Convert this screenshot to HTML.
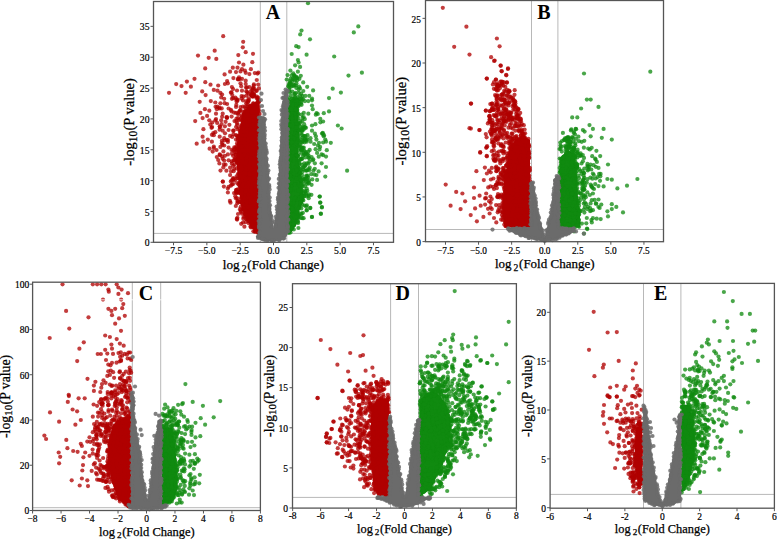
<!DOCTYPE html>
<html><head><meta charset="utf-8"><style>
html,body{margin:0;padding:0;background:#fff;}
svg{display:block;font-family:"Liberation Serif",serif;}
</style></head><body>
<svg width="777" height="539" viewBox="0 0 777 539">
<rect width="777" height="539" fill="#fff"/>
<line x1="153.5" y1="233.4" x2="393.5" y2="233.4" stroke="#b8b8b8" stroke-width="1"/>
<line x1="260.3" y1="1.5" x2="260.3" y2="242.3" stroke="#b8b8b8" stroke-width="1"/>
<line x1="286.8" y1="1.5" x2="286.8" y2="242.3" stroke="#b8b8b8" stroke-width="1"/>
<polygon points="250.0,105.0 259.5,100.0 259.5,233.5 256.9,233.5 251.0,227.0 246.0,219.0 243.0,210.0 240.7,204.0 239.4,191.0 238.0,178.0 236.8,165.0 236.8,152.0 238.0,139.0 240.7,126.0 242.0,113.0" fill="#b00000"/><g fill="rgba(176,0,0,0.76)"><circle cx="251.7" cy="106.1" r="2.1"/><circle cx="253.2" cy="103.3" r="2.1"/><circle cx="256.6" cy="103.3" r="2.1"/><circle cx="258.7" cy="100.4" r="2.1"/><circle cx="259.2" cy="101.3" r="2.1"/><circle cx="257.3" cy="102.7" r="2.1"/><circle cx="258.8" cy="107.1" r="2.1"/><circle cx="257.8" cy="109.9" r="2.1"/><circle cx="258.8" cy="110.5" r="2.1"/><circle cx="259.6" cy="113.9" r="2.1"/><circle cx="257.6" cy="117.7" r="2.1"/><circle cx="257.7" cy="119.6" r="2.1"/><circle cx="258.7" cy="122.4" r="2.1"/><circle cx="257.7" cy="125.0" r="2.1"/><circle cx="258.5" cy="126.9" r="2.1"/><circle cx="258.4" cy="129.1" r="2.1"/><circle cx="258.7" cy="133.2" r="2.1"/><circle cx="257.6" cy="134.3" r="2.1"/><circle cx="257.7" cy="138.7" r="2.1"/><circle cx="257.3" cy="139.7" r="2.1"/><circle cx="259.3" cy="143.2" r="2.1"/><circle cx="259.5" cy="145.3" r="2.1"/><circle cx="257.4" cy="149.2" r="2.1"/><circle cx="258.0" cy="152.1" r="2.1"/><circle cx="258.8" cy="153.7" r="2.1"/><circle cx="259.7" cy="156.7" r="2.1"/><circle cx="258.4" cy="157.7" r="2.1"/><circle cx="257.3" cy="161.1" r="2.1"/><circle cx="259.6" cy="164.6" r="2.1"/><circle cx="259.6" cy="167.0" r="2.1"/><circle cx="258.0" cy="170.6" r="2.1"/><circle cx="258.8" cy="172.7" r="2.1"/><circle cx="257.9" cy="173.4" r="2.1"/><circle cx="258.9" cy="177.7" r="2.1"/><circle cx="257.6" cy="179.1" r="2.1"/><circle cx="258.0" cy="182.0" r="2.1"/><circle cx="258.1" cy="186.1" r="2.1"/><circle cx="257.6" cy="186.7" r="2.1"/><circle cx="257.6" cy="191.5" r="2.1"/><circle cx="259.5" cy="193.4" r="2.1"/><circle cx="257.8" cy="194.5" r="2.1"/><circle cx="257.6" cy="197.2" r="2.1"/><circle cx="258.6" cy="200.1" r="2.1"/><circle cx="258.1" cy="202.7" r="2.1"/><circle cx="259.0" cy="206.4" r="2.1"/><circle cx="258.5" cy="208.6" r="2.1"/><circle cx="257.5" cy="211.6" r="2.1"/><circle cx="259.6" cy="213.7" r="2.1"/><circle cx="258.0" cy="217.6" r="2.1"/><circle cx="258.1" cy="218.2" r="2.1"/><circle cx="257.3" cy="220.5" r="2.1"/><circle cx="257.9" cy="223.7" r="2.1"/><circle cx="258.2" cy="226.6" r="2.1"/><circle cx="257.4" cy="229.7" r="2.1"/><circle cx="257.7" cy="232.1" r="2.1"/><circle cx="258.2" cy="232.9" r="2.1"/><circle cx="255.4" cy="231.7" r="2.1"/><circle cx="255.0" cy="230.6" r="2.1"/><circle cx="252.8" cy="227.3" r="2.1"/><circle cx="250.5" cy="226.6" r="2.1"/><circle cx="248.5" cy="223.1" r="2.1"/><circle cx="248.6" cy="219.1" r="2.1"/><circle cx="245.3" cy="216.5" r="2.1"/><circle cx="244.9" cy="213.9" r="2.1"/><circle cx="244.4" cy="210.2" r="2.1"/><circle cx="243.0" cy="208.6" r="2.1"/><circle cx="242.9" cy="206.1" r="2.1"/><circle cx="242.0" cy="203.2" r="2.1"/><circle cx="240.8" cy="198.9" r="2.1"/><circle cx="241.5" cy="196.9" r="2.1"/><circle cx="241.9" cy="194.6" r="2.1"/><circle cx="240.5" cy="193.5" r="2.1"/><circle cx="241.1" cy="190.4" r="2.1"/><circle cx="240.5" cy="186.4" r="2.1"/><circle cx="238.5" cy="184.4" r="2.1"/><circle cx="239.4" cy="182.9" r="2.1"/><circle cx="238.1" cy="178.2" r="2.1"/><circle cx="240.1" cy="177.3" r="2.1"/><circle cx="239.0" cy="174.1" r="2.1"/><circle cx="239.3" cy="170.8" r="2.1"/><circle cx="239.0" cy="168.0" r="2.1"/><circle cx="239.1" cy="166.5" r="2.1"/><circle cx="237.6" cy="162.7" r="2.1"/><circle cx="236.9" cy="161.9" r="2.1"/><circle cx="237.3" cy="159.4" r="2.1"/><circle cx="237.7" cy="156.7" r="2.1"/><circle cx="238.3" cy="153.6" r="2.1"/><circle cx="237.0" cy="150.2" r="2.1"/><circle cx="238.3" cy="149.3" r="2.1"/><circle cx="239.3" cy="145.2" r="2.1"/><circle cx="239.5" cy="142.8" r="2.1"/><circle cx="239.5" cy="141.5" r="2.1"/><circle cx="238.4" cy="136.5" r="2.1"/><circle cx="240.7" cy="136.2" r="2.1"/><circle cx="240.4" cy="133.5" r="2.1"/><circle cx="239.9" cy="131.1" r="2.1"/><circle cx="242.2" cy="128.2" r="2.1"/><circle cx="241.8" cy="125.6" r="2.1"/><circle cx="242.0" cy="121.0" r="2.1"/><circle cx="243.4" cy="120.7" r="2.1"/><circle cx="241.6" cy="117.0" r="2.1"/><circle cx="241.6" cy="115.5" r="2.1"/><circle cx="243.1" cy="112.0" r="2.1"/><circle cx="245.7" cy="111.0" r="2.1"/><circle cx="248.6" cy="108.9" r="2.1"/><circle cx="248.9" cy="107.2" r="2.1"/></g><g fill="rgba(176,0,0,0.76)"><circle cx="223.2" cy="36.2" r="2.1"/><circle cx="243.2" cy="41.8" r="2.1"/><circle cx="242.8" cy="47.3" r="2.1"/><circle cx="214.7" cy="50.7" r="2.1"/><circle cx="198.0" cy="55.6" r="2.1"/><circle cx="208.7" cy="57.8" r="2.1"/><circle cx="216.3" cy="58.9" r="2.1"/><circle cx="238.3" cy="55.1" r="2.1"/><circle cx="245.7" cy="52.2" r="2.1"/><circle cx="253.0" cy="53.8" r="2.1"/><circle cx="186.9" cy="81.6" r="2.1"/><circle cx="176.2" cy="84.1" r="2.1"/><circle cx="181.5" cy="86.1" r="2.1"/><circle cx="190.9" cy="86.7" r="2.1"/><circle cx="169.0" cy="92.8" r="2.1"/><circle cx="185.7" cy="92.8" r="2.1"/><circle cx="239.0" cy="62.5" r="2.1"/><circle cx="243.4" cy="64.7" r="2.1"/><circle cx="252.3" cy="62.2" r="2.1"/><circle cx="205.2" cy="68.4" r="2.1"/><circle cx="232.8" cy="67.7" r="2.1"/><circle cx="237.5" cy="67.7" r="2.1"/><circle cx="242.0" cy="69.2" r="2.1"/><circle cx="244.9" cy="70.6" r="2.1"/><circle cx="250.9" cy="69.2" r="2.1"/><circle cx="230.1" cy="71.7" r="2.1"/><circle cx="236.0" cy="72.1" r="2.1"/><circle cx="240.5" cy="71.4" r="2.1"/><circle cx="258.3" cy="72.6" r="2.1"/><circle cx="224.6" cy="74.4" r="2.1"/><circle cx="249.4" cy="74.1" r="2.1"/><circle cx="194.5" cy="78.8" r="2.1"/><circle cx="233.4" cy="78.1" r="2.1"/><circle cx="239.0" cy="77.3" r="2.1"/><circle cx="242.0" cy="78.8" r="2.1"/><circle cx="227.1" cy="81.0" r="2.1"/><circle cx="224.9" cy="84.0" r="2.1"/><circle cx="227.9" cy="83.3" r="2.1"/><circle cx="205.3" cy="82.2" r="2.1"/><circle cx="210.5" cy="84.7" r="2.1"/><circle cx="218.2" cy="85.5" r="2.1"/><circle cx="240.5" cy="83.3" r="2.1"/><circle cx="245.7" cy="84.0" r="2.1"/><circle cx="256.8" cy="80.0" r="2.1"/><circle cx="253.8" cy="85.5" r="2.1"/><circle cx="249.4" cy="87.0" r="2.1"/><circle cx="241.2" cy="86.2" r="2.1"/><circle cx="213.8" cy="89.9" r="2.1"/><circle cx="217.5" cy="90.7" r="2.1"/><circle cx="220.4" cy="92.9" r="2.1"/><circle cx="202.2" cy="91.4" r="2.1"/><circle cx="205.6" cy="95.1" r="2.1"/><circle cx="232.3" cy="95.1" r="2.1"/><circle cx="242.0" cy="90.7" r="2.1"/><circle cx="247.2" cy="92.2" r="2.1"/><circle cx="252.3" cy="89.9" r="2.1"/><circle cx="256.8" cy="90.7" r="2.1"/><circle cx="224.2" cy="98.8" r="2.1"/><circle cx="221.2" cy="97.4" r="2.1"/><circle cx="233.1" cy="98.1" r="2.1"/><circle cx="237.5" cy="99.6" r="2.1"/><circle cx="199.7" cy="101.8" r="2.1"/><circle cx="210.8" cy="101.1" r="2.1"/><circle cx="215.3" cy="102.5" r="2.1"/><circle cx="220.4" cy="103.3" r="2.1"/><circle cx="227.1" cy="104.0" r="2.1"/><circle cx="243.4" cy="96.6" r="2.1"/><circle cx="246.4" cy="101.1" r="2.1"/><circle cx="252.3" cy="96.6" r="2.1"/><circle cx="256.8" cy="96.6" r="2.1"/><circle cx="258.3" cy="101.1" r="2.1"/><circle cx="204.9" cy="109.2" r="2.1"/><circle cx="209.3" cy="110.7" r="2.1"/><circle cx="219.7" cy="108.5" r="2.1"/><circle cx="228.6" cy="108.5" r="2.1"/><circle cx="236.0" cy="107.0" r="2.1"/><circle cx="240.5" cy="107.0" r="2.1"/><circle cx="244.9" cy="107.0" r="2.1"/><circle cx="200.4" cy="112.9" r="2.1"/><circle cx="202.6" cy="118.1" r="2.1"/><circle cx="207.1" cy="115.9" r="2.1"/><circle cx="216.0" cy="113.7" r="2.1"/><circle cx="222.7" cy="113.7" r="2.1"/><circle cx="231.6" cy="111.4" r="2.1"/><circle cx="236.0" cy="112.9" r="2.1"/><circle cx="195.2" cy="121.1" r="2.1"/><circle cx="209.3" cy="120.3" r="2.1"/><circle cx="212.3" cy="122.6" r="2.1"/><circle cx="221.2" cy="120.3" r="2.1"/><circle cx="227.1" cy="117.4" r="2.1"/><circle cx="231.6" cy="116.6" r="2.1"/><circle cx="234.5" cy="121.1" r="2.1"/><circle cx="225.6" cy="121.8" r="2.1"/><circle cx="203.4" cy="129.2" r="2.1"/><circle cx="211.5" cy="127.8" r="2.1"/><circle cx="219.7" cy="126.3" r="2.1"/><circle cx="224.9" cy="126.3" r="2.1"/><circle cx="229.4" cy="124.8" r="2.1"/><circle cx="236.0" cy="127.0" r="2.1"/><circle cx="215.3" cy="132.2" r="2.1"/><circle cx="222.7" cy="130.7" r="2.1"/><circle cx="228.6" cy="130.0" r="2.1"/><circle cx="233.1" cy="130.7" r="2.1"/><circle cx="237.5" cy="129.2" r="2.1"/><circle cx="202.6" cy="136.7" r="2.1"/><circle cx="213.8" cy="135.2" r="2.1"/><circle cx="219.7" cy="136.7" r="2.1"/><circle cx="224.2" cy="138.2" r="2.1"/><circle cx="230.1" cy="135.9" r="2.1"/><circle cx="236.0" cy="135.2" r="2.1"/><circle cx="240.5" cy="132.2" r="2.1"/><circle cx="207.8" cy="139.6" r="2.1"/><circle cx="196.7" cy="143.7" r="2.1"/><circle cx="203.4" cy="141.7" r="2.1"/><circle cx="209.6" cy="148.7" r="2.1"/><circle cx="218.2" cy="160.0" r="2.1"/><circle cx="219.7" cy="154.4" r="2.1"/><circle cx="220.4" cy="146.9" r="2.1"/><circle cx="221.9" cy="143.2" r="2.1"/><circle cx="223.4" cy="151.4" r="2.1"/><circle cx="224.9" cy="155.8" r="2.1"/><circle cx="225.6" cy="164.7" r="2.1"/><circle cx="226.4" cy="170.7" r="2.1"/><circle cx="228.6" cy="160.3" r="2.1"/><circle cx="230.1" cy="167.7" r="2.1"/><circle cx="231.6" cy="180.3" r="2.1"/><circle cx="233.1" cy="184.0" r="2.1"/><circle cx="230.1" cy="175.1" r="2.1"/><circle cx="236.0" cy="190.0" r="2.1"/><circle cx="237.5" cy="201.1" r="2.1"/><circle cx="240.5" cy="210.7" r="2.1"/><circle cx="242.0" cy="213.7" r="2.1"/><circle cx="236.8" cy="218.9" r="2.1"/><circle cx="246.4" cy="218.9" r="2.1"/><circle cx="222.7" cy="158.8" r="2.1"/><circle cx="227.9" cy="154.4" r="2.1"/><circle cx="231.6" cy="149.9" r="2.1"/><circle cx="233.1" cy="155.8" r="2.1"/><circle cx="234.5" cy="164.7" r="2.1"/><circle cx="224.2" cy="145.5" r="2.1"/><circle cx="232.0" cy="184.6" r="2.1"/><circle cx="236.7" cy="189.9" r="2.1"/><circle cx="237.9" cy="201.8" r="2.1"/><circle cx="240.9" cy="211.9" r="2.1"/><circle cx="244.5" cy="213.6" r="2.1"/><circle cx="237.1" cy="219.6" r="2.1"/><circle cx="246.6" cy="219.2" r="2.1"/><circle cx="230.8" cy="181.6" r="2.1"/><circle cx="243.9" cy="167.8" r="2.1"/><circle cx="257.3" cy="153.9" r="2.1"/><circle cx="245.5" cy="171.9" r="2.1"/><circle cx="236.3" cy="160.8" r="2.1"/><circle cx="249.0" cy="202.4" r="2.1"/><circle cx="250.8" cy="91.2" r="2.1"/><circle cx="259.0" cy="227.8" r="2.1"/><circle cx="249.6" cy="176.1" r="2.1"/><circle cx="236.4" cy="120.8" r="2.1"/><circle cx="231.9" cy="153.7" r="2.1"/><circle cx="243.6" cy="209.7" r="2.1"/><circle cx="245.8" cy="179.8" r="2.1"/><circle cx="245.2" cy="183.0" r="2.1"/><circle cx="244.0" cy="126.2" r="2.1"/><circle cx="259.4" cy="232.4" r="2.1"/><circle cx="254.9" cy="189.8" r="2.1"/><circle cx="240.0" cy="119.0" r="2.1"/><circle cx="252.8" cy="144.3" r="2.1"/><circle cx="255.1" cy="142.2" r="2.1"/><circle cx="258.3" cy="210.4" r="2.1"/><circle cx="256.9" cy="154.6" r="2.1"/><circle cx="258.9" cy="143.8" r="2.1"/><circle cx="233.1" cy="178.2" r="2.1"/><circle cx="253.2" cy="124.9" r="2.1"/><circle cx="233.5" cy="134.2" r="2.1"/><circle cx="258.5" cy="197.2" r="2.1"/><circle cx="253.7" cy="111.3" r="2.1"/><circle cx="246.9" cy="151.2" r="2.1"/><circle cx="236.4" cy="193.3" r="2.1"/><circle cx="234.7" cy="180.3" r="2.1"/><circle cx="234.3" cy="147.3" r="2.1"/><circle cx="237.1" cy="124.9" r="2.1"/><circle cx="258.7" cy="203.9" r="2.1"/><circle cx="237.0" cy="143.4" r="2.1"/><circle cx="255.3" cy="180.0" r="2.1"/><circle cx="237.1" cy="123.2" r="2.1"/><circle cx="253.0" cy="133.7" r="2.1"/><circle cx="233.6" cy="171.2" r="2.1"/><circle cx="237.9" cy="174.0" r="2.1"/><circle cx="241.6" cy="152.1" r="2.1"/><circle cx="258.3" cy="156.6" r="2.1"/><circle cx="247.4" cy="213.2" r="2.1"/><circle cx="256.9" cy="206.0" r="2.1"/><circle cx="238.1" cy="113.1" r="2.1"/><circle cx="252.1" cy="224.2" r="2.1"/><circle cx="256.1" cy="174.3" r="2.1"/><circle cx="243.0" cy="100.4" r="2.1"/><circle cx="237.8" cy="189.3" r="2.1"/><circle cx="248.0" cy="128.4" r="2.1"/><circle cx="236.0" cy="191.6" r="2.1"/><circle cx="246.9" cy="211.2" r="2.1"/><circle cx="248.5" cy="126.5" r="2.1"/><circle cx="257.1" cy="115.2" r="2.1"/><circle cx="236.0" cy="139.6" r="2.1"/><circle cx="247.3" cy="104.5" r="2.1"/><circle cx="258.9" cy="182.2" r="2.1"/><circle cx="250.7" cy="171.5" r="2.1"/><circle cx="251.0" cy="227.5" r="2.1"/><circle cx="244.7" cy="193.1" r="2.1"/><circle cx="233.1" cy="165.8" r="2.1"/><circle cx="252.0" cy="218.2" r="2.1"/><circle cx="252.0" cy="189.1" r="2.1"/><circle cx="253.6" cy="220.4" r="2.1"/><circle cx="241.0" cy="186.4" r="2.1"/><circle cx="256.7" cy="213.9" r="2.1"/><circle cx="242.9" cy="202.0" r="2.1"/><circle cx="255.6" cy="169.8" r="2.1"/><circle cx="248.8" cy="141.6" r="2.1"/><circle cx="247.6" cy="175.1" r="2.1"/><circle cx="233.3" cy="179.6" r="2.1"/><circle cx="259.3" cy="215.2" r="2.1"/><circle cx="251.8" cy="142.5" r="2.1"/><circle cx="251.9" cy="171.0" r="2.1"/><circle cx="243.6" cy="209.1" r="2.1"/><circle cx="244.7" cy="119.1" r="2.1"/><circle cx="250.9" cy="158.6" r="2.1"/><circle cx="248.5" cy="221.2" r="2.1"/><circle cx="239.6" cy="185.4" r="2.1"/><circle cx="256.8" cy="182.7" r="2.1"/><circle cx="243.6" cy="217.0" r="2.1"/><circle cx="240.3" cy="183.6" r="2.1"/><circle cx="236.7" cy="148.8" r="2.1"/><circle cx="254.0" cy="220.3" r="2.1"/><circle cx="256.1" cy="141.9" r="2.1"/><circle cx="247.6" cy="131.8" r="2.1"/><circle cx="234.9" cy="158.5" r="2.1"/><circle cx="254.9" cy="210.6" r="2.1"/><circle cx="251.3" cy="225.6" r="2.1"/><circle cx="243.8" cy="125.7" r="2.1"/><circle cx="237.1" cy="146.3" r="2.1"/><circle cx="248.8" cy="158.1" r="2.1"/><circle cx="240.0" cy="209.2" r="2.1"/><circle cx="259.0" cy="152.0" r="2.1"/><circle cx="255.9" cy="91.1" r="2.1"/><circle cx="251.2" cy="169.4" r="2.1"/><circle cx="239.8" cy="202.1" r="2.1"/><circle cx="254.6" cy="120.1" r="2.1"/><circle cx="248.9" cy="151.1" r="2.1"/><circle cx="249.0" cy="181.9" r="2.1"/><circle cx="254.0" cy="226.9" r="2.1"/><circle cx="250.5" cy="114.5" r="2.1"/><circle cx="244.5" cy="111.4" r="2.1"/><circle cx="251.4" cy="111.5" r="2.1"/><circle cx="238.8" cy="136.2" r="2.1"/><circle cx="250.9" cy="162.0" r="2.1"/><circle cx="248.5" cy="196.9" r="2.1"/><circle cx="242.2" cy="202.2" r="2.1"/><circle cx="256.8" cy="97.9" r="2.1"/><circle cx="257.6" cy="191.9" r="2.1"/><circle cx="234.7" cy="152.1" r="2.1"/><circle cx="248.8" cy="219.7" r="2.1"/><circle cx="241.7" cy="169.2" r="2.1"/><circle cx="256.1" cy="202.9" r="2.1"/><circle cx="257.9" cy="153.6" r="2.1"/><circle cx="249.6" cy="115.3" r="2.1"/><circle cx="251.6" cy="206.1" r="2.1"/><circle cx="249.3" cy="191.2" r="2.1"/><circle cx="258.9" cy="229.6" r="2.1"/><circle cx="246.3" cy="202.0" r="2.1"/><circle cx="255.4" cy="136.6" r="2.1"/><circle cx="233.4" cy="150.3" r="2.1"/><circle cx="246.7" cy="198.7" r="2.1"/><circle cx="254.1" cy="94.5" r="2.1"/><circle cx="253.8" cy="110.6" r="2.1"/><circle cx="240.5" cy="201.6" r="2.1"/><circle cx="245.7" cy="192.1" r="2.1"/><circle cx="254.9" cy="187.0" r="2.1"/><circle cx="258.0" cy="157.9" r="2.1"/><circle cx="258.1" cy="97.7" r="2.1"/><circle cx="237.3" cy="162.9" r="2.1"/><circle cx="239.3" cy="192.9" r="2.1"/><circle cx="249.2" cy="162.4" r="2.1"/><circle cx="255.0" cy="167.9" r="2.1"/><circle cx="239.9" cy="141.4" r="2.1"/><circle cx="255.1" cy="218.3" r="2.1"/><circle cx="258.6" cy="162.6" r="2.1"/><circle cx="247.3" cy="114.7" r="2.1"/><circle cx="246.3" cy="159.5" r="2.1"/><circle cx="258.6" cy="161.4" r="2.1"/><circle cx="242.4" cy="203.6" r="2.1"/><circle cx="247.0" cy="157.7" r="2.1"/><circle cx="250.7" cy="94.8" r="2.1"/><circle cx="246.4" cy="146.2" r="2.1"/><circle cx="258.3" cy="221.7" r="2.1"/><circle cx="238.7" cy="155.0" r="2.1"/><circle cx="234.6" cy="149.2" r="2.1"/><circle cx="254.2" cy="218.3" r="2.1"/><circle cx="244.6" cy="131.9" r="2.1"/><circle cx="236.5" cy="176.4" r="2.1"/><circle cx="257.4" cy="104.2" r="2.1"/><circle cx="253.2" cy="88.4" r="2.1"/><circle cx="236.5" cy="118.6" r="2.1"/><circle cx="250.6" cy="132.7" r="2.1"/><circle cx="241.1" cy="176.7" r="2.1"/><circle cx="234.5" cy="160.5" r="2.1"/><circle cx="238.1" cy="114.3" r="2.1"/><circle cx="246.1" cy="149.6" r="2.1"/><circle cx="241.7" cy="146.2" r="2.1"/><circle cx="246.1" cy="108.6" r="2.1"/><circle cx="236.8" cy="178.4" r="2.1"/><circle cx="249.2" cy="163.4" r="2.1"/><circle cx="255.3" cy="175.5" r="2.1"/><circle cx="255.4" cy="119.4" r="2.1"/><circle cx="252.1" cy="205.0" r="2.1"/><circle cx="256.7" cy="131.7" r="2.1"/><circle cx="256.3" cy="104.8" r="2.1"/><circle cx="237.8" cy="192.5" r="2.1"/><circle cx="254.7" cy="147.4" r="2.1"/><circle cx="253.5" cy="103.6" r="2.1"/><circle cx="242.5" cy="186.4" r="2.1"/><circle cx="250.4" cy="219.9" r="2.1"/><circle cx="258.6" cy="102.1" r="2.1"/><circle cx="245.4" cy="197.2" r="2.1"/><circle cx="245.3" cy="186.5" r="2.1"/><circle cx="246.7" cy="161.2" r="2.1"/><circle cx="247.2" cy="106.7" r="2.1"/><circle cx="254.9" cy="231.6" r="2.1"/><circle cx="257.4" cy="99.1" r="2.1"/><circle cx="244.2" cy="198.2" r="2.1"/><circle cx="240.3" cy="154.1" r="2.1"/><circle cx="245.7" cy="148.7" r="2.1"/><circle cx="251.0" cy="210.0" r="2.1"/><circle cx="236.2" cy="152.2" r="2.1"/><circle cx="252.1" cy="145.0" r="2.1"/><circle cx="256.5" cy="203.7" r="2.1"/><circle cx="251.1" cy="212.4" r="2.1"/><circle cx="248.9" cy="144.9" r="2.1"/><circle cx="248.1" cy="159.6" r="2.1"/><circle cx="259.0" cy="204.1" r="2.1"/><circle cx="252.2" cy="200.1" r="2.1"/><circle cx="254.2" cy="145.0" r="2.1"/><circle cx="256.6" cy="215.2" r="2.1"/><circle cx="250.8" cy="198.6" r="2.1"/><circle cx="252.8" cy="145.1" r="2.1"/><circle cx="251.6" cy="95.4" r="2.1"/><circle cx="240.7" cy="154.4" r="2.1"/><circle cx="249.2" cy="177.4" r="2.1"/><circle cx="250.0" cy="135.0" r="2.1"/><circle cx="249.8" cy="169.3" r="2.1"/><circle cx="246.2" cy="142.7" r="2.1"/><circle cx="259.5" cy="180.1" r="2.1"/><circle cx="251.0" cy="197.7" r="2.1"/><circle cx="258.9" cy="88.4" r="2.1"/><circle cx="248.5" cy="194.3" r="2.1"/><circle cx="238.3" cy="144.4" r="2.1"/><circle cx="246.7" cy="160.2" r="2.1"/><circle cx="258.6" cy="169.1" r="2.1"/><circle cx="259.4" cy="179.4" r="2.1"/><circle cx="254.1" cy="96.3" r="2.1"/><circle cx="248.0" cy="197.4" r="2.1"/><circle cx="235.6" cy="154.8" r="2.1"/><circle cx="235.8" cy="158.3" r="2.1"/><circle cx="248.4" cy="93.7" r="2.1"/><circle cx="257.9" cy="147.3" r="2.1"/><circle cx="246.0" cy="173.5" r="2.1"/><circle cx="241.4" cy="127.3" r="2.1"/><circle cx="249.7" cy="168.0" r="2.1"/><circle cx="239.1" cy="191.1" r="2.1"/><circle cx="252.3" cy="92.4" r="2.1"/><circle cx="259.2" cy="224.8" r="2.1"/><circle cx="243.2" cy="155.7" r="2.1"/><circle cx="258.7" cy="121.1" r="2.1"/><circle cx="251.6" cy="154.3" r="2.1"/><circle cx="258.9" cy="205.9" r="2.1"/><circle cx="248.2" cy="102.0" r="2.1"/><circle cx="248.8" cy="152.4" r="2.1"/><circle cx="246.1" cy="103.4" r="2.1"/><circle cx="243.6" cy="183.8" r="2.1"/><circle cx="244.0" cy="123.8" r="2.1"/><circle cx="247.6" cy="147.1" r="2.1"/><circle cx="253.2" cy="163.6" r="2.1"/><circle cx="259.4" cy="226.0" r="2.1"/><circle cx="251.9" cy="120.3" r="2.1"/><circle cx="253.4" cy="177.5" r="2.1"/><circle cx="241.2" cy="125.2" r="2.1"/><circle cx="250.5" cy="168.6" r="2.1"/><circle cx="247.9" cy="178.7" r="2.1"/><circle cx="252.5" cy="113.1" r="2.1"/><circle cx="257.1" cy="215.1" r="2.1"/><circle cx="238.7" cy="147.9" r="2.1"/><circle cx="248.8" cy="100.2" r="2.1"/><circle cx="246.4" cy="95.7" r="2.1"/><circle cx="246.7" cy="178.4" r="2.1"/><circle cx="241.6" cy="155.8" r="2.1"/><circle cx="237.0" cy="135.9" r="2.1"/><circle cx="252.2" cy="209.1" r="2.1"/><circle cx="254.1" cy="177.3" r="2.1"/><circle cx="252.9" cy="116.5" r="2.1"/><circle cx="243.1" cy="123.2" r="2.1"/><circle cx="254.1" cy="139.6" r="2.1"/><circle cx="240.3" cy="166.2" r="2.1"/><circle cx="252.3" cy="221.3" r="2.1"/><circle cx="243.2" cy="139.7" r="2.1"/><circle cx="247.1" cy="156.8" r="2.1"/><circle cx="250.5" cy="129.2" r="2.1"/><circle cx="253.1" cy="96.3" r="2.1"/><circle cx="237.1" cy="183.0" r="2.1"/><circle cx="251.7" cy="187.7" r="2.1"/><circle cx="241.2" cy="192.4" r="2.1"/><circle cx="251.2" cy="169.3" r="2.1"/><circle cx="257.2" cy="224.1" r="2.1"/><circle cx="257.0" cy="149.8" r="2.1"/><circle cx="253.9" cy="130.1" r="2.1"/><circle cx="240.1" cy="144.1" r="2.1"/><circle cx="257.6" cy="217.4" r="2.1"/><circle cx="238.1" cy="138.5" r="2.1"/><circle cx="241.4" cy="138.8" r="2.1"/><circle cx="242.3" cy="142.4" r="2.1"/><circle cx="236.6" cy="168.4" r="2.1"/><circle cx="253.7" cy="165.0" r="2.1"/><circle cx="254.8" cy="168.3" r="2.1"/><circle cx="256.1" cy="126.7" r="2.1"/><circle cx="231.6" cy="161.3" r="2.1"/><circle cx="246.5" cy="169.0" r="2.1"/><circle cx="258.5" cy="181.4" r="2.1"/><circle cx="253.9" cy="94.5" r="2.1"/><circle cx="246.6" cy="201.6" r="2.1"/><circle cx="252.0" cy="218.1" r="2.1"/><circle cx="233.4" cy="178.9" r="2.1"/><circle cx="249.5" cy="121.3" r="2.1"/><circle cx="237.3" cy="198.3" r="2.1"/><circle cx="245.9" cy="198.2" r="2.1"/><circle cx="242.2" cy="135.0" r="2.1"/><circle cx="258.6" cy="184.5" r="2.1"/><circle cx="245.1" cy="164.5" r="2.1"/><circle cx="251.5" cy="189.8" r="2.1"/><circle cx="257.1" cy="145.8" r="2.1"/><circle cx="254.5" cy="183.7" r="2.1"/><circle cx="255.3" cy="204.3" r="2.1"/><circle cx="254.8" cy="216.5" r="2.1"/><circle cx="258.3" cy="179.8" r="2.1"/><circle cx="245.9" cy="190.1" r="2.1"/><circle cx="253.9" cy="147.4" r="2.1"/><circle cx="243.0" cy="106.6" r="2.1"/><circle cx="222.8" cy="181.7" r="2.1"/><circle cx="243.9" cy="208.4" r="2.1"/><circle cx="219.2" cy="107.6" r="2.1"/><circle cx="217.3" cy="106.7" r="2.1"/><circle cx="246.3" cy="91.2" r="2.1"/><circle cx="236.3" cy="104.9" r="2.1"/><circle cx="224.6" cy="140.3" r="2.1"/><circle cx="251.5" cy="169.2" r="2.1"/><circle cx="250.1" cy="201.4" r="2.1"/><circle cx="250.9" cy="191.4" r="2.1"/><circle cx="257.0" cy="199.4" r="2.1"/><circle cx="234.1" cy="193.1" r="2.1"/><circle cx="237.9" cy="140.0" r="2.1"/><circle cx="228.0" cy="140.1" r="2.1"/><circle cx="250.6" cy="200.1" r="2.1"/><circle cx="258.8" cy="182.6" r="2.1"/><circle cx="237.4" cy="192.0" r="2.1"/><circle cx="231.9" cy="98.8" r="2.1"/><circle cx="220.0" cy="155.2" r="2.1"/><circle cx="222.5" cy="144.9" r="2.1"/><circle cx="240.0" cy="134.5" r="2.1"/><circle cx="216.5" cy="150.0" r="2.1"/><circle cx="221.7" cy="108.4" r="2.1"/><circle cx="219.6" cy="129.7" r="2.1"/><circle cx="257.2" cy="133.5" r="2.1"/><circle cx="245.6" cy="222.1" r="2.1"/><circle cx="249.9" cy="206.6" r="2.1"/><circle cx="241.6" cy="96.0" r="2.1"/><circle cx="253.9" cy="200.9" r="2.1"/><circle cx="228.6" cy="186.8" r="2.1"/><circle cx="239.9" cy="187.8" r="2.1"/><circle cx="220.5" cy="170.6" r="2.1"/><circle cx="238.8" cy="166.4" r="2.1"/><circle cx="227.8" cy="188.6" r="2.1"/><circle cx="226.9" cy="118.1" r="2.1"/><circle cx="215.6" cy="106.8" r="2.1"/><circle cx="237.5" cy="158.6" r="2.1"/><circle cx="211.9" cy="141.7" r="2.1"/><circle cx="216.0" cy="119.1" r="2.1"/><circle cx="223.3" cy="167.4" r="2.1"/><circle cx="213.8" cy="146.6" r="2.1"/><circle cx="210.3" cy="124.6" r="2.1"/><circle cx="235.6" cy="147.3" r="2.1"/><circle cx="243.1" cy="118.3" r="2.1"/><circle cx="255.1" cy="190.4" r="2.1"/><circle cx="222.8" cy="181.5" r="2.1"/><circle cx="252.0" cy="112.1" r="2.1"/><circle cx="239.1" cy="128.0" r="2.1"/><circle cx="222.1" cy="116.8" r="2.1"/><circle cx="220.1" cy="127.2" r="2.1"/><circle cx="211.9" cy="134.8" r="2.1"/><circle cx="248.3" cy="101.0" r="2.1"/><circle cx="233.8" cy="160.4" r="2.1"/><circle cx="226.5" cy="117.2" r="2.1"/><circle cx="231.5" cy="92.3" r="2.1"/><circle cx="252.7" cy="88.2" r="2.1"/><circle cx="250.8" cy="105.6" r="2.1"/><circle cx="225.0" cy="133.3" r="2.1"/><circle cx="227.9" cy="142.0" r="2.1"/><circle cx="253.4" cy="231.3" r="2.1"/><circle cx="237.0" cy="90.5" r="2.1"/><circle cx="253.0" cy="94.4" r="2.1"/><circle cx="233.7" cy="130.6" r="2.1"/><circle cx="243.0" cy="222.5" r="2.1"/><circle cx="231.8" cy="163.4" r="2.1"/><circle cx="240.7" cy="206.9" r="2.1"/><circle cx="254.4" cy="88.8" r="2.1"/><circle cx="216.8" cy="157.0" r="2.1"/><circle cx="250.2" cy="157.0" r="2.1"/><circle cx="246.0" cy="87.5" r="2.1"/><circle cx="245.4" cy="211.2" r="2.1"/><circle cx="259.5" cy="201.9" r="2.1"/><circle cx="231.0" cy="171.4" r="2.1"/><circle cx="251.2" cy="186.7" r="2.1"/><circle cx="215.4" cy="120.3" r="2.1"/><circle cx="259.3" cy="146.8" r="2.1"/><circle cx="252.2" cy="137.8" r="2.1"/><circle cx="259.2" cy="194.2" r="2.1"/><circle cx="234.0" cy="112.6" r="2.1"/><circle cx="236.6" cy="101.6" r="2.1"/><circle cx="228.6" cy="147.6" r="2.1"/><circle cx="219.4" cy="163.4" r="2.1"/><circle cx="239.1" cy="120.1" r="2.1"/><circle cx="253.8" cy="151.0" r="2.1"/><circle cx="235.8" cy="206.0" r="2.1"/><circle cx="242.1" cy="139.8" r="2.1"/><circle cx="257.5" cy="73.6" r="2.1"/><circle cx="252.7" cy="93.4" r="2.1"/><circle cx="251.6" cy="95.1" r="2.1"/><circle cx="212.7" cy="151.6" r="2.1"/><circle cx="255.8" cy="112.0" r="2.1"/><circle cx="234.1" cy="169.1" r="2.1"/><circle cx="222.1" cy="156.4" r="2.1"/><circle cx="247.6" cy="125.4" r="2.1"/><circle cx="244.7" cy="139.6" r="2.1"/><circle cx="255.2" cy="190.7" r="2.1"/><circle cx="256.1" cy="203.2" r="2.1"/><circle cx="251.1" cy="181.1" r="2.1"/><circle cx="245.7" cy="178.8" r="2.1"/><circle cx="239.2" cy="111.9" r="2.1"/><circle cx="239.5" cy="79.2" r="2.1"/><circle cx="241.8" cy="169.4" r="2.1"/><circle cx="235.3" cy="196.3" r="2.1"/><circle cx="253.4" cy="132.1" r="2.1"/><circle cx="250.3" cy="151.4" r="2.1"/><circle cx="238.3" cy="137.5" r="2.1"/><circle cx="256.2" cy="142.4" r="2.1"/><circle cx="257.1" cy="125.1" r="2.1"/><circle cx="243.3" cy="218.8" r="2.1"/><circle cx="243.8" cy="131.2" r="2.1"/><circle cx="213.8" cy="148.0" r="2.1"/><circle cx="230.5" cy="202.7" r="2.1"/><circle cx="232.2" cy="136.9" r="2.1"/><circle cx="237.9" cy="192.2" r="2.1"/><circle cx="217.2" cy="122.9" r="2.1"/><circle cx="224.6" cy="103.2" r="2.1"/><circle cx="258.2" cy="84.5" r="2.1"/><circle cx="213.3" cy="133.0" r="2.1"/><circle cx="238.0" cy="214.0" r="2.1"/><circle cx="242.6" cy="185.5" r="2.1"/><circle cx="244.7" cy="199.9" r="2.1"/><circle cx="252.2" cy="95.3" r="2.1"/><circle cx="235.7" cy="154.9" r="2.1"/><circle cx="248.7" cy="98.4" r="2.1"/><circle cx="245.0" cy="139.5" r="2.1"/><circle cx="230.9" cy="109.9" r="2.1"/><circle cx="223.9" cy="164.4" r="2.1"/><circle cx="237.4" cy="217.8" r="2.1"/><circle cx="223.9" cy="186.6" r="2.1"/><circle cx="257.8" cy="111.5" r="2.1"/><circle cx="250.0" cy="105.8" r="2.1"/><circle cx="231.9" cy="87.0" r="2.1"/><circle cx="244.9" cy="163.8" r="2.1"/><circle cx="230.8" cy="185.7" r="2.1"/><circle cx="221.6" cy="124.1" r="2.1"/><circle cx="253.9" cy="84.4" r="2.1"/><circle cx="250.5" cy="142.9" r="2.1"/><circle cx="230.9" cy="92.7" r="2.1"/><circle cx="222.1" cy="94.6" r="2.1"/><circle cx="254.8" cy="73.1" r="2.1"/><circle cx="227.9" cy="192.5" r="2.1"/><circle cx="247.0" cy="87.4" r="2.1"/><circle cx="246.7" cy="161.8" r="2.1"/><circle cx="241.2" cy="223.8" r="2.1"/><circle cx="249.5" cy="167.7" r="2.1"/><circle cx="248.1" cy="150.2" r="2.1"/><circle cx="237.3" cy="203.2" r="2.1"/><circle cx="240.7" cy="131.4" r="2.1"/><circle cx="226.8" cy="139.9" r="2.1"/><circle cx="224.2" cy="160.5" r="2.1"/><circle cx="239.4" cy="161.0" r="2.1"/><circle cx="248.8" cy="141.8" r="2.1"/><circle cx="236.6" cy="192.3" r="2.1"/><circle cx="245.8" cy="191.2" r="2.1"/><circle cx="254.1" cy="161.0" r="2.1"/><circle cx="237.5" cy="100.7" r="2.1"/><circle cx="221.9" cy="140.8" r="2.1"/><circle cx="212.1" cy="127.0" r="2.1"/><circle cx="246.6" cy="144.8" r="2.1"/><circle cx="252.0" cy="96.1" r="2.1"/><circle cx="248.2" cy="140.3" r="2.1"/><circle cx="238.1" cy="79.3" r="2.1"/><circle cx="229.9" cy="200.9" r="2.1"/><circle cx="246.4" cy="161.9" r="2.1"/><circle cx="244.6" cy="142.8" r="2.1"/><circle cx="245.8" cy="169.7" r="2.1"/><circle cx="239.0" cy="143.0" r="2.1"/><circle cx="256.3" cy="153.5" r="2.1"/><circle cx="249.5" cy="174.2" r="2.1"/><circle cx="253.1" cy="145.9" r="2.1"/><circle cx="245.7" cy="72.8" r="2.1"/><circle cx="238.0" cy="118.1" r="2.1"/><circle cx="244.4" cy="226.7" r="2.1"/><circle cx="243.0" cy="150.5" r="2.1"/><circle cx="239.9" cy="110.5" r="2.1"/><circle cx="233.1" cy="89.0" r="2.1"/><circle cx="245.7" cy="80.7" r="2.1"/><circle cx="236.1" cy="99.3" r="2.1"/><circle cx="237.9" cy="79.2" r="2.1"/><circle cx="245.6" cy="214.8" r="2.1"/><circle cx="241.5" cy="98.6" r="2.1"/><circle cx="216.9" cy="109.2" r="2.1"/><circle cx="235.9" cy="198.3" r="2.1"/><circle cx="245.2" cy="163.2" r="2.1"/><circle cx="235.4" cy="97.6" r="2.1"/><circle cx="240.6" cy="110.0" r="2.1"/></g><polygon points="287.9,100.0 298.0,98.0 298.6,105.0 298.6,120.3 299.4,141.0 297.8,155.8 300.8,170.7 302.3,185.5 303.6,195.0 304.6,200.1 301.5,205.3 299.5,210.4 299.5,215.6 297.4,220.7 295.4,225.9 292.3,231.0 289.2,234.1 287.9,234.1" fill="#108a10"/><g fill="rgba(16,138,16,0.76)"><circle cx="288.9" cy="101.6" r="2.1"/><circle cx="292.9" cy="100.9" r="2.1"/><circle cx="297.5" cy="99.3" r="2.1"/><circle cx="298.3" cy="99.9" r="2.1"/><circle cx="296.8" cy="104.8" r="2.1"/><circle cx="298.6" cy="106.1" r="2.1"/><circle cx="297.2" cy="109.4" r="2.1"/><circle cx="298.2" cy="113.6" r="2.1"/><circle cx="298.2" cy="115.1" r="2.1"/><circle cx="298.3" cy="118.5" r="2.1"/><circle cx="298.3" cy="122.9" r="2.1"/><circle cx="298.8" cy="124.9" r="2.1"/><circle cx="298.9" cy="128.4" r="2.1"/><circle cx="297.9" cy="129.4" r="2.1"/><circle cx="297.9" cy="134.9" r="2.1"/><circle cx="298.4" cy="137.3" r="2.1"/><circle cx="299.0" cy="140.9" r="2.1"/><circle cx="298.2" cy="140.9" r="2.1"/><circle cx="298.6" cy="145.4" r="2.1"/><circle cx="297.5" cy="147.0" r="2.1"/><circle cx="298.2" cy="150.6" r="2.1"/><circle cx="295.7" cy="155.5" r="2.1"/><circle cx="298.1" cy="156.2" r="2.1"/><circle cx="297.9" cy="161.2" r="2.1"/><circle cx="299.5" cy="164.0" r="2.1"/><circle cx="298.6" cy="167.8" r="2.1"/><circle cx="300.8" cy="170.3" r="2.1"/><circle cx="299.2" cy="172.5" r="2.1"/><circle cx="299.7" cy="173.9" r="2.1"/><circle cx="300.4" cy="178.3" r="2.1"/><circle cx="301.1" cy="181.3" r="2.1"/><circle cx="301.4" cy="184.9" r="2.1"/><circle cx="300.9" cy="187.7" r="2.1"/><circle cx="302.5" cy="190.6" r="2.1"/><circle cx="301.4" cy="194.9" r="2.1"/><circle cx="303.6" cy="196.3" r="2.1"/><circle cx="303.3" cy="200.4" r="2.1"/><circle cx="300.4" cy="202.9" r="2.1"/><circle cx="299.7" cy="206.6" r="2.1"/><circle cx="299.4" cy="208.0" r="2.1"/><circle cx="298.4" cy="215.0" r="2.1"/><circle cx="299.0" cy="215.5" r="2.1"/><circle cx="297.4" cy="217.8" r="2.1"/><circle cx="294.8" cy="222.4" r="2.1"/><circle cx="294.6" cy="222.7" r="2.1"/><circle cx="293.3" cy="225.5" r="2.1"/><circle cx="291.9" cy="228.6" r="2.1"/><circle cx="290.5" cy="232.5" r="2.1"/><circle cx="288.5" cy="232.2" r="2.1"/><circle cx="288.9" cy="232.9" r="2.1"/><circle cx="290.0" cy="230.3" r="2.1"/><circle cx="288.8" cy="228.3" r="2.1"/><circle cx="289.7" cy="224.2" r="2.1"/><circle cx="288.4" cy="222.6" r="2.1"/><circle cx="288.2" cy="218.6" r="2.1"/><circle cx="289.9" cy="215.9" r="2.1"/><circle cx="288.3" cy="215.7" r="2.1"/><circle cx="288.3" cy="212.6" r="2.1"/><circle cx="289.6" cy="208.8" r="2.1"/><circle cx="288.0" cy="206.6" r="2.1"/><circle cx="288.4" cy="205.0" r="2.1"/><circle cx="288.0" cy="201.7" r="2.1"/><circle cx="289.1" cy="199.6" r="2.1"/><circle cx="289.3" cy="196.1" r="2.1"/><circle cx="288.0" cy="192.5" r="2.1"/><circle cx="288.3" cy="191.7" r="2.1"/><circle cx="289.7" cy="187.3" r="2.1"/><circle cx="288.2" cy="186.4" r="2.1"/><circle cx="287.7" cy="183.1" r="2.1"/><circle cx="289.0" cy="180.5" r="2.1"/><circle cx="290.0" cy="177.5" r="2.1"/><circle cx="289.9" cy="174.4" r="2.1"/><circle cx="289.2" cy="172.6" r="2.1"/><circle cx="290.0" cy="169.0" r="2.1"/><circle cx="289.9" cy="166.1" r="2.1"/><circle cx="288.6" cy="165.0" r="2.1"/><circle cx="289.2" cy="161.7" r="2.1"/><circle cx="288.8" cy="158.4" r="2.1"/><circle cx="290.1" cy="155.4" r="2.1"/><circle cx="289.9" cy="152.9" r="2.1"/><circle cx="288.8" cy="151.3" r="2.1"/><circle cx="288.2" cy="149.4" r="2.1"/><circle cx="288.2" cy="144.9" r="2.1"/><circle cx="289.2" cy="144.1" r="2.1"/><circle cx="287.9" cy="140.3" r="2.1"/><circle cx="288.6" cy="137.3" r="2.1"/><circle cx="289.2" cy="134.8" r="2.1"/><circle cx="288.1" cy="131.6" r="2.1"/><circle cx="289.0" cy="130.4" r="2.1"/><circle cx="289.6" cy="126.5" r="2.1"/><circle cx="289.9" cy="125.1" r="2.1"/><circle cx="289.8" cy="121.5" r="2.1"/><circle cx="289.4" cy="118.4" r="2.1"/><circle cx="288.3" cy="116.7" r="2.1"/><circle cx="290.0" cy="113.2" r="2.1"/><circle cx="289.0" cy="112.0" r="2.1"/><circle cx="289.1" cy="109.8" r="2.1"/><circle cx="288.2" cy="106.6" r="2.1"/><circle cx="287.9" cy="104.6" r="2.1"/><circle cx="289.0" cy="101.6" r="2.1"/></g><g fill="rgba(16,138,16,0.76)"><circle cx="308.0" cy="3.2" r="2.1"/><circle cx="301.5" cy="30.6" r="2.1"/><circle cx="300.2" cy="34.4" r="2.1"/><circle cx="310.0" cy="39.3" r="2.1"/><circle cx="358.3" cy="26.4" r="2.1"/><circle cx="353.8" cy="32.4" r="2.1"/><circle cx="296.2" cy="46.2" r="2.1"/><circle cx="298.6" cy="47.1" r="2.1"/><circle cx="291.7" cy="54.0" r="2.1"/><circle cx="306.6" cy="54.7" r="2.1"/><circle cx="334.2" cy="56.5" r="2.1"/><circle cx="297.9" cy="60.0" r="2.1"/><circle cx="361.9" cy="72.7" r="2.1"/><circle cx="348.5" cy="75.6" r="2.1"/><circle cx="298.6" cy="62.5" r="2.1"/><circle cx="300.1" cy="66.9" r="2.1"/><circle cx="290.4" cy="70.6" r="2.1"/><circle cx="297.9" cy="71.7" r="2.1"/><circle cx="287.5" cy="75.1" r="2.1"/><circle cx="294.2" cy="75.1" r="2.1"/><circle cx="300.8" cy="75.8" r="2.1"/><circle cx="286.7" cy="79.5" r="2.1"/><circle cx="292.7" cy="78.8" r="2.1"/><circle cx="299.4" cy="78.8" r="2.1"/><circle cx="290.4" cy="83.3" r="2.1"/><circle cx="296.4" cy="83.3" r="2.1"/><circle cx="288.2" cy="86.2" r="2.1"/><circle cx="300.1" cy="88.4" r="2.1"/><circle cx="313.1" cy="90.4" r="2.1"/><circle cx="332.7" cy="88.7" r="2.1"/><circle cx="340.9" cy="92.6" r="2.1"/><circle cx="289.7" cy="92.2" r="2.1"/><circle cx="295.6" cy="92.9" r="2.1"/><circle cx="302.3" cy="95.9" r="2.1"/><circle cx="305.3" cy="95.9" r="2.1"/><circle cx="329.0" cy="98.1" r="2.1"/><circle cx="289.0" cy="98.1" r="2.1"/><circle cx="294.2" cy="98.8" r="2.1"/><circle cx="298.6" cy="101.1" r="2.1"/><circle cx="308.3" cy="101.1" r="2.1"/><circle cx="312.0" cy="100.3" r="2.1"/><circle cx="301.6" cy="104.8" r="2.1"/><circle cx="312.0" cy="105.5" r="2.1"/><circle cx="312.7" cy="109.2" r="2.1"/><circle cx="292.7" cy="105.5" r="2.1"/><circle cx="329.0" cy="111.4" r="2.1"/><circle cx="323.8" cy="113.2" r="2.1"/><circle cx="303.8" cy="112.9" r="2.1"/><circle cx="308.3" cy="113.7" r="2.1"/><circle cx="295.6" cy="111.4" r="2.1"/><circle cx="323.1" cy="121.5" r="2.1"/><circle cx="302.3" cy="121.1" r="2.1"/><circle cx="312.0" cy="125.5" r="2.1"/><circle cx="337.9" cy="125.5" r="2.1"/><circle cx="341.6" cy="128.5" r="2.1"/><circle cx="298.6" cy="124.1" r="2.1"/><circle cx="306.0" cy="127.8" r="2.1"/><circle cx="312.0" cy="130.7" r="2.1"/><circle cx="314.9" cy="133.7" r="2.1"/><circle cx="301.6" cy="130.7" r="2.1"/><circle cx="307.5" cy="135.2" r="2.1"/><circle cx="310.5" cy="138.2" r="2.1"/><circle cx="316.4" cy="139.6" r="2.1"/><circle cx="325.3" cy="139.6" r="2.1"/><circle cx="297.1" cy="135.2" r="2.1"/><circle cx="301.6" cy="139.6" r="2.1"/><circle cx="300.8" cy="142.5" r="2.1"/><circle cx="306.7" cy="141.7" r="2.1"/><circle cx="314.2" cy="144.0" r="2.1"/><circle cx="317.9" cy="145.5" r="2.1"/><circle cx="323.1" cy="142.5" r="2.1"/><circle cx="326.0" cy="141.7" r="2.1"/><circle cx="330.8" cy="142.8" r="2.1"/><circle cx="303.8" cy="147.7" r="2.1"/><circle cx="309.7" cy="149.9" r="2.1"/><circle cx="315.6" cy="149.2" r="2.1"/><circle cx="320.1" cy="146.9" r="2.1"/><circle cx="326.8" cy="150.2" r="2.1"/><circle cx="307.5" cy="154.4" r="2.1"/><circle cx="317.1" cy="152.9" r="2.1"/><circle cx="323.1" cy="155.1" r="2.1"/><circle cx="326.0" cy="156.6" r="2.1"/><circle cx="298.6" cy="154.4" r="2.1"/><circle cx="302.3" cy="158.8" r="2.1"/><circle cx="312.7" cy="160.3" r="2.1"/><circle cx="306.7" cy="163.3" r="2.1"/><circle cx="314.9" cy="163.3" r="2.1"/><circle cx="321.6" cy="163.3" r="2.1"/><circle cx="326.0" cy="167.0" r="2.1"/><circle cx="303.8" cy="167.0" r="2.1"/><circle cx="309.7" cy="167.7" r="2.1"/><circle cx="313.4" cy="170.7" r="2.1"/><circle cx="318.6" cy="171.4" r="2.1"/><circle cx="347.1" cy="170.7" r="2.1"/><circle cx="325.3" cy="176.6" r="2.1"/><circle cx="316.4" cy="175.1" r="2.1"/><circle cx="317.1" cy="179.9" r="2.1"/><circle cx="306.7" cy="176.6" r="2.1"/><circle cx="309.0" cy="180.3" r="2.1"/><circle cx="311.6" cy="184.8" r="2.1"/><circle cx="306.7" cy="188.5" r="2.1"/><circle cx="309.0" cy="194.4" r="2.1"/><circle cx="305.3" cy="191.4" r="2.1"/><circle cx="319.8" cy="196.6" r="2.1"/><circle cx="320.4" cy="202.6" r="2.1"/><circle cx="321.9" cy="207.0" r="2.1"/><circle cx="310.2" cy="208.1" r="2.1"/><circle cx="306.7" cy="210.0" r="2.1"/><circle cx="320.8" cy="213.7" r="2.1"/><circle cx="311.9" cy="217.0" r="2.1"/><circle cx="302.3" cy="218.2" r="2.1"/><circle cx="300.8" cy="213.7" r="2.1"/><circle cx="302.3" cy="204.8" r="2.1"/><circle cx="308.7" cy="196.0" r="2.1"/><circle cx="319.6" cy="196.5" r="2.1"/><circle cx="320.1" cy="202.7" r="2.1"/><circle cx="321.9" cy="207.4" r="2.1"/><circle cx="310.3" cy="207.9" r="2.1"/><circle cx="306.7" cy="210.4" r="2.1"/><circle cx="320.9" cy="213.8" r="2.1"/><circle cx="312.0" cy="216.9" r="2.1"/><circle cx="303.6" cy="218.2" r="2.1"/><circle cx="298.4" cy="228.0" r="2.1"/><circle cx="293.8" cy="229.5" r="2.1"/><circle cx="301.5" cy="214.1" r="2.1"/><circle cx="297.9" cy="221.3" r="2.1"/><circle cx="298.4" cy="178.5" r="2.1"/><circle cx="288.1" cy="132.7" r="2.1"/><circle cx="294.0" cy="203.3" r="2.1"/><circle cx="303.2" cy="169.4" r="2.1"/><circle cx="300.2" cy="179.1" r="2.1"/><circle cx="291.1" cy="143.3" r="2.1"/><circle cx="291.5" cy="218.8" r="2.1"/><circle cx="289.2" cy="204.6" r="2.1"/><circle cx="289.5" cy="183.3" r="2.1"/><circle cx="295.3" cy="137.5" r="2.1"/><circle cx="289.2" cy="220.2" r="2.1"/><circle cx="299.1" cy="86.7" r="2.1"/><circle cx="290.4" cy="140.6" r="2.1"/><circle cx="290.9" cy="122.6" r="2.1"/><circle cx="301.6" cy="98.5" r="2.1"/><circle cx="291.7" cy="204.1" r="2.1"/><circle cx="296.8" cy="139.9" r="2.1"/><circle cx="301.1" cy="149.2" r="2.1"/><circle cx="296.4" cy="76.9" r="2.1"/><circle cx="295.8" cy="130.8" r="2.1"/><circle cx="303.2" cy="181.2" r="2.1"/><circle cx="290.4" cy="110.1" r="2.1"/><circle cx="295.9" cy="154.8" r="2.1"/><circle cx="305.8" cy="153.0" r="2.1"/><circle cx="288.5" cy="205.3" r="2.1"/><circle cx="297.4" cy="156.1" r="2.1"/><circle cx="292.8" cy="141.2" r="2.1"/><circle cx="296.5" cy="197.1" r="2.1"/><circle cx="290.2" cy="161.1" r="2.1"/><circle cx="291.8" cy="184.7" r="2.1"/><circle cx="288.7" cy="116.8" r="2.1"/><circle cx="295.5" cy="175.2" r="2.1"/><circle cx="289.1" cy="146.4" r="2.1"/><circle cx="292.5" cy="117.7" r="2.1"/><circle cx="291.6" cy="221.7" r="2.1"/><circle cx="295.9" cy="102.7" r="2.1"/><circle cx="288.0" cy="115.5" r="2.1"/><circle cx="304.9" cy="127.4" r="2.1"/><circle cx="293.2" cy="73.4" r="2.1"/><circle cx="288.8" cy="172.3" r="2.1"/><circle cx="295.0" cy="199.6" r="2.1"/><circle cx="306.3" cy="175.6" r="2.1"/><circle cx="293.0" cy="157.4" r="2.1"/><circle cx="298.5" cy="173.6" r="2.1"/><circle cx="293.7" cy="225.4" r="2.1"/><circle cx="294.3" cy="213.5" r="2.1"/><circle cx="294.1" cy="224.9" r="2.1"/><circle cx="299.3" cy="184.7" r="2.1"/><circle cx="294.2" cy="113.3" r="2.1"/><circle cx="303.0" cy="184.4" r="2.1"/><circle cx="290.8" cy="215.6" r="2.1"/><circle cx="297.2" cy="111.1" r="2.1"/><circle cx="300.3" cy="173.2" r="2.1"/><circle cx="304.7" cy="139.7" r="2.1"/><circle cx="300.9" cy="218.0" r="2.1"/><circle cx="305.3" cy="166.0" r="2.1"/><circle cx="295.6" cy="131.7" r="2.1"/><circle cx="304.2" cy="163.3" r="2.1"/><circle cx="288.3" cy="187.0" r="2.1"/><circle cx="299.7" cy="199.8" r="2.1"/><circle cx="296.3" cy="87.9" r="2.1"/><circle cx="295.7" cy="122.6" r="2.1"/><circle cx="308.5" cy="183.6" r="2.1"/><circle cx="299.9" cy="172.8" r="2.1"/><circle cx="290.7" cy="158.5" r="2.1"/><circle cx="303.4" cy="135.9" r="2.1"/><circle cx="293.3" cy="137.9" r="2.1"/><circle cx="295.1" cy="183.0" r="2.1"/><circle cx="291.0" cy="86.7" r="2.1"/><circle cx="294.8" cy="184.7" r="2.1"/><circle cx="304.7" cy="178.8" r="2.1"/><circle cx="288.6" cy="151.0" r="2.1"/><circle cx="297.7" cy="101.1" r="2.1"/><circle cx="302.6" cy="127.3" r="2.1"/><circle cx="293.2" cy="125.0" r="2.1"/><circle cx="295.9" cy="117.3" r="2.1"/><circle cx="292.3" cy="142.1" r="2.1"/><circle cx="292.8" cy="220.9" r="2.1"/><circle cx="299.0" cy="185.1" r="2.1"/><circle cx="291.5" cy="147.3" r="2.1"/><circle cx="301.3" cy="208.5" r="2.1"/><circle cx="293.4" cy="146.5" r="2.1"/><circle cx="292.9" cy="159.2" r="2.1"/><circle cx="304.7" cy="136.0" r="2.1"/><circle cx="302.8" cy="179.5" r="2.1"/><circle cx="309.4" cy="161.7" r="2.1"/><circle cx="302.9" cy="128.7" r="2.1"/><circle cx="304.1" cy="124.2" r="2.1"/><circle cx="298.9" cy="130.5" r="2.1"/><circle cx="294.7" cy="94.0" r="2.1"/><circle cx="292.9" cy="160.2" r="2.1"/><circle cx="293.5" cy="79.4" r="2.1"/><circle cx="308.6" cy="169.0" r="2.1"/><circle cx="296.5" cy="213.4" r="2.1"/><circle cx="290.7" cy="175.8" r="2.1"/><circle cx="306.5" cy="170.6" r="2.1"/><circle cx="305.2" cy="138.8" r="2.1"/><circle cx="301.6" cy="114.6" r="2.1"/><circle cx="296.9" cy="133.5" r="2.1"/><circle cx="296.4" cy="136.7" r="2.1"/><circle cx="292.4" cy="113.3" r="2.1"/><circle cx="289.1" cy="207.3" r="2.1"/><circle cx="295.8" cy="191.0" r="2.1"/><circle cx="294.7" cy="94.2" r="2.1"/><circle cx="292.6" cy="214.5" r="2.1"/><circle cx="288.4" cy="122.0" r="2.1"/><circle cx="288.2" cy="99.7" r="2.1"/><circle cx="291.5" cy="188.0" r="2.1"/><circle cx="294.5" cy="102.8" r="2.1"/><circle cx="292.0" cy="122.5" r="2.1"/><circle cx="307.0" cy="170.3" r="2.1"/><circle cx="290.2" cy="183.0" r="2.1"/><circle cx="299.8" cy="144.6" r="2.1"/><circle cx="299.6" cy="177.5" r="2.1"/><circle cx="305.6" cy="153.9" r="2.1"/><circle cx="301.9" cy="147.7" r="2.1"/><circle cx="301.9" cy="134.9" r="2.1"/><circle cx="297.1" cy="155.7" r="2.1"/><circle cx="303.7" cy="117.1" r="2.1"/><circle cx="308.3" cy="151.6" r="2.1"/><circle cx="306.8" cy="183.8" r="2.1"/><circle cx="309.0" cy="182.6" r="2.1"/><circle cx="297.3" cy="137.8" r="2.1"/><circle cx="301.3" cy="194.1" r="2.1"/><circle cx="289.3" cy="89.5" r="2.1"/><circle cx="289.8" cy="81.1" r="2.1"/><circle cx="288.1" cy="112.4" r="2.1"/><circle cx="290.4" cy="183.0" r="2.1"/><circle cx="292.9" cy="222.0" r="2.1"/><circle cx="298.4" cy="105.5" r="2.1"/><circle cx="304.6" cy="140.6" r="2.1"/><circle cx="299.9" cy="123.2" r="2.1"/><circle cx="293.2" cy="86.1" r="2.1"/><circle cx="294.5" cy="221.6" r="2.1"/><circle cx="301.2" cy="180.4" r="2.1"/><circle cx="288.2" cy="109.0" r="2.1"/><circle cx="298.6" cy="190.4" r="2.1"/><circle cx="306.2" cy="194.7" r="2.1"/><circle cx="295.4" cy="133.8" r="2.1"/><circle cx="298.6" cy="103.6" r="2.1"/><circle cx="301.7" cy="158.8" r="2.1"/><circle cx="295.9" cy="109.3" r="2.1"/><circle cx="296.4" cy="171.2" r="2.1"/><circle cx="290.7" cy="159.6" r="2.1"/><circle cx="293.5" cy="139.8" r="2.1"/><circle cx="290.2" cy="191.4" r="2.1"/><circle cx="301.9" cy="100.0" r="2.1"/><circle cx="300.0" cy="168.5" r="2.1"/><circle cx="300.7" cy="133.3" r="2.1"/><circle cx="294.7" cy="129.5" r="2.1"/><circle cx="299.0" cy="146.5" r="2.1"/><circle cx="291.7" cy="136.8" r="2.1"/><circle cx="292.4" cy="124.2" r="2.1"/><circle cx="296.0" cy="128.7" r="2.1"/><circle cx="295.2" cy="178.5" r="2.1"/><circle cx="296.7" cy="155.5" r="2.1"/><circle cx="293.4" cy="203.2" r="2.1"/><circle cx="291.7" cy="143.0" r="2.1"/><circle cx="294.1" cy="208.3" r="2.1"/><circle cx="293.1" cy="103.8" r="2.1"/><circle cx="302.0" cy="175.2" r="2.1"/><circle cx="300.9" cy="149.6" r="2.1"/><circle cx="298.2" cy="130.2" r="2.1"/><circle cx="303.7" cy="193.7" r="2.1"/><circle cx="293.2" cy="157.2" r="2.1"/><circle cx="304.0" cy="153.3" r="2.1"/><circle cx="302.5" cy="171.8" r="2.1"/><circle cx="303.7" cy="129.6" r="2.1"/><circle cx="294.7" cy="76.0" r="2.1"/><circle cx="306.4" cy="140.2" r="2.1"/><circle cx="294.8" cy="114.0" r="2.1"/><circle cx="297.0" cy="80.4" r="2.1"/><circle cx="289.0" cy="90.9" r="2.1"/><circle cx="294.7" cy="97.7" r="2.1"/><circle cx="290.6" cy="206.8" r="2.1"/><circle cx="296.3" cy="151.4" r="2.1"/><circle cx="291.1" cy="108.9" r="2.1"/><circle cx="308.5" cy="157.6" r="2.1"/><circle cx="296.0" cy="102.6" r="2.1"/><circle cx="300.1" cy="200.2" r="2.1"/><circle cx="293.7" cy="158.5" r="2.1"/><circle cx="301.5" cy="102.0" r="2.1"/><circle cx="302.1" cy="142.6" r="2.1"/><circle cx="288.4" cy="152.0" r="2.1"/><circle cx="295.8" cy="136.8" r="2.1"/><circle cx="289.6" cy="221.1" r="2.1"/><circle cx="299.4" cy="163.0" r="2.1"/><circle cx="300.0" cy="160.1" r="2.1"/><circle cx="305.5" cy="157.5" r="2.1"/><circle cx="292.8" cy="138.0" r="2.1"/><circle cx="305.6" cy="193.0" r="2.1"/><circle cx="299.5" cy="197.9" r="2.1"/><circle cx="302.9" cy="212.8" r="2.1"/><circle cx="302.3" cy="130.9" r="2.1"/><circle cx="294.2" cy="85.3" r="2.1"/><circle cx="290.6" cy="78.9" r="2.1"/><circle cx="301.2" cy="93.7" r="2.1"/><circle cx="309.3" cy="158.3" r="2.1"/><circle cx="291.8" cy="205.9" r="2.1"/><circle cx="292.8" cy="137.2" r="2.1"/><circle cx="302.5" cy="117.8" r="2.1"/><circle cx="300.5" cy="185.6" r="2.1"/><circle cx="304.5" cy="205.5" r="2.1"/><circle cx="304.6" cy="142.3" r="2.1"/><circle cx="291.6" cy="75.4" r="2.1"/><circle cx="301.7" cy="130.0" r="2.1"/><circle cx="290.0" cy="151.4" r="2.1"/><circle cx="297.1" cy="124.7" r="2.1"/><circle cx="300.4" cy="159.3" r="2.1"/><circle cx="294.9" cy="223.0" r="2.1"/><circle cx="302.5" cy="186.5" r="2.1"/><circle cx="292.4" cy="91.7" r="2.1"/><circle cx="291.8" cy="141.8" r="2.1"/><circle cx="306.0" cy="182.0" r="2.1"/><circle cx="297.6" cy="219.7" r="2.1"/><circle cx="294.9" cy="80.3" r="2.1"/><circle cx="302.5" cy="149.8" r="2.1"/><circle cx="292.4" cy="107.5" r="2.1"/><circle cx="289.4" cy="87.2" r="2.1"/><circle cx="298.5" cy="217.2" r="2.1"/><circle cx="308.5" cy="155.3" r="2.1"/><circle cx="302.8" cy="147.8" r="2.1"/><circle cx="305.1" cy="186.4" r="2.1"/><circle cx="302.9" cy="167.6" r="2.1"/><circle cx="291.6" cy="148.4" r="2.1"/><circle cx="297.8" cy="97.0" r="2.1"/><circle cx="292.4" cy="138.6" r="2.1"/><circle cx="291.8" cy="173.1" r="2.1"/><circle cx="303.0" cy="155.7" r="2.1"/><circle cx="297.5" cy="135.4" r="2.1"/><circle cx="292.3" cy="228.0" r="2.1"/><circle cx="308.1" cy="177.3" r="2.1"/><circle cx="299.9" cy="99.1" r="2.1"/><circle cx="295.1" cy="167.1" r="2.1"/><circle cx="291.7" cy="109.8" r="2.1"/><circle cx="304.0" cy="150.5" r="2.1"/><circle cx="289.9" cy="224.0" r="2.1"/><circle cx="301.4" cy="184.3" r="2.1"/><circle cx="300.2" cy="96.1" r="2.1"/><circle cx="294.0" cy="161.0" r="2.1"/><circle cx="293.4" cy="211.3" r="2.1"/><circle cx="293.7" cy="84.8" r="2.1"/><circle cx="291.5" cy="116.0" r="2.1"/><circle cx="302.7" cy="141.1" r="2.1"/><circle cx="288.8" cy="206.7" r="2.1"/><circle cx="290.7" cy="104.4" r="2.1"/><circle cx="297.5" cy="211.7" r="2.1"/><circle cx="291.9" cy="82.1" r="2.1"/><circle cx="291.8" cy="182.2" r="2.1"/><circle cx="297.7" cy="104.5" r="2.1"/><circle cx="314.4" cy="174.6" r="2.1"/><circle cx="298.8" cy="179.1" r="2.1"/><circle cx="302.2" cy="195.3" r="2.1"/><circle cx="292.2" cy="98.8" r="2.1"/><circle cx="320.4" cy="122.3" r="2.1"/><circle cx="297.3" cy="199.9" r="2.1"/><circle cx="307.8" cy="175.5" r="2.1"/><circle cx="293.9" cy="173.4" r="2.1"/><circle cx="292.3" cy="118.6" r="2.1"/><circle cx="290.9" cy="95.6" r="2.1"/><circle cx="323.7" cy="136.3" r="2.1"/><circle cx="309.2" cy="170.3" r="2.1"/><circle cx="294.4" cy="76.5" r="2.1"/><circle cx="319.5" cy="149.4" r="2.1"/><circle cx="294.9" cy="138.8" r="2.1"/><circle cx="295.8" cy="198.9" r="2.1"/><circle cx="305.2" cy="179.3" r="2.1"/><circle cx="307.2" cy="139.2" r="2.1"/><circle cx="305.4" cy="136.0" r="2.1"/><circle cx="305.0" cy="101.1" r="2.1"/><circle cx="290.3" cy="84.9" r="2.1"/><circle cx="313.3" cy="159.4" r="2.1"/><circle cx="288.6" cy="182.7" r="2.1"/><circle cx="322.0" cy="133.6" r="2.1"/><circle cx="300.4" cy="159.1" r="2.1"/><circle cx="298.8" cy="92.8" r="2.1"/><circle cx="310.6" cy="141.7" r="2.1"/><circle cx="297.1" cy="127.5" r="2.1"/><circle cx="289.2" cy="114.4" r="2.1"/><circle cx="298.1" cy="222.9" r="2.1"/><circle cx="300.8" cy="103.8" r="2.1"/><circle cx="289.2" cy="85.4" r="2.1"/><circle cx="295.1" cy="100.0" r="2.1"/><circle cx="296.9" cy="165.1" r="2.1"/><circle cx="315.4" cy="124.2" r="2.1"/><circle cx="308.2" cy="163.7" r="2.1"/><circle cx="306.2" cy="206.4" r="2.1"/><circle cx="301.1" cy="126.8" r="2.1"/><circle cx="315.8" cy="114.7" r="2.1"/><circle cx="296.8" cy="222.5" r="2.1"/><circle cx="304.8" cy="119.1" r="2.1"/><circle cx="297.4" cy="78.0" r="2.1"/><circle cx="295.1" cy="180.5" r="2.1"/><circle cx="293.0" cy="105.0" r="2.1"/><circle cx="304.1" cy="154.8" r="2.1"/><circle cx="301.6" cy="196.6" r="2.1"/><circle cx="297.2" cy="124.1" r="2.1"/><circle cx="303.2" cy="82.4" r="2.1"/><circle cx="295.9" cy="85.5" r="2.1"/><circle cx="312.0" cy="98.6" r="2.1"/><circle cx="311.3" cy="174.2" r="2.1"/><circle cx="311.6" cy="157.0" r="2.1"/><circle cx="289.6" cy="130.7" r="2.1"/><circle cx="297.5" cy="141.8" r="2.1"/><circle cx="290.1" cy="178.3" r="2.1"/><circle cx="321.6" cy="154.4" r="2.1"/><circle cx="291.4" cy="210.8" r="2.1"/><circle cx="316.6" cy="113.1" r="2.1"/><circle cx="292.8" cy="126.0" r="2.1"/><circle cx="304.1" cy="196.5" r="2.1"/><circle cx="305.8" cy="151.9" r="2.1"/><circle cx="296.9" cy="178.5" r="2.1"/><circle cx="302.3" cy="137.5" r="2.1"/><circle cx="289.0" cy="83.8" r="2.1"/><circle cx="306.8" cy="205.3" r="2.1"/><circle cx="290.4" cy="136.3" r="2.1"/><circle cx="308.7" cy="198.2" r="2.1"/><circle cx="303.2" cy="178.4" r="2.1"/><circle cx="322.8" cy="132.9" r="2.1"/><circle cx="295.1" cy="65.3" r="2.1"/><circle cx="319.0" cy="142.8" r="2.1"/><circle cx="301.9" cy="150.4" r="2.1"/><circle cx="292.2" cy="98.6" r="2.1"/><circle cx="296.4" cy="104.4" r="2.1"/><circle cx="291.2" cy="210.8" r="2.1"/><circle cx="312.3" cy="179.4" r="2.1"/><circle cx="311.4" cy="194.8" r="2.1"/><circle cx="303.2" cy="99.1" r="2.1"/><circle cx="314.8" cy="168.8" r="2.1"/><circle cx="301.4" cy="180.3" r="2.1"/><circle cx="301.8" cy="164.8" r="2.1"/><circle cx="305.0" cy="191.3" r="2.1"/><circle cx="300.5" cy="146.6" r="2.1"/><circle cx="317.8" cy="114.0" r="2.1"/><circle cx="294.2" cy="170.8" r="2.1"/><circle cx="292.7" cy="209.1" r="2.1"/><circle cx="297.8" cy="217.3" r="2.1"/><circle cx="307.2" cy="86.8" r="2.1"/><circle cx="306.7" cy="178.8" r="2.1"/><circle cx="305.4" cy="170.5" r="2.1"/><circle cx="294.2" cy="198.8" r="2.1"/><circle cx="288.8" cy="148.2" r="2.1"/><circle cx="290.3" cy="82.9" r="2.1"/><circle cx="299.1" cy="130.1" r="2.1"/><circle cx="305.1" cy="165.3" r="2.1"/><circle cx="300.5" cy="121.1" r="2.1"/><circle cx="318.7" cy="156.7" r="2.1"/><circle cx="300.6" cy="202.3" r="2.1"/><circle cx="324.0" cy="135.2" r="2.1"/><circle cx="288.4" cy="113.1" r="2.1"/><circle cx="295.1" cy="197.9" r="2.1"/><circle cx="292.0" cy="207.8" r="2.1"/><circle cx="296.1" cy="127.5" r="2.1"/><circle cx="315.9" cy="136.3" r="2.1"/><circle cx="290.7" cy="203.1" r="2.1"/><circle cx="309.2" cy="95.8" r="2.1"/><circle cx="307.3" cy="190.8" r="2.1"/><circle cx="301.5" cy="152.7" r="2.1"/><circle cx="292.6" cy="210.2" r="2.1"/><circle cx="290.8" cy="189.7" r="2.1"/><circle cx="291.2" cy="156.8" r="2.1"/><circle cx="296.2" cy="216.9" r="2.1"/><circle cx="291.7" cy="142.3" r="2.1"/><circle cx="304.9" cy="127.1" r="2.1"/><circle cx="290.2" cy="175.9" r="2.1"/><circle cx="320.3" cy="118.9" r="2.1"/><circle cx="297.8" cy="139.1" r="2.1"/><circle cx="290.1" cy="125.5" r="2.1"/><circle cx="296.7" cy="78.1" r="2.1"/><circle cx="306.4" cy="196.1" r="2.1"/><circle cx="303.3" cy="91.0" r="2.1"/><circle cx="322.7" cy="133.7" r="2.1"/><circle cx="300.3" cy="203.4" r="2.1"/><circle cx="293.4" cy="224.1" r="2.1"/><circle cx="307.5" cy="181.2" r="2.1"/><circle cx="298.8" cy="102.5" r="2.1"/><circle cx="298.6" cy="89.6" r="2.1"/><circle cx="296.7" cy="170.2" r="2.1"/><circle cx="295.3" cy="97.2" r="2.1"/><circle cx="297.0" cy="100.7" r="2.1"/></g><polygon points="258.9,117.0 265.6,117.0 265.5,135.0 266.2,141.0 267.5,155.8 268.8,170.7 269.5,185.5 270.3,200.3 271.8,216.6 273.5,228.0 275.5,216.6 277.2,198.8 278.5,181.0 279.8,150.0 280.7,135.0 281.2,119.5 281.7,108.4 283.4,97.3 285.6,90.0 287.9,90.0 288.6,233.0 284.2,239.2 279.5,241.0 272.3,241.5 264.0,241.0 258.1,239.2 255.7,236.8 258.5,233.0" fill="#6b6b6b"/><g fill="rgba(107,107,107,0.85)"><circle cx="261.5" cy="93.7" r="2.1"/><circle cx="261.0" cy="100.0" r="2.1"/><circle cx="262.0" cy="106.0" r="2.1"/><circle cx="263.0" cy="111.0" r="2.1"/><circle cx="264.5" cy="114.0" r="2.1"/><circle cx="285.6" cy="89.5" r="2.1"/><circle cx="283.5" cy="93.0" r="2.1"/><circle cx="282.5" cy="98.0" r="2.1"/><circle cx="284.0" cy="103.0" r="2.1"/><circle cx="281.5" cy="110.0" r="2.1"/></g><g fill="rgba(107,107,107,0.85)"><circle cx="260.3" cy="117.5" r="2.1"/><circle cx="262.8" cy="117.5" r="2.1"/><circle cx="265.0" cy="119.3" r="2.1"/><circle cx="264.2" cy="121.1" r="2.1"/><circle cx="263.8" cy="124.6" r="2.1"/><circle cx="264.7" cy="127.5" r="2.1"/><circle cx="265.0" cy="130.8" r="2.1"/><circle cx="264.7" cy="134.7" r="2.1"/><circle cx="264.3" cy="136.3" r="2.1"/><circle cx="264.6" cy="138.6" r="2.1"/><circle cx="265.7" cy="143.6" r="2.1"/><circle cx="265.7" cy="146.9" r="2.1"/><circle cx="266.0" cy="149.3" r="2.1"/><circle cx="266.5" cy="151.1" r="2.1"/><circle cx="266.8" cy="152.9" r="2.1"/><circle cx="266.7" cy="158.8" r="2.1"/><circle cx="266.2" cy="160.3" r="2.1"/><circle cx="266.3" cy="163.7" r="2.1"/><circle cx="267.9" cy="165.8" r="2.1"/><circle cx="268.4" cy="170.5" r="2.1"/><circle cx="267.7" cy="173.1" r="2.1"/><circle cx="267.3" cy="176.7" r="2.1"/><circle cx="269.0" cy="178.6" r="2.1"/><circle cx="268.3" cy="179.7" r="2.1"/><circle cx="269.2" cy="185.0" r="2.1"/><circle cx="269.3" cy="186.8" r="2.1"/><circle cx="269.6" cy="189.4" r="2.1"/><circle cx="268.8" cy="192.5" r="2.1"/><circle cx="268.5" cy="195.1" r="2.1"/><circle cx="269.7" cy="197.5" r="2.1"/><circle cx="269.5" cy="201.1" r="2.1"/><circle cx="270.0" cy="205.2" r="2.1"/><circle cx="269.2" cy="207.8" r="2.1"/><circle cx="269.4" cy="209.0" r="2.1"/><circle cx="270.0" cy="212.9" r="2.1"/><circle cx="270.9" cy="215.6" r="2.1"/><circle cx="271.5" cy="216.9" r="2.1"/><circle cx="271.9" cy="220.0" r="2.1"/><circle cx="272.2" cy="222.8" r="2.1"/><circle cx="271.8" cy="227.0" r="2.1"/><circle cx="275.5" cy="226.0" r="2.1"/><circle cx="275.6" cy="225.1" r="2.1"/><circle cx="274.8" cy="221.8" r="2.1"/><circle cx="276.3" cy="218.8" r="2.1"/><circle cx="276.0" cy="216.5" r="2.1"/><circle cx="277.5" cy="212.6" r="2.1"/><circle cx="277.0" cy="209.6" r="2.1"/><circle cx="276.7" cy="206.6" r="2.1"/><circle cx="278.6" cy="202.3" r="2.1"/><circle cx="277.9" cy="199.7" r="2.1"/><circle cx="278.0" cy="197.5" r="2.1"/><circle cx="278.8" cy="194.0" r="2.1"/><circle cx="279.4" cy="192.1" r="2.1"/><circle cx="278.5" cy="187.8" r="2.1"/><circle cx="279.6" cy="184.6" r="2.1"/><circle cx="279.0" cy="183.3" r="2.1"/><circle cx="278.8" cy="178.9" r="2.1"/><circle cx="280.5" cy="177.0" r="2.1"/><circle cx="279.8" cy="174.7" r="2.1"/><circle cx="280.6" cy="170.1" r="2.1"/><circle cx="280.1" cy="167.6" r="2.1"/><circle cx="279.8" cy="164.3" r="2.1"/><circle cx="280.1" cy="161.6" r="2.1"/><circle cx="280.6" cy="159.5" r="2.1"/><circle cx="280.8" cy="157.7" r="2.1"/><circle cx="281.5" cy="154.0" r="2.1"/><circle cx="280.7" cy="151.0" r="2.1"/><circle cx="281.6" cy="149.0" r="2.1"/><circle cx="281.3" cy="146.0" r="2.1"/><circle cx="282.1" cy="142.0" r="2.1"/><circle cx="281.7" cy="140.5" r="2.1"/><circle cx="281.8" cy="137.6" r="2.1"/><circle cx="282.2" cy="133.0" r="2.1"/><circle cx="281.4" cy="129.2" r="2.1"/><circle cx="281.7" cy="126.2" r="2.1"/><circle cx="281.3" cy="124.5" r="2.1"/><circle cx="281.3" cy="121.0" r="2.1"/><circle cx="282.5" cy="118.7" r="2.1"/><circle cx="281.8" cy="114.7" r="2.1"/><circle cx="282.4" cy="111.8" r="2.1"/><circle cx="283.0" cy="110.7" r="2.1"/><circle cx="282.9" cy="106.5" r="2.1"/><circle cx="283.6" cy="104.3" r="2.1"/><circle cx="284.3" cy="101.3" r="2.1"/><circle cx="283.8" cy="98.0" r="2.1"/><circle cx="283.7" cy="97.3" r="2.1"/><circle cx="285.9" cy="92.9" r="2.1"/><circle cx="287.8" cy="90.9" r="2.1"/><circle cx="286.8" cy="91.0" r="2.1"/><circle cx="286.8" cy="95.1" r="2.1"/><circle cx="286.5" cy="96.0" r="2.1"/><circle cx="286.4" cy="100.4" r="2.1"/><circle cx="287.5" cy="101.4" r="2.1"/><circle cx="287.6" cy="104.2" r="2.1"/><circle cx="287.1" cy="105.9" r="2.1"/><circle cx="286.6" cy="110.4" r="2.1"/><circle cx="286.2" cy="111.9" r="2.1"/><circle cx="287.5" cy="113.9" r="2.1"/><circle cx="286.9" cy="116.7" r="2.1"/><circle cx="287.3" cy="120.9" r="2.1"/><circle cx="286.3" cy="123.4" r="2.1"/><circle cx="286.4" cy="125.1" r="2.1"/><circle cx="287.1" cy="128.7" r="2.1"/><circle cx="287.9" cy="129.4" r="2.1"/><circle cx="287.2" cy="132.2" r="2.1"/><circle cx="287.4" cy="134.2" r="2.1"/><circle cx="287.4" cy="138.1" r="2.1"/><circle cx="287.0" cy="141.3" r="2.1"/><circle cx="286.9" cy="143.4" r="2.1"/><circle cx="287.3" cy="146.1" r="2.1"/><circle cx="287.0" cy="147.6" r="2.1"/><circle cx="288.0" cy="149.9" r="2.1"/><circle cx="287.7" cy="153.3" r="2.1"/><circle cx="287.8" cy="157.0" r="2.1"/><circle cx="286.9" cy="158.7" r="2.1"/><circle cx="286.7" cy="161.3" r="2.1"/><circle cx="287.8" cy="163.1" r="2.1"/><circle cx="287.5" cy="166.1" r="2.1"/><circle cx="287.8" cy="169.5" r="2.1"/><circle cx="286.9" cy="172.1" r="2.1"/><circle cx="286.7" cy="174.9" r="2.1"/><circle cx="287.0" cy="176.0" r="2.1"/><circle cx="286.8" cy="180.3" r="2.1"/><circle cx="288.1" cy="181.4" r="2.1"/><circle cx="287.1" cy="185.6" r="2.1"/><circle cx="286.7" cy="186.6" r="2.1"/><circle cx="287.2" cy="190.7" r="2.1"/><circle cx="287.2" cy="193.4" r="2.1"/><circle cx="288.2" cy="194.9" r="2.1"/><circle cx="287.2" cy="197.5" r="2.1"/><circle cx="288.0" cy="199.7" r="2.1"/><circle cx="287.5" cy="202.1" r="2.1"/><circle cx="287.1" cy="206.9" r="2.1"/><circle cx="287.7" cy="207.0" r="2.1"/><circle cx="288.2" cy="211.4" r="2.1"/><circle cx="288.0" cy="214.3" r="2.1"/><circle cx="287.0" cy="216.0" r="2.1"/><circle cx="288.3" cy="219.7" r="2.1"/><circle cx="286.9" cy="222.1" r="2.1"/><circle cx="287.1" cy="224.8" r="2.1"/><circle cx="287.9" cy="226.2" r="2.1"/><circle cx="287.8" cy="227.9" r="2.1"/><circle cx="288.2" cy="231.2" r="2.1"/><circle cx="285.1" cy="234.9" r="2.1"/><circle cx="284.1" cy="238.2" r="2.1"/><circle cx="283.3" cy="238.6" r="2.1"/><circle cx="279.2" cy="240.3" r="2.1"/><circle cx="273.7" cy="240.7" r="2.1"/><circle cx="271.4" cy="240.8" r="2.1"/><circle cx="267.2" cy="241.0" r="2.1"/><circle cx="264.6" cy="239.8" r="2.1"/><circle cx="262.8" cy="239.2" r="2.1"/><circle cx="261.5" cy="238.5" r="2.1"/><circle cx="258.0" cy="237.9" r="2.1"/><circle cx="258.5" cy="235.9" r="2.1"/><circle cx="259.5" cy="232.4" r="2.1"/><circle cx="259.0" cy="227.8" r="2.1"/><circle cx="258.9" cy="226.0" r="2.1"/><circle cx="259.4" cy="223.6" r="2.1"/><circle cx="258.7" cy="221.0" r="2.1"/><circle cx="260.3" cy="219.3" r="2.1"/><circle cx="259.2" cy="216.7" r="2.1"/><circle cx="259.1" cy="211.9" r="2.1"/><circle cx="259.5" cy="210.4" r="2.1"/><circle cx="259.8" cy="209.3" r="2.1"/><circle cx="260.4" cy="205.3" r="2.1"/><circle cx="258.8" cy="201.4" r="2.1"/><circle cx="259.3" cy="199.8" r="2.1"/><circle cx="260.4" cy="198.4" r="2.1"/><circle cx="259.6" cy="195.9" r="2.1"/><circle cx="259.8" cy="192.8" r="2.1"/><circle cx="260.3" cy="190.3" r="2.1"/><circle cx="259.1" cy="187.0" r="2.1"/><circle cx="259.0" cy="183.4" r="2.1"/><circle cx="259.2" cy="181.0" r="2.1"/><circle cx="259.3" cy="178.1" r="2.1"/><circle cx="260.0" cy="175.9" r="2.1"/><circle cx="260.4" cy="173.7" r="2.1"/><circle cx="259.2" cy="170.9" r="2.1"/><circle cx="260.1" cy="168.3" r="2.1"/><circle cx="259.8" cy="166.0" r="2.1"/><circle cx="259.3" cy="164.3" r="2.1"/><circle cx="259.5" cy="159.8" r="2.1"/><circle cx="260.3" cy="158.7" r="2.1"/><circle cx="258.9" cy="156.5" r="2.1"/><circle cx="259.2" cy="153.7" r="2.1"/><circle cx="259.4" cy="151.1" r="2.1"/><circle cx="260.6" cy="147.9" r="2.1"/><circle cx="259.9" cy="145.3" r="2.1"/><circle cx="260.2" cy="142.6" r="2.1"/><circle cx="259.5" cy="140.4" r="2.1"/><circle cx="259.5" cy="137.7" r="2.1"/><circle cx="259.8" cy="134.8" r="2.1"/><circle cx="259.0" cy="130.3" r="2.1"/><circle cx="260.1" cy="129.6" r="2.1"/><circle cx="259.7" cy="125.3" r="2.1"/><circle cx="259.5" cy="124.0" r="2.1"/><circle cx="260.0" cy="121.3" r="2.1"/><circle cx="259.0" cy="117.6" r="2.1"/></g>
<rect x="153.5" y="1.5" width="240.0" height="240.8" fill="none" stroke="#555555" stroke-width="1.3"/>
<line x1="173.53" y1="242.3" x2="173.53" y2="245.3" stroke="#555555" stroke-width="1"/>
<text x="173.53" y="254.00" font-size="9.7" text-anchor="middle" stroke="#000" stroke-width="0.2">−7.5</text>
<line x1="206.85" y1="242.3" x2="206.85" y2="245.3" stroke="#555555" stroke-width="1"/>
<text x="206.85" y="254.00" font-size="9.7" text-anchor="middle" stroke="#000" stroke-width="0.2">−5.0</text>
<line x1="240.18" y1="242.3" x2="240.18" y2="245.3" stroke="#555555" stroke-width="1"/>
<text x="240.18" y="254.00" font-size="9.7" text-anchor="middle" stroke="#000" stroke-width="0.2">−2.5</text>
<line x1="273.50" y1="242.3" x2="273.50" y2="245.3" stroke="#555555" stroke-width="1"/>
<text x="273.50" y="254.00" font-size="9.7" text-anchor="middle" stroke="#000" stroke-width="0.2">0.0</text>
<line x1="306.82" y1="242.3" x2="306.82" y2="245.3" stroke="#555555" stroke-width="1"/>
<text x="306.82" y="254.00" font-size="9.7" text-anchor="middle" stroke="#000" stroke-width="0.2">2.5</text>
<line x1="340.15" y1="242.3" x2="340.15" y2="245.3" stroke="#555555" stroke-width="1"/>
<text x="340.15" y="254.00" font-size="9.7" text-anchor="middle" stroke="#000" stroke-width="0.2">5.0</text>
<line x1="373.48" y1="242.3" x2="373.48" y2="245.3" stroke="#555555" stroke-width="1"/>
<text x="373.48" y="254.00" font-size="9.7" text-anchor="middle" stroke="#000" stroke-width="0.2">7.5</text>
<line x1="150.5" y1="242.30" x2="153.5" y2="242.30" stroke="#555555" stroke-width="1"/>
<text x="149.50" y="246.40" font-size="9.7" text-anchor="end" stroke="#000" stroke-width="0.2">0</text>
<line x1="150.5" y1="211.45" x2="153.5" y2="211.45" stroke="#555555" stroke-width="1"/>
<text x="149.50" y="215.55" font-size="9.7" text-anchor="end" stroke="#000" stroke-width="0.2">5</text>
<line x1="150.5" y1="180.60" x2="153.5" y2="180.60" stroke="#555555" stroke-width="1"/>
<text x="149.50" y="184.70" font-size="9.7" text-anchor="end" stroke="#000" stroke-width="0.2">10</text>
<line x1="150.5" y1="149.75" x2="153.5" y2="149.75" stroke="#555555" stroke-width="1"/>
<text x="149.50" y="153.85" font-size="9.7" text-anchor="end" stroke="#000" stroke-width="0.2">15</text>
<line x1="150.5" y1="118.90" x2="153.5" y2="118.90" stroke="#555555" stroke-width="1"/>
<text x="149.50" y="123.00" font-size="9.7" text-anchor="end" stroke="#000" stroke-width="0.2">20</text>
<line x1="150.5" y1="88.05" x2="153.5" y2="88.05" stroke="#555555" stroke-width="1"/>
<text x="149.50" y="92.15" font-size="9.7" text-anchor="end" stroke="#000" stroke-width="0.2">25</text>
<line x1="150.5" y1="57.20" x2="153.5" y2="57.20" stroke="#555555" stroke-width="1"/>
<text x="149.50" y="61.30" font-size="9.7" text-anchor="end" stroke="#000" stroke-width="0.2">30</text>
<line x1="150.5" y1="26.35" x2="153.5" y2="26.35" stroke="#555555" stroke-width="1"/>
<text x="149.50" y="30.45" font-size="9.7" text-anchor="end" stroke="#000" stroke-width="0.2">35</text>
<text x="273" y="19.2" font-size="20" font-weight="bold" text-anchor="middle">A</text>
<text x="273.3" y="269.4" font-size="13.2" text-anchor="middle" stroke="#000" stroke-width="0.25">log<tspan font-size="9.77" dx="2.11" dy="2.24">2</tspan><tspan dx="0.66" dy="-2.24">(Fold Change)</tspan></text>
<text transform="translate(133.6,122) rotate(-90)" font-size="14.5" text-anchor="middle" stroke="#000" stroke-width="0.25">-log<tspan font-size="11.60" dy="2.90">10</tspan><tspan dx="0.29" dy="-2.90">(P value)</tspan></text>
<line x1="425.5" y1="229.5" x2="663.5" y2="229.5" stroke="#b8b8b8" stroke-width="1"/>
<line x1="531.5" y1="0.5" x2="531.5" y2="241.7" stroke="#b8b8b8" stroke-width="1"/>
<line x1="557.9" y1="0.5" x2="557.9" y2="241.7" stroke="#b8b8b8" stroke-width="1"/>
<polygon points="509.0,150.0 515.0,140.0 523.0,135.0 530.0,140.0 530.0,227.5 504.5,227.5 502.8,215.0 502.3,204.5 504.5,182.0" fill="#b00000"/><g fill="rgba(176,0,0,0.76)"><circle cx="511.1" cy="150.0" r="2.1"/><circle cx="511.0" cy="146.6" r="2.1"/><circle cx="514.0" cy="144.6" r="2.1"/><circle cx="514.5" cy="140.8" r="2.1"/><circle cx="516.5" cy="139.4" r="2.1"/><circle cx="518.9" cy="140.1" r="2.1"/><circle cx="522.6" cy="136.1" r="2.1"/><circle cx="523.8" cy="137.7" r="2.1"/><circle cx="524.9" cy="137.3" r="2.1"/><circle cx="528.4" cy="138.8" r="2.1"/><circle cx="528.1" cy="142.0" r="2.1"/><circle cx="528.2" cy="143.9" r="2.1"/><circle cx="529.2" cy="146.7" r="2.1"/><circle cx="528.2" cy="149.5" r="2.1"/><circle cx="529.0" cy="151.3" r="2.1"/><circle cx="528.9" cy="153.6" r="2.1"/><circle cx="529.2" cy="157.7" r="2.1"/><circle cx="528.1" cy="158.8" r="2.1"/><circle cx="528.2" cy="163.3" r="2.1"/><circle cx="527.8" cy="164.3" r="2.1"/><circle cx="529.8" cy="167.8" r="2.1"/><circle cx="530.0" cy="170.0" r="2.1"/><circle cx="527.9" cy="174.0" r="2.1"/><circle cx="528.5" cy="176.9" r="2.1"/><circle cx="529.3" cy="178.5" r="2.1"/><circle cx="530.2" cy="181.5" r="2.1"/><circle cx="528.9" cy="182.6" r="2.1"/><circle cx="527.8" cy="185.9" r="2.1"/><circle cx="530.1" cy="189.6" r="2.1"/><circle cx="530.1" cy="192.0" r="2.1"/><circle cx="528.5" cy="195.6" r="2.1"/><circle cx="529.3" cy="197.8" r="2.1"/><circle cx="528.4" cy="198.4" r="2.1"/><circle cx="529.4" cy="202.8" r="2.1"/><circle cx="528.1" cy="204.2" r="2.1"/><circle cx="528.5" cy="207.2" r="2.1"/><circle cx="528.6" cy="211.3" r="2.1"/><circle cx="528.1" cy="211.9" r="2.1"/><circle cx="528.1" cy="216.8" r="2.1"/><circle cx="530.0" cy="218.7" r="2.1"/><circle cx="528.3" cy="219.8" r="2.1"/><circle cx="528.1" cy="222.5" r="2.1"/><circle cx="529.1" cy="225.4" r="2.1"/><circle cx="529.4" cy="226.1" r="2.1"/><circle cx="525.3" cy="227.0" r="2.1"/><circle cx="523.0" cy="226.5" r="2.1"/><circle cx="519.7" cy="225.5" r="2.1"/><circle cx="517.5" cy="227.6" r="2.1"/><circle cx="513.2" cy="226.0" r="2.1"/><circle cx="512.5" cy="226.1" r="2.1"/><circle cx="510.0" cy="225.3" r="2.1"/><circle cx="506.6" cy="225.9" r="2.1"/><circle cx="505.6" cy="226.2" r="2.1"/><circle cx="506.0" cy="222.4" r="2.1"/><circle cx="505.2" cy="219.5" r="2.1"/><circle cx="503.6" cy="216.5" r="2.1"/><circle cx="502.8" cy="212.8" r="2.1"/><circle cx="503.2" cy="211.9" r="2.1"/><circle cx="503.7" cy="208.3" r="2.1"/><circle cx="502.2" cy="206.6" r="2.1"/><circle cx="502.4" cy="203.2" r="2.1"/><circle cx="504.8" cy="200.4" r="2.1"/><circle cx="503.2" cy="196.6" r="2.1"/><circle cx="503.9" cy="194.4" r="2.1"/><circle cx="504.9" cy="191.1" r="2.1"/><circle cx="504.3" cy="189.4" r="2.1"/><circle cx="505.3" cy="187.3" r="2.1"/><circle cx="505.7" cy="184.3" r="2.1"/><circle cx="505.5" cy="179.5" r="2.1"/><circle cx="506.6" cy="177.8" r="2.1"/><circle cx="507.6" cy="175.6" r="2.1"/><circle cx="506.5" cy="174.1" r="2.1"/><circle cx="507.8" cy="171.2" r="2.1"/><circle cx="508.2" cy="167.0" r="2.1"/><circle cx="506.8" cy="164.6" r="2.1"/><circle cx="508.0" cy="163.3" r="2.1"/><circle cx="507.9" cy="158.2" r="2.1"/><circle cx="510.0" cy="157.8" r="2.1"/><circle cx="509.8" cy="154.3" r="2.1"/><circle cx="510.8" cy="151.1" r="2.1"/></g><g fill="rgba(176,0,0,0.76)"><circle cx="442.8" cy="7.8" r="2.1"/><circle cx="466.4" cy="26.7" r="2.1"/><circle cx="454.2" cy="46.8" r="2.1"/><circle cx="469.5" cy="54.6" r="2.1"/><circle cx="496.9" cy="38.5" r="2.1"/><circle cx="499.6" cy="46.3" r="2.1"/><circle cx="491.1" cy="57.2" r="2.1"/><circle cx="494.7" cy="60.6" r="2.1"/><circle cx="500.7" cy="65.7" r="2.1"/><circle cx="507.9" cy="69.0" r="2.1"/><circle cx="501.8" cy="71.3" r="2.1"/><circle cx="506.3" cy="75.3" r="2.1"/><circle cx="486.9" cy="78.6" r="2.1"/><circle cx="495.8" cy="79.5" r="2.1"/><circle cx="501.8" cy="83.5" r="2.1"/><circle cx="507.0" cy="82.4" r="2.1"/><circle cx="498.1" cy="85.7" r="2.1"/><circle cx="498.1" cy="90.2" r="2.1"/><circle cx="503.0" cy="93.5" r="2.1"/><circle cx="509.6" cy="91.3" r="2.1"/><circle cx="506.3" cy="95.8" r="2.1"/><circle cx="513.0" cy="98.0" r="2.1"/><circle cx="499.6" cy="99.1" r="2.1"/><circle cx="505.2" cy="102.4" r="2.1"/><circle cx="471.1" cy="103.6" r="2.1"/><circle cx="491.8" cy="103.6" r="2.1"/><circle cx="496.3" cy="104.7" r="2.1"/><circle cx="501.8" cy="105.8" r="2.1"/><circle cx="508.5" cy="102.9" r="2.1"/><circle cx="514.1" cy="105.8" r="2.1"/><circle cx="518.5" cy="109.1" r="2.1"/><circle cx="485.8" cy="110.7" r="2.1"/><circle cx="491.8" cy="109.1" r="2.1"/><circle cx="498.5" cy="109.1" r="2.1"/><circle cx="505.2" cy="110.2" r="2.1"/><circle cx="510.7" cy="112.5" r="2.1"/><circle cx="489.6" cy="115.8" r="2.1"/><circle cx="500.7" cy="114.7" r="2.1"/><circle cx="508.5" cy="115.8" r="2.1"/><circle cx="517.4" cy="115.8" r="2.1"/><circle cx="489.6" cy="119.2" r="2.1"/><circle cx="503.0" cy="119.2" r="2.1"/><circle cx="511.9" cy="119.2" r="2.1"/><circle cx="520.8" cy="119.2" r="2.1"/><circle cx="469.5" cy="128.2" r="2.1"/><circle cx="479.6" cy="130.0" r="2.1"/><circle cx="489.6" cy="122.2" r="2.1"/><circle cx="486.2" cy="147.8" r="2.1"/><circle cx="480.2" cy="152.7" r="2.1"/><circle cx="486.9" cy="156.3" r="2.1"/><circle cx="476.4" cy="171.2" r="2.1"/><circle cx="486.9" cy="173.5" r="2.1"/><circle cx="483.8" cy="180.1" r="2.1"/><circle cx="490.9" cy="179.5" r="2.1"/><circle cx="445.7" cy="184.6" r="2.1"/><circle cx="474.0" cy="187.5" r="2.1"/><circle cx="456.2" cy="191.9" r="2.1"/><circle cx="462.4" cy="193.5" r="2.1"/><circle cx="479.6" cy="195.7" r="2.1"/><circle cx="486.2" cy="193.5" r="2.1"/><circle cx="474.0" cy="198.0" r="2.1"/><circle cx="465.1" cy="201.3" r="2.1"/><circle cx="450.6" cy="205.7" r="2.1"/><circle cx="460.6" cy="209.1" r="2.1"/><circle cx="475.1" cy="208.4" r="2.1"/><circle cx="480.7" cy="205.7" r="2.1"/><circle cx="485.1" cy="204.6" r="2.1"/><circle cx="491.8" cy="209.1" r="2.1"/><circle cx="470.7" cy="215.1" r="2.1"/><circle cx="476.9" cy="221.3" r="2.1"/><circle cx="483.4" cy="216.9" r="2.1"/><circle cx="489.6" cy="213.5" r="2.1"/><circle cx="494.0" cy="218.0" r="2.1"/><circle cx="496.3" cy="222.4" r="2.1"/><circle cx="491.8" cy="199.1" r="2.1"/><circle cx="494.0" cy="189.0" r="2.1"/><circle cx="491.8" cy="167.9" r="2.1"/><circle cx="494.0" cy="160.1" r="2.1"/><circle cx="496.3" cy="171.2" r="2.1"/><circle cx="491.8" cy="151.2" r="2.1"/><circle cx="492.9" cy="142.3" r="2.1"/><circle cx="491.8" cy="133.4" r="2.1"/><circle cx="496.3" cy="128.9" r="2.1"/><circle cx="498.5" cy="137.8" r="2.1"/><circle cx="503.0" cy="146.7" r="2.1"/><circle cx="498.5" cy="155.6" r="2.1"/><circle cx="494.1" cy="60.9" r="2.1"/><circle cx="500.6" cy="65.6" r="2.1"/><circle cx="508.0" cy="68.3" r="2.1"/><circle cx="501.5" cy="71.1" r="2.1"/><circle cx="506.2" cy="74.8" r="2.1"/><circle cx="486.7" cy="78.6" r="2.1"/><circle cx="496.0" cy="79.5" r="2.1"/><circle cx="501.5" cy="83.7" r="2.1"/><circle cx="506.7" cy="82.6" r="2.1"/><circle cx="497.8" cy="86.0" r="2.1"/><circle cx="505.3" cy="86.9" r="2.1"/><circle cx="509.0" cy="90.6" r="2.1"/><circle cx="496.9" cy="90.6" r="2.1"/><circle cx="503.4" cy="94.3" r="2.1"/><circle cx="507.1" cy="95.3" r="2.1"/><circle cx="511.7" cy="98.0" r="2.1"/><circle cx="496.9" cy="99.0" r="2.1"/><circle cx="502.5" cy="99.9" r="2.1"/><circle cx="513.6" cy="99.9" r="2.1"/><circle cx="492.3" cy="103.6" r="2.1"/><circle cx="503.4" cy="104.5" r="2.1"/><circle cx="509.0" cy="102.7" r="2.1"/><circle cx="515.5" cy="106.4" r="2.1"/><circle cx="518.2" cy="109.2" r="2.1"/><circle cx="485.8" cy="110.5" r="2.1"/><circle cx="492.3" cy="108.2" r="2.1"/><circle cx="497.8" cy="108.6" r="2.1"/><circle cx="506.2" cy="110.1" r="2.1"/><circle cx="500.6" cy="113.8" r="2.1"/><circle cx="509.9" cy="113.8" r="2.1"/><circle cx="489.5" cy="116.6" r="2.1"/><circle cx="517.3" cy="115.7" r="2.1"/><circle cx="489.5" cy="121.2" r="2.1"/><circle cx="499.7" cy="120.3" r="2.1"/><circle cx="505.3" cy="121.2" r="2.1"/><circle cx="521.0" cy="121.2" r="2.1"/><circle cx="497.8" cy="124.0" r="2.1"/><circle cx="509.9" cy="124.9" r="2.1"/><circle cx="515.5" cy="123.1" r="2.1"/><circle cx="470.9" cy="103.6" r="2.1"/><circle cx="470.9" cy="128.6" r="2.1"/><circle cx="479.3" cy="130.1" r="2.1"/><circle cx="493.2" cy="129.6" r="2.1"/><circle cx="502.5" cy="134.2" r="2.1"/><circle cx="512.7" cy="128.6" r="2.1"/><circle cx="519.2" cy="131.4" r="2.1"/><circle cx="491.3" cy="134.2" r="2.1"/><circle cx="496.9" cy="139.8" r="2.1"/><circle cx="507.1" cy="137.9" r="2.1"/><circle cx="516.4" cy="136.1" r="2.1"/><circle cx="521.9" cy="137.9" r="2.1"/><circle cx="486.7" cy="147.2" r="2.1"/><circle cx="480.2" cy="152.2" r="2.1"/><circle cx="486.7" cy="155.9" r="2.1"/><circle cx="494.1" cy="146.3" r="2.1"/><circle cx="501.5" cy="145.3" r="2.1"/><circle cx="509.0" cy="143.5" r="2.1"/><circle cx="516.4" cy="143.5" r="2.1"/><circle cx="521.9" cy="141.6" r="2.1"/><circle cx="525.7" cy="145.3" r="2.1"/><circle cx="494.1" cy="154.6" r="2.1"/><circle cx="503.4" cy="150.9" r="2.1"/><circle cx="510.8" cy="152.8" r="2.1"/><circle cx="518.2" cy="150.9" r="2.1"/><circle cx="525.7" cy="152.8" r="2.1"/><circle cx="514.9" cy="150.6" r="2.1"/><circle cx="497.5" cy="197.2" r="2.1"/><circle cx="522.0" cy="155.6" r="2.1"/><circle cx="509.5" cy="114.6" r="2.1"/><circle cx="498.2" cy="85.8" r="2.1"/><circle cx="524.8" cy="171.0" r="2.1"/><circle cx="509.2" cy="96.7" r="2.1"/><circle cx="507.4" cy="161.5" r="2.1"/><circle cx="502.8" cy="151.5" r="2.1"/><circle cx="496.3" cy="85.0" r="2.1"/><circle cx="528.7" cy="212.3" r="2.1"/><circle cx="519.8" cy="192.8" r="2.1"/><circle cx="512.6" cy="187.9" r="2.1"/><circle cx="493.7" cy="150.2" r="2.1"/><circle cx="526.8" cy="211.3" r="2.1"/><circle cx="505.6" cy="133.7" r="2.1"/><circle cx="507.3" cy="136.8" r="2.1"/><circle cx="509.1" cy="152.5" r="2.1"/><circle cx="511.4" cy="190.6" r="2.1"/><circle cx="497.8" cy="169.9" r="2.1"/><circle cx="511.6" cy="172.0" r="2.1"/><circle cx="496.1" cy="104.8" r="2.1"/><circle cx="503.0" cy="217.2" r="2.1"/><circle cx="502.9" cy="168.2" r="2.1"/><circle cx="501.3" cy="94.8" r="2.1"/><circle cx="520.8" cy="135.2" r="2.1"/><circle cx="516.9" cy="179.9" r="2.1"/><circle cx="525.8" cy="221.8" r="2.1"/><circle cx="528.4" cy="167.2" r="2.1"/><circle cx="525.2" cy="152.4" r="2.1"/><circle cx="504.1" cy="116.2" r="2.1"/><circle cx="520.6" cy="151.3" r="2.1"/><circle cx="499.3" cy="122.5" r="2.1"/><circle cx="506.0" cy="104.8" r="2.1"/><circle cx="491.5" cy="129.7" r="2.1"/><circle cx="525.8" cy="225.5" r="2.1"/><circle cx="519.5" cy="150.6" r="2.1"/><circle cx="510.4" cy="187.7" r="2.1"/><circle cx="489.8" cy="111.0" r="2.1"/><circle cx="523.3" cy="197.6" r="2.1"/><circle cx="525.1" cy="168.8" r="2.1"/><circle cx="506.2" cy="165.8" r="2.1"/><circle cx="523.8" cy="125.2" r="2.1"/><circle cx="510.7" cy="120.5" r="2.1"/><circle cx="517.0" cy="221.2" r="2.1"/><circle cx="515.3" cy="206.0" r="2.1"/><circle cx="512.8" cy="117.7" r="2.1"/><circle cx="505.4" cy="221.9" r="2.1"/><circle cx="510.9" cy="127.7" r="2.1"/><circle cx="509.0" cy="112.1" r="2.1"/><circle cx="495.5" cy="106.8" r="2.1"/><circle cx="504.2" cy="184.9" r="2.1"/><circle cx="518.0" cy="209.3" r="2.1"/><circle cx="520.7" cy="196.9" r="2.1"/><circle cx="495.9" cy="185.2" r="2.1"/><circle cx="499.1" cy="183.0" r="2.1"/><circle cx="501.6" cy="85.7" r="2.1"/><circle cx="504.7" cy="125.4" r="2.1"/><circle cx="509.4" cy="161.1" r="2.1"/><circle cx="513.5" cy="155.0" r="2.1"/><circle cx="519.0" cy="223.1" r="2.1"/><circle cx="501.4" cy="183.4" r="2.1"/><circle cx="510.4" cy="162.8" r="2.1"/><circle cx="520.1" cy="146.0" r="2.1"/><circle cx="515.3" cy="145.2" r="2.1"/><circle cx="510.0" cy="137.3" r="2.1"/><circle cx="505.2" cy="113.0" r="2.1"/><circle cx="498.8" cy="184.1" r="2.1"/><circle cx="522.4" cy="187.0" r="2.1"/><circle cx="507.5" cy="114.6" r="2.1"/><circle cx="504.6" cy="151.8" r="2.1"/><circle cx="514.8" cy="222.5" r="2.1"/><circle cx="509.0" cy="186.0" r="2.1"/><circle cx="525.5" cy="195.3" r="2.1"/><circle cx="514.5" cy="192.1" r="2.1"/><circle cx="516.3" cy="207.0" r="2.1"/><circle cx="517.5" cy="180.9" r="2.1"/><circle cx="504.6" cy="170.8" r="2.1"/><circle cx="522.7" cy="222.6" r="2.1"/><circle cx="501.5" cy="125.8" r="2.1"/><circle cx="504.8" cy="101.1" r="2.1"/><circle cx="501.1" cy="219.6" r="2.1"/><circle cx="519.3" cy="148.2" r="2.1"/><circle cx="517.7" cy="110.1" r="2.1"/><circle cx="502.5" cy="174.8" r="2.1"/><circle cx="516.8" cy="118.2" r="2.1"/><circle cx="499.1" cy="205.0" r="2.1"/><circle cx="496.9" cy="168.3" r="2.1"/><circle cx="500.1" cy="135.8" r="2.1"/><circle cx="527.5" cy="148.8" r="2.1"/><circle cx="506.7" cy="171.1" r="2.1"/><circle cx="500.2" cy="105.4" r="2.1"/><circle cx="504.5" cy="120.0" r="2.1"/><circle cx="527.3" cy="184.1" r="2.1"/><circle cx="517.6" cy="115.2" r="2.1"/><circle cx="492.5" cy="125.4" r="2.1"/><circle cx="507.4" cy="212.3" r="2.1"/><circle cx="503.9" cy="99.5" r="2.1"/><circle cx="521.4" cy="201.6" r="2.1"/><circle cx="496.4" cy="139.3" r="2.1"/><circle cx="511.4" cy="112.9" r="2.1"/><circle cx="521.8" cy="204.8" r="2.1"/><circle cx="526.9" cy="210.7" r="2.1"/><circle cx="519.5" cy="192.3" r="2.1"/><circle cx="496.4" cy="88.4" r="2.1"/><circle cx="522.3" cy="169.6" r="2.1"/><circle cx="514.3" cy="149.5" r="2.1"/><circle cx="521.7" cy="129.7" r="2.1"/><circle cx="499.8" cy="131.9" r="2.1"/><circle cx="500.9" cy="172.6" r="2.1"/><circle cx="516.7" cy="107.7" r="2.1"/><circle cx="499.8" cy="88.2" r="2.1"/><circle cx="516.8" cy="176.5" r="2.1"/><circle cx="495.1" cy="95.0" r="2.1"/><circle cx="527.1" cy="159.5" r="2.1"/><circle cx="505.5" cy="182.1" r="2.1"/><circle cx="518.7" cy="157.4" r="2.1"/><circle cx="497.4" cy="85.5" r="2.1"/><circle cx="503.2" cy="158.6" r="2.1"/><circle cx="514.6" cy="105.4" r="2.1"/><circle cx="518.0" cy="152.8" r="2.1"/><circle cx="522.0" cy="214.1" r="2.1"/><circle cx="516.7" cy="111.8" r="2.1"/><circle cx="520.8" cy="213.6" r="2.1"/><circle cx="510.7" cy="214.4" r="2.1"/><circle cx="527.6" cy="218.6" r="2.1"/><circle cx="503.2" cy="170.6" r="2.1"/><circle cx="513.7" cy="191.7" r="2.1"/><circle cx="515.4" cy="103.5" r="2.1"/><circle cx="527.1" cy="159.1" r="2.1"/><circle cx="520.7" cy="189.4" r="2.1"/><circle cx="525.1" cy="133.3" r="2.1"/><circle cx="492.0" cy="139.7" r="2.1"/><circle cx="496.0" cy="159.7" r="2.1"/><circle cx="522.3" cy="133.3" r="2.1"/><circle cx="506.1" cy="165.7" r="2.1"/><circle cx="497.3" cy="95.4" r="2.1"/><circle cx="527.0" cy="157.2" r="2.1"/><circle cx="525.7" cy="155.8" r="2.1"/><circle cx="493.7" cy="115.1" r="2.1"/><circle cx="506.2" cy="174.7" r="2.1"/><circle cx="520.5" cy="191.1" r="2.1"/><circle cx="515.5" cy="117.1" r="2.1"/><circle cx="506.4" cy="135.6" r="2.1"/><circle cx="508.9" cy="118.9" r="2.1"/><circle cx="510.9" cy="147.6" r="2.1"/><circle cx="512.9" cy="198.7" r="2.1"/><circle cx="519.1" cy="188.0" r="2.1"/><circle cx="516.1" cy="165.9" r="2.1"/><circle cx="496.8" cy="113.2" r="2.1"/><circle cx="519.0" cy="200.1" r="2.1"/><circle cx="503.9" cy="202.2" r="2.1"/><circle cx="509.3" cy="148.0" r="2.1"/><circle cx="504.7" cy="172.8" r="2.1"/><circle cx="513.4" cy="182.4" r="2.1"/><circle cx="524.4" cy="191.1" r="2.1"/><circle cx="504.1" cy="116.7" r="2.1"/><circle cx="521.0" cy="197.2" r="2.1"/><circle cx="523.7" cy="211.8" r="2.1"/><circle cx="491.8" cy="125.2" r="2.1"/><circle cx="514.8" cy="101.2" r="2.1"/><circle cx="516.8" cy="123.4" r="2.1"/><circle cx="497.6" cy="110.2" r="2.1"/><circle cx="509.2" cy="185.4" r="2.1"/><circle cx="497.6" cy="181.4" r="2.1"/><circle cx="502.5" cy="175.9" r="2.1"/><circle cx="503.8" cy="108.2" r="2.1"/><circle cx="517.4" cy="140.9" r="2.1"/><circle cx="518.6" cy="167.8" r="2.1"/><circle cx="507.0" cy="153.8" r="2.1"/><circle cx="514.9" cy="173.9" r="2.1"/><circle cx="503.7" cy="130.9" r="2.1"/><circle cx="519.9" cy="173.9" r="2.1"/><circle cx="507.5" cy="155.8" r="2.1"/><circle cx="497.9" cy="196.7" r="2.1"/><circle cx="507.4" cy="112.4" r="2.1"/><circle cx="512.9" cy="166.1" r="2.1"/><circle cx="502.1" cy="128.3" r="2.1"/><circle cx="497.5" cy="86.6" r="2.1"/><circle cx="496.3" cy="102.0" r="2.1"/><circle cx="514.4" cy="205.3" r="2.1"/><circle cx="497.8" cy="96.1" r="2.1"/><circle cx="510.7" cy="96.7" r="2.1"/><circle cx="505.4" cy="192.5" r="2.1"/><circle cx="497.0" cy="183.4" r="2.1"/><circle cx="498.6" cy="168.5" r="2.1"/><circle cx="492.6" cy="109.7" r="2.1"/><circle cx="512.5" cy="201.0" r="2.1"/><circle cx="510.1" cy="178.0" r="2.1"/><circle cx="501.8" cy="215.1" r="2.1"/><circle cx="503.4" cy="196.0" r="2.1"/><circle cx="525.5" cy="194.0" r="2.1"/><circle cx="512.6" cy="106.5" r="2.1"/><circle cx="528.5" cy="194.8" r="2.1"/><circle cx="518.4" cy="158.3" r="2.1"/><circle cx="495.4" cy="130.1" r="2.1"/><circle cx="516.1" cy="176.9" r="2.1"/><circle cx="504.7" cy="198.5" r="2.1"/><circle cx="490.8" cy="122.2" r="2.1"/><circle cx="492.3" cy="127.7" r="2.1"/><circle cx="521.4" cy="191.4" r="2.1"/><circle cx="494.8" cy="125.3" r="2.1"/><circle cx="506.9" cy="113.9" r="2.1"/><circle cx="504.1" cy="208.0" r="2.1"/><circle cx="506.2" cy="182.1" r="2.1"/><circle cx="514.6" cy="149.8" r="2.1"/><circle cx="511.6" cy="133.5" r="2.1"/><circle cx="496.8" cy="152.9" r="2.1"/><circle cx="501.2" cy="128.5" r="2.1"/><circle cx="506.2" cy="109.2" r="2.1"/><circle cx="489.9" cy="111.3" r="2.1"/><circle cx="524.6" cy="129.5" r="2.1"/><circle cx="516.2" cy="113.7" r="2.1"/><circle cx="515.5" cy="146.4" r="2.1"/><circle cx="519.1" cy="158.0" r="2.1"/><circle cx="504.1" cy="121.1" r="2.1"/><circle cx="513.2" cy="203.0" r="2.1"/><circle cx="517.2" cy="150.8" r="2.1"/><circle cx="502.2" cy="211.9" r="2.1"/><circle cx="516.7" cy="194.2" r="2.1"/><circle cx="516.6" cy="222.7" r="2.1"/><circle cx="504.3" cy="224.5" r="2.1"/><circle cx="495.5" cy="138.2" r="2.1"/><circle cx="514.5" cy="120.0" r="2.1"/><circle cx="499.7" cy="197.4" r="2.1"/><circle cx="514.0" cy="190.0" r="2.1"/><circle cx="521.3" cy="209.0" r="2.1"/><circle cx="525.6" cy="201.8" r="2.1"/><circle cx="529.1" cy="153.6" r="2.1"/><circle cx="517.6" cy="155.8" r="2.1"/><circle cx="528.7" cy="176.8" r="2.1"/><circle cx="506.4" cy="178.1" r="2.1"/><circle cx="500.8" cy="98.7" r="2.1"/><circle cx="504.6" cy="99.8" r="2.1"/><circle cx="507.4" cy="192.9" r="2.1"/><circle cx="493.2" cy="155.3" r="2.1"/><circle cx="500.8" cy="145.7" r="2.1"/><circle cx="518.1" cy="140.9" r="2.1"/><circle cx="504.8" cy="187.7" r="2.1"/><circle cx="493.4" cy="131.3" r="2.1"/><circle cx="517.7" cy="203.5" r="2.1"/><circle cx="514.5" cy="125.9" r="2.1"/><circle cx="517.7" cy="205.2" r="2.1"/><circle cx="494.2" cy="130.7" r="2.1"/><circle cx="514.8" cy="201.0" r="2.1"/><circle cx="500.1" cy="195.8" r="2.1"/><circle cx="495.5" cy="130.9" r="2.1"/><circle cx="497.4" cy="83.3" r="2.1"/><circle cx="512.3" cy="161.8" r="2.1"/><circle cx="523.8" cy="205.3" r="2.1"/><circle cx="514.3" cy="104.6" r="2.1"/><circle cx="499.1" cy="111.7" r="2.1"/><circle cx="505.0" cy="197.0" r="2.1"/><circle cx="524.0" cy="190.3" r="2.1"/><circle cx="518.8" cy="115.7" r="2.1"/><circle cx="501.9" cy="124.7" r="2.1"/><circle cx="506.5" cy="209.4" r="2.1"/><circle cx="528.5" cy="215.9" r="2.1"/><circle cx="507.7" cy="182.4" r="2.1"/><circle cx="514.1" cy="225.3" r="2.1"/><circle cx="525.0" cy="214.9" r="2.1"/><circle cx="508.7" cy="214.5" r="2.1"/><circle cx="495.5" cy="161.0" r="2.1"/><circle cx="501.4" cy="100.5" r="2.1"/><circle cx="514.9" cy="173.1" r="2.1"/><circle cx="528.6" cy="144.9" r="2.1"/><circle cx="512.4" cy="133.5" r="2.1"/><circle cx="513.7" cy="138.7" r="2.1"/><circle cx="506.8" cy="190.8" r="2.1"/><circle cx="496.3" cy="123.8" r="2.1"/><circle cx="520.2" cy="112.9" r="2.1"/><circle cx="495.2" cy="140.5" r="2.1"/><circle cx="501.6" cy="118.4" r="2.1"/><circle cx="503.2" cy="159.3" r="2.1"/><circle cx="493.4" cy="158.7" r="2.1"/><circle cx="497.0" cy="115.2" r="2.1"/><circle cx="502.7" cy="122.8" r="2.1"/><circle cx="523.2" cy="177.2" r="2.1"/><circle cx="508.2" cy="194.0" r="2.1"/><circle cx="517.0" cy="126.3" r="2.1"/><circle cx="514.1" cy="190.2" r="2.1"/><circle cx="510.7" cy="191.2" r="2.1"/><circle cx="514.8" cy="217.3" r="2.1"/><circle cx="499.5" cy="179.2" r="2.1"/><circle cx="529.0" cy="157.9" r="2.1"/><circle cx="518.6" cy="118.9" r="2.1"/><circle cx="519.7" cy="142.4" r="2.1"/><circle cx="510.8" cy="116.4" r="2.1"/><circle cx="499.2" cy="208.0" r="2.1"/><circle cx="515.2" cy="172.9" r="2.1"/><circle cx="493.4" cy="123.0" r="2.1"/><circle cx="510.9" cy="182.9" r="2.1"/><circle cx="509.7" cy="161.8" r="2.1"/><circle cx="528.8" cy="195.5" r="2.1"/><circle cx="498.4" cy="143.4" r="2.1"/><circle cx="506.0" cy="181.0" r="2.1"/><circle cx="516.5" cy="118.3" r="2.1"/><circle cx="517.3" cy="143.5" r="2.1"/><circle cx="504.2" cy="108.7" r="2.1"/><circle cx="527.2" cy="173.0" r="2.1"/><circle cx="524.1" cy="152.5" r="2.1"/><circle cx="512.9" cy="212.2" r="2.1"/><circle cx="491.1" cy="133.3" r="2.1"/><circle cx="504.1" cy="130.1" r="2.1"/><circle cx="516.7" cy="221.6" r="2.1"/><circle cx="498.3" cy="107.1" r="2.1"/><circle cx="502.5" cy="197.8" r="2.1"/><circle cx="498.0" cy="194.0" r="2.1"/><circle cx="495.8" cy="167.9" r="2.1"/><circle cx="518.5" cy="179.6" r="2.1"/><circle cx="523.7" cy="150.9" r="2.1"/><circle cx="524.2" cy="168.7" r="2.1"/><circle cx="495.6" cy="138.4" r="2.1"/><circle cx="522.6" cy="148.4" r="2.1"/><circle cx="490.3" cy="104.1" r="2.1"/><circle cx="496.3" cy="166.5" r="2.1"/><circle cx="515.3" cy="146.0" r="2.1"/><circle cx="505.3" cy="222.5" r="2.1"/><circle cx="502.8" cy="179.3" r="2.1"/><circle cx="497.1" cy="155.8" r="2.1"/><circle cx="496.0" cy="96.3" r="2.1"/><circle cx="502.5" cy="96.6" r="2.1"/><circle cx="504.4" cy="176.5" r="2.1"/><circle cx="511.3" cy="197.7" r="2.1"/><circle cx="508.4" cy="92.0" r="2.1"/><circle cx="518.7" cy="139.2" r="2.1"/><circle cx="519.7" cy="224.3" r="2.1"/><circle cx="510.3" cy="116.7" r="2.1"/><circle cx="503.4" cy="153.5" r="2.1"/><circle cx="501.8" cy="94.6" r="2.1"/><circle cx="505.1" cy="176.9" r="2.1"/><circle cx="522.4" cy="192.6" r="2.1"/><circle cx="525.2" cy="198.5" r="2.1"/><circle cx="505.6" cy="175.2" r="2.1"/><circle cx="517.9" cy="118.9" r="2.1"/><circle cx="508.2" cy="119.9" r="2.1"/><circle cx="521.5" cy="142.9" r="2.1"/><circle cx="520.9" cy="216.7" r="2.1"/><circle cx="520.8" cy="135.9" r="2.1"/><circle cx="502.8" cy="220.0" r="2.1"/><circle cx="503.6" cy="196.5" r="2.1"/><circle cx="519.9" cy="121.5" r="2.1"/><circle cx="507.1" cy="222.3" r="2.1"/><circle cx="492.3" cy="120.2" r="2.1"/><circle cx="516.1" cy="214.3" r="2.1"/><circle cx="527.8" cy="149.2" r="2.1"/><circle cx="521.3" cy="223.9" r="2.1"/><circle cx="502.2" cy="113.3" r="2.1"/><circle cx="499.3" cy="195.7" r="2.1"/><circle cx="494.4" cy="160.7" r="2.1"/><circle cx="514.6" cy="158.2" r="2.1"/><circle cx="528.6" cy="155.7" r="2.1"/><circle cx="508.9" cy="213.7" r="2.1"/><circle cx="521.9" cy="138.8" r="2.1"/><circle cx="528.7" cy="222.5" r="2.1"/><circle cx="509.0" cy="141.3" r="2.1"/><circle cx="498.0" cy="120.5" r="2.1"/><circle cx="497.1" cy="104.5" r="2.1"/><circle cx="513.4" cy="168.3" r="2.1"/><circle cx="519.1" cy="163.8" r="2.1"/><circle cx="526.8" cy="181.6" r="2.1"/><circle cx="508.7" cy="136.4" r="2.1"/><circle cx="502.9" cy="135.0" r="2.1"/><circle cx="508.4" cy="176.6" r="2.1"/><circle cx="511.4" cy="167.0" r="2.1"/><circle cx="501.6" cy="184.3" r="2.1"/><circle cx="518.0" cy="214.6" r="2.1"/><circle cx="512.6" cy="119.6" r="2.1"/><circle cx="519.4" cy="125.0" r="2.1"/><circle cx="513.3" cy="104.6" r="2.1"/><circle cx="490.1" cy="118.7" r="2.1"/><circle cx="523.7" cy="137.2" r="2.1"/><circle cx="510.2" cy="196.9" r="2.1"/><circle cx="517.3" cy="195.6" r="2.1"/><circle cx="521.5" cy="131.0" r="2.1"/><circle cx="508.2" cy="195.9" r="2.1"/><circle cx="499.0" cy="151.6" r="2.1"/><circle cx="514.8" cy="205.9" r="2.1"/><circle cx="498.7" cy="178.3" r="2.1"/><circle cx="497.6" cy="102.8" r="2.1"/><circle cx="508.3" cy="175.7" r="2.1"/><circle cx="515.1" cy="220.3" r="2.1"/><circle cx="495.4" cy="158.3" r="2.1"/><circle cx="508.5" cy="117.9" r="2.1"/><circle cx="499.4" cy="85.5" r="2.1"/><circle cx="515.2" cy="177.2" r="2.1"/><circle cx="514.9" cy="109.4" r="2.1"/><circle cx="527.6" cy="206.2" r="2.1"/><circle cx="501.6" cy="207.9" r="2.1"/><circle cx="494.0" cy="131.2" r="2.1"/><circle cx="505.9" cy="221.3" r="2.1"/><circle cx="501.0" cy="136.8" r="2.1"/><circle cx="502.7" cy="161.2" r="2.1"/><circle cx="510.5" cy="173.9" r="2.1"/><circle cx="512.5" cy="140.0" r="2.1"/><circle cx="515.3" cy="126.2" r="2.1"/><circle cx="513.7" cy="164.8" r="2.1"/><circle cx="516.5" cy="146.8" r="2.1"/><circle cx="510.3" cy="203.0" r="2.1"/><circle cx="510.1" cy="144.2" r="2.1"/><circle cx="515.3" cy="101.5" r="2.1"/><circle cx="524.7" cy="156.3" r="2.1"/><circle cx="527.7" cy="224.9" r="2.1"/><circle cx="506.2" cy="118.9" r="2.1"/><circle cx="489.3" cy="116.2" r="2.1"/><circle cx="508.1" cy="179.5" r="2.1"/><circle cx="491.4" cy="129.1" r="2.1"/><circle cx="518.7" cy="130.6" r="2.1"/><circle cx="495.9" cy="185.1" r="2.1"/><circle cx="506.7" cy="182.7" r="2.1"/><circle cx="508.6" cy="200.1" r="2.1"/><circle cx="509.8" cy="224.3" r="2.1"/><circle cx="522.3" cy="186.7" r="2.1"/><circle cx="508.9" cy="170.0" r="2.1"/><circle cx="504.2" cy="90.8" r="2.1"/><circle cx="525.2" cy="199.4" r="2.1"/><circle cx="520.4" cy="207.1" r="2.1"/><circle cx="508.2" cy="225.1" r="2.1"/><circle cx="491.9" cy="135.7" r="2.1"/><circle cx="512.2" cy="201.0" r="2.1"/><circle cx="510.2" cy="196.9" r="2.1"/><circle cx="504.1" cy="180.0" r="2.1"/><circle cx="521.6" cy="168.6" r="2.1"/><circle cx="491.6" cy="110.2" r="2.1"/><circle cx="517.4" cy="216.8" r="2.1"/><circle cx="505.1" cy="171.9" r="2.1"/><circle cx="508.9" cy="170.5" r="2.1"/><circle cx="520.9" cy="205.5" r="2.1"/><circle cx="515.3" cy="130.7" r="2.1"/><circle cx="520.9" cy="125.6" r="2.1"/><circle cx="514.4" cy="172.6" r="2.1"/><circle cx="529.6" cy="196.4" r="2.1"/><circle cx="492.6" cy="105.8" r="2.1"/><circle cx="503.4" cy="138.4" r="2.1"/><circle cx="518.3" cy="118.1" r="2.1"/><circle cx="511.7" cy="146.6" r="2.1"/><circle cx="501.2" cy="174.9" r="2.1"/><circle cx="506.6" cy="225.0" r="2.1"/><circle cx="515.0" cy="147.7" r="2.1"/><circle cx="521.9" cy="131.4" r="2.1"/><circle cx="518.1" cy="158.5" r="2.1"/><circle cx="501.5" cy="150.8" r="2.1"/><circle cx="520.1" cy="209.6" r="2.1"/><circle cx="524.0" cy="134.1" r="2.1"/><circle cx="511.4" cy="143.7" r="2.1"/><circle cx="524.5" cy="186.8" r="2.1"/><circle cx="515.9" cy="199.9" r="2.1"/><circle cx="503.0" cy="145.4" r="2.1"/><circle cx="492.9" cy="131.6" r="2.1"/><circle cx="496.9" cy="188.1" r="2.1"/><circle cx="513.4" cy="145.8" r="2.1"/><circle cx="493.5" cy="145.8" r="2.1"/><circle cx="511.9" cy="100.9" r="2.1"/><circle cx="506.6" cy="121.8" r="2.1"/><circle cx="504.0" cy="120.6" r="2.1"/><circle cx="503.7" cy="168.2" r="2.1"/><circle cx="508.5" cy="127.7" r="2.1"/><circle cx="501.3" cy="144.1" r="2.1"/><circle cx="520.3" cy="143.4" r="2.1"/><circle cx="505.8" cy="176.6" r="2.1"/><circle cx="500.1" cy="161.2" r="2.1"/><circle cx="496.7" cy="171.1" r="2.1"/><circle cx="510.9" cy="176.6" r="2.1"/><circle cx="524.8" cy="197.6" r="2.1"/><circle cx="528.1" cy="145.6" r="2.1"/><circle cx="503.8" cy="147.1" r="2.1"/><circle cx="526.7" cy="221.2" r="2.1"/><circle cx="521.9" cy="124.2" r="2.1"/><circle cx="493.5" cy="109.7" r="2.1"/><circle cx="516.4" cy="183.8" r="2.1"/><circle cx="510.5" cy="170.4" r="2.1"/><circle cx="497.5" cy="196.3" r="2.1"/><circle cx="513.7" cy="144.6" r="2.1"/><circle cx="503.3" cy="171.5" r="2.1"/><circle cx="527.7" cy="220.4" r="2.1"/><circle cx="526.6" cy="224.8" r="2.1"/><circle cx="510.2" cy="149.0" r="2.1"/><circle cx="528.9" cy="145.2" r="2.1"/><circle cx="494.2" cy="109.8" r="2.1"/><circle cx="526.0" cy="200.7" r="2.1"/><circle cx="504.0" cy="187.5" r="2.1"/><circle cx="512.0" cy="206.9" r="2.1"/><circle cx="511.7" cy="205.9" r="2.1"/><circle cx="505.6" cy="202.2" r="2.1"/><circle cx="507.1" cy="132.8" r="2.1"/><circle cx="503.5" cy="113.4" r="2.1"/><circle cx="509.3" cy="222.0" r="2.1"/><circle cx="513.1" cy="193.5" r="2.1"/><circle cx="496.0" cy="134.4" r="2.1"/><circle cx="512.6" cy="136.5" r="2.1"/><circle cx="499.8" cy="128.7" r="2.1"/><circle cx="511.0" cy="225.0" r="2.1"/><circle cx="494.6" cy="115.9" r="2.1"/><circle cx="516.2" cy="186.7" r="2.1"/><circle cx="526.5" cy="220.0" r="2.1"/><circle cx="511.2" cy="138.5" r="2.1"/><circle cx="508.4" cy="92.9" r="2.1"/><circle cx="492.8" cy="141.7" r="2.1"/><circle cx="494.2" cy="143.4" r="2.1"/><circle cx="516.7" cy="138.1" r="2.1"/><circle cx="507.6" cy="186.7" r="2.1"/><circle cx="500.5" cy="81.6" r="2.1"/><circle cx="520.0" cy="164.2" r="2.1"/><circle cx="514.3" cy="169.1" r="2.1"/><circle cx="519.0" cy="130.0" r="2.1"/><circle cx="510.3" cy="175.3" r="2.1"/><circle cx="498.5" cy="86.0" r="2.1"/><circle cx="505.8" cy="184.2" r="2.1"/><circle cx="511.2" cy="142.2" r="2.1"/><circle cx="513.5" cy="101.0" r="2.1"/><circle cx="492.2" cy="122.9" r="2.1"/><circle cx="510.3" cy="200.1" r="2.1"/><circle cx="499.2" cy="130.1" r="2.1"/><circle cx="497.3" cy="120.0" r="2.1"/><circle cx="519.8" cy="158.0" r="2.1"/><circle cx="495.9" cy="89.3" r="2.1"/><circle cx="520.1" cy="182.5" r="2.1"/><circle cx="509.1" cy="215.4" r="2.1"/><circle cx="511.3" cy="219.5" r="2.1"/><circle cx="486.6" cy="137.3" r="2.1"/><circle cx="485.1" cy="198.4" r="2.1"/><circle cx="515.6" cy="223.9" r="2.1"/><circle cx="521.0" cy="220.1" r="2.1"/><circle cx="518.5" cy="126.5" r="2.1"/><circle cx="492.9" cy="84.5" r="2.1"/><circle cx="505.4" cy="103.2" r="2.1"/><circle cx="526.9" cy="220.3" r="2.1"/><circle cx="493.9" cy="88.8" r="2.1"/><circle cx="508.3" cy="99.1" r="2.1"/><circle cx="509.0" cy="198.9" r="2.1"/><circle cx="495.6" cy="138.2" r="2.1"/><circle cx="525.4" cy="141.8" r="2.1"/><circle cx="499.8" cy="211.3" r="2.1"/><circle cx="521.4" cy="211.7" r="2.1"/><circle cx="515.6" cy="136.8" r="2.1"/><circle cx="515.9" cy="201.6" r="2.1"/><circle cx="513.4" cy="109.7" r="2.1"/><circle cx="497.6" cy="136.3" r="2.1"/><circle cx="519.5" cy="159.2" r="2.1"/><circle cx="509.3" cy="201.1" r="2.1"/><circle cx="489.0" cy="170.7" r="2.1"/><circle cx="499.3" cy="159.6" r="2.1"/><circle cx="509.9" cy="156.8" r="2.1"/><circle cx="494.8" cy="159.8" r="2.1"/><circle cx="505.7" cy="142.5" r="2.1"/><circle cx="501.4" cy="194.7" r="2.1"/><circle cx="490.5" cy="207.4" r="2.1"/><circle cx="493.4" cy="178.5" r="2.1"/><circle cx="492.0" cy="142.5" r="2.1"/><circle cx="503.4" cy="85.4" r="2.1"/><circle cx="516.2" cy="147.3" r="2.1"/><circle cx="515.7" cy="156.4" r="2.1"/><circle cx="509.6" cy="154.4" r="2.1"/><circle cx="497.7" cy="212.3" r="2.1"/><circle cx="488.0" cy="208.8" r="2.1"/><circle cx="523.7" cy="150.0" r="2.1"/><circle cx="519.7" cy="177.3" r="2.1"/><circle cx="511.8" cy="118.0" r="2.1"/><circle cx="498.7" cy="127.0" r="2.1"/><circle cx="499.7" cy="132.9" r="2.1"/><circle cx="503.3" cy="199.5" r="2.1"/><circle cx="506.0" cy="158.7" r="2.1"/><circle cx="495.8" cy="115.9" r="2.1"/><circle cx="496.1" cy="205.1" r="2.1"/><circle cx="507.1" cy="89.8" r="2.1"/><circle cx="505.3" cy="91.5" r="2.1"/><circle cx="510.0" cy="141.4" r="2.1"/><circle cx="529.2" cy="171.2" r="2.1"/><circle cx="486.0" cy="198.1" r="2.1"/><circle cx="496.7" cy="129.0" r="2.1"/><circle cx="490.7" cy="202.8" r="2.1"/><circle cx="488.2" cy="187.4" r="2.1"/><circle cx="502.2" cy="178.2" r="2.1"/><circle cx="497.5" cy="84.9" r="2.1"/><circle cx="526.1" cy="174.4" r="2.1"/><circle cx="484.9" cy="167.6" r="2.1"/><circle cx="490.4" cy="186.4" r="2.1"/><circle cx="505.6" cy="182.8" r="2.1"/><circle cx="510.2" cy="192.4" r="2.1"/><circle cx="521.8" cy="166.3" r="2.1"/><circle cx="511.2" cy="123.5" r="2.1"/><circle cx="503.6" cy="121.9" r="2.1"/><circle cx="512.5" cy="155.5" r="2.1"/><circle cx="523.5" cy="140.4" r="2.1"/><circle cx="500.6" cy="173.8" r="2.1"/><circle cx="518.3" cy="216.4" r="2.1"/><circle cx="498.3" cy="210.4" r="2.1"/><circle cx="529.1" cy="225.3" r="2.1"/><circle cx="489.9" cy="131.7" r="2.1"/><circle cx="519.6" cy="201.8" r="2.1"/><circle cx="485.8" cy="134.1" r="2.1"/><circle cx="517.3" cy="190.5" r="2.1"/><circle cx="508.6" cy="105.4" r="2.1"/><circle cx="502.7" cy="81.8" r="2.1"/><circle cx="498.5" cy="139.1" r="2.1"/><circle cx="521.9" cy="164.2" r="2.1"/><circle cx="503.1" cy="110.9" r="2.1"/><circle cx="498.5" cy="176.9" r="2.1"/><circle cx="504.5" cy="99.6" r="2.1"/><circle cx="521.8" cy="162.1" r="2.1"/><circle cx="528.5" cy="156.0" r="2.1"/><circle cx="512.7" cy="139.1" r="2.1"/><circle cx="512.0" cy="215.4" r="2.1"/><circle cx="529.1" cy="175.3" r="2.1"/><circle cx="503.8" cy="82.4" r="2.1"/><circle cx="522.6" cy="133.5" r="2.1"/><circle cx="501.6" cy="81.6" r="2.1"/><circle cx="528.8" cy="187.7" r="2.1"/><circle cx="516.6" cy="176.5" r="2.1"/><circle cx="496.6" cy="98.9" r="2.1"/><circle cx="511.1" cy="152.6" r="2.1"/><circle cx="509.0" cy="91.5" r="2.1"/><circle cx="487.1" cy="146.2" r="2.1"/><circle cx="490.7" cy="172.3" r="2.1"/><circle cx="498.2" cy="169.1" r="2.1"/><circle cx="518.5" cy="166.9" r="2.1"/><circle cx="508.5" cy="103.3" r="2.1"/><circle cx="496.4" cy="116.9" r="2.1"/><circle cx="506.7" cy="157.5" r="2.1"/><circle cx="520.4" cy="118.6" r="2.1"/><circle cx="520.4" cy="161.2" r="2.1"/><circle cx="515.7" cy="219.8" r="2.1"/><circle cx="514.7" cy="90.2" r="2.1"/><circle cx="526.4" cy="223.3" r="2.1"/><circle cx="489.1" cy="201.2" r="2.1"/><circle cx="520.6" cy="184.5" r="2.1"/><circle cx="528.0" cy="170.8" r="2.1"/><circle cx="507.5" cy="115.0" r="2.1"/><circle cx="513.7" cy="208.7" r="2.1"/><circle cx="493.1" cy="186.8" r="2.1"/><circle cx="494.0" cy="82.2" r="2.1"/><circle cx="514.5" cy="94.8" r="2.1"/><circle cx="521.2" cy="190.6" r="2.1"/><circle cx="510.2" cy="161.5" r="2.1"/><circle cx="520.7" cy="171.5" r="2.1"/><circle cx="490.4" cy="196.5" r="2.1"/><circle cx="500.3" cy="163.4" r="2.1"/><circle cx="507.6" cy="213.1" r="2.1"/><circle cx="503.1" cy="205.2" r="2.1"/><circle cx="487.8" cy="123.4" r="2.1"/><circle cx="514.8" cy="167.7" r="2.1"/></g><polygon points="559.6,158.0 568.0,150.0 575.0,155.0 577.0,175.0 578.0,198.0 580.0,215.0 580.0,227.5 559.6,227.5" fill="#108a10"/><g fill="rgba(16,138,16,0.76)"><circle cx="561.2" cy="158.9" r="2.1"/><circle cx="563.7" cy="156.6" r="2.1"/><circle cx="566.3" cy="153.3" r="2.1"/><circle cx="567.0" cy="150.8" r="2.1"/><circle cx="569.1" cy="152.9" r="2.1"/><circle cx="571.2" cy="152.3" r="2.1"/><circle cx="572.9" cy="155.2" r="2.1"/><circle cx="574.9" cy="157.4" r="2.1"/><circle cx="575.0" cy="158.8" r="2.1"/><circle cx="575.4" cy="161.9" r="2.1"/><circle cx="575.7" cy="166.1" r="2.1"/><circle cx="576.3" cy="168.0" r="2.1"/><circle cx="576.6" cy="171.4" r="2.1"/><circle cx="575.7" cy="172.4" r="2.1"/><circle cx="575.8" cy="177.7" r="2.1"/><circle cx="576.3" cy="180.0" r="2.1"/><circle cx="577.0" cy="183.6" r="2.1"/><circle cx="576.2" cy="183.7" r="2.1"/><circle cx="577.3" cy="188.0" r="2.1"/><circle cx="576.4" cy="189.7" r="2.1"/><circle cx="577.6" cy="193.0" r="2.1"/><circle cx="575.9" cy="198.0" r="2.1"/><circle cx="578.2" cy="198.4" r="2.1"/><circle cx="577.7" cy="203.0" r="2.1"/><circle cx="579.0" cy="205.8" r="2.1"/><circle cx="577.8" cy="209.3" r="2.1"/><circle cx="579.7" cy="211.8" r="2.1"/><circle cx="578.0" cy="213.9" r="2.1"/><circle cx="578.6" cy="215.2" r="2.1"/><circle cx="578.8" cy="219.8" r="2.1"/><circle cx="579.2" cy="223.0" r="2.1"/><circle cx="579.1" cy="226.8" r="2.1"/><circle cx="578.2" cy="225.8" r="2.1"/><circle cx="575.3" cy="227.0" r="2.1"/><circle cx="571.6" cy="225.3" r="2.1"/><circle cx="570.6" cy="227.3" r="2.1"/><circle cx="567.5" cy="226.5" r="2.1"/><circle cx="564.0" cy="225.3" r="2.1"/><circle cx="560.5" cy="226.3" r="2.1"/><circle cx="560.6" cy="226.9" r="2.1"/><circle cx="560.7" cy="222.5" r="2.1"/><circle cx="560.1" cy="222.1" r="2.1"/><circle cx="560.7" cy="219.4" r="2.1"/><circle cx="561.4" cy="214.3" r="2.1"/><circle cx="561.5" cy="214.0" r="2.1"/><circle cx="561.6" cy="210.7" r="2.1"/><circle cx="561.2" cy="207.8" r="2.1"/><circle cx="559.8" cy="204.7" r="2.1"/><circle cx="561.5" cy="202.1" r="2.1"/><circle cx="560.6" cy="199.6" r="2.1"/><circle cx="561.7" cy="196.9" r="2.1"/><circle cx="560.5" cy="194.9" r="2.1"/><circle cx="561.4" cy="190.7" r="2.1"/><circle cx="560.1" cy="189.1" r="2.1"/><circle cx="559.9" cy="185.0" r="2.1"/><circle cx="561.6" cy="182.3" r="2.1"/><circle cx="560.0" cy="182.1" r="2.1"/><circle cx="560.0" cy="178.9" r="2.1"/><circle cx="561.3" cy="175.1" r="2.1"/><circle cx="559.7" cy="172.8" r="2.1"/><circle cx="560.1" cy="171.2" r="2.1"/><circle cx="559.7" cy="167.9" r="2.1"/><circle cx="560.8" cy="165.6" r="2.1"/><circle cx="561.0" cy="162.2" r="2.1"/><circle cx="559.7" cy="158.5" r="2.1"/></g><g fill="rgba(16,138,16,0.76)"><circle cx="584.0" cy="73.5" r="2.1"/><circle cx="650.3" cy="71.7" r="2.1"/><circle cx="586.9" cy="99.6" r="2.1"/><circle cx="590.7" cy="99.6" r="2.1"/><circle cx="581.1" cy="108.5" r="2.1"/><circle cx="598.5" cy="106.9" r="2.1"/><circle cx="572.2" cy="117.4" r="2.1"/><circle cx="577.3" cy="117.4" r="2.1"/><circle cx="589.5" cy="125.1" r="2.1"/><circle cx="592.9" cy="128.9" r="2.1"/><circle cx="603.6" cy="128.9" r="2.1"/><circle cx="582.9" cy="130.0" r="2.1"/><circle cx="584.6" cy="131.6" r="2.1"/><circle cx="590.7" cy="136.3" r="2.1"/><circle cx="601.8" cy="137.8" r="2.1"/><circle cx="611.8" cy="139.6" r="2.1"/><circle cx="567.3" cy="138.9" r="2.1"/><circle cx="575.1" cy="134.5" r="2.1"/><circle cx="578.4" cy="136.7" r="2.1"/><circle cx="581.7" cy="141.8" r="2.1"/><circle cx="559.5" cy="149.0" r="2.1"/><circle cx="568.4" cy="146.7" r="2.1"/><circle cx="580.6" cy="153.4" r="2.1"/><circle cx="584.0" cy="157.9" r="2.1"/><circle cx="600.2" cy="156.1" r="2.1"/><circle cx="596.9" cy="161.9" r="2.1"/><circle cx="608.0" cy="164.5" r="2.1"/><circle cx="595.8" cy="166.8" r="2.1"/><circle cx="598.5" cy="167.9" r="2.1"/><circle cx="588.4" cy="169.4" r="2.1"/><circle cx="592.9" cy="173.5" r="2.1"/><circle cx="599.1" cy="173.9" r="2.1"/><circle cx="607.4" cy="179.0" r="2.1"/><circle cx="611.8" cy="179.7" r="2.1"/><circle cx="637.4" cy="179.0" r="2.1"/><circle cx="627.0" cy="185.7" r="2.1"/><circle cx="617.4" cy="188.4" r="2.1"/><circle cx="603.6" cy="186.4" r="2.1"/><circle cx="598.5" cy="186.1" r="2.1"/><circle cx="590.7" cy="184.6" r="2.1"/><circle cx="585.1" cy="185.7" r="2.1"/><circle cx="594.0" cy="189.0" r="2.1"/><circle cx="587.3" cy="192.4" r="2.1"/><circle cx="592.9" cy="193.5" r="2.1"/><circle cx="591.8" cy="200.2" r="2.1"/><circle cx="596.2" cy="203.5" r="2.1"/><circle cx="601.3" cy="204.6" r="2.1"/><circle cx="611.8" cy="204.2" r="2.1"/><circle cx="616.3" cy="206.9" r="2.1"/><circle cx="611.8" cy="209.1" r="2.1"/><circle cx="607.4" cy="211.3" r="2.1"/><circle cx="623.0" cy="212.4" r="2.1"/><circle cx="608.0" cy="216.4" r="2.1"/><circle cx="599.6" cy="208.0" r="2.1"/><circle cx="592.9" cy="210.2" r="2.1"/><circle cx="587.3" cy="209.1" r="2.1"/><circle cx="596.7" cy="218.7" r="2.1"/><circle cx="591.8" cy="222.4" r="2.1"/><circle cx="600.7" cy="219.1" r="2.1"/><circle cx="587.3" cy="229.1" r="2.1"/><circle cx="584.0" cy="233.6" r="2.1"/><circle cx="574.0" cy="231.4" r="2.1"/><circle cx="560.6" cy="227.9" r="2.1"/><circle cx="564.9" cy="146.2" r="2.1"/><circle cx="577.2" cy="167.1" r="2.1"/><circle cx="575.9" cy="221.7" r="2.1"/><circle cx="578.1" cy="220.9" r="2.1"/><circle cx="583.3" cy="189.8" r="2.1"/><circle cx="568.2" cy="152.7" r="2.1"/><circle cx="582.4" cy="189.2" r="2.1"/><circle cx="584.8" cy="207.0" r="2.1"/><circle cx="578.4" cy="191.9" r="2.1"/><circle cx="566.8" cy="224.0" r="2.1"/><circle cx="568.2" cy="207.6" r="2.1"/><circle cx="585.2" cy="195.5" r="2.1"/><circle cx="563.8" cy="211.7" r="2.1"/><circle cx="577.6" cy="152.2" r="2.1"/><circle cx="561.3" cy="184.5" r="2.1"/><circle cx="560.9" cy="221.0" r="2.1"/><circle cx="573.4" cy="183.1" r="2.1"/><circle cx="570.8" cy="196.5" r="2.1"/><circle cx="569.9" cy="189.2" r="2.1"/><circle cx="567.8" cy="190.4" r="2.1"/><circle cx="574.3" cy="175.3" r="2.1"/><circle cx="577.8" cy="184.1" r="2.1"/><circle cx="562.3" cy="227.7" r="2.1"/><circle cx="569.4" cy="175.2" r="2.1"/><circle cx="570.6" cy="221.4" r="2.1"/><circle cx="570.6" cy="144.0" r="2.1"/><circle cx="574.4" cy="167.5" r="2.1"/><circle cx="568.7" cy="168.2" r="2.1"/><circle cx="565.0" cy="138.4" r="2.1"/><circle cx="574.1" cy="209.0" r="2.1"/><circle cx="577.1" cy="153.7" r="2.1"/><circle cx="570.8" cy="212.0" r="2.1"/><circle cx="584.3" cy="177.8" r="2.1"/><circle cx="582.3" cy="181.4" r="2.1"/><circle cx="573.8" cy="189.4" r="2.1"/><circle cx="586.2" cy="204.2" r="2.1"/><circle cx="572.5" cy="202.6" r="2.1"/><circle cx="577.0" cy="167.9" r="2.1"/><circle cx="580.7" cy="211.2" r="2.1"/><circle cx="576.1" cy="222.7" r="2.1"/><circle cx="560.5" cy="181.5" r="2.1"/><circle cx="576.8" cy="166.7" r="2.1"/><circle cx="564.5" cy="199.4" r="2.1"/><circle cx="571.5" cy="160.0" r="2.1"/><circle cx="561.1" cy="224.9" r="2.1"/><circle cx="569.3" cy="146.0" r="2.1"/><circle cx="565.7" cy="158.7" r="2.1"/><circle cx="567.3" cy="144.1" r="2.1"/><circle cx="572.4" cy="154.3" r="2.1"/><circle cx="569.1" cy="203.3" r="2.1"/><circle cx="584.4" cy="212.6" r="2.1"/><circle cx="561.0" cy="170.1" r="2.1"/><circle cx="565.4" cy="180.6" r="2.1"/><circle cx="570.1" cy="204.8" r="2.1"/><circle cx="579.0" cy="178.2" r="2.1"/><circle cx="566.6" cy="156.5" r="2.1"/><circle cx="567.0" cy="141.1" r="2.1"/><circle cx="577.6" cy="149.7" r="2.1"/><circle cx="583.5" cy="195.1" r="2.1"/><circle cx="561.5" cy="181.4" r="2.1"/><circle cx="575.9" cy="138.9" r="2.1"/><circle cx="572.8" cy="137.8" r="2.1"/><circle cx="574.1" cy="148.0" r="2.1"/><circle cx="569.0" cy="215.3" r="2.1"/><circle cx="570.0" cy="194.5" r="2.1"/><circle cx="564.6" cy="209.6" r="2.1"/><circle cx="583.6" cy="186.3" r="2.1"/><circle cx="569.6" cy="213.9" r="2.1"/><circle cx="573.5" cy="152.5" r="2.1"/><circle cx="567.3" cy="149.8" r="2.1"/><circle cx="582.1" cy="182.4" r="2.1"/><circle cx="578.4" cy="211.0" r="2.1"/><circle cx="570.7" cy="216.3" r="2.1"/><circle cx="580.1" cy="171.0" r="2.1"/><circle cx="577.3" cy="153.1" r="2.1"/><circle cx="564.3" cy="139.7" r="2.1"/><circle cx="570.0" cy="156.9" r="2.1"/><circle cx="573.7" cy="225.2" r="2.1"/><circle cx="564.0" cy="186.9" r="2.1"/><circle cx="582.8" cy="190.7" r="2.1"/><circle cx="573.9" cy="206.4" r="2.1"/><circle cx="560.6" cy="223.2" r="2.1"/><circle cx="578.1" cy="210.0" r="2.1"/><circle cx="561.8" cy="151.6" r="2.1"/><circle cx="573.3" cy="222.3" r="2.1"/><circle cx="584.0" cy="173.3" r="2.1"/><circle cx="576.4" cy="203.8" r="2.1"/><circle cx="568.8" cy="225.3" r="2.1"/><circle cx="584.9" cy="202.6" r="2.1"/><circle cx="583.8" cy="209.5" r="2.1"/><circle cx="577.2" cy="164.9" r="2.1"/><circle cx="567.4" cy="157.2" r="2.1"/><circle cx="561.5" cy="221.1" r="2.1"/><circle cx="567.9" cy="137.2" r="2.1"/><circle cx="568.3" cy="144.6" r="2.1"/><circle cx="571.8" cy="165.9" r="2.1"/><circle cx="564.6" cy="179.3" r="2.1"/><circle cx="571.0" cy="167.9" r="2.1"/><circle cx="581.5" cy="163.5" r="2.1"/><circle cx="574.3" cy="216.6" r="2.1"/><circle cx="561.1" cy="223.4" r="2.1"/><circle cx="573.6" cy="155.2" r="2.1"/><circle cx="563.4" cy="157.2" r="2.1"/><circle cx="568.2" cy="147.9" r="2.1"/><circle cx="561.3" cy="227.5" r="2.1"/><circle cx="572.7" cy="209.5" r="2.1"/><circle cx="573.3" cy="141.4" r="2.1"/><circle cx="569.0" cy="170.4" r="2.1"/><circle cx="584.1" cy="189.2" r="2.1"/><circle cx="572.1" cy="193.7" r="2.1"/><circle cx="561.3" cy="198.8" r="2.1"/><circle cx="581.3" cy="197.4" r="2.1"/><circle cx="569.5" cy="161.6" r="2.1"/><circle cx="560.3" cy="142.6" r="2.1"/><circle cx="564.1" cy="177.2" r="2.1"/><circle cx="580.5" cy="155.2" r="2.1"/><circle cx="572.5" cy="194.1" r="2.1"/><circle cx="584.3" cy="189.4" r="2.1"/><circle cx="568.0" cy="157.3" r="2.1"/><circle cx="578.2" cy="221.7" r="2.1"/><circle cx="568.9" cy="172.0" r="2.1"/><circle cx="574.7" cy="151.3" r="2.1"/><circle cx="570.7" cy="220.3" r="2.1"/><circle cx="574.7" cy="211.5" r="2.1"/><circle cx="566.9" cy="215.8" r="2.1"/><circle cx="580.7" cy="156.0" r="2.1"/><circle cx="574.0" cy="198.4" r="2.1"/><circle cx="575.1" cy="191.0" r="2.1"/><circle cx="566.3" cy="186.5" r="2.1"/><circle cx="569.4" cy="209.2" r="2.1"/><circle cx="569.8" cy="226.1" r="2.1"/><circle cx="575.3" cy="156.2" r="2.1"/><circle cx="571.0" cy="146.9" r="2.1"/><circle cx="576.0" cy="163.6" r="2.1"/><circle cx="578.0" cy="201.4" r="2.1"/><circle cx="566.2" cy="147.1" r="2.1"/><circle cx="569.8" cy="195.4" r="2.1"/><circle cx="571.7" cy="210.2" r="2.1"/><circle cx="564.2" cy="222.5" r="2.1"/><circle cx="573.4" cy="149.9" r="2.1"/><circle cx="562.6" cy="169.5" r="2.1"/><circle cx="572.6" cy="151.3" r="2.1"/><circle cx="562.2" cy="181.6" r="2.1"/><circle cx="566.7" cy="176.3" r="2.1"/><circle cx="571.9" cy="199.9" r="2.1"/><circle cx="575.2" cy="156.2" r="2.1"/><circle cx="564.7" cy="214.9" r="2.1"/><circle cx="561.3" cy="146.5" r="2.1"/><circle cx="561.8" cy="211.8" r="2.1"/><circle cx="574.3" cy="220.9" r="2.1"/><circle cx="576.5" cy="166.2" r="2.1"/><circle cx="571.4" cy="203.1" r="2.1"/><circle cx="566.1" cy="209.7" r="2.1"/><circle cx="570.8" cy="138.9" r="2.1"/><circle cx="569.1" cy="187.1" r="2.1"/><circle cx="563.9" cy="219.2" r="2.1"/><circle cx="584.5" cy="182.6" r="2.1"/><circle cx="583.9" cy="199.2" r="2.1"/><circle cx="574.2" cy="149.7" r="2.1"/><circle cx="571.9" cy="170.8" r="2.1"/><circle cx="561.9" cy="192.6" r="2.1"/><circle cx="582.6" cy="171.2" r="2.1"/><circle cx="567.6" cy="192.0" r="2.1"/><circle cx="567.5" cy="194.7" r="2.1"/><circle cx="561.1" cy="211.0" r="2.1"/><circle cx="568.3" cy="212.4" r="2.1"/><circle cx="572.0" cy="150.4" r="2.1"/><circle cx="560.5" cy="145.5" r="2.1"/><circle cx="566.9" cy="205.5" r="2.1"/><circle cx="581.0" cy="193.7" r="2.1"/><circle cx="568.1" cy="196.8" r="2.1"/><circle cx="579.3" cy="169.2" r="2.1"/><circle cx="562.2" cy="178.6" r="2.1"/><circle cx="565.9" cy="152.5" r="2.1"/><circle cx="570.3" cy="141.9" r="2.1"/><circle cx="583.7" cy="203.6" r="2.1"/><circle cx="560.3" cy="218.6" r="2.1"/><circle cx="581.4" cy="183.9" r="2.1"/><circle cx="583.3" cy="179.5" r="2.1"/><circle cx="560.7" cy="148.9" r="2.1"/><circle cx="568.2" cy="214.8" r="2.1"/><circle cx="569.2" cy="145.4" r="2.1"/><circle cx="566.0" cy="167.7" r="2.1"/><circle cx="570.9" cy="148.9" r="2.1"/><circle cx="577.4" cy="157.5" r="2.1"/><circle cx="583.5" cy="179.8" r="2.1"/><circle cx="571.3" cy="206.2" r="2.1"/><circle cx="569.1" cy="158.9" r="2.1"/><circle cx="563.2" cy="162.4" r="2.1"/><circle cx="566.2" cy="203.4" r="2.1"/><circle cx="569.4" cy="200.7" r="2.1"/><circle cx="567.3" cy="141.5" r="2.1"/><circle cx="568.0" cy="171.5" r="2.1"/><circle cx="565.6" cy="149.5" r="2.1"/><circle cx="566.7" cy="224.3" r="2.1"/><circle cx="561.3" cy="180.2" r="2.1"/><circle cx="575.4" cy="145.4" r="2.1"/><circle cx="571.0" cy="206.5" r="2.1"/><circle cx="560.0" cy="201.8" r="2.1"/><circle cx="578.1" cy="208.1" r="2.1"/><circle cx="572.9" cy="178.1" r="2.1"/><circle cx="573.7" cy="147.7" r="2.1"/><circle cx="573.6" cy="157.3" r="2.1"/><circle cx="568.5" cy="139.2" r="2.1"/><circle cx="564.2" cy="140.1" r="2.1"/><circle cx="574.3" cy="157.0" r="2.1"/><circle cx="574.7" cy="181.8" r="2.1"/><circle cx="566.2" cy="146.8" r="2.1"/><circle cx="575.7" cy="197.9" r="2.1"/><circle cx="578.2" cy="182.2" r="2.1"/><circle cx="568.1" cy="209.5" r="2.1"/><circle cx="590.1" cy="211.1" r="2.1"/><circle cx="568.2" cy="193.3" r="2.1"/><circle cx="563.9" cy="202.5" r="2.1"/><circle cx="566.4" cy="197.1" r="2.1"/><circle cx="590.6" cy="203.4" r="2.1"/><circle cx="578.7" cy="213.9" r="2.1"/><circle cx="581.9" cy="223.6" r="2.1"/><circle cx="591.3" cy="169.5" r="2.1"/><circle cx="572.9" cy="223.1" r="2.1"/><circle cx="563.6" cy="202.8" r="2.1"/><circle cx="573.8" cy="154.9" r="2.1"/><circle cx="582.9" cy="161.3" r="2.1"/><circle cx="573.4" cy="216.9" r="2.1"/><circle cx="562.9" cy="132.9" r="2.1"/><circle cx="588.1" cy="206.8" r="2.1"/><circle cx="596.4" cy="150.8" r="2.1"/><circle cx="591.4" cy="220.1" r="2.1"/><circle cx="564.0" cy="174.8" r="2.1"/><circle cx="566.5" cy="137.8" r="2.1"/><circle cx="580.3" cy="193.3" r="2.1"/><circle cx="592.4" cy="178.7" r="2.1"/><circle cx="570.3" cy="189.1" r="2.1"/><circle cx="571.0" cy="190.5" r="2.1"/><circle cx="587.4" cy="163.9" r="2.1"/><circle cx="593.6" cy="165.2" r="2.1"/><circle cx="579.8" cy="210.3" r="2.1"/><circle cx="570.6" cy="142.2" r="2.1"/><circle cx="584.3" cy="168.5" r="2.1"/><circle cx="575.7" cy="128.8" r="2.1"/><circle cx="579.1" cy="155.6" r="2.1"/><circle cx="579.0" cy="203.1" r="2.1"/><circle cx="561.6" cy="226.9" r="2.1"/><circle cx="590.1" cy="208.1" r="2.1"/><circle cx="582.8" cy="183.4" r="2.1"/><circle cx="577.3" cy="164.4" r="2.1"/><circle cx="569.3" cy="154.6" r="2.1"/><circle cx="572.4" cy="158.1" r="2.1"/><circle cx="598.4" cy="206.8" r="2.1"/><circle cx="571.1" cy="179.9" r="2.1"/><circle cx="589.3" cy="166.8" r="2.1"/><circle cx="586.8" cy="218.0" r="2.1"/><circle cx="571.3" cy="162.9" r="2.1"/><circle cx="592.2" cy="156.2" r="2.1"/><circle cx="590.5" cy="164.5" r="2.1"/><circle cx="560.8" cy="171.4" r="2.1"/><circle cx="562.9" cy="205.3" r="2.1"/><circle cx="595.7" cy="178.5" r="2.1"/><circle cx="578.9" cy="141.2" r="2.1"/><circle cx="562.1" cy="209.5" r="2.1"/><circle cx="562.2" cy="221.1" r="2.1"/><circle cx="583.6" cy="196.5" r="2.1"/><circle cx="562.1" cy="218.2" r="2.1"/><circle cx="567.7" cy="137.5" r="2.1"/><circle cx="593.8" cy="175.0" r="2.1"/><circle cx="589.8" cy="149.5" r="2.1"/><circle cx="587.7" cy="170.5" r="2.1"/><circle cx="587.4" cy="166.0" r="2.1"/><circle cx="595.2" cy="158.6" r="2.1"/><circle cx="568.1" cy="138.9" r="2.1"/><circle cx="565.6" cy="224.6" r="2.1"/><circle cx="571.9" cy="214.4" r="2.1"/><circle cx="569.8" cy="188.0" r="2.1"/><circle cx="570.5" cy="155.0" r="2.1"/><circle cx="591.6" cy="186.8" r="2.1"/><circle cx="571.4" cy="129.3" r="2.1"/><circle cx="569.1" cy="226.0" r="2.1"/><circle cx="583.8" cy="172.8" r="2.1"/><circle cx="574.4" cy="202.7" r="2.1"/><circle cx="562.0" cy="141.0" r="2.1"/><circle cx="594.6" cy="199.9" r="2.1"/><circle cx="569.6" cy="147.4" r="2.1"/><circle cx="573.0" cy="194.2" r="2.1"/><circle cx="591.7" cy="147.8" r="2.1"/><circle cx="573.9" cy="147.7" r="2.1"/><circle cx="600.0" cy="180.8" r="2.1"/><circle cx="586.8" cy="182.6" r="2.1"/><circle cx="569.7" cy="208.8" r="2.1"/><circle cx="600.3" cy="176.3" r="2.1"/><circle cx="574.1" cy="131.7" r="2.1"/><circle cx="578.8" cy="220.1" r="2.1"/><circle cx="575.1" cy="169.9" r="2.1"/><circle cx="583.9" cy="147.7" r="2.1"/><circle cx="564.6" cy="177.4" r="2.1"/><circle cx="572.8" cy="205.3" r="2.1"/><circle cx="595.2" cy="184.1" r="2.1"/><circle cx="575.2" cy="143.3" r="2.1"/><circle cx="589.8" cy="195.0" r="2.1"/><circle cx="569.0" cy="137.6" r="2.1"/><circle cx="564.8" cy="209.9" r="2.1"/><circle cx="597.5" cy="177.1" r="2.1"/><circle cx="585.8" cy="197.2" r="2.1"/><circle cx="566.6" cy="177.4" r="2.1"/><circle cx="579.0" cy="214.3" r="2.1"/><circle cx="566.9" cy="211.9" r="2.1"/><circle cx="566.0" cy="187.0" r="2.1"/><circle cx="581.5" cy="173.8" r="2.1"/><circle cx="600.6" cy="173.9" r="2.1"/><circle cx="598.5" cy="199.5" r="2.1"/><circle cx="595.6" cy="159.6" r="2.1"/><circle cx="564.0" cy="189.8" r="2.1"/><circle cx="564.8" cy="188.6" r="2.1"/><circle cx="567.6" cy="186.3" r="2.1"/><circle cx="568.5" cy="141.1" r="2.1"/><circle cx="577.8" cy="225.3" r="2.1"/><circle cx="570.8" cy="172.7" r="2.1"/><circle cx="576.1" cy="129.2" r="2.1"/><circle cx="582.8" cy="155.0" r="2.1"/><circle cx="579.9" cy="200.5" r="2.1"/><circle cx="588.2" cy="148.5" r="2.1"/><circle cx="587.4" cy="179.2" r="2.1"/><circle cx="571.9" cy="193.6" r="2.1"/><circle cx="583.6" cy="175.8" r="2.1"/><circle cx="582.4" cy="187.7" r="2.1"/><circle cx="591.1" cy="210.6" r="2.1"/><circle cx="592.9" cy="218.2" r="2.1"/><circle cx="584.3" cy="140.8" r="2.1"/><circle cx="575.6" cy="213.5" r="2.1"/><circle cx="592.7" cy="188.0" r="2.1"/><circle cx="565.4" cy="139.6" r="2.1"/><circle cx="587.7" cy="167.2" r="2.1"/><circle cx="567.9" cy="224.9" r="2.1"/><circle cx="569.8" cy="220.3" r="2.1"/><circle cx="586.3" cy="223.3" r="2.1"/><circle cx="569.6" cy="213.6" r="2.1"/><circle cx="578.4" cy="175.7" r="2.1"/><circle cx="591.6" cy="186.2" r="2.1"/><circle cx="590.4" cy="177.6" r="2.1"/><circle cx="571.7" cy="198.7" r="2.1"/><circle cx="565.3" cy="198.9" r="2.1"/><circle cx="560.1" cy="219.0" r="2.1"/><circle cx="567.9" cy="178.8" r="2.1"/><circle cx="572.3" cy="137.1" r="2.1"/><circle cx="570.9" cy="130.4" r="2.1"/><circle cx="595.8" cy="203.7" r="2.1"/><circle cx="573.7" cy="133.0" r="2.1"/><circle cx="587.0" cy="228.5" r="2.1"/></g><polygon points="530.3,183.0 533.5,182.0 535.0,191.5 536.3,199.4 537.5,207.3 538.7,215.2 541.0,223.1 543.0,229.4 544.8,237.0 546.5,229.4 548.0,223.1 550.0,215.2 551.0,207.3 552.0,199.4 553.5,191.5 553.5,180.0 556.0,175.8 559.6,175.8 559.6,227.3 574.8,227.5 574.8,231.7 567.1,235.6 554.2,240.1 543.9,241.4 533.6,239.5 520.7,236.2 507.9,230.4 507.9,227.5 530.3,227.3" fill="#6b6b6b"/><g fill="rgba(107,107,107,0.85)"><circle cx="492.5" cy="229.6" r="2.1"/><circle cx="583.8" cy="233.7" r="2.1"/><circle cx="576.0" cy="231.5" r="2.1"/></g><g fill="rgba(107,107,107,0.85)"><circle cx="531.7" cy="183.0" r="2.1"/><circle cx="533.0" cy="182.7" r="2.1"/><circle cx="533.8" cy="187.7" r="2.1"/><circle cx="533.4" cy="189.8" r="2.1"/><circle cx="533.5" cy="193.2" r="2.1"/><circle cx="534.8" cy="195.6" r="2.1"/><circle cx="535.6" cy="198.5" r="2.1"/><circle cx="535.9" cy="201.9" r="2.1"/><circle cx="535.5" cy="203.3" r="2.1"/><circle cx="535.9" cy="205.3" r="2.1"/><circle cx="537.1" cy="209.6" r="2.1"/><circle cx="537.2" cy="212.6" r="2.1"/><circle cx="537.7" cy="214.7" r="2.1"/><circle cx="538.4" cy="216.4" r="2.1"/><circle cx="539.0" cy="218.0" r="2.1"/><circle cx="540.0" cy="223.4" r="2.1"/><circle cx="539.8" cy="225.1" r="2.1"/><circle cx="540.8" cy="228.7" r="2.1"/><circle cx="542.7" cy="230.4" r="2.1"/><circle cx="543.8" cy="234.4" r="2.1"/><circle cx="543.5" cy="236.7" r="2.1"/><circle cx="547.4" cy="233.7" r="2.1"/><circle cx="546.4" cy="230.7" r="2.1"/><circle cx="547.4" cy="229.5" r="2.1"/><circle cx="548.1" cy="223.7" r="2.1"/><circle cx="548.5" cy="222.0" r="2.1"/><circle cx="549.0" cy="219.7" r="2.1"/><circle cx="550.6" cy="217.2" r="2.1"/><circle cx="551.6" cy="214.9" r="2.1"/><circle cx="550.8" cy="212.5" r="2.1"/><circle cx="551.6" cy="209.4" r="2.1"/><circle cx="552.0" cy="205.4" r="2.1"/><circle cx="553.3" cy="203.1" r="2.1"/><circle cx="553.4" cy="201.9" r="2.1"/><circle cx="553.7" cy="198.1" r="2.1"/><circle cx="553.6" cy="195.3" r="2.1"/><circle cx="553.4" cy="193.9" r="2.1"/><circle cx="553.9" cy="191.0" r="2.1"/><circle cx="554.0" cy="188.2" r="2.1"/><circle cx="555.0" cy="184.1" r="2.1"/><circle cx="555.1" cy="180.6" r="2.1"/><circle cx="555.2" cy="180.3" r="2.1"/><circle cx="556.7" cy="176.0" r="2.1"/><circle cx="558.4" cy="176.6" r="2.1"/><circle cx="559.1" cy="178.6" r="2.1"/><circle cx="558.0" cy="182.3" r="2.1"/><circle cx="558.8" cy="185.0" r="2.1"/><circle cx="559.3" cy="187.6" r="2.1"/><circle cx="557.8" cy="191.7" r="2.1"/><circle cx="558.8" cy="194.0" r="2.1"/><circle cx="558.9" cy="196.0" r="2.1"/><circle cx="558.3" cy="199.3" r="2.1"/><circle cx="557.9" cy="201.0" r="2.1"/><circle cx="559.1" cy="204.9" r="2.1"/><circle cx="558.3" cy="207.8" r="2.1"/><circle cx="559.0" cy="209.0" r="2.1"/><circle cx="559.4" cy="213.1" r="2.1"/><circle cx="557.8" cy="214.9" r="2.1"/><circle cx="558.6" cy="217.2" r="2.1"/><circle cx="557.9" cy="221.6" r="2.1"/><circle cx="558.5" cy="224.0" r="2.1"/><circle cx="559.0" cy="227.1" r="2.1"/><circle cx="562.3" cy="228.2" r="2.1"/><circle cx="564.6" cy="228.6" r="2.1"/><circle cx="566.5" cy="228.7" r="2.1"/><circle cx="570.5" cy="229.3" r="2.1"/><circle cx="573.8" cy="228.4" r="2.1"/><circle cx="573.1" cy="229.1" r="2.1"/><circle cx="573.3" cy="231.0" r="2.1"/><circle cx="569.6" cy="232.3" r="2.1"/><circle cx="568.6" cy="233.4" r="2.1"/><circle cx="566.2" cy="234.6" r="2.1"/><circle cx="562.4" cy="235.7" r="2.1"/><circle cx="559.5" cy="237.7" r="2.1"/><circle cx="556.9" cy="238.4" r="2.1"/><circle cx="555.6" cy="239.3" r="2.1"/><circle cx="552.4" cy="240.2" r="2.1"/><circle cx="549.5" cy="239.4" r="2.1"/><circle cx="544.7" cy="240.9" r="2.1"/><circle cx="542.0" cy="240.1" r="2.1"/><circle cx="541.1" cy="239.4" r="2.1"/><circle cx="537.0" cy="239.2" r="2.1"/><circle cx="535.0" cy="238.5" r="2.1"/><circle cx="532.3" cy="237.7" r="2.1"/><circle cx="529.2" cy="237.9" r="2.1"/><circle cx="528.5" cy="237.9" r="2.1"/><circle cx="525.4" cy="236.2" r="2.1"/><circle cx="521.0" cy="235.4" r="2.1"/><circle cx="520.2" cy="234.8" r="2.1"/><circle cx="516.2" cy="232.9" r="2.1"/><circle cx="515.4" cy="232.2" r="2.1"/><circle cx="511.1" cy="230.2" r="2.1"/><circle cx="509.6" cy="230.7" r="2.1"/><circle cx="508.2" cy="229.1" r="2.1"/><circle cx="508.3" cy="228.4" r="2.1"/><circle cx="513.1" cy="228.8" r="2.1"/><circle cx="514.7" cy="229.3" r="2.1"/><circle cx="516.8" cy="228.0" r="2.1"/><circle cx="519.9" cy="228.5" r="2.1"/><circle cx="524.4" cy="228.1" r="2.1"/><circle cx="527.0" cy="229.1" r="2.1"/><circle cx="528.9" cy="229.0" r="2.1"/><circle cx="531.3" cy="225.0" r="2.1"/><circle cx="530.5" cy="224.3" r="2.1"/><circle cx="531.2" cy="221.5" r="2.1"/><circle cx="531.0" cy="219.4" r="2.1"/><circle cx="531.0" cy="215.6" r="2.1"/><circle cx="531.4" cy="212.4" r="2.1"/><circle cx="531.5" cy="210.3" r="2.1"/><circle cx="531.1" cy="207.5" r="2.1"/><circle cx="531.5" cy="206.0" r="2.1"/><circle cx="530.5" cy="203.7" r="2.1"/><circle cx="530.8" cy="200.3" r="2.1"/><circle cx="530.7" cy="196.7" r="2.1"/><circle cx="531.7" cy="194.9" r="2.1"/><circle cx="531.8" cy="192.3" r="2.1"/><circle cx="530.7" cy="190.5" r="2.1"/><circle cx="531.1" cy="187.5" r="2.1"/><circle cx="530.8" cy="184.1" r="2.1"/></g>
<rect x="425.5" y="0.5" width="238.0" height="241.2" fill="none" stroke="#555555" stroke-width="1.3"/>
<line x1="445.48" y1="241.7" x2="445.48" y2="244.7" stroke="#555555" stroke-width="1"/>
<text x="445.48" y="253.90" font-size="9.3" text-anchor="middle" stroke="#000" stroke-width="0.2">−7.5</text>
<line x1="478.55" y1="241.7" x2="478.55" y2="244.7" stroke="#555555" stroke-width="1"/>
<text x="478.55" y="253.90" font-size="9.3" text-anchor="middle" stroke="#000" stroke-width="0.2">−5.0</text>
<line x1="511.63" y1="241.7" x2="511.63" y2="244.7" stroke="#555555" stroke-width="1"/>
<text x="511.63" y="253.90" font-size="9.3" text-anchor="middle" stroke="#000" stroke-width="0.2">−2.5</text>
<line x1="544.70" y1="241.7" x2="544.70" y2="244.7" stroke="#555555" stroke-width="1"/>
<text x="544.70" y="253.90" font-size="9.3" text-anchor="middle" stroke="#000" stroke-width="0.2">0.0</text>
<line x1="577.78" y1="241.7" x2="577.78" y2="244.7" stroke="#555555" stroke-width="1"/>
<text x="577.78" y="253.90" font-size="9.3" text-anchor="middle" stroke="#000" stroke-width="0.2">2.5</text>
<line x1="610.85" y1="241.7" x2="610.85" y2="244.7" stroke="#555555" stroke-width="1"/>
<text x="610.85" y="253.90" font-size="9.3" text-anchor="middle" stroke="#000" stroke-width="0.2">5.0</text>
<line x1="643.93" y1="241.7" x2="643.93" y2="244.7" stroke="#555555" stroke-width="1"/>
<text x="643.93" y="253.90" font-size="9.3" text-anchor="middle" stroke="#000" stroke-width="0.2">7.5</text>
<line x1="422.5" y1="241.60" x2="425.5" y2="241.60" stroke="#555555" stroke-width="1"/>
<text x="420.90" y="246.00" font-size="9.3" text-anchor="end" stroke="#000" stroke-width="0.2">0</text>
<line x1="422.5" y1="196.95" x2="425.5" y2="196.95" stroke="#555555" stroke-width="1"/>
<text x="420.90" y="201.35" font-size="9.3" text-anchor="end" stroke="#000" stroke-width="0.2">5</text>
<line x1="422.5" y1="152.30" x2="425.5" y2="152.30" stroke="#555555" stroke-width="1"/>
<text x="420.90" y="156.70" font-size="9.3" text-anchor="end" stroke="#000" stroke-width="0.2">10</text>
<line x1="422.5" y1="107.65" x2="425.5" y2="107.65" stroke="#555555" stroke-width="1"/>
<text x="420.90" y="112.05" font-size="9.3" text-anchor="end" stroke="#000" stroke-width="0.2">15</text>
<line x1="422.5" y1="63.00" x2="425.5" y2="63.00" stroke="#555555" stroke-width="1"/>
<text x="420.90" y="67.40" font-size="9.3" text-anchor="end" stroke="#000" stroke-width="0.2">20</text>
<line x1="422.5" y1="18.35" x2="425.5" y2="18.35" stroke="#555555" stroke-width="1"/>
<text x="420.90" y="22.75" font-size="9.3" text-anchor="end" stroke="#000" stroke-width="0.2">25</text>
<text x="544" y="19" font-size="20" font-weight="bold" text-anchor="middle">B</text>
<text x="544.7" y="268.3" font-size="13.0" text-anchor="middle" stroke="#000" stroke-width="0.25">log<tspan font-size="9.62" dx="2.08" dy="2.21">2</tspan><tspan dx="0.65" dy="-2.21">(Fold Change)</tspan></text>
<text transform="translate(406.1,121.1) rotate(-90)" font-size="14.7" text-anchor="middle" stroke="#000" stroke-width="0.25">-log<tspan font-size="11.76" dy="2.94">10</tspan><tspan dx="0.29" dy="-2.94">(P value)</tspan></text>
<line x1="32.6" y1="507.7" x2="260.4" y2="507.7" stroke="#b8b8b8" stroke-width="1"/>
<line x1="132.3" y1="282.2" x2="132.3" y2="510.5" stroke="#b8b8b8" stroke-width="1"/>
<line x1="160.7" y1="282.2" x2="160.7" y2="510.5" stroke="#b8b8b8" stroke-width="1"/>
<polygon points="118.0,420.0 131.0,415.0 131.0,508.0 127.5,508.0 118.8,499.0 112.0,482.0 108.0,460.0 109.0,440.0 113.0,425.0" fill="#b00000"/><g fill="rgba(176,0,0,0.76)"><circle cx="119.6" cy="421.3" r="2.1"/><circle cx="121.5" cy="418.6" r="2.1"/><circle cx="125.0" cy="419.0" r="2.1"/><circle cx="127.5" cy="416.3" r="2.1"/><circle cx="129.8" cy="415.8" r="2.1"/><circle cx="128.8" cy="415.1" r="2.1"/><circle cx="130.3" cy="419.5" r="2.1"/><circle cx="129.3" cy="422.4" r="2.1"/><circle cx="130.3" cy="423.0" r="2.1"/><circle cx="131.1" cy="426.4" r="2.1"/><circle cx="129.1" cy="430.3" r="2.1"/><circle cx="129.2" cy="432.2" r="2.1"/><circle cx="130.2" cy="435.0" r="2.1"/><circle cx="129.2" cy="437.8" r="2.1"/><circle cx="130.0" cy="439.6" r="2.1"/><circle cx="129.9" cy="441.9" r="2.1"/><circle cx="130.2" cy="446.1" r="2.1"/><circle cx="129.1" cy="447.2" r="2.1"/><circle cx="129.2" cy="451.6" r="2.1"/><circle cx="128.8" cy="452.6" r="2.1"/><circle cx="130.8" cy="456.2" r="2.1"/><circle cx="131.0" cy="458.3" r="2.1"/><circle cx="128.9" cy="462.3" r="2.1"/><circle cx="129.5" cy="465.2" r="2.1"/><circle cx="130.3" cy="466.9" r="2.1"/><circle cx="131.2" cy="469.9" r="2.1"/><circle cx="129.9" cy="471.0" r="2.1"/><circle cx="128.8" cy="474.3" r="2.1"/><circle cx="131.1" cy="477.9" r="2.1"/><circle cx="131.1" cy="480.4" r="2.1"/><circle cx="129.5" cy="484.0" r="2.1"/><circle cx="130.3" cy="486.2" r="2.1"/><circle cx="129.4" cy="486.8" r="2.1"/><circle cx="130.4" cy="491.2" r="2.1"/><circle cx="129.1" cy="492.6" r="2.1"/><circle cx="129.5" cy="495.6" r="2.1"/><circle cx="129.6" cy="499.7" r="2.1"/><circle cx="129.1" cy="500.4" r="2.1"/><circle cx="129.1" cy="505.3" r="2.1"/><circle cx="131.0" cy="507.1" r="2.1"/><circle cx="130.7" cy="506.3" r="2.1"/><circle cx="128.6" cy="506.4" r="2.1"/><circle cx="125.5" cy="504.6" r="2.1"/><circle cx="123.7" cy="502.0" r="2.1"/><circle cx="119.9" cy="499.4" r="2.1"/><circle cx="119.2" cy="497.5" r="2.1"/><circle cx="119.0" cy="494.3" r="2.1"/><circle cx="116.3" cy="493.2" r="2.1"/><circle cx="116.4" cy="488.9" r="2.1"/><circle cx="116.0" cy="488.3" r="2.1"/><circle cx="115.9" cy="485.9" r="2.1"/><circle cx="114.2" cy="483.2" r="2.1"/><circle cx="113.1" cy="480.8" r="2.1"/><circle cx="113.3" cy="477.3" r="2.1"/><circle cx="112.5" cy="474.9" r="2.1"/><circle cx="110.9" cy="472.3" r="2.1"/><circle cx="109.7" cy="468.7" r="2.1"/><circle cx="110.0" cy="467.7" r="2.1"/><circle cx="109.9" cy="463.9" r="2.1"/><circle cx="108.2" cy="462.3" r="2.1"/><circle cx="108.0" cy="458.7" r="2.1"/><circle cx="110.3" cy="455.7" r="2.1"/><circle cx="108.5" cy="452.0" r="2.1"/><circle cx="109.1" cy="449.7" r="2.1"/><circle cx="110.0" cy="446.4" r="2.1"/><circle cx="109.3" cy="444.6" r="2.1"/><circle cx="110.2" cy="442.5" r="2.1"/><circle cx="110.6" cy="439.7" r="2.1"/><circle cx="111.1" cy="434.3" r="2.1"/><circle cx="112.6" cy="432.4" r="2.1"/><circle cx="113.9" cy="430.0" r="2.1"/><circle cx="113.0" cy="428.2" r="2.1"/><circle cx="114.6" cy="425.9" r="2.1"/><circle cx="118.4" cy="421.9" r="2.1"/></g><g fill="rgba(176,0,0,0.76)"><circle cx="62.5" cy="284.3" r="2.1"/><circle cx="92.8" cy="284.3" r="2.1"/><circle cx="97.1" cy="284.3" r="2.1"/><circle cx="101.3" cy="284.3" r="2.1"/><circle cx="105.6" cy="284.3" r="2.1"/><circle cx="116.7" cy="284.3" r="2.1"/><circle cx="118.4" cy="287.5" r="2.1"/><circle cx="121.6" cy="289.6" r="2.1"/><circle cx="108.4" cy="289.6" r="2.1"/><circle cx="108.8" cy="291.7" r="2.1"/><circle cx="118.4" cy="293.9" r="2.1"/><circle cx="128.0" cy="293.2" r="2.1"/><circle cx="103.0" cy="299.6" r="2.1"/><circle cx="121.2" cy="299.6" r="2.1"/><circle cx="123.3" cy="304.1" r="2.1"/><circle cx="66.1" cy="310.9" r="2.1"/><circle cx="108.4" cy="308.8" r="2.1"/><circle cx="111.4" cy="310.9" r="2.1"/><circle cx="115.2" cy="308.8" r="2.1"/><circle cx="122.2" cy="308.2" r="2.1"/><circle cx="112.0" cy="315.2" r="2.1"/><circle cx="124.8" cy="315.8" r="2.1"/><circle cx="119.0" cy="318.4" r="2.1"/><circle cx="88.5" cy="317.3" r="2.1"/><circle cx="115.2" cy="323.7" r="2.1"/><circle cx="69.3" cy="328.6" r="2.1"/><circle cx="121.0" cy="330.8" r="2.1"/><circle cx="49.7" cy="338.0" r="2.1"/><circle cx="105.2" cy="335.5" r="2.1"/><circle cx="109.9" cy="337.0" r="2.1"/><circle cx="116.7" cy="339.1" r="2.1"/><circle cx="83.8" cy="342.3" r="2.1"/><circle cx="119.9" cy="343.6" r="2.1"/><circle cx="111.4" cy="344.6" r="2.1"/><circle cx="112.0" cy="348.7" r="2.1"/><circle cx="105.2" cy="349.8" r="2.1"/><circle cx="79.4" cy="348.7" r="2.1"/><circle cx="97.7" cy="354.0" r="2.1"/><circle cx="100.9" cy="354.0" r="2.1"/><circle cx="107.3" cy="353.6" r="2.1"/><circle cx="120.1" cy="356.8" r="2.1"/><circle cx="122.2" cy="355.7" r="2.1"/><circle cx="126.9" cy="354.7" r="2.1"/><circle cx="130.1" cy="352.5" r="2.1"/><circle cx="127.6" cy="358.5" r="2.1"/><circle cx="131.2" cy="360.0" r="2.1"/><circle cx="119.5" cy="361.5" r="2.1"/><circle cx="106.0" cy="360.0" r="2.1"/><circle cx="112.0" cy="362.8" r="2.1"/><circle cx="77.2" cy="361.1" r="2.1"/><circle cx="110.5" cy="365.3" r="2.1"/><circle cx="129.7" cy="367.5" r="2.1"/><circle cx="131.2" cy="372.8" r="2.1"/><circle cx="119.9" cy="371.3" r="2.1"/><circle cx="123.7" cy="373.9" r="2.1"/><circle cx="125.9" cy="371.7" r="2.1"/><circle cx="113.1" cy="372.2" r="2.1"/><circle cx="109.9" cy="374.9" r="2.1"/><circle cx="119.9" cy="378.1" r="2.1"/><circle cx="128.0" cy="378.1" r="2.1"/><circle cx="87.5" cy="378.8" r="2.1"/><circle cx="95.4" cy="381.8" r="2.1"/><circle cx="93.9" cy="385.6" r="2.1"/><circle cx="102.0" cy="384.1" r="2.1"/><circle cx="105.6" cy="382.8" r="2.1"/><circle cx="109.9" cy="384.5" r="2.1"/><circle cx="111.6" cy="386.0" r="2.1"/><circle cx="101.3" cy="387.7" r="2.1"/><circle cx="121.6" cy="386.7" r="2.1"/><circle cx="124.8" cy="385.6" r="2.1"/><circle cx="129.1" cy="385.6" r="2.1"/><circle cx="130.1" cy="387.7" r="2.1"/><circle cx="93.9" cy="390.9" r="2.1"/><circle cx="100.3" cy="392.0" r="2.1"/><circle cx="107.7" cy="392.0" r="2.1"/><circle cx="115.2" cy="392.0" r="2.1"/><circle cx="121.6" cy="389.9" r="2.1"/><circle cx="125.9" cy="390.9" r="2.1"/><circle cx="68.7" cy="394.8" r="2.1"/><circle cx="131.2" cy="394.8" r="2.1"/><circle cx="68.9" cy="396.1" r="2.1"/><circle cx="78.6" cy="398.3" r="2.1"/><circle cx="84.7" cy="398.3" r="2.1"/><circle cx="67.8" cy="401.9" r="2.1"/><circle cx="50.0" cy="412.4" r="2.1"/><circle cx="72.6" cy="409.5" r="2.1"/><circle cx="77.1" cy="411.3" r="2.1"/><circle cx="59.1" cy="421.7" r="2.1"/><circle cx="75.4" cy="424.7" r="2.1"/><circle cx="80.8" cy="420.0" r="2.1"/><circle cx="44.4" cy="435.6" r="2.1"/><circle cx="46.1" cy="439.0" r="2.1"/><circle cx="66.3" cy="439.9" r="2.1"/><circle cx="67.4" cy="448.2" r="2.1"/><circle cx="58.7" cy="452.5" r="2.1"/><circle cx="60.2" cy="456.8" r="2.1"/><circle cx="59.1" cy="463.3" r="2.1"/><circle cx="73.2" cy="451.0" r="2.1"/><circle cx="77.6" cy="451.8" r="2.1"/><circle cx="80.8" cy="443.8" r="2.1"/><circle cx="81.9" cy="446.0" r="2.1"/><circle cx="85.2" cy="452.5" r="2.1"/><circle cx="89.5" cy="455.8" r="2.1"/><circle cx="92.8" cy="453.6" r="2.1"/><circle cx="83.4" cy="457.3" r="2.1"/><circle cx="89.5" cy="437.3" r="2.1"/><circle cx="87.3" cy="441.6" r="2.1"/><circle cx="83.0" cy="465.1" r="2.1"/><circle cx="82.3" cy="470.5" r="2.1"/><circle cx="71.7" cy="480.3" r="2.1"/><circle cx="81.9" cy="478.5" r="2.1"/><circle cx="87.3" cy="480.3" r="2.1"/><circle cx="88.0" cy="486.1" r="2.1"/><circle cx="79.7" cy="485.5" r="2.1"/><circle cx="97.1" cy="479.6" r="2.1"/><circle cx="91.7" cy="470.9" r="2.1"/><circle cx="96.0" cy="473.1" r="2.1"/><circle cx="97.1" cy="457.9" r="2.1"/><circle cx="93.8" cy="464.4" r="2.1"/><circle cx="97.1" cy="444.9" r="2.1"/><circle cx="94.9" cy="429.7" r="2.1"/><circle cx="92.8" cy="416.7" r="2.1"/><circle cx="97.1" cy="405.8" r="2.1"/><circle cx="101.4" cy="399.3" r="2.1"/><circle cx="109.1" cy="463.9" r="2.1"/><circle cx="103.3" cy="473.5" r="2.1"/><circle cx="100.3" cy="471.3" r="2.1"/><circle cx="118.8" cy="392.8" r="2.1"/><circle cx="114.3" cy="433.2" r="2.1"/><circle cx="128.8" cy="427.4" r="2.1"/><circle cx="102.1" cy="417.9" r="2.1"/><circle cx="102.6" cy="403.2" r="2.1"/><circle cx="116.1" cy="446.2" r="2.1"/><circle cx="129.3" cy="484.0" r="2.1"/><circle cx="107.8" cy="401.5" r="2.1"/><circle cx="126.3" cy="459.6" r="2.1"/><circle cx="102.9" cy="478.6" r="2.1"/><circle cx="121.3" cy="400.2" r="2.1"/><circle cx="118.1" cy="403.5" r="2.1"/><circle cx="107.0" cy="426.5" r="2.1"/><circle cx="118.3" cy="483.7" r="2.1"/><circle cx="129.6" cy="501.9" r="2.1"/><circle cx="130.8" cy="477.7" r="2.1"/><circle cx="106.0" cy="397.9" r="2.1"/><circle cx="117.5" cy="446.0" r="2.1"/><circle cx="119.3" cy="387.2" r="2.1"/><circle cx="116.7" cy="465.4" r="2.1"/><circle cx="98.4" cy="426.9" r="2.1"/><circle cx="127.8" cy="459.4" r="2.1"/><circle cx="130.7" cy="400.6" r="2.1"/><circle cx="111.4" cy="479.1" r="2.1"/><circle cx="111.0" cy="477.6" r="2.1"/><circle cx="115.2" cy="390.3" r="2.1"/><circle cx="107.1" cy="467.7" r="2.1"/><circle cx="125.7" cy="436.8" r="2.1"/><circle cx="112.9" cy="477.5" r="2.1"/><circle cx="105.0" cy="423.4" r="2.1"/><circle cx="117.1" cy="457.7" r="2.1"/><circle cx="100.0" cy="469.3" r="2.1"/><circle cx="119.9" cy="501.5" r="2.1"/><circle cx="122.6" cy="408.1" r="2.1"/><circle cx="108.5" cy="411.7" r="2.1"/><circle cx="96.8" cy="454.8" r="2.1"/><circle cx="124.5" cy="413.8" r="2.1"/><circle cx="101.6" cy="434.1" r="2.1"/><circle cx="120.0" cy="443.2" r="2.1"/><circle cx="125.9" cy="427.2" r="2.1"/><circle cx="113.9" cy="468.2" r="2.1"/><circle cx="111.6" cy="468.2" r="2.1"/><circle cx="111.8" cy="392.4" r="2.1"/><circle cx="121.8" cy="497.6" r="2.1"/><circle cx="119.8" cy="450.4" r="2.1"/><circle cx="99.3" cy="430.2" r="2.1"/><circle cx="100.1" cy="424.5" r="2.1"/><circle cx="106.1" cy="430.3" r="2.1"/><circle cx="120.6" cy="445.4" r="2.1"/><circle cx="103.7" cy="476.2" r="2.1"/><circle cx="121.5" cy="482.5" r="2.1"/><circle cx="96.2" cy="454.9" r="2.1"/><circle cx="127.2" cy="408.6" r="2.1"/><circle cx="102.3" cy="480.8" r="2.1"/><circle cx="108.1" cy="427.2" r="2.1"/><circle cx="124.4" cy="424.9" r="2.1"/><circle cx="102.1" cy="402.9" r="2.1"/><circle cx="107.4" cy="465.7" r="2.1"/><circle cx="108.3" cy="475.2" r="2.1"/><circle cx="117.5" cy="437.3" r="2.1"/><circle cx="113.0" cy="496.6" r="2.1"/><circle cx="105.0" cy="398.6" r="2.1"/><circle cx="96.2" cy="437.7" r="2.1"/><circle cx="105.7" cy="436.6" r="2.1"/><circle cx="108.7" cy="473.5" r="2.1"/><circle cx="115.9" cy="427.4" r="2.1"/><circle cx="123.0" cy="405.3" r="2.1"/><circle cx="116.8" cy="485.0" r="2.1"/><circle cx="114.5" cy="416.6" r="2.1"/><circle cx="98.5" cy="449.6" r="2.1"/><circle cx="101.8" cy="423.5" r="2.1"/><circle cx="114.5" cy="497.3" r="2.1"/><circle cx="119.2" cy="442.5" r="2.1"/><circle cx="125.9" cy="415.1" r="2.1"/><circle cx="109.0" cy="463.0" r="2.1"/><circle cx="115.0" cy="403.8" r="2.1"/><circle cx="109.8" cy="482.1" r="2.1"/><circle cx="103.7" cy="466.8" r="2.1"/><circle cx="119.6" cy="417.1" r="2.1"/><circle cx="130.4" cy="478.5" r="2.1"/><circle cx="109.7" cy="445.0" r="2.1"/><circle cx="110.9" cy="393.4" r="2.1"/><circle cx="110.8" cy="437.4" r="2.1"/><circle cx="112.2" cy="464.1" r="2.1"/><circle cx="127.4" cy="482.5" r="2.1"/><circle cx="121.2" cy="419.1" r="2.1"/><circle cx="125.9" cy="382.4" r="2.1"/><circle cx="115.5" cy="493.3" r="2.1"/><circle cx="106.6" cy="425.6" r="2.1"/><circle cx="119.6" cy="484.1" r="2.1"/><circle cx="111.2" cy="427.2" r="2.1"/><circle cx="124.4" cy="470.6" r="2.1"/><circle cx="127.8" cy="471.0" r="2.1"/><circle cx="127.8" cy="430.7" r="2.1"/><circle cx="115.0" cy="477.0" r="2.1"/><circle cx="111.3" cy="392.8" r="2.1"/><circle cx="116.1" cy="488.3" r="2.1"/><circle cx="126.3" cy="391.3" r="2.1"/><circle cx="108.7" cy="404.7" r="2.1"/><circle cx="110.2" cy="415.7" r="2.1"/><circle cx="104.8" cy="432.2" r="2.1"/><circle cx="119.1" cy="419.5" r="2.1"/><circle cx="101.7" cy="404.4" r="2.1"/><circle cx="101.1" cy="473.0" r="2.1"/><circle cx="104.6" cy="476.3" r="2.1"/><circle cx="114.5" cy="438.2" r="2.1"/><circle cx="107.7" cy="464.9" r="2.1"/><circle cx="116.6" cy="415.8" r="2.1"/><circle cx="125.5" cy="446.4" r="2.1"/><circle cx="122.9" cy="390.6" r="2.1"/><circle cx="120.5" cy="454.4" r="2.1"/><circle cx="125.6" cy="489.9" r="2.1"/><circle cx="114.9" cy="452.0" r="2.1"/><circle cx="122.6" cy="409.3" r="2.1"/><circle cx="114.6" cy="477.3" r="2.1"/><circle cx="116.4" cy="445.5" r="2.1"/><circle cx="125.8" cy="501.8" r="2.1"/><circle cx="117.1" cy="394.3" r="2.1"/><circle cx="129.9" cy="436.7" r="2.1"/><circle cx="114.2" cy="481.3" r="2.1"/><circle cx="126.3" cy="393.5" r="2.1"/><circle cx="111.3" cy="398.5" r="2.1"/><circle cx="111.6" cy="392.3" r="2.1"/><circle cx="126.6" cy="421.2" r="2.1"/><circle cx="109.0" cy="491.7" r="2.1"/><circle cx="124.6" cy="418.7" r="2.1"/><circle cx="113.0" cy="461.2" r="2.1"/><circle cx="125.9" cy="396.1" r="2.1"/><circle cx="120.5" cy="470.9" r="2.1"/><circle cx="116.3" cy="420.0" r="2.1"/><circle cx="125.9" cy="477.2" r="2.1"/><circle cx="117.9" cy="412.6" r="2.1"/><circle cx="124.2" cy="485.2" r="2.1"/><circle cx="107.5" cy="398.4" r="2.1"/><circle cx="97.6" cy="428.8" r="2.1"/><circle cx="105.7" cy="481.8" r="2.1"/><circle cx="97.3" cy="427.5" r="2.1"/><circle cx="113.5" cy="396.0" r="2.1"/><circle cx="126.0" cy="466.7" r="2.1"/><circle cx="127.4" cy="417.3" r="2.1"/><circle cx="116.8" cy="495.0" r="2.1"/><circle cx="107.9" cy="428.7" r="2.1"/><circle cx="120.8" cy="489.7" r="2.1"/><circle cx="101.0" cy="409.2" r="2.1"/><circle cx="128.3" cy="448.8" r="2.1"/><circle cx="100.4" cy="464.9" r="2.1"/><circle cx="118.4" cy="388.7" r="2.1"/><circle cx="127.9" cy="460.8" r="2.1"/><circle cx="112.7" cy="419.7" r="2.1"/><circle cx="100.8" cy="435.8" r="2.1"/><circle cx="108.2" cy="405.3" r="2.1"/><circle cx="118.3" cy="461.0" r="2.1"/><circle cx="129.4" cy="500.9" r="2.1"/><circle cx="111.8" cy="468.1" r="2.1"/><circle cx="108.5" cy="431.3" r="2.1"/><circle cx="96.5" cy="435.2" r="2.1"/><circle cx="107.1" cy="479.6" r="2.1"/><circle cx="129.2" cy="436.4" r="2.1"/><circle cx="97.9" cy="452.3" r="2.1"/><circle cx="116.2" cy="463.5" r="2.1"/><circle cx="123.0" cy="435.2" r="2.1"/><circle cx="114.8" cy="474.8" r="2.1"/><circle cx="129.0" cy="411.6" r="2.1"/><circle cx="130.0" cy="411.3" r="2.1"/><circle cx="111.3" cy="395.6" r="2.1"/><circle cx="116.7" cy="425.9" r="2.1"/><circle cx="119.7" cy="499.4" r="2.1"/><circle cx="99.6" cy="460.5" r="2.1"/><circle cx="116.7" cy="410.6" r="2.1"/><circle cx="120.0" cy="456.3" r="2.1"/><circle cx="109.4" cy="435.5" r="2.1"/><circle cx="115.0" cy="433.0" r="2.1"/><circle cx="129.3" cy="435.8" r="2.1"/><circle cx="119.4" cy="475.5" r="2.1"/><circle cx="128.6" cy="397.1" r="2.1"/><circle cx="116.8" cy="423.4" r="2.1"/><circle cx="126.7" cy="390.4" r="2.1"/><circle cx="119.1" cy="438.3" r="2.1"/><circle cx="106.0" cy="432.1" r="2.1"/><circle cx="104.1" cy="467.2" r="2.1"/><circle cx="122.3" cy="424.6" r="2.1"/><circle cx="126.3" cy="380.8" r="2.1"/><circle cx="115.4" cy="394.9" r="2.1"/><circle cx="99.2" cy="447.6" r="2.1"/><circle cx="99.8" cy="423.9" r="2.1"/><circle cx="124.9" cy="412.6" r="2.1"/><circle cx="114.4" cy="489.9" r="2.1"/><circle cx="103.1" cy="436.2" r="2.1"/><circle cx="119.7" cy="404.5" r="2.1"/><circle cx="113.8" cy="482.2" r="2.1"/><circle cx="124.4" cy="465.6" r="2.1"/><circle cx="116.8" cy="407.4" r="2.1"/><circle cx="128.1" cy="449.3" r="2.1"/><circle cx="116.7" cy="488.5" r="2.1"/><circle cx="119.9" cy="426.0" r="2.1"/><circle cx="116.1" cy="385.7" r="2.1"/><circle cx="104.1" cy="419.7" r="2.1"/><circle cx="123.6" cy="461.0" r="2.1"/><circle cx="116.7" cy="426.4" r="2.1"/><circle cx="107.7" cy="425.0" r="2.1"/><circle cx="96.8" cy="421.9" r="2.1"/><circle cx="127.7" cy="481.0" r="2.1"/><circle cx="104.0" cy="439.8" r="2.1"/><circle cx="121.8" cy="401.0" r="2.1"/><circle cx="107.8" cy="451.2" r="2.1"/><circle cx="119.1" cy="426.7" r="2.1"/><circle cx="105.4" cy="487.9" r="2.1"/><circle cx="120.6" cy="402.4" r="2.1"/><circle cx="117.6" cy="430.1" r="2.1"/><circle cx="106.4" cy="466.5" r="2.1"/><circle cx="123.7" cy="490.3" r="2.1"/><circle cx="124.1" cy="447.6" r="2.1"/><circle cx="120.8" cy="487.2" r="2.1"/><circle cx="107.8" cy="470.3" r="2.1"/><circle cx="107.1" cy="474.3" r="2.1"/><circle cx="110.7" cy="451.8" r="2.1"/><circle cx="117.6" cy="481.8" r="2.1"/><circle cx="115.3" cy="402.5" r="2.1"/><circle cx="110.9" cy="448.1" r="2.1"/><circle cx="121.0" cy="426.1" r="2.1"/><circle cx="98.1" cy="450.8" r="2.1"/><circle cx="106.1" cy="427.9" r="2.1"/><circle cx="120.4" cy="436.5" r="2.1"/><circle cx="117.0" cy="471.5" r="2.1"/><circle cx="125.1" cy="388.7" r="2.1"/><circle cx="124.8" cy="471.6" r="2.1"/><circle cx="112.5" cy="410.9" r="2.1"/><circle cx="114.7" cy="406.0" r="2.1"/><circle cx="127.8" cy="429.4" r="2.1"/><circle cx="130.4" cy="441.4" r="2.1"/><circle cx="104.1" cy="399.3" r="2.1"/><circle cx="106.8" cy="469.7" r="2.1"/><circle cx="125.3" cy="427.3" r="2.1"/><circle cx="113.4" cy="468.8" r="2.1"/><circle cx="118.1" cy="422.2" r="2.1"/><circle cx="102.1" cy="412.1" r="2.1"/><circle cx="118.1" cy="475.6" r="2.1"/><circle cx="110.8" cy="470.1" r="2.1"/><circle cx="115.1" cy="485.8" r="2.1"/><circle cx="114.8" cy="462.5" r="2.1"/><circle cx="116.6" cy="401.4" r="2.1"/><circle cx="119.9" cy="441.4" r="2.1"/><circle cx="127.9" cy="398.7" r="2.1"/><circle cx="121.4" cy="440.4" r="2.1"/><circle cx="123.0" cy="437.2" r="2.1"/><circle cx="96.7" cy="439.2" r="2.1"/><circle cx="130.0" cy="477.3" r="2.1"/><circle cx="105.8" cy="437.9" r="2.1"/><circle cx="108.2" cy="405.1" r="2.1"/><circle cx="112.0" cy="495.6" r="2.1"/><circle cx="122.2" cy="460.3" r="2.1"/><circle cx="124.9" cy="498.8" r="2.1"/><circle cx="127.2" cy="439.2" r="2.1"/><circle cx="99.9" cy="444.3" r="2.1"/><circle cx="103.8" cy="468.4" r="2.1"/><circle cx="122.3" cy="453.1" r="2.1"/><circle cx="127.0" cy="444.1" r="2.1"/><circle cx="107.8" cy="449.6" r="2.1"/><circle cx="124.0" cy="381.1" r="2.1"/><circle cx="121.8" cy="389.3" r="2.1"/><circle cx="126.5" cy="381.9" r="2.1"/><circle cx="101.4" cy="434.5" r="2.1"/><circle cx="104.4" cy="413.5" r="2.1"/><circle cx="112.6" cy="393.1" r="2.1"/><circle cx="122.4" cy="452.6" r="2.1"/><circle cx="117.4" cy="454.9" r="2.1"/><circle cx="108.5" cy="410.0" r="2.1"/><circle cx="117.9" cy="493.8" r="2.1"/><circle cx="107.6" cy="441.4" r="2.1"/><circle cx="96.8" cy="435.7" r="2.1"/><circle cx="127.3" cy="497.3" r="2.1"/><circle cx="107.6" cy="486.9" r="2.1"/><circle cx="130.8" cy="414.4" r="2.1"/><circle cx="125.8" cy="411.5" r="2.1"/><circle cx="129.7" cy="492.0" r="2.1"/><circle cx="130.0" cy="428.0" r="2.1"/><circle cx="119.7" cy="466.6" r="2.1"/><circle cx="119.0" cy="479.4" r="2.1"/><circle cx="118.1" cy="492.4" r="2.1"/><circle cx="129.7" cy="458.2" r="2.1"/><circle cx="107.8" cy="440.9" r="2.1"/><circle cx="101.5" cy="404.0" r="2.1"/><circle cx="130.2" cy="432.4" r="2.1"/><circle cx="111.8" cy="490.4" r="2.1"/><circle cx="123.7" cy="380.8" r="2.1"/><circle cx="109.8" cy="444.2" r="2.1"/><circle cx="103.5" cy="474.4" r="2.1"/><circle cx="117.3" cy="485.4" r="2.1"/><circle cx="106.0" cy="442.3" r="2.1"/><circle cx="104.2" cy="441.8" r="2.1"/><circle cx="124.7" cy="445.4" r="2.1"/><circle cx="127.4" cy="442.6" r="2.1"/><circle cx="126.0" cy="454.2" r="2.1"/><circle cx="112.8" cy="497.1" r="2.1"/><circle cx="116.2" cy="498.4" r="2.1"/><circle cx="98.4" cy="445.1" r="2.1"/><circle cx="106.4" cy="481.3" r="2.1"/><circle cx="127.8" cy="486.8" r="2.1"/><circle cx="130.1" cy="401.8" r="2.1"/><circle cx="124.7" cy="452.0" r="2.1"/><circle cx="121.3" cy="466.9" r="2.1"/><circle cx="103.5" cy="425.2" r="2.1"/><circle cx="108.8" cy="466.4" r="2.1"/><circle cx="114.4" cy="420.5" r="2.1"/><circle cx="99.3" cy="432.5" r="2.1"/><circle cx="116.4" cy="464.4" r="2.1"/><circle cx="117.9" cy="477.1" r="2.1"/><circle cx="128.9" cy="392.9" r="2.1"/><circle cx="121.2" cy="433.3" r="2.1"/><circle cx="116.3" cy="463.9" r="2.1"/><circle cx="109.6" cy="453.9" r="2.1"/><circle cx="129.8" cy="377.8" r="2.1"/><circle cx="126.5" cy="407.6" r="2.1"/><circle cx="123.2" cy="493.8" r="2.1"/><circle cx="109.7" cy="446.5" r="2.1"/><circle cx="101.6" cy="466.1" r="2.1"/><circle cx="130.6" cy="501.7" r="2.1"/><circle cx="125.7" cy="431.4" r="2.1"/><circle cx="128.8" cy="486.5" r="2.1"/><circle cx="110.1" cy="423.7" r="2.1"/><circle cx="106.8" cy="417.2" r="2.1"/><circle cx="115.5" cy="429.1" r="2.1"/><circle cx="116.8" cy="431.0" r="2.1"/><circle cx="130.9" cy="504.4" r="2.1"/><circle cx="120.7" cy="469.8" r="2.1"/><circle cx="108.7" cy="465.8" r="2.1"/><circle cx="103.8" cy="481.0" r="2.1"/><circle cx="115.7" cy="405.1" r="2.1"/><circle cx="102.6" cy="425.5" r="2.1"/><circle cx="107.4" cy="461.4" r="2.1"/><circle cx="106.7" cy="433.9" r="2.1"/><circle cx="130.6" cy="495.4" r="2.1"/><circle cx="110.3" cy="458.8" r="2.1"/><circle cx="94.1" cy="424.0" r="2.1"/><circle cx="124.6" cy="426.3" r="2.1"/><circle cx="128.7" cy="485.5" r="2.1"/><circle cx="121.0" cy="360.9" r="2.1"/><circle cx="124.6" cy="478.0" r="2.1"/><circle cx="129.1" cy="373.3" r="2.1"/><circle cx="130.1" cy="358.5" r="2.1"/><circle cx="96.9" cy="474.4" r="2.1"/><circle cx="120.3" cy="433.8" r="2.1"/><circle cx="113.6" cy="467.1" r="2.1"/><circle cx="114.1" cy="377.8" r="2.1"/><circle cx="103.5" cy="380.3" r="2.1"/><circle cx="109.5" cy="474.1" r="2.1"/><circle cx="108.3" cy="455.9" r="2.1"/><circle cx="102.4" cy="403.5" r="2.1"/><circle cx="118.2" cy="497.0" r="2.1"/><circle cx="125.4" cy="442.0" r="2.1"/><circle cx="111.5" cy="423.9" r="2.1"/><circle cx="99.2" cy="402.1" r="2.1"/><circle cx="119.6" cy="372.2" r="2.1"/><circle cx="124.8" cy="424.1" r="2.1"/><circle cx="114.8" cy="475.6" r="2.1"/><circle cx="116.5" cy="362.7" r="2.1"/><circle cx="122.0" cy="392.1" r="2.1"/><circle cx="129.7" cy="492.2" r="2.1"/><circle cx="98.6" cy="468.7" r="2.1"/><circle cx="114.0" cy="419.6" r="2.1"/><circle cx="127.2" cy="402.3" r="2.1"/><circle cx="123.7" cy="345.7" r="2.1"/><circle cx="129.6" cy="370.1" r="2.1"/><circle cx="119.6" cy="451.3" r="2.1"/><circle cx="121.4" cy="402.3" r="2.1"/><circle cx="129.1" cy="501.9" r="2.1"/><circle cx="99.4" cy="413.0" r="2.1"/><circle cx="108.5" cy="489.2" r="2.1"/><circle cx="100.4" cy="430.6" r="2.1"/><circle cx="126.2" cy="423.0" r="2.1"/><circle cx="129.8" cy="482.7" r="2.1"/><circle cx="120.8" cy="352.3" r="2.1"/><circle cx="130.1" cy="380.8" r="2.1"/><circle cx="103.1" cy="458.0" r="2.1"/><circle cx="110.8" cy="370.6" r="2.1"/><circle cx="130.4" cy="442.4" r="2.1"/><circle cx="110.9" cy="464.1" r="2.1"/><circle cx="119.7" cy="491.9" r="2.1"/><circle cx="105.5" cy="418.0" r="2.1"/><circle cx="116.1" cy="425.8" r="2.1"/><circle cx="93.6" cy="404.5" r="2.1"/><circle cx="99.0" cy="479.8" r="2.1"/><circle cx="123.3" cy="384.4" r="2.1"/><circle cx="96.3" cy="434.4" r="2.1"/><circle cx="109.4" cy="428.3" r="2.1"/><circle cx="95.1" cy="427.6" r="2.1"/><circle cx="121.1" cy="413.4" r="2.1"/><circle cx="108.3" cy="364.6" r="2.1"/><circle cx="122.2" cy="409.5" r="2.1"/><circle cx="122.8" cy="440.3" r="2.1"/><circle cx="130.3" cy="389.8" r="2.1"/><circle cx="111.5" cy="420.9" r="2.1"/><circle cx="126.6" cy="421.3" r="2.1"/><circle cx="106.1" cy="482.0" r="2.1"/><circle cx="125.3" cy="458.6" r="2.1"/><circle cx="127.2" cy="397.7" r="2.1"/><circle cx="114.7" cy="469.8" r="2.1"/><circle cx="120.1" cy="443.9" r="2.1"/><circle cx="114.6" cy="449.9" r="2.1"/><circle cx="112.4" cy="385.5" r="2.1"/><circle cx="93.0" cy="441.0" r="2.1"/><circle cx="124.5" cy="386.6" r="2.1"/><circle cx="117.5" cy="443.2" r="2.1"/><circle cx="117.9" cy="483.9" r="2.1"/><circle cx="118.5" cy="353.1" r="2.1"/><circle cx="115.3" cy="397.5" r="2.1"/><circle cx="107.1" cy="451.4" r="2.1"/><circle cx="97.1" cy="443.5" r="2.1"/><circle cx="128.5" cy="352.6" r="2.1"/><circle cx="124.9" cy="456.8" r="2.1"/><circle cx="106.6" cy="466.3" r="2.1"/><circle cx="130.9" cy="442.6" r="2.1"/><circle cx="108.3" cy="430.1" r="2.1"/><circle cx="130.6" cy="370.7" r="2.1"/><circle cx="116.1" cy="412.7" r="2.1"/><circle cx="112.8" cy="495.4" r="2.1"/><circle cx="120.0" cy="384.2" r="2.1"/><circle cx="94.9" cy="463.2" r="2.1"/><circle cx="125.0" cy="397.0" r="2.1"/><circle cx="95.7" cy="431.6" r="2.1"/><circle cx="117.5" cy="399.2" r="2.1"/><circle cx="121.1" cy="360.1" r="2.1"/><circle cx="98.1" cy="416.6" r="2.1"/><circle cx="120.2" cy="378.6" r="2.1"/><circle cx="113.0" cy="353.9" r="2.1"/><circle cx="111.2" cy="455.2" r="2.1"/><circle cx="108.3" cy="371.3" r="2.1"/><circle cx="107.5" cy="423.9" r="2.1"/><circle cx="92.6" cy="449.6" r="2.1"/><circle cx="129.2" cy="455.9" r="2.1"/><circle cx="108.4" cy="477.4" r="2.1"/><circle cx="128.7" cy="496.7" r="2.1"/><circle cx="129.0" cy="466.3" r="2.1"/><circle cx="128.7" cy="465.7" r="2.1"/><circle cx="110.0" cy="456.0" r="2.1"/><circle cx="101.0" cy="399.4" r="2.1"/><circle cx="100.6" cy="480.0" r="2.1"/><circle cx="116.0" cy="401.0" r="2.1"/><circle cx="125.5" cy="480.9" r="2.1"/><circle cx="128.9" cy="457.1" r="2.1"/><circle cx="107.7" cy="394.1" r="2.1"/><circle cx="98.0" cy="412.6" r="2.1"/><circle cx="98.2" cy="455.3" r="2.1"/><circle cx="120.0" cy="448.6" r="2.1"/><circle cx="96.0" cy="425.5" r="2.1"/><circle cx="122.2" cy="375.8" r="2.1"/><circle cx="96.1" cy="467.6" r="2.1"/><circle cx="93.6" cy="438.8" r="2.1"/><circle cx="124.7" cy="353.9" r="2.1"/><circle cx="94.2" cy="444.2" r="2.1"/><circle cx="109.2" cy="471.0" r="2.1"/><circle cx="121.8" cy="404.9" r="2.1"/><circle cx="90.3" cy="441.9" r="2.1"/><circle cx="112.0" cy="409.6" r="2.1"/><circle cx="114.4" cy="436.4" r="2.1"/><circle cx="109.7" cy="430.6" r="2.1"/><circle cx="113.0" cy="467.3" r="2.1"/><circle cx="122.2" cy="380.1" r="2.1"/><circle cx="107.3" cy="375.9" r="2.1"/><circle cx="102.6" cy="405.7" r="2.1"/><circle cx="102.1" cy="415.4" r="2.1"/><circle cx="105.8" cy="427.5" r="2.1"/><circle cx="92.8" cy="432.2" r="2.1"/><circle cx="127.1" cy="461.9" r="2.1"/></g><polygon points="161.8,427.5 172.1,427.5 175.3,449.0 177.5,471.0 176.4,492.6 172.0,503.0 161.8,505.0" fill="#108a10"/><g fill="rgba(16,138,16,0.76)"><circle cx="162.5" cy="429.2" r="2.1"/><circle cx="166.5" cy="429.3" r="2.1"/><circle cx="171.4" cy="428.7" r="2.1"/><circle cx="172.4" cy="429.0" r="2.1"/><circle cx="171.1" cy="432.8" r="2.1"/><circle cx="173.1" cy="433.9" r="2.1"/><circle cx="172.1" cy="436.9" r="2.1"/><circle cx="173.7" cy="440.5" r="2.1"/><circle cx="173.8" cy="441.8" r="2.1"/><circle cx="174.4" cy="444.8" r="2.1"/><circle cx="174.9" cy="448.7" r="2.1"/><circle cx="175.5" cy="450.5" r="2.1"/><circle cx="175.7" cy="453.8" r="2.1"/><circle cx="174.8" cy="454.8" r="2.1"/><circle cx="175.1" cy="459.9" r="2.1"/><circle cx="175.7" cy="462.1" r="2.1"/><circle cx="176.6" cy="465.5" r="2.1"/><circle cx="175.8" cy="465.7" r="2.1"/><circle cx="177.1" cy="469.7" r="2.1"/><circle cx="176.3" cy="471.2" r="2.1"/><circle cx="177.2" cy="474.4" r="2.1"/><circle cx="175.0" cy="478.9" r="2.1"/><circle cx="177.2" cy="479.5" r="2.1"/><circle cx="175.9" cy="483.7" r="2.1"/><circle cx="176.8" cy="486.5" r="2.1"/><circle cx="175.0" cy="489.6" r="2.1"/><circle cx="176.5" cy="492.3" r="2.1"/><circle cx="174.1" cy="493.3" r="2.1"/><circle cx="173.9" cy="494.8" r="2.1"/><circle cx="172.5" cy="498.8" r="2.1"/><circle cx="171.8" cy="501.5" r="2.1"/><circle cx="169.2" cy="502.7" r="2.1"/><circle cx="166.2" cy="502.4" r="2.1"/><circle cx="163.1" cy="504.3" r="2.1"/><circle cx="164.0" cy="502.6" r="2.1"/><circle cx="162.0" cy="501.7" r="2.1"/><circle cx="162.8" cy="498.9" r="2.1"/><circle cx="164.0" cy="495.6" r="2.1"/><circle cx="163.0" cy="492.4" r="2.1"/><circle cx="162.8" cy="491.1" r="2.1"/><circle cx="162.9" cy="486.6" r="2.1"/><circle cx="162.3" cy="486.2" r="2.1"/><circle cx="162.9" cy="483.5" r="2.1"/><circle cx="163.6" cy="478.5" r="2.1"/><circle cx="163.7" cy="478.2" r="2.1"/><circle cx="163.8" cy="474.9" r="2.1"/><circle cx="163.4" cy="471.9" r="2.1"/><circle cx="162.0" cy="468.9" r="2.1"/><circle cx="163.7" cy="466.2" r="2.1"/><circle cx="162.8" cy="463.7" r="2.1"/><circle cx="163.9" cy="461.1" r="2.1"/><circle cx="162.7" cy="459.1" r="2.1"/><circle cx="163.6" cy="454.8" r="2.1"/><circle cx="162.3" cy="453.2" r="2.1"/><circle cx="162.1" cy="449.2" r="2.1"/><circle cx="163.8" cy="446.5" r="2.1"/><circle cx="162.2" cy="446.2" r="2.1"/><circle cx="162.2" cy="443.0" r="2.1"/><circle cx="163.5" cy="439.2" r="2.1"/><circle cx="161.9" cy="436.9" r="2.1"/><circle cx="162.3" cy="435.4" r="2.1"/><circle cx="161.9" cy="432.0" r="2.1"/><circle cx="163.0" cy="429.8" r="2.1"/></g><g fill="rgba(16,138,16,0.76)"><circle cx="185.4" cy="384.1" r="2.1"/><circle cx="178.1" cy="404.8" r="2.1"/><circle cx="182.9" cy="403.0" r="2.1"/><circle cx="192.7" cy="401.9" r="2.1"/><circle cx="202.9" cy="405.8" r="2.1"/><circle cx="220.2" cy="401.1" r="2.1"/><circle cx="213.7" cy="417.3" r="2.1"/><circle cx="176.4" cy="410.8" r="2.1"/><circle cx="180.3" cy="411.3" r="2.1"/><circle cx="169.9" cy="412.8" r="2.1"/><circle cx="163.4" cy="415.6" r="2.1"/><circle cx="184.0" cy="416.7" r="2.1"/><circle cx="187.3" cy="420.0" r="2.1"/><circle cx="189.4" cy="426.5" r="2.1"/><circle cx="195.5" cy="422.8" r="2.1"/><circle cx="200.7" cy="418.2" r="2.1"/><circle cx="205.1" cy="424.7" r="2.1"/><circle cx="200.3" cy="436.2" r="2.1"/><circle cx="185.1" cy="434.1" r="2.1"/><circle cx="178.6" cy="431.9" r="2.1"/><circle cx="182.9" cy="444.9" r="2.1"/><circle cx="190.5" cy="447.1" r="2.1"/><circle cx="185.1" cy="453.6" r="2.1"/><circle cx="189.4" cy="454.7" r="2.1"/><circle cx="194.9" cy="454.2" r="2.1"/><circle cx="190.5" cy="461.2" r="2.1"/><circle cx="198.8" cy="460.1" r="2.1"/><circle cx="194.9" cy="464.0" r="2.1"/><circle cx="185.1" cy="464.4" r="2.1"/><circle cx="182.9" cy="470.9" r="2.1"/><circle cx="189.4" cy="475.3" r="2.1"/><circle cx="199.8" cy="474.8" r="2.1"/><circle cx="193.8" cy="468.8" r="2.1"/><circle cx="190.5" cy="481.8" r="2.1"/><circle cx="199.2" cy="483.3" r="2.1"/><circle cx="194.9" cy="484.0" r="2.1"/><circle cx="189.4" cy="488.3" r="2.1"/><circle cx="192.7" cy="490.5" r="2.1"/><circle cx="184.0" cy="491.6" r="2.1"/><circle cx="178.6" cy="495.2" r="2.1"/><circle cx="176.8" cy="503.5" r="2.1"/><circle cx="179.7" cy="502.4" r="2.1"/><circle cx="174.2" cy="497.0" r="2.1"/><circle cx="180.8" cy="460.1" r="2.1"/><circle cx="178.6" cy="449.2" r="2.1"/><circle cx="176.4" cy="441.6" r="2.1"/><circle cx="174.2" cy="438.4" r="2.1"/><circle cx="169.9" cy="421.0" r="2.1"/><circle cx="172.1" cy="425.4" r="2.1"/><circle cx="166.6" cy="423.2" r="2.1"/><circle cx="175.3" cy="418.9" r="2.1"/><circle cx="175.6" cy="468.9" r="2.1"/><circle cx="181.6" cy="433.0" r="2.1"/><circle cx="177.6" cy="495.0" r="2.1"/><circle cx="177.6" cy="467.3" r="2.1"/><circle cx="174.6" cy="450.0" r="2.1"/><circle cx="184.6" cy="469.2" r="2.1"/><circle cx="169.1" cy="436.2" r="2.1"/><circle cx="176.5" cy="479.3" r="2.1"/><circle cx="172.1" cy="490.5" r="2.1"/><circle cx="184.3" cy="461.1" r="2.1"/><circle cx="163.2" cy="504.0" r="2.1"/><circle cx="168.7" cy="426.5" r="2.1"/><circle cx="183.5" cy="480.7" r="2.1"/><circle cx="164.8" cy="437.5" r="2.1"/><circle cx="167.7" cy="432.5" r="2.1"/><circle cx="162.0" cy="458.0" r="2.1"/><circle cx="169.2" cy="444.8" r="2.1"/><circle cx="166.3" cy="416.1" r="2.1"/><circle cx="162.6" cy="493.1" r="2.1"/><circle cx="179.9" cy="461.5" r="2.1"/><circle cx="164.8" cy="420.0" r="2.1"/><circle cx="164.7" cy="437.0" r="2.1"/><circle cx="163.2" cy="432.8" r="2.1"/><circle cx="166.7" cy="424.5" r="2.1"/><circle cx="177.6" cy="451.2" r="2.1"/><circle cx="173.3" cy="441.2" r="2.1"/><circle cx="174.8" cy="484.3" r="2.1"/><circle cx="169.3" cy="412.1" r="2.1"/><circle cx="173.4" cy="443.3" r="2.1"/><circle cx="174.9" cy="449.8" r="2.1"/><circle cx="169.4" cy="494.8" r="2.1"/><circle cx="178.8" cy="421.5" r="2.1"/><circle cx="173.8" cy="466.8" r="2.1"/><circle cx="162.6" cy="413.8" r="2.1"/><circle cx="176.4" cy="478.7" r="2.1"/><circle cx="173.0" cy="447.6" r="2.1"/><circle cx="174.1" cy="431.3" r="2.1"/><circle cx="171.4" cy="486.1" r="2.1"/><circle cx="169.7" cy="415.7" r="2.1"/><circle cx="166.3" cy="476.9" r="2.1"/><circle cx="176.9" cy="433.9" r="2.1"/><circle cx="176.9" cy="481.8" r="2.1"/><circle cx="172.3" cy="486.8" r="2.1"/><circle cx="180.0" cy="464.3" r="2.1"/><circle cx="174.2" cy="490.9" r="2.1"/><circle cx="176.9" cy="477.8" r="2.1"/><circle cx="167.3" cy="414.3" r="2.1"/><circle cx="168.3" cy="463.9" r="2.1"/><circle cx="175.7" cy="425.1" r="2.1"/><circle cx="166.4" cy="501.0" r="2.1"/><circle cx="163.5" cy="498.6" r="2.1"/><circle cx="180.5" cy="462.9" r="2.1"/><circle cx="162.0" cy="499.8" r="2.1"/><circle cx="171.8" cy="497.6" r="2.1"/><circle cx="180.7" cy="484.9" r="2.1"/><circle cx="167.3" cy="416.4" r="2.1"/><circle cx="170.7" cy="485.7" r="2.1"/><circle cx="179.7" cy="492.6" r="2.1"/><circle cx="185.2" cy="481.2" r="2.1"/><circle cx="162.0" cy="492.1" r="2.1"/><circle cx="176.8" cy="438.0" r="2.1"/><circle cx="164.9" cy="438.6" r="2.1"/><circle cx="170.0" cy="455.1" r="2.1"/><circle cx="172.7" cy="425.4" r="2.1"/><circle cx="163.8" cy="425.5" r="2.1"/><circle cx="164.9" cy="415.1" r="2.1"/><circle cx="171.8" cy="418.1" r="2.1"/><circle cx="181.2" cy="460.0" r="2.1"/><circle cx="172.9" cy="469.6" r="2.1"/><circle cx="167.5" cy="407.4" r="2.1"/><circle cx="163.7" cy="439.1" r="2.1"/><circle cx="170.5" cy="430.5" r="2.1"/><circle cx="169.2" cy="489.2" r="2.1"/><circle cx="162.0" cy="450.4" r="2.1"/><circle cx="171.1" cy="433.5" r="2.1"/><circle cx="179.3" cy="427.7" r="2.1"/><circle cx="162.8" cy="421.1" r="2.1"/><circle cx="164.6" cy="503.1" r="2.1"/><circle cx="169.8" cy="486.8" r="2.1"/><circle cx="162.8" cy="429.0" r="2.1"/><circle cx="181.0" cy="457.1" r="2.1"/><circle cx="180.9" cy="444.0" r="2.1"/><circle cx="176.9" cy="424.0" r="2.1"/><circle cx="166.6" cy="494.2" r="2.1"/><circle cx="172.2" cy="487.1" r="2.1"/><circle cx="168.7" cy="478.8" r="2.1"/><circle cx="183.8" cy="468.3" r="2.1"/><circle cx="167.5" cy="472.5" r="2.1"/><circle cx="184.8" cy="485.9" r="2.1"/><circle cx="172.5" cy="445.3" r="2.1"/><circle cx="164.2" cy="482.6" r="2.1"/><circle cx="165.6" cy="427.1" r="2.1"/><circle cx="162.6" cy="421.6" r="2.1"/><circle cx="171.1" cy="453.1" r="2.1"/><circle cx="166.0" cy="447.9" r="2.1"/><circle cx="165.1" cy="457.8" r="2.1"/><circle cx="175.6" cy="414.3" r="2.1"/><circle cx="183.6" cy="458.6" r="2.1"/><circle cx="171.1" cy="464.3" r="2.1"/><circle cx="173.7" cy="456.2" r="2.1"/><circle cx="169.3" cy="459.6" r="2.1"/><circle cx="175.0" cy="433.6" r="2.1"/><circle cx="172.9" cy="497.5" r="2.1"/><circle cx="167.5" cy="430.6" r="2.1"/><circle cx="169.2" cy="491.7" r="2.1"/><circle cx="169.1" cy="488.5" r="2.1"/><circle cx="172.7" cy="488.1" r="2.1"/><circle cx="167.7" cy="465.8" r="2.1"/><circle cx="170.3" cy="417.0" r="2.1"/><circle cx="162.6" cy="437.0" r="2.1"/><circle cx="175.0" cy="433.3" r="2.1"/><circle cx="181.7" cy="470.7" r="2.1"/><circle cx="176.8" cy="488.5" r="2.1"/><circle cx="169.7" cy="470.6" r="2.1"/><circle cx="170.3" cy="434.2" r="2.1"/><circle cx="164.6" cy="484.6" r="2.1"/><circle cx="171.9" cy="437.0" r="2.1"/><circle cx="183.6" cy="448.7" r="2.1"/><circle cx="174.2" cy="441.0" r="2.1"/><circle cx="168.0" cy="429.6" r="2.1"/><circle cx="175.1" cy="479.6" r="2.1"/><circle cx="178.0" cy="431.2" r="2.1"/><circle cx="172.2" cy="438.7" r="2.1"/><circle cx="166.1" cy="502.1" r="2.1"/><circle cx="166.1" cy="486.8" r="2.1"/><circle cx="170.8" cy="435.5" r="2.1"/><circle cx="169.0" cy="437.9" r="2.1"/><circle cx="176.1" cy="436.5" r="2.1"/><circle cx="174.8" cy="464.0" r="2.1"/><circle cx="169.5" cy="492.6" r="2.1"/><circle cx="184.3" cy="471.4" r="2.1"/><circle cx="171.8" cy="421.8" r="2.1"/><circle cx="176.9" cy="434.2" r="2.1"/><circle cx="165.8" cy="458.8" r="2.1"/><circle cx="166.6" cy="469.6" r="2.1"/><circle cx="177.1" cy="424.3" r="2.1"/><circle cx="170.0" cy="478.0" r="2.1"/><circle cx="180.1" cy="440.0" r="2.1"/><circle cx="175.3" cy="480.1" r="2.1"/><circle cx="183.9" cy="482.3" r="2.1"/><circle cx="175.1" cy="445.4" r="2.1"/><circle cx="177.0" cy="470.5" r="2.1"/><circle cx="176.6" cy="477.1" r="2.1"/><circle cx="179.8" cy="499.6" r="2.1"/><circle cx="176.8" cy="493.5" r="2.1"/><circle cx="179.7" cy="443.4" r="2.1"/><circle cx="181.2" cy="441.9" r="2.1"/><circle cx="181.9" cy="493.8" r="2.1"/><circle cx="178.6" cy="455.3" r="2.1"/><circle cx="168.8" cy="469.6" r="2.1"/><circle cx="183.4" cy="441.2" r="2.1"/><circle cx="166.9" cy="481.5" r="2.1"/><circle cx="165.2" cy="416.3" r="2.1"/><circle cx="175.2" cy="489.0" r="2.1"/><circle cx="167.8" cy="484.9" r="2.1"/><circle cx="162.9" cy="426.1" r="2.1"/><circle cx="175.0" cy="481.6" r="2.1"/><circle cx="173.7" cy="474.5" r="2.1"/><circle cx="170.5" cy="443.1" r="2.1"/><circle cx="166.7" cy="440.4" r="2.1"/><circle cx="177.7" cy="424.9" r="2.1"/><circle cx="177.5" cy="446.5" r="2.1"/><circle cx="180.7" cy="477.2" r="2.1"/><circle cx="181.6" cy="461.4" r="2.1"/><circle cx="172.2" cy="444.6" r="2.1"/><circle cx="168.0" cy="441.9" r="2.1"/><circle cx="164.6" cy="438.8" r="2.1"/><circle cx="183.9" cy="460.3" r="2.1"/><circle cx="162.4" cy="458.7" r="2.1"/><circle cx="166.0" cy="453.8" r="2.1"/><circle cx="171.4" cy="484.0" r="2.1"/><circle cx="173.7" cy="413.1" r="2.1"/><circle cx="171.5" cy="486.8" r="2.1"/><circle cx="180.6" cy="478.0" r="2.1"/><circle cx="178.8" cy="487.6" r="2.1"/><circle cx="182.9" cy="439.4" r="2.1"/><circle cx="170.9" cy="467.5" r="2.1"/><circle cx="164.7" cy="436.1" r="2.1"/><circle cx="170.8" cy="425.8" r="2.1"/><circle cx="166.3" cy="470.9" r="2.1"/><circle cx="169.3" cy="410.8" r="2.1"/><circle cx="167.2" cy="474.2" r="2.1"/><circle cx="163.8" cy="427.3" r="2.1"/><circle cx="165.8" cy="469.8" r="2.1"/><circle cx="175.3" cy="488.0" r="2.1"/><circle cx="182.0" cy="461.3" r="2.1"/><circle cx="194.0" cy="495.1" r="2.1"/><circle cx="195.5" cy="437.4" r="2.1"/><circle cx="173.5" cy="408.2" r="2.1"/><circle cx="181.3" cy="414.7" r="2.1"/><circle cx="172.3" cy="463.9" r="2.1"/><circle cx="191.5" cy="479.3" r="2.1"/><circle cx="165.1" cy="404.6" r="2.1"/><circle cx="171.5" cy="457.6" r="2.1"/><circle cx="193.8" cy="484.5" r="2.1"/><circle cx="197.5" cy="461.6" r="2.1"/><circle cx="186.1" cy="429.5" r="2.1"/><circle cx="173.8" cy="420.2" r="2.1"/><circle cx="182.2" cy="463.6" r="2.1"/><circle cx="183.7" cy="440.3" r="2.1"/><circle cx="178.0" cy="424.8" r="2.1"/><circle cx="192.9" cy="460.8" r="2.1"/><circle cx="190.4" cy="485.7" r="2.1"/><circle cx="172.5" cy="410.6" r="2.1"/><circle cx="172.6" cy="496.0" r="2.1"/><circle cx="192.0" cy="441.8" r="2.1"/><circle cx="191.5" cy="434.9" r="2.1"/><circle cx="177.8" cy="447.9" r="2.1"/><circle cx="166.8" cy="427.7" r="2.1"/><circle cx="170.7" cy="430.0" r="2.1"/><circle cx="164.4" cy="430.3" r="2.1"/><circle cx="165.8" cy="454.7" r="2.1"/><circle cx="177.3" cy="422.6" r="2.1"/><circle cx="182.1" cy="494.6" r="2.1"/><circle cx="185.1" cy="492.0" r="2.1"/><circle cx="164.3" cy="477.3" r="2.1"/><circle cx="174.6" cy="432.7" r="2.1"/><circle cx="191.2" cy="478.1" r="2.1"/><circle cx="174.9" cy="437.2" r="2.1"/><circle cx="172.4" cy="498.9" r="2.1"/><circle cx="185.3" cy="426.1" r="2.1"/><circle cx="182.1" cy="404.2" r="2.1"/><circle cx="172.1" cy="452.2" r="2.1"/><circle cx="182.7" cy="480.4" r="2.1"/><circle cx="171.4" cy="473.0" r="2.1"/><circle cx="175.9" cy="485.9" r="2.1"/><circle cx="179.6" cy="462.1" r="2.1"/><circle cx="192.1" cy="426.7" r="2.1"/><circle cx="190.5" cy="474.0" r="2.1"/><circle cx="194.6" cy="477.3" r="2.1"/><circle cx="194.7" cy="463.2" r="2.1"/><circle cx="182.6" cy="447.9" r="2.1"/><circle cx="177.3" cy="448.0" r="2.1"/><circle cx="180.6" cy="440.3" r="2.1"/><circle cx="167.3" cy="441.0" r="2.1"/><circle cx="179.1" cy="421.5" r="2.1"/><circle cx="173.7" cy="470.2" r="2.1"/><circle cx="190.6" cy="465.1" r="2.1"/><circle cx="166.4" cy="423.5" r="2.1"/><circle cx="189.4" cy="466.6" r="2.1"/><circle cx="187.5" cy="428.3" r="2.1"/><circle cx="195.4" cy="481.9" r="2.1"/><circle cx="180.3" cy="490.3" r="2.1"/><circle cx="173.3" cy="455.6" r="2.1"/><circle cx="181.7" cy="502.6" r="2.1"/><circle cx="191.6" cy="430.1" r="2.1"/><circle cx="173.5" cy="416.5" r="2.1"/><circle cx="164.2" cy="408.7" r="2.1"/><circle cx="194.8" cy="463.0" r="2.1"/><circle cx="183.5" cy="489.4" r="2.1"/><circle cx="178.4" cy="463.8" r="2.1"/><circle cx="168.2" cy="446.1" r="2.1"/><circle cx="165.5" cy="447.9" r="2.1"/><circle cx="187.6" cy="442.0" r="2.1"/><circle cx="191.4" cy="431.9" r="2.1"/><circle cx="166.0" cy="447.6" r="2.1"/><circle cx="169.0" cy="422.2" r="2.1"/><circle cx="169.3" cy="473.8" r="2.1"/><circle cx="187.8" cy="421.9" r="2.1"/><circle cx="181.3" cy="438.0" r="2.1"/><circle cx="194.4" cy="445.5" r="2.1"/><circle cx="168.2" cy="490.9" r="2.1"/><circle cx="184.0" cy="426.7" r="2.1"/><circle cx="189.0" cy="494.7" r="2.1"/><circle cx="190.2" cy="483.6" r="2.1"/><circle cx="175.3" cy="423.4" r="2.1"/><circle cx="163.9" cy="494.8" r="2.1"/><circle cx="170.7" cy="437.8" r="2.1"/><circle cx="197.3" cy="458.6" r="2.1"/><circle cx="168.3" cy="485.6" r="2.1"/><circle cx="180.4" cy="474.7" r="2.1"/><circle cx="172.2" cy="434.2" r="2.1"/><circle cx="171.4" cy="411.4" r="2.1"/><circle cx="180.4" cy="446.1" r="2.1"/></g><polygon points="131.2,400.0 132.5,392.0 134.0,397.0 134.4,417.0 136.7,430.6 140.0,450.6 142.6,472.8 146.0,493.0 147.3,500.0 148.8,493.0 151.4,472.8 153.3,450.6 156.7,430.6 158.0,420.0 161.8,420.0 161.8,504.0 167.8,506.0 163.0,509.0 147.0,509.6 131.0,509.0 126.7,505.0 131.2,504.0" fill="#6b6b6b"/><g fill="rgba(107,107,107,0.85)"><circle cx="132.7" cy="357.0" r="2.1"/><circle cx="135.0" cy="386.5" r="2.1"/><circle cx="133.3" cy="405.0" r="2.1"/><circle cx="155.6" cy="413.9" r="2.1"/><circle cx="159.0" cy="415.6" r="2.1"/><circle cx="141.7" cy="435.1" r="2.1"/><circle cx="140.6" cy="429.7" r="2.1"/><circle cx="154.3" cy="435.8" r="2.1"/><circle cx="161.2" cy="430.8" r="2.1"/><circle cx="153.6" cy="447.1" r="2.1"/><circle cx="152.5" cy="459.0" r="2.1"/><circle cx="141.7" cy="460.1" r="2.1"/><circle cx="139.5" cy="451.4" r="2.1"/></g><line x1="33" y1="299.8" x2="260" y2="299.8" stroke="#fff" stroke-width="0.8"/><g fill="rgba(107,107,107,0.85)"><circle cx="131.8" cy="399.0" r="2.1"/><circle cx="132.3" cy="396.9" r="2.1"/><circle cx="132.9" cy="392.7" r="2.1"/><circle cx="131.5" cy="393.3" r="2.1"/><circle cx="131.9" cy="396.4" r="2.1"/><circle cx="133.2" cy="398.4" r="2.1"/><circle cx="133.6" cy="401.6" r="2.1"/><circle cx="133.4" cy="405.3" r="2.1"/><circle cx="132.9" cy="406.7" r="2.1"/><circle cx="132.9" cy="408.9" r="2.1"/><circle cx="133.6" cy="413.7" r="2.1"/><circle cx="133.3" cy="416.9" r="2.1"/><circle cx="133.8" cy="419.3" r="2.1"/><circle cx="134.5" cy="420.9" r="2.1"/><circle cx="134.9" cy="422.5" r="2.1"/><circle cx="135.2" cy="428.0" r="2.1"/><circle cx="134.8" cy="429.4" r="2.1"/><circle cx="135.2" cy="432.6" r="2.1"/><circle cx="136.9" cy="434.6" r="2.1"/><circle cx="137.7" cy="439.0" r="2.1"/><circle cx="137.3" cy="441.6" r="2.1"/><circle cx="137.3" cy="445.1" r="2.1"/><circle cx="139.2" cy="446.8" r="2.1"/><circle cx="138.6" cy="448.0" r="2.1"/><circle cx="140.0" cy="452.9" r="2.1"/><circle cx="140.2" cy="454.6" r="2.1"/><circle cx="140.6" cy="457.0" r="2.1"/><circle cx="140.0" cy="460.0" r="2.1"/><circle cx="139.9" cy="462.4" r="2.1"/><circle cx="141.2" cy="464.7" r="2.1"/><circle cx="141.2" cy="468.1" r="2.1"/><circle cx="141.8" cy="472.2" r="2.1"/><circle cx="141.2" cy="475.1" r="2.1"/><circle cx="141.5" cy="476.3" r="2.1"/><circle cx="142.4" cy="480.5" r="2.1"/><circle cx="143.5" cy="483.4" r="2.1"/><circle cx="144.2" cy="484.7" r="2.1"/><circle cx="144.7" cy="487.8" r="2.1"/><circle cx="145.1" cy="490.6" r="2.1"/><circle cx="144.9" cy="495.2" r="2.1"/><circle cx="145.6" cy="499.6" r="2.1"/><circle cx="148.9" cy="499.9" r="2.1"/><circle cx="148.4" cy="495.9" r="2.1"/><circle cx="150.1" cy="492.3" r="2.1"/><circle cx="149.7" cy="490.0" r="2.1"/><circle cx="151.3" cy="486.3" r="2.1"/><circle cx="150.9" cy="483.3" r="2.1"/><circle cx="150.7" cy="480.4" r="2.1"/><circle cx="152.7" cy="476.3" r="2.1"/><circle cx="152.1" cy="473.7" r="2.1"/><circle cx="152.2" cy="471.6" r="2.1"/><circle cx="153.1" cy="468.3" r="2.1"/><circle cx="153.6" cy="466.5" r="2.1"/><circle cx="152.8" cy="462.5" r="2.1"/><circle cx="153.9" cy="459.6" r="2.1"/><circle cx="153.3" cy="458.3" r="2.1"/><circle cx="153.2" cy="454.1" r="2.1"/><circle cx="155.0" cy="452.3" r="2.1"/><circle cx="154.4" cy="450.0" r="2.1"/><circle cx="155.9" cy="445.4" r="2.1"/><circle cx="155.7" cy="442.8" r="2.1"/><circle cx="155.8" cy="439.5" r="2.1"/><circle cx="156.5" cy="436.8" r="2.1"/><circle cx="157.2" cy="434.6" r="2.1"/><circle cx="157.7" cy="432.9" r="2.1"/><circle cx="158.8" cy="429.2" r="2.1"/><circle cx="158.1" cy="426.3" r="2.1"/><circle cx="159.2" cy="424.5" r="2.1"/><circle cx="159.1" cy="421.9" r="2.1"/><circle cx="160.6" cy="421.8" r="2.1"/><circle cx="160.5" cy="420.5" r="2.1"/><circle cx="160.5" cy="423.1" r="2.1"/><circle cx="160.4" cy="427.0" r="2.1"/><circle cx="161.3" cy="430.1" r="2.1"/><circle cx="161.1" cy="432.8" r="2.1"/><circle cx="161.5" cy="434.2" r="2.1"/><circle cx="161.7" cy="437.1" r="2.1"/><circle cx="160.5" cy="439.2" r="2.1"/><circle cx="161.4" cy="443.0" r="2.1"/><circle cx="160.9" cy="445.7" r="2.1"/><circle cx="160.4" cy="446.8" r="2.1"/><circle cx="160.9" cy="450.8" r="2.1"/><circle cx="160.6" cy="452.9" r="2.1"/><circle cx="160.3" cy="455.8" r="2.1"/><circle cx="161.3" cy="458.8" r="2.1"/><circle cx="161.5" cy="459.4" r="2.1"/><circle cx="160.7" cy="462.8" r="2.1"/><circle cx="160.9" cy="467.1" r="2.1"/><circle cx="160.7" cy="468.2" r="2.1"/><circle cx="160.6" cy="472.4" r="2.1"/><circle cx="160.3" cy="473.3" r="2.1"/><circle cx="160.3" cy="477.7" r="2.1"/><circle cx="161.4" cy="478.8" r="2.1"/><circle cx="161.5" cy="481.6" r="2.1"/><circle cx="160.9" cy="483.3" r="2.1"/><circle cx="160.4" cy="487.9" r="2.1"/><circle cx="160.0" cy="489.3" r="2.1"/><circle cx="161.2" cy="491.3" r="2.1"/><circle cx="160.7" cy="494.2" r="2.1"/><circle cx="161.0" cy="498.5" r="2.1"/><circle cx="160.0" cy="500.9" r="2.1"/><circle cx="160.1" cy="502.6" r="2.1"/><circle cx="164.2" cy="505.8" r="2.1"/><circle cx="165.2" cy="505.4" r="2.1"/><circle cx="166.7" cy="505.6" r="2.1"/><circle cx="165.0" cy="506.9" r="2.1"/><circle cx="161.7" cy="508.3" r="2.1"/><circle cx="158.3" cy="508.0" r="2.1"/><circle cx="156.2" cy="508.0" r="2.1"/><circle cx="153.4" cy="508.5" r="2.1"/><circle cx="151.8" cy="508.3" r="2.1"/><circle cx="149.5" cy="509.3" r="2.1"/><circle cx="146.1" cy="509.1" r="2.1"/><circle cx="142.3" cy="509.0" r="2.1"/><circle cx="140.5" cy="508.0" r="2.1"/><circle cx="137.9" cy="507.7" r="2.1"/><circle cx="136.0" cy="508.8" r="2.1"/><circle cx="133.0" cy="508.3" r="2.1"/><circle cx="130.1" cy="507.5" r="2.1"/><circle cx="128.6" cy="504.9" r="2.1"/><circle cx="130.0" cy="505.9" r="2.1"/><circle cx="132.5" cy="503.8" r="2.1"/><circle cx="132.8" cy="499.5" r="2.1"/><circle cx="131.5" cy="498.4" r="2.1"/><circle cx="132.5" cy="494.2" r="2.1"/><circle cx="132.9" cy="493.2" r="2.1"/><circle cx="132.4" cy="489.1" r="2.1"/><circle cx="132.4" cy="486.4" r="2.1"/><circle cx="131.4" cy="484.9" r="2.1"/><circle cx="132.4" cy="482.3" r="2.1"/><circle cx="131.6" cy="480.1" r="2.1"/><circle cx="132.2" cy="477.7" r="2.1"/><circle cx="132.6" cy="472.9" r="2.1"/><circle cx="132.0" cy="472.8" r="2.1"/><circle cx="131.5" cy="468.4" r="2.1"/><circle cx="131.7" cy="465.5" r="2.1"/><circle cx="132.7" cy="463.8" r="2.1"/><circle cx="131.4" cy="460.1" r="2.1"/><circle cx="132.9" cy="457.7" r="2.1"/><circle cx="132.7" cy="455.0" r="2.1"/><circle cx="131.9" cy="453.6" r="2.1"/><circle cx="132.0" cy="451.9" r="2.1"/><circle cx="131.6" cy="448.6" r="2.1"/><circle cx="132.9" cy="444.3" r="2.1"/><circle cx="131.8" cy="442.1" r="2.1"/><circle cx="132.1" cy="441.3" r="2.1"/><circle cx="131.9" cy="438.8" r="2.1"/><circle cx="131.9" cy="434.8" r="2.1"/><circle cx="131.9" cy="432.9" r="2.1"/><circle cx="131.4" cy="429.0" r="2.1"/><circle cx="132.4" cy="426.5" r="2.1"/><circle cx="132.5" cy="424.6" r="2.1"/><circle cx="132.9" cy="423.4" r="2.1"/><circle cx="132.0" cy="420.0" r="2.1"/><circle cx="132.9" cy="416.9" r="2.1"/><circle cx="132.2" cy="415.0" r="2.1"/><circle cx="131.7" cy="410.4" r="2.1"/><circle cx="131.6" cy="408.7" r="2.1"/><circle cx="132.1" cy="406.3" r="2.1"/><circle cx="131.4" cy="403.7" r="2.1"/><circle cx="132.9" cy="402.1" r="2.1"/></g>
<rect x="32.6" y="282.2" width="227.79999999999998" height="228.3" fill="none" stroke="#555555" stroke-width="1.3"/>
<line x1="32.58" y1="510.5" x2="32.58" y2="513.5" stroke="#555555" stroke-width="1"/>
<text x="32.58" y="522.00" font-size="9.5" text-anchor="middle" stroke="#000" stroke-width="0.2">−8</text>
<line x1="61.06" y1="510.5" x2="61.06" y2="513.5" stroke="#555555" stroke-width="1"/>
<text x="61.06" y="522.00" font-size="9.5" text-anchor="middle" stroke="#000" stroke-width="0.2">−6</text>
<line x1="89.54" y1="510.5" x2="89.54" y2="513.5" stroke="#555555" stroke-width="1"/>
<text x="89.54" y="522.00" font-size="9.5" text-anchor="middle" stroke="#000" stroke-width="0.2">−4</text>
<line x1="118.02" y1="510.5" x2="118.02" y2="513.5" stroke="#555555" stroke-width="1"/>
<text x="118.02" y="522.00" font-size="9.5" text-anchor="middle" stroke="#000" stroke-width="0.2">−2</text>
<line x1="146.50" y1="510.5" x2="146.50" y2="513.5" stroke="#555555" stroke-width="1"/>
<text x="146.50" y="522.00" font-size="9.5" text-anchor="middle" stroke="#000" stroke-width="0.2">0</text>
<line x1="174.98" y1="510.5" x2="174.98" y2="513.5" stroke="#555555" stroke-width="1"/>
<text x="174.98" y="522.00" font-size="9.5" text-anchor="middle" stroke="#000" stroke-width="0.2">2</text>
<line x1="203.46" y1="510.5" x2="203.46" y2="513.5" stroke="#555555" stroke-width="1"/>
<text x="203.46" y="522.00" font-size="9.5" text-anchor="middle" stroke="#000" stroke-width="0.2">4</text>
<line x1="231.94" y1="510.5" x2="231.94" y2="513.5" stroke="#555555" stroke-width="1"/>
<text x="231.94" y="522.00" font-size="9.5" text-anchor="middle" stroke="#000" stroke-width="0.2">6</text>
<line x1="260.42" y1="510.5" x2="260.42" y2="513.5" stroke="#555555" stroke-width="1"/>
<text x="260.42" y="522.00" font-size="9.5" text-anchor="middle" stroke="#000" stroke-width="0.2">8</text>
<line x1="29.6" y1="510.50" x2="32.6" y2="510.50" stroke="#555555" stroke-width="1"/>
<text x="29.30" y="514.40" font-size="9.5" text-anchor="end" stroke="#000" stroke-width="0.2">0</text>
<line x1="29.6" y1="465.24" x2="32.6" y2="465.24" stroke="#555555" stroke-width="1"/>
<text x="29.30" y="469.14" font-size="9.5" text-anchor="end" stroke="#000" stroke-width="0.2">20</text>
<line x1="29.6" y1="419.98" x2="32.6" y2="419.98" stroke="#555555" stroke-width="1"/>
<text x="29.30" y="423.88" font-size="9.5" text-anchor="end" stroke="#000" stroke-width="0.2">40</text>
<line x1="29.6" y1="374.72" x2="32.6" y2="374.72" stroke="#555555" stroke-width="1"/>
<text x="29.30" y="378.62" font-size="9.5" text-anchor="end" stroke="#000" stroke-width="0.2">60</text>
<line x1="29.6" y1="329.46" x2="32.6" y2="329.46" stroke="#555555" stroke-width="1"/>
<text x="29.30" y="333.36" font-size="9.5" text-anchor="end" stroke="#000" stroke-width="0.2">80</text>
<line x1="29.6" y1="284.20" x2="32.6" y2="284.20" stroke="#555555" stroke-width="1"/>
<text x="29.30" y="288.10" font-size="9.5" text-anchor="end" stroke="#000" stroke-width="0.2">100</text>
<text x="146" y="300" font-size="20" font-weight="bold" text-anchor="middle">C</text>
<text x="146.85" y="536.2" font-size="12.5" text-anchor="middle" stroke="#000" stroke-width="0.25">log<tspan font-size="9.25" dx="2.00" dy="2.12">2</tspan><tspan dx="0.62" dy="-2.12">(Fold Change)</tspan></text>
<text transform="translate(9.7,396.4) rotate(-90)" font-size="13.8" text-anchor="middle" stroke="#000" stroke-width="0.25">-log<tspan font-size="11.04" dy="2.76">10</tspan><tspan dx="0.28" dy="-2.76">(P value)</tspan></text>
<line x1="292.5" y1="497.4" x2="516.4" y2="497.4" stroke="#b8b8b8" stroke-width="1"/>
<line x1="390.6" y1="283.7" x2="390.6" y2="508.1" stroke="#b8b8b8" stroke-width="1"/>
<line x1="418.5" y1="283.7" x2="418.5" y2="508.1" stroke="#b8b8b8" stroke-width="1"/>
<polygon points="377.0,400.0 388.9,398.0 388.9,496.7 385.9,496.5 377.3,493.0 373.1,480.0 371.0,460.0 371.0,437.7 371.0,416.3 373.0,405.0" fill="#b00000"/><g fill="rgba(176,0,0,0.76)"><circle cx="378.4" cy="401.6" r="2.1"/><circle cx="381.0" cy="399.3" r="2.1"/><circle cx="384.6" cy="400.3" r="2.1"/><circle cx="387.9" cy="398.1" r="2.1"/><circle cx="388.6" cy="399.3" r="2.1"/><circle cx="386.7" cy="400.8" r="2.1"/><circle cx="388.2" cy="405.2" r="2.1"/><circle cx="387.2" cy="408.1" r="2.1"/><circle cx="388.2" cy="408.7" r="2.1"/><circle cx="389.0" cy="412.2" r="2.1"/><circle cx="387.0" cy="416.0" r="2.1"/><circle cx="387.1" cy="418.0" r="2.1"/><circle cx="388.1" cy="420.8" r="2.1"/><circle cx="387.1" cy="423.5" r="2.1"/><circle cx="387.9" cy="425.4" r="2.1"/><circle cx="387.8" cy="427.7" r="2.1"/><circle cx="388.1" cy="431.9" r="2.1"/><circle cx="387.0" cy="433.0" r="2.1"/><circle cx="387.1" cy="437.4" r="2.1"/><circle cx="386.7" cy="438.4" r="2.1"/><circle cx="388.7" cy="442.0" r="2.1"/><circle cx="388.9" cy="444.1" r="2.1"/><circle cx="386.8" cy="448.2" r="2.1"/><circle cx="387.4" cy="451.1" r="2.1"/><circle cx="388.2" cy="452.8" r="2.1"/><circle cx="389.1" cy="455.8" r="2.1"/><circle cx="387.8" cy="456.8" r="2.1"/><circle cx="386.7" cy="460.2" r="2.1"/><circle cx="389.0" cy="463.9" r="2.1"/><circle cx="389.0" cy="466.3" r="2.1"/><circle cx="387.4" cy="469.9" r="2.1"/><circle cx="388.2" cy="472.1" r="2.1"/><circle cx="387.3" cy="472.8" r="2.1"/><circle cx="388.3" cy="477.2" r="2.1"/><circle cx="387.0" cy="478.6" r="2.1"/><circle cx="387.4" cy="481.6" r="2.1"/><circle cx="387.5" cy="485.7" r="2.1"/><circle cx="387.0" cy="486.4" r="2.1"/><circle cx="387.0" cy="491.3" r="2.1"/><circle cx="388.9" cy="493.2" r="2.1"/><circle cx="387.2" cy="494.3" r="2.1"/><circle cx="388.7" cy="494.8" r="2.1"/><circle cx="385.6" cy="495.4" r="2.1"/><circle cx="382.9" cy="493.8" r="2.1"/><circle cx="378.4" cy="492.9" r="2.1"/><circle cx="377.8" cy="491.4" r="2.1"/><circle cx="377.8" cy="488.1" r="2.1"/><circle cx="375.1" cy="486.7" r="2.1"/><circle cx="375.4" cy="482.3" r="2.1"/><circle cx="375.1" cy="481.7" r="2.1"/><circle cx="375.3" cy="479.6" r="2.1"/><circle cx="374.3" cy="476.2" r="2.1"/><circle cx="373.6" cy="473.1" r="2.1"/><circle cx="374.2" cy="469.6" r="2.1"/><circle cx="373.5" cy="467.0" r="2.1"/><circle cx="372.1" cy="464.2" r="2.1"/><circle cx="371.1" cy="460.5" r="2.1"/><circle cx="371.6" cy="459.5" r="2.1"/><circle cx="372.2" cy="455.8" r="2.1"/><circle cx="370.8" cy="453.9" r="2.1"/><circle cx="371.0" cy="450.3" r="2.1"/><circle cx="373.1" cy="447.3" r="2.1"/><circle cx="371.1" cy="443.8" r="2.1"/><circle cx="371.6" cy="441.5" r="2.1"/><circle cx="372.3" cy="438.3" r="2.1"/><circle cx="371.5" cy="436.6" r="2.1"/><circle cx="372.3" cy="434.6" r="2.1"/><circle cx="372.4" cy="431.7" r="2.1"/><circle cx="371.6" cy="427.1" r="2.1"/><circle cx="372.5" cy="425.2" r="2.1"/><circle cx="373.2" cy="422.9" r="2.1"/><circle cx="371.9" cy="421.6" r="2.1"/><circle cx="372.8" cy="418.6" r="2.1"/><circle cx="373.0" cy="414.6" r="2.1"/><circle cx="371.6" cy="411.9" r="2.1"/><circle cx="372.8" cy="410.6" r="2.1"/><circle cx="373.1" cy="405.2" r="2.1"/><circle cx="375.0" cy="405.9" r="2.1"/><circle cx="377.0" cy="402.2" r="2.1"/></g><g fill="rgba(176,0,0,0.76)"><circle cx="320.8" cy="340.0" r="2.1"/><circle cx="330.4" cy="349.1" r="2.1"/><circle cx="363.5" cy="335.3" r="2.1"/><circle cx="350.2" cy="353.0" r="2.1"/><circle cx="360.3" cy="356.0" r="2.1"/><circle cx="363.0" cy="355.1" r="2.1"/><circle cx="337.4" cy="364.7" r="2.1"/><circle cx="348.1" cy="371.5" r="2.1"/><circle cx="365.6" cy="370.7" r="2.1"/><circle cx="372.4" cy="367.7" r="2.1"/><circle cx="349.6" cy="380.5" r="2.1"/><circle cx="342.6" cy="391.2" r="2.1"/><circle cx="317.6" cy="397.8" r="2.1"/><circle cx="357.5" cy="385.8" r="2.1"/><circle cx="360.3" cy="389.3" r="2.1"/><circle cx="363.5" cy="383.3" r="2.1"/><circle cx="366.7" cy="386.5" r="2.1"/><circle cx="370.5" cy="384.3" r="2.1"/><circle cx="376.3" cy="382.2" r="2.1"/><circle cx="378.4" cy="385.0" r="2.1"/><circle cx="381.2" cy="386.9" r="2.1"/><circle cx="373.7" cy="389.7" r="2.1"/><circle cx="378.0" cy="390.7" r="2.1"/><circle cx="356.0" cy="392.2" r="2.1"/><circle cx="362.4" cy="393.9" r="2.1"/><circle cx="367.7" cy="391.8" r="2.1"/><circle cx="372.0" cy="395.0" r="2.1"/><circle cx="377.3" cy="396.1" r="2.1"/><circle cx="364.5" cy="397.1" r="2.1"/><circle cx="358.1" cy="396.1" r="2.1"/><circle cx="317.6" cy="398.2" r="2.1"/><circle cx="333.6" cy="421.7" r="2.1"/><circle cx="331.5" cy="429.1" r="2.1"/><circle cx="340.0" cy="430.2" r="2.1"/><circle cx="326.8" cy="433.8" r="2.1"/><circle cx="326.1" cy="436.6" r="2.1"/><circle cx="329.3" cy="438.7" r="2.1"/><circle cx="326.8" cy="442.4" r="2.1"/><circle cx="329.3" cy="443.0" r="2.1"/><circle cx="341.1" cy="436.6" r="2.1"/><circle cx="351.7" cy="411.0" r="2.1"/><circle cx="351.3" cy="416.3" r="2.1"/><circle cx="346.4" cy="420.6" r="2.1"/><circle cx="349.6" cy="423.8" r="2.1"/><circle cx="356.0" cy="428.1" r="2.1"/><circle cx="353.9" cy="434.5" r="2.1"/><circle cx="346.4" cy="437.7" r="2.1"/><circle cx="344.3" cy="445.1" r="2.1"/><circle cx="349.6" cy="446.2" r="2.1"/><circle cx="336.8" cy="453.7" r="2.1"/><circle cx="342.1" cy="456.9" r="2.1"/><circle cx="345.3" cy="453.7" r="2.1"/><circle cx="348.5" cy="452.6" r="2.1"/><circle cx="354.9" cy="452.6" r="2.1"/><circle cx="344.9" cy="466.5" r="2.1"/><circle cx="350.7" cy="467.5" r="2.1"/><circle cx="353.4" cy="468.6" r="2.1"/><circle cx="349.6" cy="461.1" r="2.1"/><circle cx="356.0" cy="459.0" r="2.1"/><circle cx="360.3" cy="455.8" r="2.1"/><circle cx="362.4" cy="463.3" r="2.1"/><circle cx="364.5" cy="469.7" r="2.1"/><circle cx="360.3" cy="471.8" r="2.1"/><circle cx="364.1" cy="487.2" r="2.1"/><circle cx="367.7" cy="485.7" r="2.1"/><circle cx="374.1" cy="493.1" r="2.1"/><circle cx="375.2" cy="473.9" r="2.1"/><circle cx="367.7" cy="479.3" r="2.1"/><circle cx="360.3" cy="441.9" r="2.1"/><circle cx="362.4" cy="433.4" r="2.1"/><circle cx="358.1" cy="422.7" r="2.1"/><circle cx="360.3" cy="411.0" r="2.1"/><circle cx="362.4" cy="403.5" r="2.1"/><circle cx="359.2" cy="396.1" r="2.1"/><circle cx="366.7" cy="397.1" r="2.1"/><circle cx="370.9" cy="398.2" r="2.1"/><circle cx="349.7" cy="380.7" r="2.1"/><circle cx="364.5" cy="383.0" r="2.1"/><circle cx="371.2" cy="383.7" r="2.1"/><circle cx="376.4" cy="382.2" r="2.1"/><circle cx="357.8" cy="385.2" r="2.1"/><circle cx="380.8" cy="386.7" r="2.1"/><circle cx="342.3" cy="390.7" r="2.1"/><circle cx="355.6" cy="391.6" r="2.1"/><circle cx="358.6" cy="394.1" r="2.1"/><circle cx="363.0" cy="394.8" r="2.1"/><circle cx="359.3" cy="405.2" r="2.1"/><circle cx="351.9" cy="410.4" r="2.1"/><circle cx="351.2" cy="415.6" r="2.1"/><circle cx="346.7" cy="420.1" r="2.1"/><circle cx="333.4" cy="421.5" r="2.1"/><circle cx="351.2" cy="423.0" r="2.1"/><circle cx="355.6" cy="420.8" r="2.1"/><circle cx="357.8" cy="420.1" r="2.1"/><circle cx="331.9" cy="429.0" r="2.1"/><circle cx="340.0" cy="430.1" r="2.1"/><circle cx="348.2" cy="428.2" r="2.1"/><circle cx="354.9" cy="427.5" r="2.1"/><circle cx="326.7" cy="433.4" r="2.1"/><circle cx="325.9" cy="437.1" r="2.1"/><circle cx="330.4" cy="437.9" r="2.1"/><circle cx="341.5" cy="436.4" r="2.1"/><circle cx="348.9" cy="431.9" r="2.1"/><circle cx="351.2" cy="436.4" r="2.1"/><circle cx="355.6" cy="439.3" r="2.1"/><circle cx="326.7" cy="442.3" r="2.1"/><circle cx="335.6" cy="442.3" r="2.1"/><circle cx="346.7" cy="440.8" r="2.1"/><circle cx="348.9" cy="446.0" r="2.1"/><circle cx="337.8" cy="448.2" r="2.1"/><circle cx="343.7" cy="451.2" r="2.1"/><circle cx="351.2" cy="451.2" r="2.1"/><circle cx="337.8" cy="453.4" r="2.1"/><circle cx="342.3" cy="457.2" r="2.1"/><circle cx="347.4" cy="455.7" r="2.1"/><circle cx="355.6" cy="452.7" r="2.1"/><circle cx="360.1" cy="443.8" r="2.1"/><circle cx="364.5" cy="446.8" r="2.1"/><circle cx="360.8" cy="436.4" r="2.1"/><circle cx="369.2" cy="407.0" r="2.1"/><circle cx="375.4" cy="460.7" r="2.1"/><circle cx="374.6" cy="424.9" r="2.1"/><circle cx="380.3" cy="447.4" r="2.1"/><circle cx="381.9" cy="457.4" r="2.1"/><circle cx="383.8" cy="431.4" r="2.1"/><circle cx="361.9" cy="397.5" r="2.1"/><circle cx="380.1" cy="399.6" r="2.1"/><circle cx="377.9" cy="452.6" r="2.1"/><circle cx="383.8" cy="405.3" r="2.1"/><circle cx="380.2" cy="465.7" r="2.1"/><circle cx="361.0" cy="458.4" r="2.1"/><circle cx="379.0" cy="494.7" r="2.1"/><circle cx="358.7" cy="417.2" r="2.1"/><circle cx="376.8" cy="451.2" r="2.1"/><circle cx="384.0" cy="415.3" r="2.1"/><circle cx="361.7" cy="458.1" r="2.1"/><circle cx="370.0" cy="457.6" r="2.1"/><circle cx="372.7" cy="426.2" r="2.1"/><circle cx="371.6" cy="465.2" r="2.1"/><circle cx="370.6" cy="467.1" r="2.1"/><circle cx="374.2" cy="483.0" r="2.1"/><circle cx="377.9" cy="417.7" r="2.1"/><circle cx="384.9" cy="467.9" r="2.1"/><circle cx="360.5" cy="457.3" r="2.1"/><circle cx="377.9" cy="467.7" r="2.1"/><circle cx="376.4" cy="429.0" r="2.1"/><circle cx="384.1" cy="492.5" r="2.1"/><circle cx="364.7" cy="431.2" r="2.1"/><circle cx="380.4" cy="459.6" r="2.1"/><circle cx="370.1" cy="432.7" r="2.1"/><circle cx="387.9" cy="412.3" r="2.1"/><circle cx="363.7" cy="460.3" r="2.1"/><circle cx="369.1" cy="483.6" r="2.1"/><circle cx="381.0" cy="465.6" r="2.1"/><circle cx="363.8" cy="399.2" r="2.1"/><circle cx="378.3" cy="387.5" r="2.1"/><circle cx="364.6" cy="446.3" r="2.1"/><circle cx="361.9" cy="418.5" r="2.1"/><circle cx="364.3" cy="459.1" r="2.1"/><circle cx="376.1" cy="463.4" r="2.1"/><circle cx="374.6" cy="438.2" r="2.1"/><circle cx="388.0" cy="484.6" r="2.1"/><circle cx="383.2" cy="383.5" r="2.1"/><circle cx="375.8" cy="490.2" r="2.1"/><circle cx="377.4" cy="440.0" r="2.1"/><circle cx="377.7" cy="400.7" r="2.1"/><circle cx="380.2" cy="471.7" r="2.1"/><circle cx="359.3" cy="439.6" r="2.1"/><circle cx="376.0" cy="421.2" r="2.1"/><circle cx="378.7" cy="487.9" r="2.1"/><circle cx="385.9" cy="416.0" r="2.1"/><circle cx="376.5" cy="477.1" r="2.1"/><circle cx="384.7" cy="412.7" r="2.1"/><circle cx="375.7" cy="415.5" r="2.1"/><circle cx="382.4" cy="460.9" r="2.1"/><circle cx="364.6" cy="438.5" r="2.1"/><circle cx="376.0" cy="407.3" r="2.1"/><circle cx="362.8" cy="435.5" r="2.1"/><circle cx="359.3" cy="437.9" r="2.1"/><circle cx="387.0" cy="476.6" r="2.1"/><circle cx="379.9" cy="462.9" r="2.1"/><circle cx="363.2" cy="474.0" r="2.1"/><circle cx="367.3" cy="422.9" r="2.1"/><circle cx="373.4" cy="397.4" r="2.1"/><circle cx="377.9" cy="442.1" r="2.1"/><circle cx="381.4" cy="465.1" r="2.1"/><circle cx="369.3" cy="401.8" r="2.1"/><circle cx="373.8" cy="448.6" r="2.1"/><circle cx="379.0" cy="437.3" r="2.1"/><circle cx="375.1" cy="464.3" r="2.1"/><circle cx="363.1" cy="401.1" r="2.1"/><circle cx="372.5" cy="468.2" r="2.1"/><circle cx="382.6" cy="479.8" r="2.1"/><circle cx="371.0" cy="463.5" r="2.1"/><circle cx="360.4" cy="425.5" r="2.1"/><circle cx="388.9" cy="458.4" r="2.1"/><circle cx="381.0" cy="423.6" r="2.1"/><circle cx="382.4" cy="389.9" r="2.1"/><circle cx="368.8" cy="421.0" r="2.1"/><circle cx="384.6" cy="400.2" r="2.1"/><circle cx="362.1" cy="390.5" r="2.1"/><circle cx="383.9" cy="416.9" r="2.1"/><circle cx="385.8" cy="416.6" r="2.1"/><circle cx="383.7" cy="402.8" r="2.1"/><circle cx="385.8" cy="493.9" r="2.1"/><circle cx="385.0" cy="460.9" r="2.1"/><circle cx="385.6" cy="487.0" r="2.1"/><circle cx="387.7" cy="412.2" r="2.1"/><circle cx="384.1" cy="471.2" r="2.1"/><circle cx="368.0" cy="399.7" r="2.1"/><circle cx="385.7" cy="435.3" r="2.1"/><circle cx="373.9" cy="483.7" r="2.1"/><circle cx="372.4" cy="409.5" r="2.1"/><circle cx="378.9" cy="442.3" r="2.1"/><circle cx="365.7" cy="461.0" r="2.1"/><circle cx="385.8" cy="408.8" r="2.1"/><circle cx="382.9" cy="468.2" r="2.1"/><circle cx="373.7" cy="402.6" r="2.1"/><circle cx="378.2" cy="412.9" r="2.1"/><circle cx="365.0" cy="479.9" r="2.1"/><circle cx="365.6" cy="390.8" r="2.1"/><circle cx="366.7" cy="427.4" r="2.1"/><circle cx="374.4" cy="468.1" r="2.1"/><circle cx="371.4" cy="456.6" r="2.1"/><circle cx="366.5" cy="423.2" r="2.1"/><circle cx="362.5" cy="429.3" r="2.1"/><circle cx="359.8" cy="446.3" r="2.1"/><circle cx="387.7" cy="480.3" r="2.1"/><circle cx="380.2" cy="454.2" r="2.1"/><circle cx="371.6" cy="389.6" r="2.1"/><circle cx="385.5" cy="484.9" r="2.1"/><circle cx="382.7" cy="460.6" r="2.1"/><circle cx="382.9" cy="492.2" r="2.1"/><circle cx="388.0" cy="470.1" r="2.1"/><circle cx="375.1" cy="432.9" r="2.1"/><circle cx="370.7" cy="411.6" r="2.1"/><circle cx="358.1" cy="452.3" r="2.1"/><circle cx="376.7" cy="390.1" r="2.1"/><circle cx="386.4" cy="485.7" r="2.1"/><circle cx="384.6" cy="442.9" r="2.1"/><circle cx="369.3" cy="435.0" r="2.1"/><circle cx="386.3" cy="485.1" r="2.1"/><circle cx="373.6" cy="439.8" r="2.1"/><circle cx="378.9" cy="413.8" r="2.1"/><circle cx="365.6" cy="411.6" r="2.1"/><circle cx="372.7" cy="390.3" r="2.1"/><circle cx="373.7" cy="398.7" r="2.1"/><circle cx="383.4" cy="389.6" r="2.1"/><circle cx="382.6" cy="411.4" r="2.1"/><circle cx="382.1" cy="473.7" r="2.1"/><circle cx="387.5" cy="400.4" r="2.1"/><circle cx="388.4" cy="397.3" r="2.1"/><circle cx="372.8" cy="389.6" r="2.1"/><circle cx="374.7" cy="489.2" r="2.1"/><circle cx="381.9" cy="455.8" r="2.1"/><circle cx="361.7" cy="415.0" r="2.1"/><circle cx="387.2" cy="467.4" r="2.1"/><circle cx="362.9" cy="433.5" r="2.1"/><circle cx="374.3" cy="409.5" r="2.1"/><circle cx="364.0" cy="389.8" r="2.1"/><circle cx="373.3" cy="428.7" r="2.1"/><circle cx="368.2" cy="436.1" r="2.1"/><circle cx="368.1" cy="425.2" r="2.1"/><circle cx="381.4" cy="397.3" r="2.1"/><circle cx="360.0" cy="432.3" r="2.1"/><circle cx="366.2" cy="435.6" r="2.1"/><circle cx="384.4" cy="490.7" r="2.1"/><circle cx="383.1" cy="487.7" r="2.1"/><circle cx="364.4" cy="420.5" r="2.1"/><circle cx="360.6" cy="413.9" r="2.1"/><circle cx="365.3" cy="408.1" r="2.1"/><circle cx="373.4" cy="485.3" r="2.1"/><circle cx="373.8" cy="467.6" r="2.1"/><circle cx="378.4" cy="449.3" r="2.1"/><circle cx="386.5" cy="449.5" r="2.1"/><circle cx="373.1" cy="406.8" r="2.1"/><circle cx="360.2" cy="430.2" r="2.1"/><circle cx="370.0" cy="395.3" r="2.1"/><circle cx="387.4" cy="382.1" r="2.1"/><circle cx="371.1" cy="408.9" r="2.1"/><circle cx="370.0" cy="477.9" r="2.1"/><circle cx="387.7" cy="426.6" r="2.1"/><circle cx="379.7" cy="484.4" r="2.1"/><circle cx="366.3" cy="426.4" r="2.1"/><circle cx="370.8" cy="477.9" r="2.1"/><circle cx="366.7" cy="484.9" r="2.1"/><circle cx="362.9" cy="459.7" r="2.1"/><circle cx="377.1" cy="384.0" r="2.1"/><circle cx="367.4" cy="477.8" r="2.1"/><circle cx="369.8" cy="386.7" r="2.1"/><circle cx="372.0" cy="443.3" r="2.1"/><circle cx="372.0" cy="429.3" r="2.1"/><circle cx="386.9" cy="458.5" r="2.1"/><circle cx="371.2" cy="432.3" r="2.1"/><circle cx="381.6" cy="407.9" r="2.1"/><circle cx="372.4" cy="469.0" r="2.1"/><circle cx="359.9" cy="397.3" r="2.1"/><circle cx="358.6" cy="458.4" r="2.1"/><circle cx="382.5" cy="457.4" r="2.1"/><circle cx="376.8" cy="383.7" r="2.1"/><circle cx="368.6" cy="434.1" r="2.1"/><circle cx="367.7" cy="409.3" r="2.1"/><circle cx="368.8" cy="406.6" r="2.1"/><circle cx="359.2" cy="446.8" r="2.1"/><circle cx="357.8" cy="430.7" r="2.1"/><circle cx="369.8" cy="474.8" r="2.1"/><circle cx="379.5" cy="433.6" r="2.1"/><circle cx="380.1" cy="454.6" r="2.1"/><circle cx="388.6" cy="437.5" r="2.1"/><circle cx="369.6" cy="442.5" r="2.1"/><circle cx="360.3" cy="453.3" r="2.1"/><circle cx="361.2" cy="458.3" r="2.1"/><circle cx="376.5" cy="460.1" r="2.1"/><circle cx="362.9" cy="463.3" r="2.1"/><circle cx="387.1" cy="495.3" r="2.1"/><circle cx="381.4" cy="398.4" r="2.1"/><circle cx="381.7" cy="400.7" r="2.1"/><circle cx="388.2" cy="383.8" r="2.1"/><circle cx="357.5" cy="427.0" r="2.1"/><circle cx="386.7" cy="410.4" r="2.1"/><circle cx="384.7" cy="420.9" r="2.1"/><circle cx="383.1" cy="394.6" r="2.1"/><circle cx="387.0" cy="432.1" r="2.1"/><circle cx="364.5" cy="432.1" r="2.1"/><circle cx="372.1" cy="449.8" r="2.1"/><circle cx="388.8" cy="441.0" r="2.1"/><circle cx="367.7" cy="410.6" r="2.1"/><circle cx="379.3" cy="410.9" r="2.1"/><circle cx="381.1" cy="460.8" r="2.1"/><circle cx="377.4" cy="432.9" r="2.1"/><circle cx="384.8" cy="488.4" r="2.1"/><circle cx="381.2" cy="401.7" r="2.1"/><circle cx="371.3" cy="455.4" r="2.1"/><circle cx="387.4" cy="439.1" r="2.1"/><circle cx="372.4" cy="388.0" r="2.1"/><circle cx="359.1" cy="411.4" r="2.1"/><circle cx="378.6" cy="405.1" r="2.1"/><circle cx="381.1" cy="455.2" r="2.1"/><circle cx="366.2" cy="441.1" r="2.1"/><circle cx="383.6" cy="383.7" r="2.1"/><circle cx="377.0" cy="468.0" r="2.1"/><circle cx="387.8" cy="418.9" r="2.1"/><circle cx="377.3" cy="474.3" r="2.1"/><circle cx="366.7" cy="470.7" r="2.1"/><circle cx="380.9" cy="491.3" r="2.1"/><circle cx="370.2" cy="392.8" r="2.1"/><circle cx="373.5" cy="459.3" r="2.1"/><circle cx="386.2" cy="468.5" r="2.1"/><circle cx="374.5" cy="480.1" r="2.1"/><circle cx="384.1" cy="451.6" r="2.1"/><circle cx="365.2" cy="460.6" r="2.1"/><circle cx="380.4" cy="417.9" r="2.1"/><circle cx="376.2" cy="483.6" r="2.1"/><circle cx="380.1" cy="419.2" r="2.1"/><circle cx="388.7" cy="458.5" r="2.1"/><circle cx="364.7" cy="474.5" r="2.1"/><circle cx="382.0" cy="482.7" r="2.1"/><circle cx="383.7" cy="473.2" r="2.1"/><circle cx="369.5" cy="468.4" r="2.1"/><circle cx="381.4" cy="476.2" r="2.1"/><circle cx="375.4" cy="486.3" r="2.1"/><circle cx="373.5" cy="471.3" r="2.1"/><circle cx="376.3" cy="414.0" r="2.1"/><circle cx="372.6" cy="476.1" r="2.1"/><circle cx="380.3" cy="472.2" r="2.1"/><circle cx="373.8" cy="462.9" r="2.1"/><circle cx="377.3" cy="428.6" r="2.1"/><circle cx="357.1" cy="445.6" r="2.1"/><circle cx="379.0" cy="444.9" r="2.1"/><circle cx="369.8" cy="444.1" r="2.1"/><circle cx="360.3" cy="455.4" r="2.1"/><circle cx="386.0" cy="453.3" r="2.1"/><circle cx="386.9" cy="404.5" r="2.1"/><circle cx="378.1" cy="435.4" r="2.1"/><circle cx="360.4" cy="447.6" r="2.1"/><circle cx="360.5" cy="412.8" r="2.1"/><circle cx="361.5" cy="408.7" r="2.1"/><circle cx="385.6" cy="437.7" r="2.1"/><circle cx="374.5" cy="396.9" r="2.1"/><circle cx="361.9" cy="392.3" r="2.1"/><circle cx="379.4" cy="447.7" r="2.1"/><circle cx="380.7" cy="448.6" r="2.1"/><circle cx="365.0" cy="426.6" r="2.1"/><circle cx="379.4" cy="477.4" r="2.1"/><circle cx="378.0" cy="492.6" r="2.1"/><circle cx="385.5" cy="404.6" r="2.1"/><circle cx="371.8" cy="448.4" r="2.1"/><circle cx="364.1" cy="412.3" r="2.1"/><circle cx="385.2" cy="401.4" r="2.1"/><circle cx="383.5" cy="434.8" r="2.1"/><circle cx="379.0" cy="425.9" r="2.1"/><circle cx="378.6" cy="462.4" r="2.1"/><circle cx="370.5" cy="415.0" r="2.1"/><circle cx="370.7" cy="467.2" r="2.1"/><circle cx="368.2" cy="461.6" r="2.1"/><circle cx="373.2" cy="406.3" r="2.1"/><circle cx="385.0" cy="447.3" r="2.1"/><circle cx="385.4" cy="424.4" r="2.1"/><circle cx="387.3" cy="448.0" r="2.1"/><circle cx="368.0" cy="398.0" r="2.1"/><circle cx="382.5" cy="400.4" r="2.1"/><circle cx="383.2" cy="475.0" r="2.1"/><circle cx="361.2" cy="465.2" r="2.1"/><circle cx="379.4" cy="390.9" r="2.1"/><circle cx="381.2" cy="491.1" r="2.1"/><circle cx="367.7" cy="442.0" r="2.1"/><circle cx="370.1" cy="407.9" r="2.1"/><circle cx="362.1" cy="457.7" r="2.1"/><circle cx="387.9" cy="394.8" r="2.1"/><circle cx="357.7" cy="443.3" r="2.1"/><circle cx="365.5" cy="481.6" r="2.1"/><circle cx="366.9" cy="428.0" r="2.1"/><circle cx="370.8" cy="428.0" r="2.1"/><circle cx="383.2" cy="403.6" r="2.1"/><circle cx="363.7" cy="425.7" r="2.1"/><circle cx="377.2" cy="476.5" r="2.1"/><circle cx="382.1" cy="400.7" r="2.1"/><circle cx="386.7" cy="400.5" r="2.1"/><circle cx="382.7" cy="480.5" r="2.1"/><circle cx="360.7" cy="424.3" r="2.1"/><circle cx="363.8" cy="433.9" r="2.1"/><circle cx="382.0" cy="473.9" r="2.1"/><circle cx="381.2" cy="383.5" r="2.1"/><circle cx="380.5" cy="469.3" r="2.1"/><circle cx="362.6" cy="398.2" r="2.1"/><circle cx="372.6" cy="451.3" r="2.1"/><circle cx="375.3" cy="488.6" r="2.1"/><circle cx="385.9" cy="426.8" r="2.1"/><circle cx="365.8" cy="477.9" r="2.1"/><circle cx="372.9" cy="450.2" r="2.1"/><circle cx="380.0" cy="494.4" r="2.1"/><circle cx="373.4" cy="433.7" r="2.1"/><circle cx="384.3" cy="389.0" r="2.1"/><circle cx="371.0" cy="405.7" r="2.1"/><circle cx="376.5" cy="476.2" r="2.1"/><circle cx="370.6" cy="404.3" r="2.1"/><circle cx="375.7" cy="489.4" r="2.1"/><circle cx="365.6" cy="413.4" r="2.1"/><circle cx="362.7" cy="454.6" r="2.1"/><circle cx="374.9" cy="480.2" r="2.1"/><circle cx="375.8" cy="419.1" r="2.1"/><circle cx="387.3" cy="418.4" r="2.1"/><circle cx="367.0" cy="441.5" r="2.1"/><circle cx="369.0" cy="467.1" r="2.1"/><circle cx="351.3" cy="398.3" r="2.1"/><circle cx="375.2" cy="455.9" r="2.1"/><circle cx="383.3" cy="381.0" r="2.1"/><circle cx="348.3" cy="434.2" r="2.1"/><circle cx="370.7" cy="439.2" r="2.1"/><circle cx="348.4" cy="444.8" r="2.1"/><circle cx="378.8" cy="458.7" r="2.1"/><circle cx="354.7" cy="389.7" r="2.1"/><circle cx="386.7" cy="412.7" r="2.1"/><circle cx="381.0" cy="446.7" r="2.1"/><circle cx="378.9" cy="462.7" r="2.1"/><circle cx="356.6" cy="440.1" r="2.1"/><circle cx="380.0" cy="448.6" r="2.1"/><circle cx="381.7" cy="443.3" r="2.1"/><circle cx="373.6" cy="375.8" r="2.1"/><circle cx="348.8" cy="406.8" r="2.1"/><circle cx="370.0" cy="416.3" r="2.1"/><circle cx="356.2" cy="396.6" r="2.1"/><circle cx="370.6" cy="447.4" r="2.1"/><circle cx="345.5" cy="418.2" r="2.1"/><circle cx="388.4" cy="451.3" r="2.1"/><circle cx="365.9" cy="456.9" r="2.1"/><circle cx="380.7" cy="468.6" r="2.1"/><circle cx="353.4" cy="404.0" r="2.1"/><circle cx="382.5" cy="410.0" r="2.1"/><circle cx="371.0" cy="420.2" r="2.1"/><circle cx="384.5" cy="428.3" r="2.1"/><circle cx="350.7" cy="401.3" r="2.1"/><circle cx="366.1" cy="403.4" r="2.1"/><circle cx="367.3" cy="484.0" r="2.1"/><circle cx="357.7" cy="397.9" r="2.1"/><circle cx="388.8" cy="434.7" r="2.1"/><circle cx="342.7" cy="449.7" r="2.1"/><circle cx="378.1" cy="423.6" r="2.1"/><circle cx="340.3" cy="418.5" r="2.1"/><circle cx="388.7" cy="437.2" r="2.1"/><circle cx="387.4" cy="479.3" r="2.1"/><circle cx="372.4" cy="438.2" r="2.1"/><circle cx="350.8" cy="451.4" r="2.1"/><circle cx="342.8" cy="425.2" r="2.1"/><circle cx="382.5" cy="403.5" r="2.1"/><circle cx="363.0" cy="392.7" r="2.1"/><circle cx="384.4" cy="480.6" r="2.1"/><circle cx="352.5" cy="451.1" r="2.1"/><circle cx="368.6" cy="389.4" r="2.1"/><circle cx="376.6" cy="438.5" r="2.1"/><circle cx="377.4" cy="437.4" r="2.1"/><circle cx="382.6" cy="475.6" r="2.1"/><circle cx="382.6" cy="490.3" r="2.1"/><circle cx="341.4" cy="431.7" r="2.1"/><circle cx="376.7" cy="386.3" r="2.1"/><circle cx="361.7" cy="439.8" r="2.1"/><circle cx="359.0" cy="396.9" r="2.1"/><circle cx="365.0" cy="462.7" r="2.1"/><circle cx="347.4" cy="409.6" r="2.1"/><circle cx="388.6" cy="452.5" r="2.1"/><circle cx="359.7" cy="435.7" r="2.1"/><circle cx="354.5" cy="444.7" r="2.1"/><circle cx="348.9" cy="398.0" r="2.1"/><circle cx="381.6" cy="379.0" r="2.1"/><circle cx="349.4" cy="455.0" r="2.1"/><circle cx="385.6" cy="442.5" r="2.1"/><circle cx="361.5" cy="469.6" r="2.1"/><circle cx="378.9" cy="394.2" r="2.1"/><circle cx="342.0" cy="424.7" r="2.1"/><circle cx="359.0" cy="429.3" r="2.1"/><circle cx="374.8" cy="455.5" r="2.1"/><circle cx="388.1" cy="382.5" r="2.1"/><circle cx="357.9" cy="413.1" r="2.1"/><circle cx="381.7" cy="401.6" r="2.1"/><circle cx="346.9" cy="427.0" r="2.1"/><circle cx="358.9" cy="405.4" r="2.1"/><circle cx="360.0" cy="479.4" r="2.1"/><circle cx="388.9" cy="476.2" r="2.1"/><circle cx="387.3" cy="487.6" r="2.1"/><circle cx="381.0" cy="391.1" r="2.1"/><circle cx="362.2" cy="397.1" r="2.1"/><circle cx="360.6" cy="423.7" r="2.1"/><circle cx="386.7" cy="496.4" r="2.1"/><circle cx="365.8" cy="461.2" r="2.1"/><circle cx="345.0" cy="407.7" r="2.1"/><circle cx="387.3" cy="443.6" r="2.1"/><circle cx="365.1" cy="465.0" r="2.1"/><circle cx="340.0" cy="444.2" r="2.1"/><circle cx="363.1" cy="478.3" r="2.1"/><circle cx="367.9" cy="455.8" r="2.1"/><circle cx="383.2" cy="401.3" r="2.1"/><circle cx="367.9" cy="448.7" r="2.1"/><circle cx="358.8" cy="444.1" r="2.1"/><circle cx="347.6" cy="461.0" r="2.1"/><circle cx="349.4" cy="420.3" r="2.1"/><circle cx="371.9" cy="408.1" r="2.1"/><circle cx="353.4" cy="465.5" r="2.1"/><circle cx="340.8" cy="428.2" r="2.1"/><circle cx="388.8" cy="496.5" r="2.1"/><circle cx="382.7" cy="481.7" r="2.1"/><circle cx="356.2" cy="390.0" r="2.1"/><circle cx="380.3" cy="459.3" r="2.1"/><circle cx="379.4" cy="408.0" r="2.1"/><circle cx="371.4" cy="489.2" r="2.1"/><circle cx="342.6" cy="440.3" r="2.1"/><circle cx="351.1" cy="446.8" r="2.1"/><circle cx="374.2" cy="395.9" r="2.1"/><circle cx="369.9" cy="403.5" r="2.1"/><circle cx="380.9" cy="381.7" r="2.1"/><circle cx="359.0" cy="405.1" r="2.1"/><circle cx="370.1" cy="403.3" r="2.1"/><circle cx="375.5" cy="440.1" r="2.1"/><circle cx="383.9" cy="439.3" r="2.1"/><circle cx="380.3" cy="444.0" r="2.1"/><circle cx="378.3" cy="479.3" r="2.1"/><circle cx="383.7" cy="396.7" r="2.1"/><circle cx="377.5" cy="482.3" r="2.1"/><circle cx="358.1" cy="448.8" r="2.1"/><circle cx="381.9" cy="494.0" r="2.1"/><circle cx="379.1" cy="481.9" r="2.1"/><circle cx="378.6" cy="479.7" r="2.1"/><circle cx="379.1" cy="403.9" r="2.1"/><circle cx="377.9" cy="383.7" r="2.1"/><circle cx="382.3" cy="479.0" r="2.1"/><circle cx="360.9" cy="408.8" r="2.1"/><circle cx="378.3" cy="398.9" r="2.1"/><circle cx="387.2" cy="405.4" r="2.1"/><circle cx="370.3" cy="420.8" r="2.1"/><circle cx="387.9" cy="438.1" r="2.1"/><circle cx="385.7" cy="384.6" r="2.1"/></g><polygon points="419.5,402.0 425.0,394.0 432.0,391.0 440.0,396.0 447.0,406.0 450.0,418.0 451.0,430.0 449.0,442.0 444.0,459.0 436.0,478.0 430.0,490.0 419.5,496.5" fill="#108a10"/><g fill="rgba(16,138,16,0.76)"><circle cx="421.3" cy="402.5" r="2.1"/><circle cx="423.5" cy="399.4" r="2.1"/><circle cx="425.6" cy="395.2" r="2.1"/><circle cx="426.9" cy="393.1" r="2.1"/><circle cx="432.3" cy="392.8" r="2.1"/><circle cx="433.0" cy="391.6" r="2.1"/><circle cx="435.1" cy="394.6" r="2.1"/><circle cx="439.3" cy="396.0" r="2.1"/><circle cx="440.2" cy="397.0" r="2.1"/><circle cx="442.3" cy="399.7" r="2.1"/><circle cx="444.7" cy="403.4" r="2.1"/><circle cx="446.2" cy="404.8" r="2.1"/><circle cx="447.5" cy="408.3" r="2.1"/><circle cx="446.8" cy="409.5" r="2.1"/><circle cx="447.9" cy="415.0" r="2.1"/><circle cx="448.9" cy="417.4" r="2.1"/><circle cx="449.9" cy="421.0" r="2.1"/><circle cx="449.1" cy="421.2" r="2.1"/><circle cx="450.4" cy="425.5" r="2.1"/><circle cx="449.5" cy="427.3" r="2.1"/><circle cx="450.7" cy="430.7" r="2.1"/><circle cx="447.9" cy="435.6" r="2.1"/><circle cx="450.1" cy="436.5" r="2.1"/><circle cx="448.2" cy="441.1" r="2.1"/><circle cx="448.5" cy="444.1" r="2.1"/><circle cx="445.9" cy="447.0" r="2.1"/><circle cx="446.7" cy="450.2" r="2.1"/><circle cx="444.3" cy="451.5" r="2.1"/><circle cx="444.3" cy="453.1" r="2.1"/><circle cx="443.3" cy="457.4" r="2.1"/><circle cx="442.7" cy="460.2" r="2.1"/><circle cx="441.2" cy="463.5" r="2.1"/><circle cx="439.5" cy="465.5" r="2.1"/><circle cx="439.4" cy="468.6" r="2.1"/><circle cx="436.4" cy="471.4" r="2.1"/><circle cx="437.8" cy="473.1" r="2.1"/><circle cx="435.9" cy="475.7" r="2.1"/><circle cx="433.4" cy="478.2" r="2.1"/><circle cx="432.9" cy="481.5" r="2.1"/><circle cx="432.5" cy="482.9" r="2.1"/><circle cx="430.3" cy="486.8" r="2.1"/><circle cx="430.7" cy="487.4" r="2.1"/><circle cx="429.3" cy="489.1" r="2.1"/><circle cx="424.0" cy="491.6" r="2.1"/><circle cx="423.7" cy="491.7" r="2.1"/><circle cx="420.4" cy="493.6" r="2.1"/><circle cx="421.1" cy="495.5" r="2.1"/><circle cx="419.7" cy="492.5" r="2.1"/><circle cx="421.4" cy="489.9" r="2.1"/><circle cx="420.5" cy="487.5" r="2.1"/><circle cx="421.6" cy="484.9" r="2.1"/><circle cx="420.4" cy="482.9" r="2.1"/><circle cx="421.3" cy="478.7" r="2.1"/><circle cx="420.0" cy="477.1" r="2.1"/><circle cx="419.8" cy="473.2" r="2.1"/><circle cx="421.5" cy="470.5" r="2.1"/><circle cx="419.9" cy="470.2" r="2.1"/><circle cx="419.9" cy="467.1" r="2.1"/><circle cx="421.2" cy="463.4" r="2.1"/><circle cx="419.6" cy="461.1" r="2.1"/><circle cx="420.0" cy="459.6" r="2.1"/><circle cx="419.6" cy="456.3" r="2.1"/><circle cx="420.7" cy="454.1" r="2.1"/><circle cx="420.9" cy="450.7" r="2.1"/><circle cx="419.6" cy="447.1" r="2.1"/><circle cx="419.9" cy="446.3" r="2.1"/><circle cx="421.3" cy="441.9" r="2.1"/><circle cx="419.8" cy="441.0" r="2.1"/><circle cx="419.3" cy="437.7" r="2.1"/><circle cx="420.6" cy="435.1" r="2.1"/><circle cx="421.6" cy="432.1" r="2.1"/><circle cx="421.5" cy="429.0" r="2.1"/><circle cx="420.8" cy="427.2" r="2.1"/><circle cx="421.6" cy="423.7" r="2.1"/><circle cx="421.5" cy="420.7" r="2.1"/><circle cx="420.2" cy="419.6" r="2.1"/><circle cx="420.8" cy="416.4" r="2.1"/><circle cx="420.4" cy="413.0" r="2.1"/><circle cx="421.7" cy="410.0" r="2.1"/><circle cx="421.5" cy="407.6" r="2.1"/><circle cx="420.4" cy="405.9" r="2.1"/><circle cx="419.8" cy="404.1" r="2.1"/></g><g fill="rgba(16,138,16,0.76)"><circle cx="454.7" cy="291.1" r="2.1"/><circle cx="508.7" cy="321.8" r="2.1"/><circle cx="453.2" cy="334.6" r="2.1"/><circle cx="452.1" cy="338.0" r="2.1"/><circle cx="452.8" cy="340.2" r="2.1"/><circle cx="444.7" cy="340.2" r="2.1"/><circle cx="440.4" cy="344.2" r="2.1"/><circle cx="450.6" cy="347.0" r="2.1"/><circle cx="451.1" cy="351.7" r="2.1"/><circle cx="438.3" cy="352.3" r="2.1"/><circle cx="461.7" cy="344.9" r="2.1"/><circle cx="462.4" cy="348.7" r="2.1"/><circle cx="468.1" cy="346.4" r="2.1"/><circle cx="476.0" cy="337.4" r="2.1"/><circle cx="475.6" cy="344.4" r="2.1"/><circle cx="506.1" cy="344.4" r="2.1"/><circle cx="476.7" cy="356.2" r="2.1"/><circle cx="480.9" cy="360.2" r="2.1"/><circle cx="487.3" cy="363.0" r="2.1"/><circle cx="492.2" cy="355.5" r="2.1"/><circle cx="496.9" cy="364.1" r="2.1"/><circle cx="454.3" cy="358.7" r="2.1"/><circle cx="443.6" cy="355.5" r="2.1"/><circle cx="445.7" cy="357.7" r="2.1"/><circle cx="427.6" cy="356.6" r="2.1"/><circle cx="431.9" cy="356.2" r="2.1"/><circle cx="435.1" cy="356.6" r="2.1"/><circle cx="427.0" cy="363.0" r="2.1"/><circle cx="439.3" cy="366.2" r="2.1"/><circle cx="446.8" cy="366.2" r="2.1"/><circle cx="441.5" cy="368.3" r="2.1"/><circle cx="453.2" cy="368.3" r="2.1"/><circle cx="438.3" cy="370.5" r="2.1"/><circle cx="447.9" cy="372.6" r="2.1"/><circle cx="453.2" cy="371.5" r="2.1"/><circle cx="461.7" cy="370.9" r="2.1"/><circle cx="463.9" cy="373.7" r="2.1"/><circle cx="464.9" cy="364.1" r="2.1"/><circle cx="467.1" cy="366.2" r="2.1"/><circle cx="470.3" cy="365.1" r="2.1"/><circle cx="467.1" cy="360.9" r="2.1"/><circle cx="427.6" cy="372.6" r="2.1"/><circle cx="431.9" cy="375.8" r="2.1"/><circle cx="427.6" cy="376.9" r="2.1"/><circle cx="438.3" cy="379.0" r="2.1"/><circle cx="447.9" cy="376.9" r="2.1"/><circle cx="454.3" cy="379.0" r="2.1"/><circle cx="459.6" cy="380.1" r="2.1"/><circle cx="463.9" cy="379.0" r="2.1"/><circle cx="472.4" cy="382.9" r="2.1"/><circle cx="481.4" cy="386.5" r="2.1"/><circle cx="508.7" cy="382.2" r="2.1"/><circle cx="499.1" cy="393.5" r="2.1"/><circle cx="486.3" cy="397.1" r="2.1"/><circle cx="423.3" cy="385.4" r="2.1"/><circle cx="429.7" cy="383.3" r="2.1"/><circle cx="436.1" cy="383.3" r="2.1"/><circle cx="444.7" cy="384.3" r="2.1"/><circle cx="451.1" cy="386.5" r="2.1"/><circle cx="457.5" cy="389.7" r="2.1"/><circle cx="461.7" cy="389.7" r="2.1"/><circle cx="468.1" cy="387.5" r="2.1"/><circle cx="470.3" cy="391.8" r="2.1"/><circle cx="423.3" cy="391.8" r="2.1"/><circle cx="429.7" cy="389.7" r="2.1"/><circle cx="436.1" cy="388.6" r="2.1"/><circle cx="442.5" cy="390.7" r="2.1"/><circle cx="448.9" cy="393.9" r="2.1"/><circle cx="455.3" cy="393.9" r="2.1"/><circle cx="463.9" cy="396.1" r="2.1"/><circle cx="486.7" cy="397.6" r="2.1"/><circle cx="492.4" cy="401.4" r="2.1"/><circle cx="493.1" cy="409.9" r="2.1"/><circle cx="481.3" cy="431.3" r="2.1"/><circle cx="490.3" cy="439.8" r="2.1"/><circle cx="485.0" cy="445.1" r="2.1"/><circle cx="477.7" cy="455.8" r="2.1"/><circle cx="469.2" cy="457.3" r="2.1"/><circle cx="456.8" cy="461.1" r="2.1"/><circle cx="447.2" cy="491.0" r="2.1"/><circle cx="448.3" cy="470.7" r="2.1"/><circle cx="465.3" cy="448.3" r="2.1"/><circle cx="427.2" cy="362.7" r="2.1"/><circle cx="447.9" cy="362.2" r="2.1"/><circle cx="454.3" cy="360.7" r="2.1"/><circle cx="467.7" cy="361.5" r="2.1"/><circle cx="480.3" cy="360.7" r="2.1"/><circle cx="487.3" cy="363.0" r="2.1"/><circle cx="438.7" cy="366.7" r="2.1"/><circle cx="446.2" cy="365.9" r="2.1"/><circle cx="452.1" cy="368.2" r="2.1"/><circle cx="465.4" cy="365.2" r="2.1"/><circle cx="469.9" cy="365.9" r="2.1"/><circle cx="428.4" cy="372.6" r="2.1"/><circle cx="462.5" cy="371.1" r="2.1"/><circle cx="464.0" cy="374.8" r="2.1"/><circle cx="472.9" cy="382.7" r="2.1"/><circle cx="481.8" cy="386.4" r="2.1"/><circle cx="486.2" cy="397.8" r="2.1"/><circle cx="492.2" cy="401.5" r="2.1"/><circle cx="492.9" cy="409.7" r="2.1"/><circle cx="481.8" cy="420.8" r="2.1"/><circle cx="481.0" cy="432.0" r="2.1"/><circle cx="489.9" cy="438.6" r="2.1"/><circle cx="469.2" cy="429.7" r="2.1"/><circle cx="475.8" cy="424.5" r="2.1"/><circle cx="480.3" cy="404.5" r="2.1"/><circle cx="476.6" cy="400.8" r="2.1"/><circle cx="468.4" cy="387.4" r="2.1"/><circle cx="461.0" cy="389.7" r="2.1"/><circle cx="421.9" cy="459.9" r="2.1"/><circle cx="428.5" cy="431.4" r="2.1"/><circle cx="447.8" cy="435.8" r="2.1"/><circle cx="420.7" cy="427.8" r="2.1"/><circle cx="442.8" cy="479.0" r="2.1"/><circle cx="446.6" cy="396.5" r="2.1"/><circle cx="443.0" cy="386.7" r="2.1"/><circle cx="451.5" cy="435.5" r="2.1"/><circle cx="451.2" cy="445.2" r="2.1"/><circle cx="443.1" cy="381.0" r="2.1"/><circle cx="423.3" cy="489.9" r="2.1"/><circle cx="471.9" cy="411.1" r="2.1"/><circle cx="425.9" cy="479.4" r="2.1"/><circle cx="462.0" cy="386.5" r="2.1"/><circle cx="475.7" cy="415.4" r="2.1"/><circle cx="452.6" cy="460.5" r="2.1"/><circle cx="429.9" cy="478.5" r="2.1"/><circle cx="456.5" cy="419.9" r="2.1"/><circle cx="431.1" cy="448.7" r="2.1"/><circle cx="426.6" cy="435.4" r="2.1"/><circle cx="424.7" cy="390.5" r="2.1"/><circle cx="424.9" cy="456.1" r="2.1"/><circle cx="429.1" cy="473.5" r="2.1"/><circle cx="426.3" cy="440.3" r="2.1"/><circle cx="447.2" cy="379.6" r="2.1"/><circle cx="419.7" cy="485.2" r="2.1"/><circle cx="440.6" cy="462.5" r="2.1"/><circle cx="473.1" cy="422.0" r="2.1"/><circle cx="464.0" cy="386.3" r="2.1"/><circle cx="432.4" cy="489.3" r="2.1"/><circle cx="444.8" cy="458.6" r="2.1"/><circle cx="455.5" cy="406.8" r="2.1"/><circle cx="440.0" cy="417.3" r="2.1"/><circle cx="431.1" cy="396.7" r="2.1"/><circle cx="431.2" cy="401.4" r="2.1"/><circle cx="433.6" cy="430.9" r="2.1"/><circle cx="423.3" cy="378.3" r="2.1"/><circle cx="453.6" cy="449.8" r="2.1"/><circle cx="455.7" cy="407.1" r="2.1"/><circle cx="427.6" cy="468.2" r="2.1"/><circle cx="463.2" cy="390.2" r="2.1"/><circle cx="458.4" cy="399.5" r="2.1"/><circle cx="443.0" cy="415.1" r="2.1"/><circle cx="435.8" cy="391.3" r="2.1"/><circle cx="432.0" cy="380.3" r="2.1"/><circle cx="436.3" cy="460.3" r="2.1"/><circle cx="436.6" cy="454.0" r="2.1"/><circle cx="424.1" cy="460.8" r="2.1"/><circle cx="428.4" cy="402.2" r="2.1"/><circle cx="465.1" cy="433.0" r="2.1"/><circle cx="459.5" cy="409.9" r="2.1"/><circle cx="461.3" cy="411.5" r="2.1"/><circle cx="449.6" cy="429.2" r="2.1"/><circle cx="451.9" cy="445.2" r="2.1"/><circle cx="432.9" cy="488.5" r="2.1"/><circle cx="426.3" cy="482.6" r="2.1"/><circle cx="475.3" cy="403.2" r="2.1"/><circle cx="465.1" cy="438.0" r="2.1"/><circle cx="435.5" cy="434.3" r="2.1"/><circle cx="448.4" cy="411.3" r="2.1"/><circle cx="440.9" cy="429.0" r="2.1"/><circle cx="436.2" cy="392.0" r="2.1"/><circle cx="469.8" cy="418.7" r="2.1"/><circle cx="442.3" cy="470.6" r="2.1"/><circle cx="463.1" cy="429.6" r="2.1"/><circle cx="438.9" cy="472.1" r="2.1"/><circle cx="434.3" cy="431.5" r="2.1"/><circle cx="434.5" cy="447.4" r="2.1"/><circle cx="452.4" cy="380.9" r="2.1"/><circle cx="430.8" cy="483.1" r="2.1"/><circle cx="468.8" cy="401.1" r="2.1"/><circle cx="430.7" cy="489.5" r="2.1"/><circle cx="476.2" cy="406.8" r="2.1"/><circle cx="431.1" cy="406.1" r="2.1"/><circle cx="451.7" cy="391.3" r="2.1"/><circle cx="471.6" cy="412.6" r="2.1"/><circle cx="466.8" cy="406.1" r="2.1"/><circle cx="429.1" cy="459.6" r="2.1"/><circle cx="444.1" cy="420.9" r="2.1"/><circle cx="447.0" cy="431.0" r="2.1"/><circle cx="448.9" cy="454.1" r="2.1"/><circle cx="426.2" cy="457.4" r="2.1"/><circle cx="437.5" cy="456.4" r="2.1"/><circle cx="432.3" cy="460.3" r="2.1"/><circle cx="462.1" cy="441.4" r="2.1"/><circle cx="441.9" cy="385.0" r="2.1"/><circle cx="440.2" cy="380.2" r="2.1"/><circle cx="431.1" cy="451.7" r="2.1"/><circle cx="432.3" cy="479.3" r="2.1"/><circle cx="445.4" cy="382.2" r="2.1"/><circle cx="459.2" cy="385.2" r="2.1"/><circle cx="457.9" cy="404.8" r="2.1"/><circle cx="426.4" cy="412.1" r="2.1"/><circle cx="424.0" cy="481.6" r="2.1"/><circle cx="460.6" cy="402.4" r="2.1"/><circle cx="436.9" cy="449.2" r="2.1"/><circle cx="439.6" cy="472.6" r="2.1"/><circle cx="445.1" cy="451.6" r="2.1"/><circle cx="448.2" cy="447.1" r="2.1"/><circle cx="432.2" cy="428.3" r="2.1"/><circle cx="471.6" cy="434.2" r="2.1"/><circle cx="420.6" cy="474.4" r="2.1"/><circle cx="429.2" cy="379.0" r="2.1"/><circle cx="426.5" cy="429.1" r="2.1"/><circle cx="448.3" cy="390.0" r="2.1"/><circle cx="458.8" cy="405.7" r="2.1"/><circle cx="462.7" cy="436.3" r="2.1"/><circle cx="452.3" cy="403.2" r="2.1"/><circle cx="439.1" cy="387.5" r="2.1"/><circle cx="452.2" cy="383.8" r="2.1"/><circle cx="426.6" cy="427.8" r="2.1"/><circle cx="462.0" cy="399.7" r="2.1"/><circle cx="460.6" cy="443.1" r="2.1"/><circle cx="474.8" cy="414.1" r="2.1"/><circle cx="437.2" cy="426.9" r="2.1"/><circle cx="420.9" cy="463.2" r="2.1"/><circle cx="425.0" cy="449.7" r="2.1"/><circle cx="423.2" cy="427.1" r="2.1"/><circle cx="435.3" cy="490.3" r="2.1"/><circle cx="438.2" cy="418.5" r="2.1"/><circle cx="438.7" cy="390.2" r="2.1"/><circle cx="459.8" cy="411.9" r="2.1"/><circle cx="436.4" cy="413.1" r="2.1"/><circle cx="441.6" cy="471.8" r="2.1"/><circle cx="433.0" cy="390.1" r="2.1"/><circle cx="440.2" cy="444.5" r="2.1"/><circle cx="437.2" cy="388.4" r="2.1"/><circle cx="475.5" cy="429.2" r="2.1"/><circle cx="446.6" cy="396.2" r="2.1"/><circle cx="435.7" cy="451.4" r="2.1"/><circle cx="425.9" cy="413.4" r="2.1"/><circle cx="437.5" cy="472.2" r="2.1"/><circle cx="458.1" cy="437.4" r="2.1"/><circle cx="446.8" cy="442.3" r="2.1"/><circle cx="449.6" cy="406.4" r="2.1"/><circle cx="443.7" cy="424.1" r="2.1"/><circle cx="467.4" cy="395.6" r="2.1"/><circle cx="431.4" cy="417.7" r="2.1"/><circle cx="458.5" cy="414.0" r="2.1"/><circle cx="451.9" cy="437.5" r="2.1"/><circle cx="436.4" cy="452.2" r="2.1"/><circle cx="454.3" cy="412.0" r="2.1"/><circle cx="423.3" cy="461.8" r="2.1"/><circle cx="447.8" cy="466.0" r="2.1"/><circle cx="435.5" cy="454.8" r="2.1"/><circle cx="421.3" cy="472.5" r="2.1"/><circle cx="436.1" cy="396.0" r="2.1"/><circle cx="447.1" cy="436.2" r="2.1"/><circle cx="422.4" cy="395.4" r="2.1"/><circle cx="443.3" cy="441.4" r="2.1"/><circle cx="463.2" cy="391.5" r="2.1"/><circle cx="470.9" cy="418.8" r="2.1"/><circle cx="447.5" cy="418.9" r="2.1"/><circle cx="424.5" cy="488.1" r="2.1"/><circle cx="429.1" cy="434.3" r="2.1"/><circle cx="437.3" cy="408.1" r="2.1"/><circle cx="444.2" cy="451.4" r="2.1"/><circle cx="448.1" cy="460.2" r="2.1"/><circle cx="480.2" cy="417.5" r="2.1"/><circle cx="420.7" cy="475.0" r="2.1"/><circle cx="440.6" cy="463.6" r="2.1"/><circle cx="471.2" cy="429.2" r="2.1"/><circle cx="459.4" cy="421.5" r="2.1"/><circle cx="434.6" cy="427.2" r="2.1"/><circle cx="456.2" cy="420.9" r="2.1"/><circle cx="440.0" cy="451.8" r="2.1"/><circle cx="439.4" cy="434.5" r="2.1"/><circle cx="424.7" cy="413.8" r="2.1"/><circle cx="426.6" cy="433.8" r="2.1"/><circle cx="440.0" cy="421.0" r="2.1"/><circle cx="421.4" cy="495.8" r="2.1"/><circle cx="432.7" cy="376.2" r="2.1"/><circle cx="423.1" cy="432.9" r="2.1"/><circle cx="471.7" cy="404.0" r="2.1"/><circle cx="427.7" cy="382.1" r="2.1"/><circle cx="446.2" cy="417.5" r="2.1"/><circle cx="447.8" cy="470.7" r="2.1"/><circle cx="439.9" cy="485.1" r="2.1"/><circle cx="473.6" cy="418.0" r="2.1"/><circle cx="446.7" cy="413.1" r="2.1"/><circle cx="470.0" cy="418.0" r="2.1"/><circle cx="445.6" cy="444.4" r="2.1"/><circle cx="425.0" cy="477.6" r="2.1"/><circle cx="425.4" cy="410.8" r="2.1"/><circle cx="446.4" cy="472.8" r="2.1"/><circle cx="465.2" cy="437.5" r="2.1"/><circle cx="425.0" cy="417.8" r="2.1"/><circle cx="434.6" cy="377.0" r="2.1"/><circle cx="439.9" cy="414.6" r="2.1"/><circle cx="449.4" cy="396.5" r="2.1"/><circle cx="453.6" cy="389.3" r="2.1"/><circle cx="461.0" cy="443.3" r="2.1"/><circle cx="459.3" cy="429.2" r="2.1"/><circle cx="428.2" cy="484.7" r="2.1"/><circle cx="433.7" cy="481.6" r="2.1"/><circle cx="443.4" cy="442.1" r="2.1"/><circle cx="458.1" cy="419.0" r="2.1"/><circle cx="443.5" cy="416.2" r="2.1"/><circle cx="442.0" cy="390.9" r="2.1"/><circle cx="453.0" cy="431.4" r="2.1"/><circle cx="447.1" cy="448.5" r="2.1"/><circle cx="420.4" cy="444.0" r="2.1"/><circle cx="462.1" cy="442.3" r="2.1"/><circle cx="419.6" cy="444.3" r="2.1"/><circle cx="451.7" cy="420.9" r="2.1"/><circle cx="433.0" cy="430.6" r="2.1"/><circle cx="458.2" cy="438.9" r="2.1"/><circle cx="425.2" cy="404.7" r="2.1"/><circle cx="435.7" cy="385.9" r="2.1"/><circle cx="425.3" cy="476.0" r="2.1"/><circle cx="438.8" cy="457.0" r="2.1"/><circle cx="450.0" cy="437.9" r="2.1"/><circle cx="447.9" cy="379.0" r="2.1"/><circle cx="424.0" cy="390.2" r="2.1"/><circle cx="433.6" cy="446.1" r="2.1"/><circle cx="461.0" cy="409.0" r="2.1"/><circle cx="445.3" cy="472.1" r="2.1"/><circle cx="432.4" cy="378.7" r="2.1"/><circle cx="475.4" cy="416.4" r="2.1"/><circle cx="431.7" cy="407.2" r="2.1"/><circle cx="440.5" cy="409.1" r="2.1"/><circle cx="432.8" cy="423.4" r="2.1"/><circle cx="442.9" cy="461.0" r="2.1"/><circle cx="478.7" cy="407.1" r="2.1"/><circle cx="426.8" cy="449.1" r="2.1"/><circle cx="423.4" cy="425.5" r="2.1"/><circle cx="431.7" cy="475.8" r="2.1"/><circle cx="444.8" cy="476.7" r="2.1"/><circle cx="443.8" cy="396.4" r="2.1"/><circle cx="434.0" cy="474.5" r="2.1"/><circle cx="426.8" cy="468.1" r="2.1"/><circle cx="468.6" cy="420.1" r="2.1"/><circle cx="433.9" cy="389.9" r="2.1"/><circle cx="423.3" cy="412.2" r="2.1"/><circle cx="468.0" cy="402.7" r="2.1"/><circle cx="479.1" cy="408.5" r="2.1"/><circle cx="422.4" cy="408.3" r="2.1"/><circle cx="426.7" cy="415.5" r="2.1"/><circle cx="473.1" cy="413.5" r="2.1"/><circle cx="456.0" cy="436.2" r="2.1"/><circle cx="420.7" cy="409.4" r="2.1"/><circle cx="450.9" cy="437.0" r="2.1"/><circle cx="464.3" cy="411.9" r="2.1"/><circle cx="438.1" cy="391.2" r="2.1"/><circle cx="433.4" cy="417.9" r="2.1"/><circle cx="449.5" cy="428.0" r="2.1"/><circle cx="420.2" cy="390.8" r="2.1"/><circle cx="446.9" cy="436.0" r="2.1"/><circle cx="443.5" cy="453.1" r="2.1"/><circle cx="437.9" cy="437.2" r="2.1"/><circle cx="420.8" cy="463.4" r="2.1"/><circle cx="441.1" cy="442.6" r="2.1"/><circle cx="432.9" cy="437.0" r="2.1"/><circle cx="467.2" cy="413.7" r="2.1"/><circle cx="424.6" cy="447.5" r="2.1"/><circle cx="424.1" cy="378.8" r="2.1"/><circle cx="429.3" cy="417.3" r="2.1"/><circle cx="429.8" cy="492.5" r="2.1"/><circle cx="462.2" cy="413.8" r="2.1"/><circle cx="428.4" cy="419.7" r="2.1"/><circle cx="452.9" cy="444.5" r="2.1"/><circle cx="479.8" cy="410.5" r="2.1"/><circle cx="451.6" cy="447.7" r="2.1"/><circle cx="446.9" cy="390.0" r="2.1"/><circle cx="424.7" cy="381.1" r="2.1"/><circle cx="421.2" cy="441.8" r="2.1"/><circle cx="429.5" cy="410.1" r="2.1"/><circle cx="430.8" cy="438.2" r="2.1"/><circle cx="439.8" cy="385.5" r="2.1"/><circle cx="453.0" cy="394.9" r="2.1"/><circle cx="443.4" cy="386.6" r="2.1"/><circle cx="471.8" cy="408.7" r="2.1"/><circle cx="436.8" cy="452.0" r="2.1"/><circle cx="438.1" cy="388.2" r="2.1"/><circle cx="470.8" cy="418.1" r="2.1"/><circle cx="426.4" cy="411.7" r="2.1"/><circle cx="441.0" cy="379.2" r="2.1"/><circle cx="454.6" cy="429.8" r="2.1"/><circle cx="421.6" cy="441.4" r="2.1"/><circle cx="440.8" cy="473.6" r="2.1"/><circle cx="429.3" cy="410.1" r="2.1"/><circle cx="452.9" cy="414.9" r="2.1"/><circle cx="421.3" cy="399.2" r="2.1"/><circle cx="427.6" cy="445.1" r="2.1"/><circle cx="472.0" cy="415.9" r="2.1"/><circle cx="425.0" cy="401.2" r="2.1"/><circle cx="423.3" cy="460.5" r="2.1"/><circle cx="474.2" cy="429.2" r="2.1"/><circle cx="431.5" cy="409.1" r="2.1"/><circle cx="471.6" cy="406.0" r="2.1"/><circle cx="432.2" cy="428.7" r="2.1"/><circle cx="452.0" cy="410.0" r="2.1"/><circle cx="424.6" cy="385.4" r="2.1"/><circle cx="472.0" cy="411.6" r="2.1"/><circle cx="441.2" cy="468.4" r="2.1"/><circle cx="462.4" cy="429.2" r="2.1"/><circle cx="435.2" cy="430.9" r="2.1"/><circle cx="436.2" cy="415.5" r="2.1"/><circle cx="438.9" cy="427.4" r="2.1"/><circle cx="434.3" cy="443.5" r="2.1"/><circle cx="425.7" cy="472.1" r="2.1"/><circle cx="422.6" cy="387.8" r="2.1"/><circle cx="469.6" cy="406.9" r="2.1"/><circle cx="465.7" cy="429.6" r="2.1"/><circle cx="420.7" cy="464.2" r="2.1"/><circle cx="460.8" cy="420.2" r="2.1"/><circle cx="445.6" cy="391.4" r="2.1"/><circle cx="470.0" cy="404.9" r="2.1"/><circle cx="433.0" cy="471.1" r="2.1"/><circle cx="443.3" cy="450.8" r="2.1"/><circle cx="452.1" cy="435.4" r="2.1"/><circle cx="457.9" cy="434.0" r="2.1"/><circle cx="424.3" cy="436.4" r="2.1"/><circle cx="419.7" cy="494.1" r="2.1"/><circle cx="440.1" cy="388.7" r="2.1"/><circle cx="425.6" cy="429.0" r="2.1"/><circle cx="450.5" cy="465.9" r="2.1"/><circle cx="475.2" cy="419.4" r="2.1"/><circle cx="450.5" cy="464.6" r="2.1"/><circle cx="424.5" cy="457.6" r="2.1"/><circle cx="456.8" cy="412.4" r="2.1"/><circle cx="441.7" cy="402.8" r="2.1"/><circle cx="420.0" cy="383.2" r="2.1"/><circle cx="448.5" cy="456.5" r="2.1"/><circle cx="457.3" cy="386.1" r="2.1"/><circle cx="424.6" cy="407.3" r="2.1"/><circle cx="428.3" cy="409.8" r="2.1"/><circle cx="442.2" cy="402.5" r="2.1"/><circle cx="440.2" cy="421.9" r="2.1"/><circle cx="432.0" cy="458.1" r="2.1"/><circle cx="431.9" cy="493.7" r="2.1"/><circle cx="466.0" cy="415.2" r="2.1"/><circle cx="422.7" cy="454.3" r="2.1"/><circle cx="420.8" cy="485.7" r="2.1"/><circle cx="431.9" cy="386.3" r="2.1"/><circle cx="463.2" cy="433.9" r="2.1"/><circle cx="438.8" cy="449.6" r="2.1"/><circle cx="441.4" cy="393.9" r="2.1"/><circle cx="448.9" cy="443.2" r="2.1"/><circle cx="439.4" cy="433.1" r="2.1"/><circle cx="464.5" cy="436.7" r="2.1"/><circle cx="420.7" cy="430.5" r="2.1"/><circle cx="450.3" cy="442.2" r="2.1"/><circle cx="453.5" cy="431.0" r="2.1"/><circle cx="445.8" cy="439.9" r="2.1"/><circle cx="439.4" cy="471.6" r="2.1"/><circle cx="441.2" cy="483.3" r="2.1"/><circle cx="426.0" cy="474.6" r="2.1"/><circle cx="441.8" cy="408.7" r="2.1"/><circle cx="420.2" cy="485.7" r="2.1"/><circle cx="442.1" cy="468.1" r="2.1"/><circle cx="430.8" cy="468.7" r="2.1"/><circle cx="437.2" cy="444.0" r="2.1"/><circle cx="435.5" cy="422.4" r="2.1"/><circle cx="459.2" cy="395.2" r="2.1"/><circle cx="438.7" cy="422.4" r="2.1"/><circle cx="443.8" cy="422.5" r="2.1"/><circle cx="434.8" cy="389.9" r="2.1"/><circle cx="466.1" cy="435.8" r="2.1"/><circle cx="470.1" cy="400.3" r="2.1"/><circle cx="421.0" cy="493.0" r="2.1"/><circle cx="440.6" cy="436.8" r="2.1"/><circle cx="444.4" cy="401.4" r="2.1"/><circle cx="450.4" cy="443.0" r="2.1"/><circle cx="443.9" cy="467.0" r="2.1"/><circle cx="457.4" cy="431.5" r="2.1"/><circle cx="424.8" cy="480.6" r="2.1"/><circle cx="460.8" cy="413.4" r="2.1"/><circle cx="465.7" cy="445.5" r="2.1"/><circle cx="424.6" cy="392.3" r="2.1"/><circle cx="423.5" cy="456.9" r="2.1"/><circle cx="435.8" cy="473.3" r="2.1"/><circle cx="442.6" cy="409.8" r="2.1"/><circle cx="443.1" cy="447.0" r="2.1"/><circle cx="440.1" cy="401.0" r="2.1"/><circle cx="446.8" cy="398.7" r="2.1"/><circle cx="459.3" cy="445.4" r="2.1"/><circle cx="424.2" cy="456.1" r="2.1"/><circle cx="464.9" cy="397.4" r="2.1"/><circle cx="437.4" cy="466.9" r="2.1"/><circle cx="422.6" cy="399.9" r="2.1"/><circle cx="439.4" cy="410.9" r="2.1"/><circle cx="473.2" cy="420.8" r="2.1"/><circle cx="456.0" cy="398.2" r="2.1"/><circle cx="466.8" cy="443.4" r="2.1"/><circle cx="450.9" cy="445.5" r="2.1"/><circle cx="448.1" cy="444.1" r="2.1"/><circle cx="428.2" cy="459.2" r="2.1"/><circle cx="423.3" cy="405.5" r="2.1"/><circle cx="445.5" cy="386.6" r="2.1"/><circle cx="436.7" cy="423.5" r="2.1"/><circle cx="462.6" cy="421.5" r="2.1"/><circle cx="466.4" cy="437.3" r="2.1"/><circle cx="441.7" cy="471.5" r="2.1"/><circle cx="475.2" cy="397.5" r="2.1"/><circle cx="422.4" cy="488.7" r="2.1"/><circle cx="450.5" cy="445.2" r="2.1"/><circle cx="447.9" cy="427.1" r="2.1"/><circle cx="452.3" cy="455.4" r="2.1"/><circle cx="426.4" cy="381.4" r="2.1"/><circle cx="454.6" cy="421.7" r="2.1"/><circle cx="430.1" cy="377.3" r="2.1"/><circle cx="425.6" cy="470.3" r="2.1"/><circle cx="430.9" cy="402.3" r="2.1"/><circle cx="465.5" cy="428.7" r="2.1"/><circle cx="441.1" cy="465.0" r="2.1"/><circle cx="427.0" cy="448.3" r="2.1"/><circle cx="445.9" cy="411.8" r="2.1"/><circle cx="420.5" cy="401.3" r="2.1"/><circle cx="447.6" cy="460.0" r="2.1"/><circle cx="435.1" cy="423.5" r="2.1"/><circle cx="452.5" cy="421.0" r="2.1"/><circle cx="445.6" cy="407.4" r="2.1"/><circle cx="464.0" cy="447.2" r="2.1"/><circle cx="462.5" cy="448.3" r="2.1"/><circle cx="459.0" cy="425.6" r="2.1"/><circle cx="461.8" cy="402.6" r="2.1"/><circle cx="445.0" cy="477.0" r="2.1"/><circle cx="423.7" cy="424.6" r="2.1"/><circle cx="426.1" cy="410.0" r="2.1"/><circle cx="456.1" cy="427.8" r="2.1"/><circle cx="456.6" cy="442.5" r="2.1"/><circle cx="453.7" cy="431.1" r="2.1"/><circle cx="448.7" cy="411.4" r="2.1"/><circle cx="478.7" cy="423.4" r="2.1"/><circle cx="440.8" cy="483.7" r="2.1"/><circle cx="431.6" cy="411.7" r="2.1"/><circle cx="429.5" cy="452.2" r="2.1"/><circle cx="421.3" cy="394.8" r="2.1"/><circle cx="456.0" cy="419.5" r="2.1"/><circle cx="471.2" cy="415.8" r="2.1"/><circle cx="477.9" cy="404.9" r="2.1"/><circle cx="445.7" cy="470.4" r="2.1"/><circle cx="473.3" cy="410.3" r="2.1"/><circle cx="463.1" cy="420.8" r="2.1"/><circle cx="438.3" cy="443.8" r="2.1"/><circle cx="468.2" cy="391.3" r="2.1"/><circle cx="436.6" cy="430.1" r="2.1"/><circle cx="435.1" cy="394.3" r="2.1"/><circle cx="436.5" cy="472.0" r="2.1"/><circle cx="432.4" cy="441.5" r="2.1"/><circle cx="454.0" cy="460.3" r="2.1"/><circle cx="456.0" cy="442.0" r="2.1"/><circle cx="460.9" cy="446.0" r="2.1"/><circle cx="444.3" cy="425.5" r="2.1"/><circle cx="467.5" cy="438.8" r="2.1"/><circle cx="444.4" cy="452.3" r="2.1"/><circle cx="474.0" cy="408.7" r="2.1"/><circle cx="473.7" cy="394.5" r="2.1"/><circle cx="428.6" cy="414.1" r="2.1"/><circle cx="441.9" cy="421.2" r="2.1"/><circle cx="470.0" cy="418.2" r="2.1"/><circle cx="426.7" cy="410.1" r="2.1"/><circle cx="431.7" cy="485.9" r="2.1"/><circle cx="455.1" cy="442.4" r="2.1"/><circle cx="433.0" cy="480.8" r="2.1"/><circle cx="427.2" cy="474.1" r="2.1"/><circle cx="436.9" cy="473.9" r="2.1"/><circle cx="448.9" cy="433.9" r="2.1"/><circle cx="426.9" cy="452.8" r="2.1"/><circle cx="425.1" cy="456.3" r="2.1"/><circle cx="438.3" cy="383.6" r="2.1"/><circle cx="476.0" cy="416.5" r="2.1"/><circle cx="435.3" cy="487.7" r="2.1"/><circle cx="447.4" cy="400.2" r="2.1"/><circle cx="459.0" cy="390.0" r="2.1"/><circle cx="440.1" cy="471.1" r="2.1"/><circle cx="436.9" cy="467.6" r="2.1"/><circle cx="458.2" cy="428.0" r="2.1"/><circle cx="456.5" cy="432.8" r="2.1"/><circle cx="429.9" cy="431.5" r="2.1"/><circle cx="447.2" cy="458.7" r="2.1"/><circle cx="441.0" cy="439.5" r="2.1"/><circle cx="422.9" cy="411.1" r="2.1"/><circle cx="443.6" cy="376.7" r="2.1"/><circle cx="436.7" cy="486.9" r="2.1"/><circle cx="479.0" cy="410.3" r="2.1"/><circle cx="440.1" cy="481.8" r="2.1"/><circle cx="474.5" cy="429.6" r="2.1"/><circle cx="419.7" cy="383.3" r="2.1"/><circle cx="420.6" cy="474.5" r="2.1"/><circle cx="428.5" cy="416.0" r="2.1"/><circle cx="476.8" cy="424.0" r="2.1"/><circle cx="476.5" cy="418.0" r="2.1"/><circle cx="430.8" cy="477.4" r="2.1"/><circle cx="428.4" cy="394.5" r="2.1"/><circle cx="432.0" cy="422.6" r="2.1"/><circle cx="449.5" cy="463.2" r="2.1"/><circle cx="433.0" cy="405.3" r="2.1"/><circle cx="431.5" cy="380.4" r="2.1"/><circle cx="434.4" cy="428.4" r="2.1"/><circle cx="429.1" cy="480.6" r="2.1"/><circle cx="431.4" cy="403.2" r="2.1"/><circle cx="429.8" cy="447.4" r="2.1"/><circle cx="448.3" cy="402.6" r="2.1"/><circle cx="479.1" cy="406.8" r="2.1"/><circle cx="440.1" cy="474.2" r="2.1"/><circle cx="433.3" cy="423.9" r="2.1"/><circle cx="474.2" cy="424.7" r="2.1"/><circle cx="454.7" cy="452.2" r="2.1"/><circle cx="439.4" cy="422.2" r="2.1"/><circle cx="464.9" cy="401.7" r="2.1"/><circle cx="428.1" cy="484.6" r="2.1"/><circle cx="435.1" cy="395.3" r="2.1"/><circle cx="455.1" cy="397.1" r="2.1"/><circle cx="435.0" cy="403.8" r="2.1"/><circle cx="463.3" cy="398.8" r="2.1"/><circle cx="448.1" cy="389.0" r="2.1"/><circle cx="440.1" cy="465.6" r="2.1"/><circle cx="470.4" cy="433.6" r="2.1"/><circle cx="455.7" cy="439.7" r="2.1"/><circle cx="429.8" cy="488.7" r="2.1"/><circle cx="436.3" cy="458.8" r="2.1"/><circle cx="430.2" cy="456.7" r="2.1"/><circle cx="438.0" cy="417.5" r="2.1"/><circle cx="430.7" cy="494.6" r="2.1"/><circle cx="451.4" cy="424.6" r="2.1"/><circle cx="420.2" cy="493.0" r="2.1"/><circle cx="442.0" cy="403.4" r="2.1"/><circle cx="429.8" cy="396.8" r="2.1"/><circle cx="443.7" cy="395.8" r="2.1"/><circle cx="450.3" cy="421.3" r="2.1"/><circle cx="429.7" cy="446.9" r="2.1"/><circle cx="425.2" cy="415.9" r="2.1"/><circle cx="452.1" cy="420.6" r="2.1"/><circle cx="430.6" cy="443.3" r="2.1"/><circle cx="424.4" cy="470.1" r="2.1"/><circle cx="455.2" cy="458.0" r="2.1"/><circle cx="476.1" cy="400.4" r="2.1"/><circle cx="436.2" cy="453.8" r="2.1"/><circle cx="455.3" cy="446.8" r="2.1"/><circle cx="438.1" cy="384.3" r="2.1"/><circle cx="434.1" cy="489.2" r="2.1"/><circle cx="461.7" cy="413.2" r="2.1"/><circle cx="424.6" cy="445.3" r="2.1"/><circle cx="457.6" cy="424.2" r="2.1"/><circle cx="451.2" cy="441.1" r="2.1"/><circle cx="424.1" cy="404.4" r="2.1"/><circle cx="436.2" cy="394.5" r="2.1"/><circle cx="459.3" cy="437.8" r="2.1"/><circle cx="448.7" cy="385.8" r="2.1"/><circle cx="440.6" cy="407.9" r="2.1"/><circle cx="423.0" cy="455.6" r="2.1"/><circle cx="424.4" cy="432.7" r="2.1"/><circle cx="457.9" cy="383.3" r="2.1"/><circle cx="445.8" cy="467.9" r="2.1"/><circle cx="433.9" cy="395.8" r="2.1"/><circle cx="425.7" cy="454.6" r="2.1"/><circle cx="444.7" cy="440.2" r="2.1"/><circle cx="448.0" cy="461.9" r="2.1"/><circle cx="419.7" cy="487.6" r="2.1"/><circle cx="447.2" cy="417.7" r="2.1"/><circle cx="430.6" cy="389.7" r="2.1"/><circle cx="438.3" cy="394.0" r="2.1"/><circle cx="423.3" cy="467.5" r="2.1"/><circle cx="468.1" cy="409.9" r="2.1"/><circle cx="419.6" cy="429.4" r="2.1"/><circle cx="454.8" cy="414.8" r="2.1"/><circle cx="450.5" cy="440.2" r="2.1"/><circle cx="425.6" cy="443.1" r="2.1"/><circle cx="462.8" cy="438.9" r="2.1"/><circle cx="445.4" cy="382.7" r="2.1"/><circle cx="431.4" cy="385.1" r="2.1"/><circle cx="454.9" cy="433.8" r="2.1"/><circle cx="441.0" cy="413.8" r="2.1"/><circle cx="461.3" cy="392.5" r="2.1"/><circle cx="427.6" cy="462.5" r="2.1"/><circle cx="442.8" cy="408.3" r="2.1"/><circle cx="462.4" cy="384.4" r="2.1"/><circle cx="437.1" cy="429.8" r="2.1"/><circle cx="450.3" cy="434.3" r="2.1"/><circle cx="436.5" cy="364.0" r="2.1"/><circle cx="431.3" cy="430.4" r="2.1"/><circle cx="448.1" cy="415.5" r="2.1"/><circle cx="471.7" cy="404.7" r="2.1"/><circle cx="425.1" cy="475.3" r="2.1"/><circle cx="466.1" cy="375.3" r="2.1"/><circle cx="424.8" cy="373.0" r="2.1"/><circle cx="422.1" cy="412.9" r="2.1"/><circle cx="433.7" cy="395.4" r="2.1"/><circle cx="438.2" cy="366.7" r="2.1"/><circle cx="452.4" cy="365.2" r="2.1"/><circle cx="468.8" cy="405.0" r="2.1"/><circle cx="464.0" cy="434.1" r="2.1"/><circle cx="437.1" cy="422.4" r="2.1"/><circle cx="445.6" cy="472.3" r="2.1"/><circle cx="431.4" cy="390.6" r="2.1"/><circle cx="420.6" cy="463.2" r="2.1"/><circle cx="468.3" cy="434.4" r="2.1"/><circle cx="494.6" cy="408.9" r="2.1"/><circle cx="434.5" cy="375.3" r="2.1"/><circle cx="445.2" cy="474.8" r="2.1"/><circle cx="452.2" cy="366.6" r="2.1"/><circle cx="466.5" cy="376.8" r="2.1"/><circle cx="433.0" cy="448.0" r="2.1"/><circle cx="441.7" cy="448.4" r="2.1"/><circle cx="440.2" cy="454.3" r="2.1"/><circle cx="466.8" cy="386.4" r="2.1"/><circle cx="439.3" cy="368.9" r="2.1"/><circle cx="464.8" cy="434.8" r="2.1"/><circle cx="456.3" cy="398.9" r="2.1"/><circle cx="442.1" cy="415.2" r="2.1"/><circle cx="425.0" cy="394.5" r="2.1"/><circle cx="425.1" cy="420.5" r="2.1"/><circle cx="425.9" cy="483.6" r="2.1"/><circle cx="477.7" cy="398.2" r="2.1"/><circle cx="437.9" cy="456.1" r="2.1"/><circle cx="461.8" cy="370.0" r="2.1"/><circle cx="440.0" cy="416.5" r="2.1"/><circle cx="430.0" cy="489.3" r="2.1"/><circle cx="438.4" cy="391.7" r="2.1"/><circle cx="464.6" cy="432.3" r="2.1"/><circle cx="443.6" cy="404.6" r="2.1"/><circle cx="425.5" cy="485.0" r="2.1"/><circle cx="480.1" cy="412.3" r="2.1"/><circle cx="471.3" cy="421.5" r="2.1"/><circle cx="436.2" cy="454.7" r="2.1"/><circle cx="443.0" cy="433.4" r="2.1"/><circle cx="435.5" cy="377.7" r="2.1"/><circle cx="428.6" cy="413.6" r="2.1"/><circle cx="457.4" cy="447.4" r="2.1"/><circle cx="442.8" cy="377.6" r="2.1"/><circle cx="470.8" cy="454.4" r="2.1"/><circle cx="443.8" cy="441.3" r="2.1"/><circle cx="443.6" cy="449.4" r="2.1"/><circle cx="420.7" cy="370.3" r="2.1"/><circle cx="438.2" cy="397.6" r="2.1"/><circle cx="430.8" cy="396.1" r="2.1"/><circle cx="450.0" cy="469.2" r="2.1"/><circle cx="469.3" cy="383.6" r="2.1"/><circle cx="433.0" cy="421.7" r="2.1"/><circle cx="486.7" cy="424.7" r="2.1"/><circle cx="485.8" cy="428.0" r="2.1"/><circle cx="448.0" cy="422.7" r="2.1"/><circle cx="480.1" cy="398.2" r="2.1"/><circle cx="434.1" cy="474.6" r="2.1"/><circle cx="455.8" cy="447.9" r="2.1"/><circle cx="432.6" cy="365.7" r="2.1"/><circle cx="436.5" cy="418.8" r="2.1"/><circle cx="422.0" cy="397.4" r="2.1"/><circle cx="490.7" cy="419.9" r="2.1"/><circle cx="419.8" cy="469.9" r="2.1"/><circle cx="442.3" cy="383.7" r="2.1"/><circle cx="467.7" cy="451.0" r="2.1"/><circle cx="444.0" cy="457.3" r="2.1"/><circle cx="485.6" cy="406.5" r="2.1"/><circle cx="464.2" cy="400.0" r="2.1"/><circle cx="445.2" cy="451.4" r="2.1"/><circle cx="479.7" cy="425.4" r="2.1"/><circle cx="448.4" cy="382.2" r="2.1"/><circle cx="439.1" cy="482.0" r="2.1"/><circle cx="459.6" cy="409.0" r="2.1"/><circle cx="420.9" cy="465.2" r="2.1"/><circle cx="444.6" cy="391.4" r="2.1"/><circle cx="486.2" cy="433.1" r="2.1"/><circle cx="420.7" cy="459.9" r="2.1"/><circle cx="467.7" cy="375.5" r="2.1"/><circle cx="467.1" cy="439.2" r="2.1"/><circle cx="452.3" cy="454.9" r="2.1"/><circle cx="464.1" cy="452.2" r="2.1"/><circle cx="459.7" cy="375.4" r="2.1"/><circle cx="435.2" cy="395.0" r="2.1"/><circle cx="440.3" cy="391.8" r="2.1"/><circle cx="480.8" cy="433.4" r="2.1"/><circle cx="426.0" cy="430.0" r="2.1"/><circle cx="472.1" cy="414.8" r="2.1"/><circle cx="420.5" cy="393.8" r="2.1"/><circle cx="434.0" cy="437.9" r="2.1"/><circle cx="451.7" cy="417.7" r="2.1"/><circle cx="444.4" cy="365.4" r="2.1"/><circle cx="444.1" cy="446.9" r="2.1"/><circle cx="460.1" cy="440.5" r="2.1"/><circle cx="431.5" cy="365.8" r="2.1"/><circle cx="442.6" cy="460.3" r="2.1"/><circle cx="441.3" cy="442.1" r="2.1"/><circle cx="488.0" cy="422.4" r="2.1"/><circle cx="456.5" cy="392.8" r="2.1"/><circle cx="444.1" cy="397.7" r="2.1"/><circle cx="421.2" cy="371.8" r="2.1"/><circle cx="478.3" cy="392.9" r="2.1"/><circle cx="485.6" cy="426.5" r="2.1"/><circle cx="430.4" cy="484.5" r="2.1"/><circle cx="442.2" cy="486.5" r="2.1"/><circle cx="461.0" cy="414.8" r="2.1"/><circle cx="458.7" cy="411.0" r="2.1"/><circle cx="425.4" cy="366.3" r="2.1"/><circle cx="425.9" cy="483.7" r="2.1"/><circle cx="445.8" cy="363.1" r="2.1"/><circle cx="449.8" cy="447.0" r="2.1"/><circle cx="420.4" cy="381.7" r="2.1"/><circle cx="456.5" cy="448.5" r="2.1"/><circle cx="451.0" cy="467.5" r="2.1"/><circle cx="449.0" cy="447.9" r="2.1"/><circle cx="439.0" cy="385.5" r="2.1"/><circle cx="468.1" cy="423.0" r="2.1"/><circle cx="442.7" cy="364.5" r="2.1"/><circle cx="432.9" cy="419.3" r="2.1"/><circle cx="451.5" cy="419.2" r="2.1"/><circle cx="426.0" cy="401.0" r="2.1"/><circle cx="450.5" cy="463.3" r="2.1"/><circle cx="428.2" cy="446.8" r="2.1"/><circle cx="448.1" cy="466.2" r="2.1"/><circle cx="470.9" cy="386.2" r="2.1"/><circle cx="472.8" cy="410.6" r="2.1"/><circle cx="443.1" cy="430.9" r="2.1"/><circle cx="441.7" cy="413.4" r="2.1"/><circle cx="463.0" cy="392.7" r="2.1"/><circle cx="484.4" cy="399.0" r="2.1"/><circle cx="427.0" cy="480.1" r="2.1"/><circle cx="432.8" cy="422.1" r="2.1"/><circle cx="428.4" cy="487.1" r="2.1"/><circle cx="442.9" cy="430.5" r="2.1"/><circle cx="425.4" cy="455.2" r="2.1"/><circle cx="422.9" cy="377.3" r="2.1"/><circle cx="445.4" cy="367.8" r="2.1"/><circle cx="489.8" cy="429.9" r="2.1"/><circle cx="421.8" cy="462.6" r="2.1"/><circle cx="437.5" cy="480.7" r="2.1"/><circle cx="422.2" cy="376.6" r="2.1"/><circle cx="447.5" cy="472.9" r="2.1"/><circle cx="435.1" cy="411.0" r="2.1"/><circle cx="422.4" cy="415.1" r="2.1"/><circle cx="450.9" cy="453.5" r="2.1"/><circle cx="453.0" cy="474.3" r="2.1"/><circle cx="441.2" cy="463.0" r="2.1"/><circle cx="431.0" cy="440.7" r="2.1"/><circle cx="443.1" cy="406.2" r="2.1"/><circle cx="439.6" cy="364.3" r="2.1"/><circle cx="426.6" cy="452.0" r="2.1"/><circle cx="469.8" cy="450.2" r="2.1"/><circle cx="452.1" cy="440.8" r="2.1"/><circle cx="449.0" cy="462.4" r="2.1"/><circle cx="470.1" cy="391.4" r="2.1"/><circle cx="480.8" cy="436.8" r="2.1"/><circle cx="435.1" cy="369.8" r="2.1"/><circle cx="420.8" cy="366.4" r="2.1"/><circle cx="451.4" cy="449.4" r="2.1"/><circle cx="428.8" cy="455.2" r="2.1"/><circle cx="445.5" cy="448.8" r="2.1"/><circle cx="440.1" cy="392.0" r="2.1"/><circle cx="430.7" cy="454.0" r="2.1"/><circle cx="428.1" cy="474.5" r="2.1"/><circle cx="439.2" cy="487.2" r="2.1"/><circle cx="429.9" cy="374.2" r="2.1"/><circle cx="482.0" cy="417.1" r="2.1"/><circle cx="421.9" cy="374.3" r="2.1"/><circle cx="441.0" cy="394.0" r="2.1"/><circle cx="422.3" cy="458.3" r="2.1"/><circle cx="423.9" cy="399.5" r="2.1"/><circle cx="479.2" cy="392.5" r="2.1"/><circle cx="432.3" cy="445.0" r="2.1"/><circle cx="475.4" cy="416.8" r="2.1"/><circle cx="466.0" cy="379.9" r="2.1"/><circle cx="420.3" cy="400.9" r="2.1"/><circle cx="475.1" cy="419.6" r="2.1"/><circle cx="462.8" cy="417.0" r="2.1"/><circle cx="481.1" cy="416.1" r="2.1"/><circle cx="485.6" cy="421.9" r="2.1"/><circle cx="451.4" cy="419.6" r="2.1"/><circle cx="437.4" cy="453.6" r="2.1"/></g><polygon points="388.9,420.0 390.7,416.3 392.0,427.0 396.5,448.3 399.8,469.7 401.5,480.0 403.3,490.0 404.7,498.0 406.1,490.0 407.9,480.0 409.2,469.7 411.5,448.3 415.5,427.0 417.3,418.5 419.5,418.5 419.5,496.2 430.4,497.0 430.4,498.9 425.9,500.3 418.6,503.9 412.3,506.6 404.7,507.5 397.0,506.6 390.7,503.9 382.6,500.3 377.2,498.0 377.2,496.7 388.9,496.7" fill="#6b6b6b"/><g fill="rgba(107,107,107,0.85)"><circle cx="423.6" cy="503.9" r="2.1"/><circle cx="378.0" cy="498.0" r="2.1"/><circle cx="429.0" cy="499.0" r="2.1"/></g><g fill="rgba(107,107,107,0.85)"><circle cx="390.0" cy="418.7" r="2.1"/><circle cx="390.2" cy="416.8" r="2.1"/><circle cx="390.7" cy="421.1" r="2.1"/><circle cx="390.2" cy="422.8" r="2.1"/><circle cx="390.1" cy="426.0" r="2.1"/><circle cx="391.4" cy="428.5" r="2.1"/><circle cx="392.4" cy="431.4" r="2.1"/><circle cx="392.9" cy="434.9" r="2.1"/><circle cx="392.6" cy="436.3" r="2.1"/><circle cx="393.1" cy="438.3" r="2.1"/><circle cx="394.6" cy="442.7" r="2.1"/><circle cx="394.9" cy="445.7" r="2.1"/><circle cx="395.4" cy="447.9" r="2.1"/><circle cx="396.1" cy="449.5" r="2.1"/><circle cx="396.5" cy="451.1" r="2.1"/><circle cx="396.7" cy="456.5" r="2.1"/><circle cx="396.2" cy="457.8" r="2.1"/><circle cx="396.6" cy="460.9" r="2.1"/><circle cx="398.2" cy="462.7" r="2.1"/><circle cx="399.0" cy="466.9" r="2.1"/><circle cx="398.6" cy="469.3" r="2.1"/><circle cx="398.4" cy="472.5" r="2.1"/><circle cx="400.3" cy="474.0" r="2.1"/><circle cx="399.7" cy="475.1" r="2.1"/><circle cx="401.2" cy="479.6" r="2.1"/><circle cx="401.5" cy="481.5" r="2.1"/><circle cx="402.2" cy="484.4" r="2.1"/><circle cx="401.9" cy="488.0" r="2.1"/><circle cx="401.9" cy="490.8" r="2.1"/><circle cx="403.3" cy="492.9" r="2.1"/><circle cx="403.5" cy="496.2" r="2.1"/><circle cx="405.8" cy="496.1" r="2.1"/><circle cx="407.2" cy="493.8" r="2.1"/><circle cx="407.3" cy="492.6" r="2.1"/><circle cx="407.9" cy="488.3" r="2.1"/><circle cx="407.9" cy="484.8" r="2.1"/><circle cx="407.7" cy="483.1" r="2.1"/><circle cx="408.4" cy="479.5" r="2.1"/><circle cx="408.9" cy="476.1" r="2.1"/><circle cx="410.5" cy="471.4" r="2.1"/><circle cx="411.0" cy="467.7" r="2.1"/><circle cx="411.1" cy="466.9" r="2.1"/><circle cx="410.1" cy="463.9" r="2.1"/><circle cx="411.3" cy="461.0" r="2.1"/><circle cx="410.9" cy="458.9" r="2.1"/><circle cx="412.3" cy="455.4" r="2.1"/><circle cx="411.9" cy="452.7" r="2.1"/><circle cx="411.6" cy="450.0" r="2.1"/><circle cx="413.7" cy="446.3" r="2.1"/><circle cx="413.2" cy="443.9" r="2.1"/><circle cx="413.4" cy="441.9" r="2.1"/><circle cx="414.6" cy="438.8" r="2.1"/><circle cx="415.3" cy="437.1" r="2.1"/><circle cx="414.8" cy="433.2" r="2.1"/><circle cx="416.2" cy="430.4" r="2.1"/><circle cx="415.7" cy="429.1" r="2.1"/><circle cx="416.2" cy="424.9" r="2.1"/><circle cx="418.2" cy="423.3" r="2.1"/><circle cx="417.8" cy="420.8" r="2.1"/><circle cx="419.3" cy="420.2" r="2.1"/><circle cx="418.4" cy="420.6" r="2.1"/><circle cx="418.9" cy="423.7" r="2.1"/><circle cx="418.7" cy="426.2" r="2.1"/><circle cx="418.3" cy="428.3" r="2.1"/><circle cx="418.2" cy="430.0" r="2.1"/><circle cx="417.6" cy="433.5" r="2.1"/><circle cx="418.6" cy="436.4" r="2.1"/><circle cx="417.8" cy="438.3" r="2.1"/><circle cx="418.2" cy="440.9" r="2.1"/><circle cx="417.7" cy="444.5" r="2.1"/><circle cx="418.2" cy="445.8" r="2.1"/><circle cx="418.2" cy="448.4" r="2.1"/><circle cx="418.1" cy="452.4" r="2.1"/><circle cx="419.0" cy="455.7" r="2.1"/><circle cx="418.8" cy="458.3" r="2.1"/><circle cx="419.2" cy="459.8" r="2.1"/><circle cx="419.4" cy="462.8" r="2.1"/><circle cx="418.2" cy="464.9" r="2.1"/><circle cx="419.1" cy="468.7" r="2.1"/><circle cx="418.6" cy="471.5" r="2.1"/><circle cx="418.1" cy="472.6" r="2.1"/><circle cx="418.6" cy="476.7" r="2.1"/><circle cx="418.3" cy="478.9" r="2.1"/><circle cx="418.0" cy="481.8" r="2.1"/><circle cx="419.0" cy="484.9" r="2.1"/><circle cx="419.2" cy="485.5" r="2.1"/><circle cx="418.4" cy="489.0" r="2.1"/><circle cx="418.6" cy="493.4" r="2.1"/><circle cx="418.4" cy="494.5" r="2.1"/><circle cx="422.0" cy="497.5" r="2.1"/><circle cx="422.9" cy="497.9" r="2.1"/><circle cx="427.5" cy="498.3" r="2.1"/><circle cx="428.7" cy="497.3" r="2.1"/><circle cx="430.1" cy="497.9" r="2.1"/><circle cx="429.5" cy="498.2" r="2.1"/><circle cx="423.2" cy="500.1" r="2.1"/><circle cx="421.6" cy="500.4" r="2.1"/><circle cx="420.4" cy="502.4" r="2.1"/><circle cx="417.3" cy="503.2" r="2.1"/><circle cx="412.3" cy="505.7" r="2.1"/><circle cx="408.9" cy="505.2" r="2.1"/><circle cx="406.5" cy="505.6" r="2.1"/><circle cx="401.4" cy="506.1" r="2.1"/><circle cx="400.2" cy="506.7" r="2.1"/><circle cx="396.6" cy="505.4" r="2.1"/><circle cx="394.1" cy="504.6" r="2.1"/><circle cx="389.7" cy="502.7" r="2.1"/><circle cx="386.5" cy="500.8" r="2.1"/><circle cx="384.4" cy="499.7" r="2.1"/><circle cx="381.4" cy="498.9" r="2.1"/><circle cx="379.9" cy="497.9" r="2.1"/><circle cx="377.4" cy="497.9" r="2.1"/><circle cx="378.2" cy="497.2" r="2.1"/><circle cx="382.3" cy="497.1" r="2.1"/><circle cx="384.3" cy="498.1" r="2.1"/><circle cx="387.2" cy="498.2" r="2.1"/><circle cx="389.3" cy="496.4" r="2.1"/><circle cx="389.7" cy="493.3" r="2.1"/><circle cx="389.4" cy="489.9" r="2.1"/><circle cx="390.3" cy="487.3" r="2.1"/><circle cx="390.5" cy="484.4" r="2.1"/><circle cx="390.2" cy="483.3" r="2.1"/><circle cx="390.5" cy="478.9" r="2.1"/><circle cx="389.2" cy="477.8" r="2.1"/><circle cx="390.2" cy="473.5" r="2.1"/><circle cx="390.6" cy="472.5" r="2.1"/><circle cx="390.1" cy="468.4" r="2.1"/><circle cx="390.1" cy="465.6" r="2.1"/><circle cx="389.1" cy="464.1" r="2.1"/><circle cx="390.1" cy="461.4" r="2.1"/><circle cx="389.3" cy="459.2" r="2.1"/><circle cx="389.9" cy="456.7" r="2.1"/><circle cx="390.3" cy="451.8" r="2.1"/><circle cx="389.7" cy="451.7" r="2.1"/><circle cx="389.2" cy="447.3" r="2.1"/><circle cx="389.4" cy="444.3" r="2.1"/><circle cx="390.4" cy="442.6" r="2.1"/><circle cx="389.1" cy="438.8" r="2.1"/><circle cx="390.6" cy="436.4" r="2.1"/><circle cx="390.4" cy="433.7" r="2.1"/><circle cx="389.6" cy="432.2" r="2.1"/><circle cx="389.7" cy="430.5" r="2.1"/><circle cx="389.3" cy="427.1" r="2.1"/><circle cx="390.6" cy="422.8" r="2.1"/><circle cx="389.5" cy="420.5" r="2.1"/></g>
<rect x="292.5" y="283.7" width="223.89999999999998" height="224.40000000000003" fill="none" stroke="#555555" stroke-width="1.3"/>
<line x1="292.66" y1="508.1" x2="292.66" y2="511.1" stroke="#555555" stroke-width="1"/>
<text x="292.66" y="519.40" font-size="9.5" text-anchor="middle" stroke="#000" stroke-width="0.2">-8</text>
<line x1="320.62" y1="508.1" x2="320.62" y2="511.1" stroke="#555555" stroke-width="1"/>
<text x="320.62" y="519.40" font-size="9.5" text-anchor="middle" stroke="#000" stroke-width="0.2">-6</text>
<line x1="348.58" y1="508.1" x2="348.58" y2="511.1" stroke="#555555" stroke-width="1"/>
<text x="348.58" y="519.40" font-size="9.5" text-anchor="middle" stroke="#000" stroke-width="0.2">-4</text>
<line x1="376.54" y1="508.1" x2="376.54" y2="511.1" stroke="#555555" stroke-width="1"/>
<text x="376.54" y="519.40" font-size="9.5" text-anchor="middle" stroke="#000" stroke-width="0.2">-2</text>
<line x1="404.50" y1="508.1" x2="404.50" y2="511.1" stroke="#555555" stroke-width="1"/>
<text x="404.50" y="519.40" font-size="9.5" text-anchor="middle" stroke="#000" stroke-width="0.2">0</text>
<line x1="432.46" y1="508.1" x2="432.46" y2="511.1" stroke="#555555" stroke-width="1"/>
<text x="432.46" y="519.40" font-size="9.5" text-anchor="middle" stroke="#000" stroke-width="0.2">2</text>
<line x1="460.42" y1="508.1" x2="460.42" y2="511.1" stroke="#555555" stroke-width="1"/>
<text x="460.42" y="519.40" font-size="9.5" text-anchor="middle" stroke="#000" stroke-width="0.2">4</text>
<line x1="488.38" y1="508.1" x2="488.38" y2="511.1" stroke="#555555" stroke-width="1"/>
<text x="488.38" y="519.40" font-size="9.5" text-anchor="middle" stroke="#000" stroke-width="0.2">6</text>
<line x1="516.34" y1="508.1" x2="516.34" y2="511.1" stroke="#555555" stroke-width="1"/>
<text x="516.34" y="519.40" font-size="9.5" text-anchor="middle" stroke="#000" stroke-width="0.2">8</text>
<line x1="289.5" y1="508.00" x2="292.5" y2="508.00" stroke="#555555" stroke-width="1"/>
<text x="288.10" y="511.70" font-size="9.5" text-anchor="end" stroke="#000" stroke-width="0.2">0</text>
<line x1="289.5" y1="467.90" x2="292.5" y2="467.90" stroke="#555555" stroke-width="1"/>
<text x="288.10" y="471.60" font-size="9.5" text-anchor="end" stroke="#000" stroke-width="0.2">5</text>
<line x1="289.5" y1="427.80" x2="292.5" y2="427.80" stroke="#555555" stroke-width="1"/>
<text x="288.10" y="431.50" font-size="9.5" text-anchor="end" stroke="#000" stroke-width="0.2">10</text>
<line x1="289.5" y1="387.70" x2="292.5" y2="387.70" stroke="#555555" stroke-width="1"/>
<text x="288.10" y="391.40" font-size="9.5" text-anchor="end" stroke="#000" stroke-width="0.2">15</text>
<line x1="289.5" y1="347.60" x2="292.5" y2="347.60" stroke="#555555" stroke-width="1"/>
<text x="288.10" y="351.30" font-size="9.5" text-anchor="end" stroke="#000" stroke-width="0.2">20</text>
<line x1="289.5" y1="307.50" x2="292.5" y2="307.50" stroke="#555555" stroke-width="1"/>
<text x="288.10" y="311.20" font-size="9.5" text-anchor="end" stroke="#000" stroke-width="0.2">25</text>
<text x="402.8" y="300" font-size="20" font-weight="bold" text-anchor="middle">D</text>
<text x="404.5" y="533.3" font-size="12.4" text-anchor="middle" stroke="#000" stroke-width="0.25">log<tspan font-size="9.18" dx="1.98" dy="2.11">2</tspan><tspan dx="0.62" dy="-2.11">(Fold Change)</tspan></text>
<text transform="translate(273.7,395.9) rotate(-90)" font-size="13.6" text-anchor="middle" stroke="#000" stroke-width="0.25">-log<tspan font-size="10.88" dy="2.72">10</tspan><tspan dx="0.27" dy="-2.72">(P value)</tspan></text>
<line x1="550.1" y1="494.4" x2="774.4" y2="494.4" stroke="#b8b8b8" stroke-width="1"/>
<line x1="643.5" y1="283.4" x2="643.5" y2="508.2" stroke="#b8b8b8" stroke-width="1"/>
<line x1="680.9" y1="283.4" x2="680.9" y2="508.2" stroke="#b8b8b8" stroke-width="1"/>
<polygon points="636.0,428.0 642.3,424.0 642.3,485.0 638.0,485.0 635.0,462.0 635.0,442.0" fill="#b00000"/><g fill="rgba(176,0,0,0.76)"><circle cx="638.1" cy="428.8" r="2.1"/><circle cx="640.2" cy="425.2" r="2.1"/><circle cx="640.8" cy="425.3" r="2.1"/><circle cx="642.3" cy="428.5" r="2.1"/><circle cx="642.0" cy="430.6" r="2.1"/><circle cx="640.1" cy="432.0" r="2.1"/><circle cx="641.6" cy="436.5" r="2.1"/><circle cx="640.6" cy="439.3" r="2.1"/><circle cx="641.6" cy="439.9" r="2.1"/><circle cx="642.4" cy="443.4" r="2.1"/><circle cx="640.4" cy="447.2" r="2.1"/><circle cx="640.5" cy="449.2" r="2.1"/><circle cx="641.5" cy="452.0" r="2.1"/><circle cx="640.5" cy="454.7" r="2.1"/><circle cx="641.3" cy="456.5" r="2.1"/><circle cx="641.2" cy="458.8" r="2.1"/><circle cx="641.5" cy="463.0" r="2.1"/><circle cx="640.4" cy="464.1" r="2.1"/><circle cx="640.5" cy="468.5" r="2.1"/><circle cx="640.1" cy="469.5" r="2.1"/><circle cx="642.1" cy="473.0" r="2.1"/><circle cx="642.3" cy="475.2" r="2.1"/><circle cx="640.2" cy="479.2" r="2.1"/><circle cx="640.8" cy="482.1" r="2.1"/><circle cx="641.6" cy="483.7" r="2.1"/><circle cx="639.4" cy="485.2" r="2.1"/><circle cx="639.0" cy="484.7" r="2.1"/><circle cx="639.7" cy="480.9" r="2.1"/><circle cx="636.9" cy="477.3" r="2.1"/><circle cx="636.5" cy="474.6" r="2.1"/><circle cx="637.6" cy="470.6" r="2.1"/><circle cx="636.5" cy="468.3" r="2.1"/><circle cx="637.3" cy="467.5" r="2.1"/><circle cx="635.7" cy="462.8" r="2.1"/><circle cx="636.9" cy="461.4" r="2.1"/><circle cx="636.5" cy="458.2" r="2.1"/><circle cx="636.4" cy="453.7" r="2.1"/><circle cx="636.9" cy="453.1" r="2.1"/><circle cx="636.9" cy="447.8" r="2.1"/><circle cx="635.0" cy="445.8" r="2.1"/><circle cx="636.7" cy="444.6" r="2.1"/><circle cx="636.9" cy="441.8" r="2.1"/><circle cx="636.1" cy="438.6" r="2.1"/><circle cx="636.8" cy="435.9" r="2.1"/><circle cx="636.2" cy="431.8" r="2.1"/><circle cx="636.8" cy="429.5" r="2.1"/></g><g fill="rgba(176,0,0,0.76)"><circle cx="593.7" cy="311.8" r="2.1"/><circle cx="607.6" cy="332.5" r="2.1"/><circle cx="616.8" cy="332.1" r="2.1"/><circle cx="589.0" cy="349.8" r="2.1"/><circle cx="618.7" cy="360.9" r="2.1"/><circle cx="603.8" cy="364.5" r="2.1"/><circle cx="602.9" cy="367.7" r="2.1"/><circle cx="635.8" cy="363.4" r="2.1"/><circle cx="632.8" cy="370.5" r="2.1"/><circle cx="594.4" cy="376.2" r="2.1"/><circle cx="632.8" cy="378.4" r="2.1"/><circle cx="610.2" cy="387.5" r="2.1"/><circle cx="616.8" cy="385.8" r="2.1"/><circle cx="625.7" cy="386.5" r="2.1"/><circle cx="624.2" cy="389.7" r="2.1"/><circle cx="637.0" cy="385.8" r="2.1"/><circle cx="635.3" cy="388.6" r="2.1"/><circle cx="639.2" cy="389.7" r="2.1"/><circle cx="640.7" cy="390.7" r="2.1"/><circle cx="637.5" cy="392.9" r="2.1"/><circle cx="607.6" cy="395.4" r="2.1"/><circle cx="609.3" cy="397.1" r="2.1"/><circle cx="616.8" cy="396.5" r="2.1"/><circle cx="632.1" cy="396.1" r="2.1"/><circle cx="639.6" cy="395.0" r="2.1"/><circle cx="635.3" cy="397.1" r="2.1"/><circle cx="607.6" cy="396.1" r="2.1"/><circle cx="609.7" cy="397.1" r="2.1"/><circle cx="616.8" cy="396.7" r="2.1"/><circle cx="621.0" cy="400.8" r="2.1"/><circle cx="633.2" cy="396.1" r="2.1"/><circle cx="639.2" cy="395.6" r="2.1"/><circle cx="604.0" cy="405.0" r="2.1"/><circle cx="617.8" cy="405.2" r="2.1"/><circle cx="617.2" cy="408.2" r="2.1"/><circle cx="624.2" cy="408.9" r="2.1"/><circle cx="627.9" cy="404.6" r="2.1"/><circle cx="631.1" cy="403.5" r="2.1"/><circle cx="636.4" cy="405.7" r="2.1"/><circle cx="603.3" cy="412.1" r="2.1"/><circle cx="602.9" cy="415.7" r="2.1"/><circle cx="609.7" cy="418.5" r="2.1"/><circle cx="611.9" cy="418.5" r="2.1"/><circle cx="620.4" cy="414.2" r="2.1"/><circle cx="625.7" cy="418.5" r="2.1"/><circle cx="632.1" cy="413.1" r="2.1"/><circle cx="637.5" cy="413.1" r="2.1"/><circle cx="639.6" cy="416.3" r="2.1"/><circle cx="604.0" cy="423.8" r="2.1"/><circle cx="620.4" cy="422.7" r="2.1"/><circle cx="625.7" cy="422.7" r="2.1"/><circle cx="631.1" cy="421.7" r="2.1"/><circle cx="634.3" cy="427.0" r="2.1"/><circle cx="637.5" cy="424.9" r="2.1"/><circle cx="607.2" cy="432.3" r="2.1"/><circle cx="620.4" cy="428.1" r="2.1"/><circle cx="623.6" cy="430.2" r="2.1"/><circle cx="627.9" cy="432.3" r="2.1"/><circle cx="630.6" cy="435.5" r="2.1"/><circle cx="635.3" cy="433.4" r="2.1"/><circle cx="639.6" cy="432.3" r="2.1"/><circle cx="618.9" cy="438.1" r="2.1"/><circle cx="623.6" cy="440.9" r="2.1"/><circle cx="610.4" cy="442.4" r="2.1"/><circle cx="612.9" cy="444.1" r="2.1"/><circle cx="618.9" cy="446.6" r="2.1"/><circle cx="624.7" cy="446.2" r="2.1"/><circle cx="628.9" cy="443.0" r="2.1"/><circle cx="632.1" cy="446.2" r="2.1"/><circle cx="637.5" cy="443.0" r="2.1"/><circle cx="639.6" cy="439.8" r="2.1"/><circle cx="625.7" cy="452.6" r="2.1"/><circle cx="630.0" cy="451.5" r="2.1"/><circle cx="633.2" cy="453.7" r="2.1"/><circle cx="637.5" cy="452.6" r="2.1"/><circle cx="639.6" cy="454.7" r="2.1"/><circle cx="617.2" cy="459.6" r="2.1"/><circle cx="624.7" cy="457.9" r="2.1"/><circle cx="631.1" cy="459.0" r="2.1"/><circle cx="635.3" cy="461.1" r="2.1"/><circle cx="615.1" cy="468.0" r="2.1"/><circle cx="624.2" cy="468.6" r="2.1"/><circle cx="627.9" cy="467.5" r="2.1"/><circle cx="630.0" cy="463.3" r="2.1"/><circle cx="634.3" cy="465.4" r="2.1"/><circle cx="638.5" cy="464.3" r="2.1"/><circle cx="628.5" cy="473.9" r="2.1"/><circle cx="632.1" cy="472.9" r="2.1"/><circle cx="636.4" cy="470.7" r="2.1"/><circle cx="639.6" cy="469.7" r="2.1"/><circle cx="632.8" cy="481.0" r="2.1"/><circle cx="635.3" cy="478.2" r="2.1"/><circle cx="639.6" cy="477.1" r="2.1"/><circle cx="633.2" cy="486.7" r="2.1"/><circle cx="637.5" cy="484.6" r="2.1"/><circle cx="640.7" cy="483.5" r="2.1"/><circle cx="639.6" cy="493.1" r="2.1"/><circle cx="636.4" cy="488.9" r="2.1"/><circle cx="630.0" cy="454.2" r="2.1"/><circle cx="629.8" cy="458.1" r="2.1"/><circle cx="641.1" cy="446.0" r="2.1"/><circle cx="641.8" cy="472.1" r="2.1"/><circle cx="634.9" cy="464.1" r="2.1"/><circle cx="635.6" cy="443.1" r="2.1"/><circle cx="642.2" cy="446.5" r="2.1"/><circle cx="642.0" cy="481.5" r="2.1"/><circle cx="626.5" cy="435.1" r="2.1"/><circle cx="633.8" cy="478.5" r="2.1"/><circle cx="628.9" cy="463.0" r="2.1"/><circle cx="632.0" cy="476.3" r="2.1"/><circle cx="641.1" cy="474.4" r="2.1"/><circle cx="633.1" cy="480.3" r="2.1"/><circle cx="633.7" cy="485.7" r="2.1"/><circle cx="642.1" cy="479.3" r="2.1"/><circle cx="639.5" cy="478.9" r="2.1"/><circle cx="635.7" cy="428.6" r="2.1"/><circle cx="642.1" cy="451.2" r="2.1"/><circle cx="632.8" cy="430.7" r="2.1"/><circle cx="641.7" cy="423.7" r="2.1"/><circle cx="640.7" cy="457.9" r="2.1"/><circle cx="628.9" cy="442.9" r="2.1"/><circle cx="633.3" cy="424.2" r="2.1"/><circle cx="638.4" cy="465.8" r="2.1"/><circle cx="642.0" cy="479.7" r="2.1"/><circle cx="641.2" cy="465.2" r="2.1"/><circle cx="634.8" cy="455.9" r="2.1"/><circle cx="639.3" cy="487.2" r="2.1"/><circle cx="639.5" cy="480.5" r="2.1"/><circle cx="635.5" cy="458.7" r="2.1"/><circle cx="640.0" cy="432.5" r="2.1"/><circle cx="637.9" cy="460.7" r="2.1"/><circle cx="634.7" cy="461.5" r="2.1"/><circle cx="642.0" cy="458.0" r="2.1"/><circle cx="640.5" cy="438.0" r="2.1"/><circle cx="633.8" cy="426.5" r="2.1"/><circle cx="636.4" cy="447.9" r="2.1"/><circle cx="638.8" cy="423.8" r="2.1"/><circle cx="637.0" cy="471.6" r="2.1"/><circle cx="635.1" cy="454.1" r="2.1"/><circle cx="641.6" cy="437.1" r="2.1"/><circle cx="637.5" cy="467.1" r="2.1"/><circle cx="637.9" cy="452.3" r="2.1"/><circle cx="630.6" cy="476.0" r="2.1"/><circle cx="642.1" cy="475.6" r="2.1"/><circle cx="632.6" cy="481.9" r="2.1"/><circle cx="632.3" cy="440.0" r="2.1"/><circle cx="635.3" cy="466.0" r="2.1"/><circle cx="637.2" cy="458.1" r="2.1"/><circle cx="632.7" cy="472.9" r="2.1"/><circle cx="631.3" cy="462.3" r="2.1"/><circle cx="640.1" cy="431.8" r="2.1"/><circle cx="632.7" cy="419.2" r="2.1"/><circle cx="638.5" cy="440.6" r="2.1"/><circle cx="626.8" cy="436.4" r="2.1"/><circle cx="641.2" cy="473.9" r="2.1"/><circle cx="634.7" cy="476.1" r="2.1"/><circle cx="630.5" cy="472.6" r="2.1"/><circle cx="641.1" cy="461.0" r="2.1"/><circle cx="633.1" cy="472.0" r="2.1"/><circle cx="638.8" cy="423.4" r="2.1"/><circle cx="635.3" cy="465.2" r="2.1"/><circle cx="641.1" cy="462.9" r="2.1"/><circle cx="636.0" cy="475.0" r="2.1"/><circle cx="635.5" cy="464.6" r="2.1"/><circle cx="628.5" cy="455.8" r="2.1"/><circle cx="632.7" cy="431.0" r="2.1"/><circle cx="641.3" cy="481.0" r="2.1"/><circle cx="633.5" cy="420.9" r="2.1"/><circle cx="642.0" cy="424.2" r="2.1"/><circle cx="634.3" cy="459.1" r="2.1"/><circle cx="639.9" cy="466.2" r="2.1"/><circle cx="635.8" cy="455.0" r="2.1"/><circle cx="641.9" cy="479.0" r="2.1"/><circle cx="631.8" cy="477.0" r="2.1"/><circle cx="641.4" cy="452.9" r="2.1"/><circle cx="641.8" cy="431.2" r="2.1"/><circle cx="639.1" cy="430.1" r="2.1"/><circle cx="629.7" cy="427.5" r="2.1"/><circle cx="639.3" cy="422.1" r="2.1"/><circle cx="633.7" cy="478.1" r="2.1"/><circle cx="630.9" cy="421.5" r="2.1"/><circle cx="634.6" cy="476.2" r="2.1"/><circle cx="630.9" cy="425.4" r="2.1"/><circle cx="629.0" cy="452.0" r="2.1"/><circle cx="638.7" cy="421.5" r="2.1"/><circle cx="638.4" cy="468.2" r="2.1"/><circle cx="635.1" cy="444.9" r="2.1"/><circle cx="632.7" cy="468.0" r="2.1"/><circle cx="627.0" cy="427.9" r="2.1"/><circle cx="633.1" cy="440.8" r="2.1"/><circle cx="641.7" cy="409.7" r="2.1"/><circle cx="634.5" cy="447.1" r="2.1"/><circle cx="640.7" cy="440.4" r="2.1"/><circle cx="640.0" cy="418.8" r="2.1"/><circle cx="642.2" cy="440.9" r="2.1"/><circle cx="619.2" cy="435.1" r="2.1"/><circle cx="631.9" cy="408.0" r="2.1"/><circle cx="620.5" cy="428.9" r="2.1"/><circle cx="636.0" cy="441.2" r="2.1"/><circle cx="638.3" cy="483.2" r="2.1"/><circle cx="639.3" cy="487.4" r="2.1"/><circle cx="630.3" cy="463.4" r="2.1"/><circle cx="638.9" cy="452.3" r="2.1"/><circle cx="629.0" cy="420.6" r="2.1"/><circle cx="616.6" cy="421.1" r="2.1"/><circle cx="633.7" cy="475.7" r="2.1"/><circle cx="632.6" cy="442.1" r="2.1"/><circle cx="632.5" cy="451.1" r="2.1"/><circle cx="626.9" cy="419.9" r="2.1"/><circle cx="617.5" cy="420.7" r="2.1"/><circle cx="622.7" cy="453.3" r="2.1"/><circle cx="626.1" cy="452.7" r="2.1"/><circle cx="635.1" cy="472.9" r="2.1"/><circle cx="638.1" cy="476.3" r="2.1"/><circle cx="637.0" cy="425.8" r="2.1"/><circle cx="633.4" cy="478.9" r="2.1"/><circle cx="635.3" cy="483.3" r="2.1"/><circle cx="629.0" cy="463.4" r="2.1"/><circle cx="639.5" cy="437.3" r="2.1"/><circle cx="628.6" cy="418.6" r="2.1"/><circle cx="634.9" cy="458.0" r="2.1"/><circle cx="628.2" cy="463.4" r="2.1"/><circle cx="618.3" cy="444.9" r="2.1"/><circle cx="636.5" cy="418.4" r="2.1"/><circle cx="633.5" cy="491.5" r="2.1"/><circle cx="623.2" cy="423.1" r="2.1"/><circle cx="639.1" cy="478.7" r="2.1"/><circle cx="619.4" cy="452.7" r="2.1"/><circle cx="622.3" cy="419.7" r="2.1"/><circle cx="625.5" cy="412.5" r="2.1"/><circle cx="623.2" cy="421.1" r="2.1"/><circle cx="640.5" cy="427.7" r="2.1"/><circle cx="636.5" cy="464.5" r="2.1"/><circle cx="629.7" cy="461.4" r="2.1"/><circle cx="630.4" cy="478.2" r="2.1"/><circle cx="633.6" cy="428.3" r="2.1"/><circle cx="632.6" cy="449.1" r="2.1"/></g><polygon points="681.5,405.0 688.0,405.0 692.0,416.0 695.0,437.0 694.0,459.0 690.0,477.0 685.0,488.0 681.5,493.0" fill="#108a10"/><g fill="rgba(16,138,16,0.76)"><circle cx="682.1" cy="406.7" r="2.1"/><circle cx="686.0" cy="406.8" r="2.1"/><circle cx="687.7" cy="407.6" r="2.1"/><circle cx="689.7" cy="409.2" r="2.1"/><circle cx="689.2" cy="413.5" r="2.1"/><circle cx="691.4" cy="414.3" r="2.1"/><circle cx="690.8" cy="417.3" r="2.1"/><circle cx="692.3" cy="420.8" r="2.1"/><circle cx="692.5" cy="422.1" r="2.1"/><circle cx="693.0" cy="425.0" r="2.1"/><circle cx="693.5" cy="428.8" r="2.1"/><circle cx="694.1" cy="430.5" r="2.1"/><circle cx="694.5" cy="433.7" r="2.1"/><circle cx="693.6" cy="434.7" r="2.1"/><circle cx="693.6" cy="439.4" r="2.1"/><circle cx="693.9" cy="441.8" r="2.1"/><circle cx="694.3" cy="445.2" r="2.1"/><circle cx="693.4" cy="445.3" r="2.1"/><circle cx="694.2" cy="449.4" r="2.1"/><circle cx="693.1" cy="450.9" r="2.1"/><circle cx="694.1" cy="454.2" r="2.1"/><circle cx="691.9" cy="458.8" r="2.1"/><circle cx="694.1" cy="459.4" r="2.1"/><circle cx="692.1" cy="463.3" r="2.1"/><circle cx="692.5" cy="466.1" r="2.1"/><circle cx="690.2" cy="468.7" r="2.1"/><circle cx="691.3" cy="471.6" r="2.1"/><circle cx="689.1" cy="472.8" r="2.1"/><circle cx="689.2" cy="474.2" r="2.1"/><circle cx="688.3" cy="478.0" r="2.1"/><circle cx="687.4" cy="480.9" r="2.1"/><circle cx="685.7" cy="484.3" r="2.1"/><circle cx="684.0" cy="486.3" r="2.1"/><circle cx="683.6" cy="489.2" r="2.1"/><circle cx="679.9" cy="491.5" r="2.1"/><circle cx="681.7" cy="492.4" r="2.1"/><circle cx="682.5" cy="489.5" r="2.1"/><circle cx="683.7" cy="486.3" r="2.1"/><circle cx="682.7" cy="483.1" r="2.1"/><circle cx="682.5" cy="481.8" r="2.1"/><circle cx="682.6" cy="477.3" r="2.1"/><circle cx="682.0" cy="476.9" r="2.1"/><circle cx="682.6" cy="474.2" r="2.1"/><circle cx="683.3" cy="469.2" r="2.1"/><circle cx="683.4" cy="468.9" r="2.1"/><circle cx="683.5" cy="465.6" r="2.1"/><circle cx="683.1" cy="462.7" r="2.1"/><circle cx="681.7" cy="459.6" r="2.1"/><circle cx="683.4" cy="457.0" r="2.1"/><circle cx="682.5" cy="454.5" r="2.1"/><circle cx="683.6" cy="451.8" r="2.1"/><circle cx="682.4" cy="449.8" r="2.1"/><circle cx="683.3" cy="445.6" r="2.1"/><circle cx="682.0" cy="444.0" r="2.1"/><circle cx="681.8" cy="440.0" r="2.1"/><circle cx="683.5" cy="437.2" r="2.1"/><circle cx="681.9" cy="437.0" r="2.1"/><circle cx="681.9" cy="433.8" r="2.1"/><circle cx="683.2" cy="430.0" r="2.1"/><circle cx="681.6" cy="427.7" r="2.1"/><circle cx="682.0" cy="426.2" r="2.1"/><circle cx="681.6" cy="422.8" r="2.1"/><circle cx="682.7" cy="420.6" r="2.1"/><circle cx="682.9" cy="417.2" r="2.1"/><circle cx="681.6" cy="413.5" r="2.1"/><circle cx="681.9" cy="412.7" r="2.1"/><circle cx="683.3" cy="408.2" r="2.1"/><circle cx="681.8" cy="407.2" r="2.1"/></g><g fill="rgba(16,138,16,0.76)"><circle cx="723.9" cy="292.0" r="2.1"/><circle cx="732.8" cy="301.1" r="2.1"/><circle cx="741.6" cy="313.9" r="2.1"/><circle cx="749.9" cy="313.9" r="2.1"/><circle cx="714.3" cy="321.4" r="2.1"/><circle cx="727.1" cy="321.4" r="2.1"/><circle cx="727.5" cy="327.8" r="2.1"/><circle cx="752.7" cy="330.6" r="2.1"/><circle cx="755.2" cy="330.6" r="2.1"/><circle cx="707.9" cy="339.5" r="2.1"/><circle cx="706.8" cy="342.7" r="2.1"/><circle cx="708.9" cy="344.4" r="2.1"/><circle cx="701.9" cy="346.4" r="2.1"/><circle cx="719.6" cy="341.0" r="2.1"/><circle cx="733.0" cy="341.0" r="2.1"/><circle cx="748.0" cy="343.8" r="2.1"/><circle cx="754.2" cy="341.7" r="2.1"/><circle cx="696.1" cy="352.3" r="2.1"/><circle cx="695.1" cy="354.5" r="2.1"/><circle cx="702.5" cy="356.6" r="2.1"/><circle cx="714.3" cy="351.3" r="2.1"/><circle cx="716.0" cy="353.4" r="2.1"/><circle cx="718.5" cy="356.6" r="2.1"/><circle cx="719.2" cy="359.8" r="2.1"/><circle cx="728.8" cy="353.0" r="2.1"/><circle cx="733.5" cy="350.8" r="2.1"/><circle cx="738.8" cy="357.0" r="2.1"/><circle cx="734.5" cy="359.4" r="2.1"/><circle cx="732.4" cy="361.3" r="2.1"/><circle cx="742.0" cy="363.0" r="2.1"/><circle cx="758.0" cy="360.9" r="2.1"/><circle cx="696.1" cy="361.9" r="2.1"/><circle cx="697.2" cy="365.1" r="2.1"/><circle cx="694.0" cy="367.3" r="2.1"/><circle cx="701.5" cy="368.3" r="2.1"/><circle cx="711.1" cy="361.3" r="2.1"/><circle cx="713.2" cy="364.1" r="2.1"/><circle cx="717.9" cy="365.8" r="2.1"/><circle cx="732.4" cy="367.3" r="2.1"/><circle cx="732.4" cy="369.0" r="2.1"/><circle cx="689.7" cy="369.4" r="2.1"/><circle cx="695.1" cy="370.5" r="2.1"/><circle cx="698.3" cy="371.5" r="2.1"/><circle cx="704.7" cy="370.5" r="2.1"/><circle cx="708.9" cy="370.5" r="2.1"/><circle cx="710.0" cy="372.6" r="2.1"/><circle cx="703.6" cy="375.8" r="2.1"/><circle cx="697.2" cy="376.9" r="2.1"/><circle cx="689.7" cy="377.9" r="2.1"/><circle cx="694.0" cy="379.0" r="2.1"/><circle cx="698.3" cy="381.1" r="2.1"/><circle cx="692.9" cy="382.2" r="2.1"/><circle cx="695.1" cy="385.4" r="2.1"/><circle cx="700.4" cy="385.4" r="2.1"/><circle cx="706.8" cy="384.3" r="2.1"/><circle cx="713.2" cy="380.1" r="2.1"/><circle cx="718.5" cy="381.1" r="2.1"/><circle cx="723.9" cy="375.8" r="2.1"/><circle cx="721.7" cy="377.9" r="2.1"/><circle cx="723.9" cy="381.1" r="2.1"/><circle cx="733.5" cy="381.1" r="2.1"/><circle cx="730.3" cy="384.3" r="2.1"/><circle cx="715.3" cy="384.3" r="2.1"/><circle cx="719.6" cy="388.6" r="2.1"/><circle cx="726.0" cy="387.5" r="2.1"/><circle cx="728.1" cy="392.9" r="2.1"/><circle cx="733.5" cy="397.1" r="2.1"/><circle cx="685.5" cy="392.9" r="2.1"/><circle cx="689.7" cy="391.8" r="2.1"/><circle cx="694.0" cy="389.7" r="2.1"/><circle cx="698.3" cy="391.8" r="2.1"/><circle cx="702.5" cy="388.6" r="2.1"/><circle cx="705.7" cy="387.5" r="2.1"/><circle cx="708.9" cy="389.7" r="2.1"/><circle cx="713.2" cy="391.8" r="2.1"/><circle cx="716.4" cy="391.8" r="2.1"/><circle cx="684.4" cy="396.1" r="2.1"/><circle cx="691.9" cy="396.1" r="2.1"/><circle cx="699.3" cy="396.1" r="2.1"/><circle cx="704.7" cy="396.1" r="2.1"/><circle cx="711.1" cy="397.1" r="2.1"/><circle cx="702.2" cy="397.1" r="2.1"/><circle cx="710.7" cy="397.1" r="2.1"/><circle cx="715.0" cy="396.7" r="2.1"/><circle cx="720.3" cy="399.3" r="2.1"/><circle cx="727.8" cy="401.0" r="2.1"/><circle cx="734.2" cy="397.6" r="2.1"/><circle cx="748.1" cy="402.5" r="2.1"/><circle cx="733.1" cy="407.8" r="2.1"/><circle cx="736.3" cy="408.9" r="2.1"/><circle cx="723.1" cy="421.7" r="2.1"/><circle cx="741.0" cy="431.7" r="2.1"/><circle cx="715.6" cy="447.9" r="2.1"/><circle cx="728.2" cy="452.6" r="2.1"/><circle cx="728.2" cy="455.8" r="2.1"/><circle cx="719.3" cy="469.7" r="2.1"/><circle cx="713.9" cy="458.4" r="2.1"/><circle cx="709.7" cy="458.4" r="2.1"/><circle cx="700.1" cy="492.1" r="2.1"/><circle cx="705.4" cy="462.2" r="2.1"/><circle cx="699.0" cy="471.8" r="2.1"/><circle cx="689.4" cy="480.3" r="2.1"/><circle cx="693.7" cy="479.3" r="2.1"/><circle cx="696.9" cy="476.1" r="2.1"/><circle cx="694.5" cy="463.4" r="2.1"/><circle cx="702.8" cy="415.7" r="2.1"/><circle cx="702.7" cy="405.9" r="2.1"/><circle cx="691.8" cy="434.7" r="2.1"/><circle cx="688.0" cy="402.6" r="2.1"/><circle cx="696.0" cy="456.6" r="2.1"/><circle cx="690.6" cy="458.0" r="2.1"/><circle cx="689.4" cy="397.6" r="2.1"/><circle cx="700.8" cy="431.7" r="2.1"/><circle cx="694.0" cy="414.2" r="2.1"/><circle cx="694.3" cy="475.4" r="2.1"/><circle cx="688.1" cy="424.5" r="2.1"/><circle cx="685.6" cy="391.4" r="2.1"/><circle cx="683.0" cy="438.7" r="2.1"/><circle cx="692.8" cy="422.8" r="2.1"/><circle cx="688.2" cy="428.7" r="2.1"/><circle cx="685.5" cy="485.7" r="2.1"/><circle cx="687.2" cy="444.7" r="2.1"/><circle cx="699.8" cy="457.7" r="2.1"/><circle cx="695.0" cy="443.4" r="2.1"/><circle cx="687.2" cy="420.0" r="2.1"/><circle cx="702.6" cy="432.9" r="2.1"/><circle cx="692.6" cy="396.2" r="2.1"/><circle cx="685.1" cy="457.1" r="2.1"/><circle cx="688.0" cy="436.8" r="2.1"/><circle cx="688.3" cy="421.0" r="2.1"/><circle cx="687.0" cy="484.2" r="2.1"/><circle cx="699.3" cy="439.6" r="2.1"/><circle cx="688.0" cy="476.7" r="2.1"/><circle cx="697.5" cy="402.2" r="2.1"/><circle cx="690.7" cy="431.6" r="2.1"/><circle cx="684.2" cy="480.6" r="2.1"/><circle cx="688.5" cy="447.8" r="2.1"/><circle cx="702.1" cy="445.0" r="2.1"/><circle cx="692.2" cy="415.6" r="2.1"/><circle cx="701.3" cy="415.3" r="2.1"/><circle cx="698.5" cy="404.8" r="2.1"/><circle cx="691.4" cy="394.6" r="2.1"/><circle cx="696.7" cy="433.8" r="2.1"/><circle cx="693.8" cy="444.4" r="2.1"/><circle cx="695.2" cy="458.1" r="2.1"/><circle cx="699.7" cy="457.9" r="2.1"/><circle cx="687.7" cy="473.2" r="2.1"/><circle cx="683.0" cy="415.8" r="2.1"/><circle cx="698.7" cy="422.1" r="2.1"/><circle cx="691.1" cy="396.5" r="2.1"/><circle cx="692.3" cy="449.2" r="2.1"/><circle cx="682.9" cy="476.6" r="2.1"/><circle cx="700.1" cy="458.6" r="2.1"/><circle cx="695.0" cy="443.2" r="2.1"/><circle cx="691.9" cy="399.1" r="2.1"/><circle cx="681.6" cy="470.5" r="2.1"/><circle cx="693.1" cy="418.8" r="2.1"/><circle cx="685.4" cy="445.7" r="2.1"/><circle cx="690.2" cy="438.5" r="2.1"/><circle cx="699.0" cy="412.8" r="2.1"/><circle cx="693.1" cy="392.4" r="2.1"/><circle cx="700.4" cy="465.6" r="2.1"/><circle cx="689.9" cy="410.3" r="2.1"/><circle cx="699.6" cy="436.0" r="2.1"/><circle cx="694.4" cy="433.3" r="2.1"/><circle cx="698.0" cy="451.5" r="2.1"/><circle cx="695.1" cy="445.8" r="2.1"/><circle cx="692.1" cy="461.4" r="2.1"/><circle cx="695.3" cy="402.0" r="2.1"/><circle cx="699.5" cy="422.3" r="2.1"/><circle cx="691.2" cy="449.9" r="2.1"/><circle cx="706.3" cy="430.7" r="2.1"/><circle cx="693.0" cy="455.7" r="2.1"/><circle cx="696.6" cy="426.5" r="2.1"/><circle cx="691.9" cy="420.9" r="2.1"/><circle cx="698.4" cy="468.4" r="2.1"/><circle cx="700.2" cy="395.6" r="2.1"/><circle cx="694.8" cy="475.7" r="2.1"/><circle cx="692.5" cy="417.4" r="2.1"/><circle cx="691.7" cy="452.9" r="2.1"/><circle cx="690.1" cy="406.5" r="2.1"/><circle cx="681.8" cy="401.8" r="2.1"/><circle cx="690.9" cy="417.2" r="2.1"/><circle cx="682.7" cy="402.6" r="2.1"/><circle cx="688.7" cy="404.3" r="2.1"/><circle cx="693.0" cy="460.1" r="2.1"/><circle cx="692.7" cy="458.2" r="2.1"/><circle cx="684.9" cy="427.5" r="2.1"/><circle cx="682.5" cy="442.4" r="2.1"/><circle cx="699.6" cy="408.4" r="2.1"/><circle cx="695.2" cy="460.3" r="2.1"/><circle cx="683.6" cy="426.1" r="2.1"/><circle cx="695.6" cy="406.6" r="2.1"/><circle cx="691.0" cy="430.9" r="2.1"/><circle cx="691.7" cy="433.9" r="2.1"/><circle cx="691.7" cy="482.0" r="2.1"/><circle cx="682.6" cy="477.8" r="2.1"/><circle cx="685.4" cy="423.4" r="2.1"/><circle cx="685.2" cy="392.8" r="2.1"/><circle cx="707.8" cy="427.5" r="2.1"/><circle cx="687.8" cy="482.5" r="2.1"/><circle cx="704.5" cy="453.0" r="2.1"/><circle cx="689.9" cy="400.1" r="2.1"/><circle cx="685.1" cy="452.8" r="2.1"/><circle cx="688.8" cy="405.0" r="2.1"/><circle cx="695.5" cy="450.2" r="2.1"/><circle cx="683.0" cy="402.6" r="2.1"/><circle cx="704.5" cy="405.9" r="2.1"/><circle cx="702.4" cy="404.2" r="2.1"/><circle cx="684.3" cy="459.1" r="2.1"/><circle cx="706.0" cy="447.5" r="2.1"/><circle cx="693.1" cy="431.1" r="2.1"/><circle cx="695.1" cy="399.2" r="2.1"/><circle cx="705.4" cy="446.0" r="2.1"/><circle cx="705.1" cy="428.9" r="2.1"/><circle cx="694.1" cy="445.8" r="2.1"/><circle cx="698.8" cy="412.8" r="2.1"/><circle cx="683.0" cy="441.3" r="2.1"/><circle cx="684.5" cy="441.3" r="2.1"/><circle cx="685.4" cy="452.8" r="2.1"/><circle cx="696.8" cy="405.3" r="2.1"/><circle cx="704.4" cy="438.1" r="2.1"/><circle cx="708.1" cy="420.6" r="2.1"/><circle cx="695.7" cy="429.5" r="2.1"/><circle cx="701.6" cy="424.3" r="2.1"/><circle cx="697.9" cy="437.8" r="2.1"/><circle cx="690.6" cy="483.0" r="2.1"/><circle cx="698.5" cy="434.0" r="2.1"/><circle cx="692.4" cy="414.8" r="2.1"/><circle cx="685.1" cy="420.1" r="2.1"/><circle cx="695.6" cy="437.7" r="2.1"/><circle cx="690.8" cy="390.4" r="2.1"/><circle cx="702.7" cy="442.7" r="2.1"/><circle cx="698.5" cy="435.9" r="2.1"/><circle cx="707.3" cy="443.5" r="2.1"/><circle cx="701.0" cy="411.8" r="2.1"/><circle cx="693.1" cy="453.4" r="2.1"/><circle cx="704.9" cy="438.7" r="2.1"/><circle cx="704.1" cy="403.9" r="2.1"/><circle cx="681.9" cy="424.7" r="2.1"/><circle cx="682.9" cy="462.3" r="2.1"/><circle cx="684.2" cy="443.4" r="2.1"/><circle cx="685.0" cy="430.5" r="2.1"/><circle cx="697.1" cy="401.0" r="2.1"/><circle cx="693.5" cy="399.1" r="2.1"/><circle cx="691.7" cy="456.0" r="2.1"/><circle cx="707.6" cy="441.6" r="2.1"/><circle cx="693.0" cy="405.3" r="2.1"/><circle cx="691.1" cy="423.1" r="2.1"/><circle cx="705.0" cy="435.2" r="2.1"/><circle cx="703.6" cy="406.5" r="2.1"/><circle cx="683.5" cy="405.4" r="2.1"/><circle cx="685.9" cy="487.7" r="2.1"/><circle cx="694.9" cy="422.0" r="2.1"/><circle cx="683.4" cy="413.6" r="2.1"/><circle cx="701.5" cy="461.4" r="2.1"/><circle cx="697.4" cy="421.0" r="2.1"/><circle cx="705.0" cy="425.0" r="2.1"/><circle cx="684.9" cy="391.3" r="2.1"/><circle cx="689.1" cy="407.0" r="2.1"/><circle cx="701.7" cy="445.7" r="2.1"/><circle cx="690.4" cy="456.3" r="2.1"/><circle cx="688.6" cy="452.0" r="2.1"/><circle cx="705.1" cy="412.7" r="2.1"/><circle cx="701.9" cy="425.8" r="2.1"/><circle cx="696.1" cy="389.9" r="2.1"/><circle cx="700.7" cy="445.1" r="2.1"/><circle cx="688.9" cy="410.3" r="2.1"/><circle cx="683.7" cy="476.0" r="2.1"/><circle cx="692.9" cy="414.4" r="2.1"/><circle cx="692.2" cy="393.7" r="2.1"/><circle cx="687.0" cy="436.3" r="2.1"/><circle cx="687.4" cy="481.7" r="2.1"/><circle cx="687.5" cy="472.8" r="2.1"/><circle cx="695.3" cy="465.1" r="2.1"/><circle cx="684.9" cy="417.7" r="2.1"/><circle cx="692.0" cy="423.1" r="2.1"/><circle cx="697.1" cy="468.2" r="2.1"/><circle cx="681.5" cy="444.8" r="2.1"/><circle cx="695.2" cy="389.9" r="2.1"/><circle cx="704.3" cy="445.3" r="2.1"/><circle cx="698.7" cy="416.6" r="2.1"/><circle cx="702.3" cy="453.9" r="2.1"/><circle cx="682.5" cy="464.5" r="2.1"/><circle cx="709.2" cy="428.7" r="2.1"/><circle cx="696.3" cy="417.4" r="2.1"/><circle cx="683.6" cy="488.3" r="2.1"/><circle cx="702.4" cy="407.1" r="2.1"/><circle cx="702.8" cy="428.5" r="2.1"/><circle cx="692.4" cy="411.0" r="2.1"/><circle cx="692.9" cy="469.2" r="2.1"/><circle cx="685.6" cy="396.5" r="2.1"/><circle cx="688.9" cy="420.9" r="2.1"/><circle cx="704.5" cy="417.9" r="2.1"/><circle cx="682.9" cy="489.2" r="2.1"/><circle cx="700.0" cy="396.1" r="2.1"/><circle cx="683.8" cy="445.3" r="2.1"/><circle cx="701.3" cy="432.8" r="2.1"/><circle cx="706.5" cy="448.6" r="2.1"/><circle cx="684.8" cy="392.0" r="2.1"/><circle cx="704.9" cy="424.9" r="2.1"/><circle cx="696.0" cy="438.8" r="2.1"/><circle cx="685.0" cy="409.0" r="2.1"/><circle cx="693.8" cy="477.8" r="2.1"/><circle cx="696.3" cy="454.1" r="2.1"/><circle cx="707.4" cy="427.3" r="2.1"/><circle cx="726.1" cy="414.1" r="2.1"/><circle cx="702.3" cy="439.5" r="2.1"/><circle cx="707.0" cy="442.1" r="2.1"/><circle cx="706.7" cy="431.5" r="2.1"/><circle cx="724.8" cy="400.2" r="2.1"/><circle cx="693.6" cy="400.9" r="2.1"/><circle cx="699.0" cy="366.6" r="2.1"/><circle cx="693.9" cy="394.6" r="2.1"/><circle cx="682.5" cy="480.1" r="2.1"/><circle cx="715.6" cy="382.6" r="2.1"/><circle cx="714.1" cy="422.6" r="2.1"/><circle cx="692.6" cy="446.5" r="2.1"/><circle cx="682.2" cy="427.6" r="2.1"/><circle cx="692.4" cy="408.9" r="2.1"/><circle cx="699.8" cy="420.1" r="2.1"/><circle cx="723.1" cy="412.0" r="2.1"/><circle cx="682.4" cy="473.0" r="2.1"/><circle cx="695.2" cy="410.8" r="2.1"/><circle cx="684.2" cy="430.2" r="2.1"/><circle cx="692.2" cy="424.7" r="2.1"/><circle cx="688.9" cy="489.0" r="2.1"/><circle cx="704.6" cy="409.7" r="2.1"/><circle cx="695.7" cy="400.4" r="2.1"/><circle cx="709.6" cy="414.6" r="2.1"/><circle cx="701.1" cy="382.1" r="2.1"/><circle cx="698.5" cy="427.6" r="2.1"/><circle cx="721.8" cy="439.5" r="2.1"/><circle cx="686.0" cy="434.2" r="2.1"/><circle cx="697.3" cy="469.0" r="2.1"/><circle cx="720.4" cy="441.8" r="2.1"/><circle cx="712.1" cy="419.2" r="2.1"/><circle cx="694.5" cy="468.5" r="2.1"/><circle cx="717.4" cy="436.8" r="2.1"/><circle cx="690.9" cy="380.9" r="2.1"/><circle cx="689.8" cy="455.2" r="2.1"/><circle cx="707.5" cy="381.6" r="2.1"/><circle cx="690.9" cy="460.9" r="2.1"/><circle cx="696.3" cy="392.9" r="2.1"/><circle cx="718.9" cy="398.5" r="2.1"/><circle cx="685.5" cy="432.1" r="2.1"/><circle cx="710.7" cy="388.8" r="2.1"/><circle cx="721.9" cy="425.6" r="2.1"/><circle cx="697.3" cy="408.3" r="2.1"/><circle cx="685.1" cy="369.6" r="2.1"/><circle cx="704.9" cy="428.8" r="2.1"/><circle cx="688.9" cy="379.9" r="2.1"/><circle cx="684.1" cy="451.4" r="2.1"/><circle cx="724.8" cy="403.7" r="2.1"/><circle cx="698.7" cy="436.1" r="2.1"/><circle cx="692.3" cy="368.7" r="2.1"/><circle cx="688.4" cy="480.1" r="2.1"/><circle cx="689.4" cy="462.0" r="2.1"/><circle cx="692.0" cy="411.9" r="2.1"/><circle cx="686.8" cy="447.2" r="2.1"/><circle cx="715.3" cy="400.2" r="2.1"/><circle cx="707.1" cy="407.2" r="2.1"/><circle cx="713.4" cy="391.9" r="2.1"/><circle cx="682.0" cy="397.9" r="2.1"/><circle cx="704.1" cy="372.8" r="2.1"/><circle cx="713.9" cy="431.0" r="2.1"/><circle cx="726.5" cy="423.4" r="2.1"/><circle cx="698.8" cy="473.4" r="2.1"/><circle cx="708.8" cy="434.9" r="2.1"/><circle cx="701.7" cy="391.4" r="2.1"/><circle cx="694.0" cy="415.7" r="2.1"/><circle cx="718.7" cy="419.6" r="2.1"/><circle cx="695.9" cy="383.8" r="2.1"/><circle cx="719.6" cy="409.4" r="2.1"/><circle cx="699.6" cy="370.9" r="2.1"/><circle cx="714.6" cy="410.7" r="2.1"/><circle cx="695.8" cy="412.3" r="2.1"/><circle cx="694.0" cy="411.8" r="2.1"/><circle cx="696.4" cy="403.7" r="2.1"/><circle cx="706.1" cy="386.0" r="2.1"/><circle cx="689.0" cy="408.4" r="2.1"/><circle cx="686.4" cy="378.6" r="2.1"/><circle cx="704.2" cy="452.1" r="2.1"/><circle cx="707.1" cy="385.2" r="2.1"/><circle cx="698.0" cy="369.6" r="2.1"/><circle cx="684.0" cy="389.7" r="2.1"/><circle cx="689.6" cy="484.9" r="2.1"/><circle cx="707.5" cy="445.9" r="2.1"/><circle cx="720.6" cy="440.7" r="2.1"/><circle cx="691.2" cy="395.8" r="2.1"/><circle cx="685.6" cy="421.6" r="2.1"/><circle cx="712.3" cy="393.1" r="2.1"/><circle cx="720.2" cy="447.4" r="2.1"/><circle cx="704.2" cy="472.0" r="2.1"/><circle cx="699.7" cy="471.1" r="2.1"/><circle cx="701.2" cy="439.1" r="2.1"/><circle cx="694.9" cy="393.3" r="2.1"/><circle cx="685.0" cy="396.1" r="2.1"/><circle cx="705.6" cy="419.6" r="2.1"/><circle cx="689.9" cy="385.6" r="2.1"/><circle cx="697.6" cy="383.0" r="2.1"/><circle cx="689.3" cy="429.5" r="2.1"/><circle cx="695.5" cy="403.3" r="2.1"/><circle cx="695.3" cy="474.8" r="2.1"/><circle cx="695.9" cy="380.7" r="2.1"/><circle cx="707.8" cy="419.8" r="2.1"/><circle cx="688.9" cy="426.6" r="2.1"/><circle cx="697.3" cy="468.4" r="2.1"/><circle cx="690.3" cy="473.5" r="2.1"/><circle cx="713.5" cy="421.9" r="2.1"/><circle cx="683.5" cy="375.6" r="2.1"/><circle cx="704.4" cy="389.6" r="2.1"/><circle cx="683.9" cy="439.0" r="2.1"/><circle cx="697.9" cy="370.0" r="2.1"/><circle cx="721.6" cy="425.1" r="2.1"/></g><polygon points="643.3,410.0 644.5,406.0 646.5,410.0 648.0,420.4 649.0,430.6 650.5,440.7 651.5,450.9 653.0,461.1 654.8,471.3 656.6,481.5 658.4,491.7 661.5,502.0 663.2,502.0 666.0,491.7 668.0,481.5 670.0,471.3 672.0,461.1 674.0,450.9 676.0,440.7 677.5,430.6 678.0,420.4 678.0,415.0 681.0,413.0 681.0,500.7 673.4,505.0 662.3,507.0 652.0,505.0 643.5,500.7" fill="#6b6b6b"/><g fill="rgba(107,107,107,0.85)"><circle cx="674.5" cy="419.5" r="2.1"/><circle cx="676.6" cy="422.7" r="2.1"/><circle cx="650.3" cy="432.3" r="2.1"/><circle cx="651.3" cy="459.0" r="2.1"/><circle cx="643.5" cy="405.7" r="2.1"/><circle cx="645.5" cy="410.0" r="2.1"/><circle cx="651.0" cy="428.0" r="2.1"/><circle cx="652.5" cy="436.0" r="2.1"/><circle cx="653.5" cy="446.0" r="2.1"/><circle cx="650.0" cy="422.0" r="2.1"/></g><g fill="rgba(107,107,107,0.85)"><circle cx="644.2" cy="408.5" r="2.1"/><circle cx="644.4" cy="407.0" r="2.1"/><circle cx="646.2" cy="412.1" r="2.1"/><circle cx="645.7" cy="413.8" r="2.1"/><circle cx="645.7" cy="416.9" r="2.1"/><circle cx="647.0" cy="419.2" r="2.1"/><circle cx="647.7" cy="422.5" r="2.1"/><circle cx="647.9" cy="426.9" r="2.1"/><circle cx="647.5" cy="428.6" r="2.1"/><circle cx="647.8" cy="431.3" r="2.1"/><circle cx="649.2" cy="436.9" r="2.1"/><circle cx="649.4" cy="440.7" r="2.1"/><circle cx="649.8" cy="443.4" r="2.1"/><circle cx="650.4" cy="445.5" r="2.1"/><circle cx="650.7" cy="447.6" r="2.1"/><circle cx="650.9" cy="454.4" r="2.1"/><circle cx="650.5" cy="456.1" r="2.1"/><circle cx="651.0" cy="460.0" r="2.1"/><circle cx="652.7" cy="462.4" r="2.1"/><circle cx="653.8" cy="467.7" r="2.1"/><circle cx="653.5" cy="470.8" r="2.1"/><circle cx="653.6" cy="475.0" r="2.1"/><circle cx="655.6" cy="477.0" r="2.1"/><circle cx="655.1" cy="478.3" r="2.1"/><circle cx="656.8" cy="484.3" r="2.1"/><circle cx="657.2" cy="486.4" r="2.1"/><circle cx="657.9" cy="489.4" r="2.1"/><circle cx="657.7" cy="492.8" r="2.1"/><circle cx="657.9" cy="495.2" r="2.1"/><circle cx="659.5" cy="497.1" r="2.1"/><circle cx="660.1" cy="500.3" r="2.1"/><circle cx="662.8" cy="502.7" r="2.1"/><circle cx="665.4" cy="500.7" r="2.1"/><circle cx="665.6" cy="499.5" r="2.1"/><circle cx="666.4" cy="495.7" r="2.1"/><circle cx="666.5" cy="492.9" r="2.1"/><circle cx="666.4" cy="491.4" r="2.1"/><circle cx="667.2" cy="487.8" r="2.1"/><circle cx="667.9" cy="484.5" r="2.1"/><circle cx="669.8" cy="479.9" r="2.1"/><circle cx="670.8" cy="475.7" r="2.1"/><circle cx="671.0" cy="474.6" r="2.1"/><circle cx="670.3" cy="470.7" r="2.1"/><circle cx="672.0" cy="467.1" r="2.1"/><circle cx="671.8" cy="464.4" r="2.1"/><circle cx="673.8" cy="460.0" r="2.1"/><circle cx="673.8" cy="456.5" r="2.1"/><circle cx="673.8" cy="453.1" r="2.1"/><circle cx="676.3" cy="448.2" r="2.1"/><circle cx="675.9" cy="445.2" r="2.1"/><circle cx="676.3" cy="442.7" r="2.1"/><circle cx="677.6" cy="438.7" r="2.1"/><circle cx="678.3" cy="436.5" r="2.1"/><circle cx="677.8" cy="431.6" r="2.1"/><circle cx="678.9" cy="427.9" r="2.1"/><circle cx="678.3" cy="426.4" r="2.1"/><circle cx="678.2" cy="421.3" r="2.1"/><circle cx="679.8" cy="419.2" r="2.1"/><circle cx="679.0" cy="417.0" r="2.1"/><circle cx="681.7" cy="414.6" r="2.1"/><circle cx="679.9" cy="415.1" r="2.1"/><circle cx="680.4" cy="418.1" r="2.1"/><circle cx="680.2" cy="420.7" r="2.1"/><circle cx="679.8" cy="422.7" r="2.1"/><circle cx="679.7" cy="424.4" r="2.1"/><circle cx="679.1" cy="427.9" r="2.1"/><circle cx="680.1" cy="430.7" r="2.1"/><circle cx="679.3" cy="432.6" r="2.1"/><circle cx="679.7" cy="435.2" r="2.1"/><circle cx="679.2" cy="438.8" r="2.1"/><circle cx="679.7" cy="440.1" r="2.1"/><circle cx="679.7" cy="442.7" r="2.1"/><circle cx="679.6" cy="446.6" r="2.1"/><circle cx="680.5" cy="449.9" r="2.1"/><circle cx="680.3" cy="452.5" r="2.1"/><circle cx="680.7" cy="453.9" r="2.1"/><circle cx="680.9" cy="456.9" r="2.1"/><circle cx="679.7" cy="459.0" r="2.1"/><circle cx="680.6" cy="462.8" r="2.1"/><circle cx="680.1" cy="465.6" r="2.1"/><circle cx="679.6" cy="466.7" r="2.1"/><circle cx="680.1" cy="470.8" r="2.1"/><circle cx="679.8" cy="472.9" r="2.1"/><circle cx="679.5" cy="475.8" r="2.1"/><circle cx="680.5" cy="478.8" r="2.1"/><circle cx="680.7" cy="479.5" r="2.1"/><circle cx="679.9" cy="482.9" r="2.1"/><circle cx="680.1" cy="487.3" r="2.1"/><circle cx="679.9" cy="488.4" r="2.1"/><circle cx="679.8" cy="492.6" r="2.1"/><circle cx="679.5" cy="493.5" r="2.1"/><circle cx="679.5" cy="498.0" r="2.1"/><circle cx="680.6" cy="499.1" r="2.1"/><circle cx="679.7" cy="501.1" r="2.1"/><circle cx="677.7" cy="501.5" r="2.1"/><circle cx="673.1" cy="503.6" r="2.1"/><circle cx="671.9" cy="503.4" r="2.1"/><circle cx="670.0" cy="505.0" r="2.1"/><circle cx="666.9" cy="505.0" r="2.1"/><circle cx="662.5" cy="506.2" r="2.1"/><circle cx="660.5" cy="504.8" r="2.1"/><circle cx="658.8" cy="504.6" r="2.1"/><circle cx="655.0" cy="504.6" r="2.1"/><circle cx="654.2" cy="505.2" r="2.1"/><circle cx="651.7" cy="503.8" r="2.1"/><circle cx="649.4" cy="502.9" r="2.1"/><circle cx="645.3" cy="500.8" r="2.1"/><circle cx="644.6" cy="498.7" r="2.1"/><circle cx="644.7" cy="496.6" r="2.1"/><circle cx="644.3" cy="493.8" r="2.1"/><circle cx="644.6" cy="492.3" r="2.1"/><circle cx="643.6" cy="489.9" r="2.1"/><circle cx="644.0" cy="486.4" r="2.1"/><circle cx="643.8" cy="482.7" r="2.1"/><circle cx="644.8" cy="480.9" r="2.1"/><circle cx="645.0" cy="478.2" r="2.1"/><circle cx="643.9" cy="476.4" r="2.1"/><circle cx="644.2" cy="473.3" r="2.1"/><circle cx="643.9" cy="469.9" r="2.1"/><circle cx="644.8" cy="467.2" r="2.1"/><circle cx="645.0" cy="464.3" r="2.1"/><circle cx="644.7" cy="463.1" r="2.1"/><circle cx="645.0" cy="458.7" r="2.1"/><circle cx="643.7" cy="457.6" r="2.1"/><circle cx="644.7" cy="453.3" r="2.1"/><circle cx="645.1" cy="452.2" r="2.1"/><circle cx="644.6" cy="448.1" r="2.1"/><circle cx="644.6" cy="445.3" r="2.1"/><circle cx="643.6" cy="443.8" r="2.1"/><circle cx="644.6" cy="441.1" r="2.1"/><circle cx="643.8" cy="438.8" r="2.1"/><circle cx="644.4" cy="436.4" r="2.1"/><circle cx="644.8" cy="431.4" r="2.1"/><circle cx="644.1" cy="431.3" r="2.1"/><circle cx="643.6" cy="426.9" r="2.1"/><circle cx="643.9" cy="423.9" r="2.1"/><circle cx="644.9" cy="422.2" r="2.1"/><circle cx="643.6" cy="418.3" r="2.1"/><circle cx="645.0" cy="415.8" r="2.1"/><circle cx="644.8" cy="413.1" r="2.1"/><circle cx="644.0" cy="411.7" r="2.1"/></g>
<rect x="550.1" y="283.4" width="224.29999999999995" height="224.8" fill="none" stroke="#555555" stroke-width="1.3"/>
<line x1="550.11" y1="508.2" x2="550.11" y2="511.2" stroke="#555555" stroke-width="1"/>
<text x="550.11" y="519.50" font-size="9.5" text-anchor="middle" stroke="#000" stroke-width="0.2">-6</text>
<line x1="587.49" y1="508.2" x2="587.49" y2="511.2" stroke="#555555" stroke-width="1"/>
<text x="587.49" y="519.50" font-size="9.5" text-anchor="middle" stroke="#000" stroke-width="0.2">-4</text>
<line x1="624.87" y1="508.2" x2="624.87" y2="511.2" stroke="#555555" stroke-width="1"/>
<text x="624.87" y="519.50" font-size="9.5" text-anchor="middle" stroke="#000" stroke-width="0.2">-2</text>
<line x1="662.25" y1="508.2" x2="662.25" y2="511.2" stroke="#555555" stroke-width="1"/>
<text x="662.25" y="519.50" font-size="9.5" text-anchor="middle" stroke="#000" stroke-width="0.2">0</text>
<line x1="699.63" y1="508.2" x2="699.63" y2="511.2" stroke="#555555" stroke-width="1"/>
<text x="699.63" y="519.50" font-size="9.5" text-anchor="middle" stroke="#000" stroke-width="0.2">2</text>
<line x1="737.01" y1="508.2" x2="737.01" y2="511.2" stroke="#555555" stroke-width="1"/>
<text x="737.01" y="519.50" font-size="9.5" text-anchor="middle" stroke="#000" stroke-width="0.2">4</text>
<line x1="774.39" y1="508.2" x2="774.39" y2="511.2" stroke="#555555" stroke-width="1"/>
<text x="774.39" y="519.50" font-size="9.5" text-anchor="middle" stroke="#000" stroke-width="0.2">6</text>
<line x1="547.1" y1="507.70" x2="550.1" y2="507.70" stroke="#555555" stroke-width="1"/>
<text x="545.90" y="511.60" font-size="9.5" text-anchor="end" stroke="#000" stroke-width="0.2">0</text>
<line x1="547.1" y1="458.85" x2="550.1" y2="458.85" stroke="#555555" stroke-width="1"/>
<text x="545.90" y="462.75" font-size="9.5" text-anchor="end" stroke="#000" stroke-width="0.2">5</text>
<line x1="547.1" y1="410.00" x2="550.1" y2="410.00" stroke="#555555" stroke-width="1"/>
<text x="545.90" y="413.90" font-size="9.5" text-anchor="end" stroke="#000" stroke-width="0.2">10</text>
<line x1="547.1" y1="361.15" x2="550.1" y2="361.15" stroke="#555555" stroke-width="1"/>
<text x="545.90" y="365.05" font-size="9.5" text-anchor="end" stroke="#000" stroke-width="0.2">15</text>
<line x1="547.1" y1="312.30" x2="550.1" y2="312.30" stroke="#555555" stroke-width="1"/>
<text x="545.90" y="316.20" font-size="9.5" text-anchor="end" stroke="#000" stroke-width="0.2">20</text>
<text x="660.6" y="300" font-size="20" font-weight="bold" text-anchor="middle">E</text>
<text x="662.3" y="533.3" font-size="12.4" text-anchor="middle" stroke="#000" stroke-width="0.25">log<tspan font-size="9.18" dx="1.98" dy="2.11">2</tspan><tspan dx="0.62" dy="-2.11">(Fold Change)</tspan></text>
<text transform="translate(531.6,395.9) rotate(-90)" font-size="13.6" text-anchor="middle" stroke="#000" stroke-width="0.25">-log<tspan font-size="10.88" dy="2.72">10</tspan><tspan dx="0.27" dy="-2.72">(P value)</tspan></text>
</svg></body></html>
